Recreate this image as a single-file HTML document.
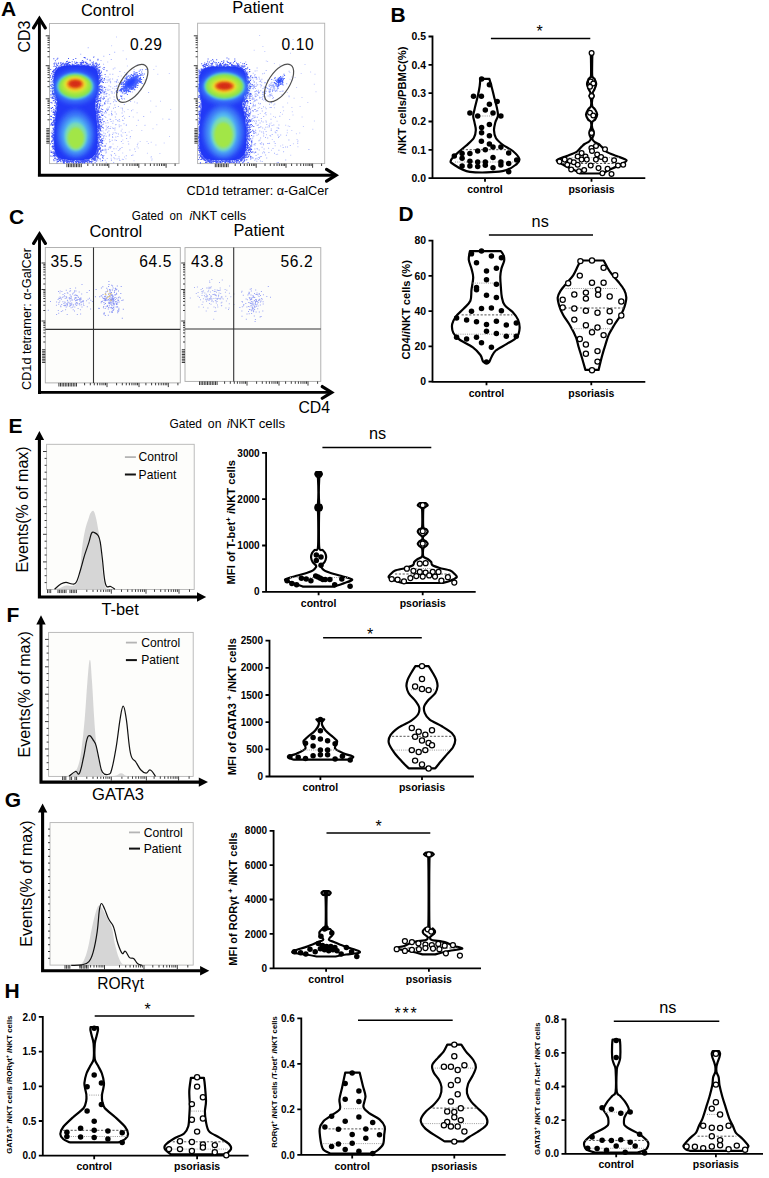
<!DOCTYPE html><html><head><meta charset="utf-8"><style>
html,body{margin:0;padding:0;background:#fff;}
svg{display:block;}
text{font-family:"Liberation Sans", sans-serif;}
</style></head><body>
<svg width="769" height="1178" viewBox="0 0 769 1178">
<rect width="769" height="1178" fill="#fff"/>
<defs><filter id="ba1" x="-30%" y="-30%" width="160%" height="160%"><feGaussianBlur stdDeviation="1.3"/></filter><filter id="ca1" x="-30%" y="-30%" width="160%" height="160%"><feGaussianBlur stdDeviation="2.6"/></filter><filter id="ba2" x="-30%" y="-30%" width="160%" height="160%"><feGaussianBlur stdDeviation="1.3"/></filter><filter id="ca2" x="-30%" y="-30%" width="160%" height="160%"><feGaussianBlur stdDeviation="2.6"/></filter></defs>
<text x="0.9" y="16.4" font-size="21" font-weight="bold" fill="#000">A</text>
<text x="107.5" y="15.6" font-size="16.5" text-anchor="middle" fill="#000">Control</text>
<text x="257.9" y="12.8" font-size="16.5" text-anchor="middle" fill="#000">Patient</text>
<text x="30.3" y="36.5" font-size="16" text-anchor="middle" transform="rotate(-90 30.3 36.5)" fill="#000">CD3</text>
<rect x="49.5" y="23.5" width="129.5" height="140.1" fill="#fff" stroke="#b0b0b0" stroke-width="0.9"/>
<path d="M66.9,163.6 v3.6 M68.5,163.6 v3.6 M70.1,163.6 v3.6 M71.7,163.6 v3.6 M73.3,163.6 v3.6 M74.9,163.6 v3.6 M76.5,163.6 v3.6 M78.1,163.6 v3.6 M79.7,163.6 v3.6 M81.3,163.6 v3.6 M108.8,163.6 v4.2 M87.8,163.6 v2.4 M93.1,163.6 v2.4 M96.9,163.6 v2.4 M99.8,163.6 v2.4 M102.1,163.6 v2.4 M104.2,163.6 v2.4 M105.9,163.6 v2.4 M107.4,163.6 v2.4 M138.8,163.6 v4.2 M117.8,163.6 v2.4 M123.1,163.6 v2.4 M126.9,163.6 v2.4 M129.8,163.6 v2.4 M132.1,163.6 v2.4 M134.2,163.6 v2.4 M135.9,163.6 v2.4 M137.4,163.6 v2.4 M166.1,163.6 v4.2 M145.1,163.6 v2.4 M150.4,163.6 v2.4 M154.2,163.6 v2.4 M157.1,163.6 v2.4 M159.4,163.6 v2.4 M161.5,163.6 v2.4 M163.2,163.6 v2.4 M164.7,163.6 v2.4 M175.1,163.6 v2.4 M49.5,128.7 h-3.2 M49.5,130.3 h-3.2 M49.5,131.9 h-3.2 M49.5,133.5 h-3.2 M49.5,135.1 h-3.2 M49.5,136.7 h-3.2 M49.5,138.3 h-3.2 M49.5,139.9 h-3.2 M49.5,141.5 h-3.2 M49.5,143.1 h-3.2 M49.5,35.8 h-3.8 M49.5,56.8 h-2 M49.5,51.5 h-2 M49.5,47.7 h-2 M49.5,44.8 h-2 M49.5,42.5 h-2 M49.5,40.4 h-2 M49.5,38.7 h-2 M49.5,37.2 h-2 M49.5,65.7 h-3.8 M49.5,86.7 h-2 M49.5,81.4 h-2 M49.5,77.6 h-2 M49.5,74.7 h-2 M49.5,72.4 h-2 M49.5,70.3 h-2 M49.5,68.6 h-2 M49.5,67.1 h-2 M49.5,98.8 h-3.8 M49.5,119.8 h-2 M49.5,114.5 h-2 M49.5,110.7 h-2 M49.5,107.8 h-2 M49.5,105.5 h-2 M49.5,103.4 h-2 M49.5,101.7 h-2 M49.5,100.2 h-2 " stroke="#1a1a1a" stroke-width="0.85" fill="none"/>
<path d="M122.1,119.7h1.0v1.0h-1.0zM92.3,142.4h1.0v1.0h-1.0zM77.5,131.9h1.0v1.0h-1.0zM91.7,86.2h1.0v1.0h-1.0zM110,147.4h1.0v1.0h-1.0zM80.4,127.3h1.0v1.0h-1.0zM100.8,125h1.0v1.0h-1.0zM87.3,94h1.0v1.0h-1.0zM101.7,135h1.0v1.0h-1.0zM96.6,92.1h1.0v1.0h-1.0zM121.4,135.8h1.0v1.0h-1.0zM90.9,94.1h1.0v1.0h-1.0zM84.4,72.3h1.0v1.0h-1.0zM110.6,121h1.0v1.0h-1.0zM78.3,159.7h1.0v1.0h-1.0zM62,145.7h1.0v1.0h-1.0zM54.5,114.6h1.0v1.0h-1.0zM123.5,123.2h1.0v1.0h-1.0zM106.8,127.1h1.0v1.0h-1.0zM101.9,112.2h1.0v1.0h-1.0zM60.9,84.9h1.0v1.0h-1.0zM96.5,118.2h1.0v1.0h-1.0zM126.1,138h1.0v1.0h-1.0zM93.5,138.4h1.0v1.0h-1.0zM89.3,123.8h1.0v1.0h-1.0zM65.9,144.8h1.0v1.0h-1.0zM85.1,82.2h1.0v1.0h-1.0zM84.8,108.7h1.0v1.0h-1.0zM70.2,104.5h1.0v1.0h-1.0zM86.3,101.1h1.0v1.0h-1.0zM118.7,124.5h1.0v1.0h-1.0zM118.8,126.3h1.0v1.0h-1.0zM97.7,150.9h1.0v1.0h-1.0zM88.2,85.6h1.0v1.0h-1.0zM103.5,155.1h1.0v1.0h-1.0zM99.2,107.8h1.0v1.0h-1.0zM88.2,116.4h1.0v1.0h-1.0zM119.2,149.2h1.0v1.0h-1.0zM101.6,149.4h1.0v1.0h-1.0zM91.5,129.8h1.0v1.0h-1.0zM79.6,130.3h1.0v1.0h-1.0zM132.4,154.4h1.0v1.0h-1.0zM85.5,119.5h1.0v1.0h-1.0zM76.1,141.5h1.0v1.0h-1.0zM98.7,94.3h1.0v1.0h-1.0zM100.5,117h1.0v1.0h-1.0zM117.4,135.9h1.0v1.0h-1.0zM122.6,119.9h1.0v1.0h-1.0zM86.5,139.6h1.0v1.0h-1.0zM110.7,146.5h1.0v1.0h-1.0zM69.5,136.6h1.0v1.0h-1.0zM92.1,120.6h1.0v1.0h-1.0zM84.7,109.8h1.0v1.0h-1.0zM103.2,135.2h1.0v1.0h-1.0zM90.3,152.1h1.0v1.0h-1.0zM100.5,141.2h1.0v1.0h-1.0zM109.1,139.2h1.0v1.0h-1.0zM80.6,122.4h1.0v1.0h-1.0zM82.3,137.3h1.0v1.0h-1.0zM72.3,84.2h1.0v1.0h-1.0zM93.3,97.1h1.0v1.0h-1.0zM56.6,141.5h1.0v1.0h-1.0zM78.9,144.7h1.0v1.0h-1.0zM82.1,102.6h1.0v1.0h-1.0zM69.3,118.4h1.0v1.0h-1.0zM86.8,110.4h1.0v1.0h-1.0zM86.6,91.9h1.0v1.0h-1.0zM92,85.2h1.0v1.0h-1.0zM88.2,149.9h1.0v1.0h-1.0zM63.7,151.5h1.0v1.0h-1.0zM113.4,157.3h1.0v1.0h-1.0zM75,142.5h1.0v1.0h-1.0zM125.2,92.9h1.0v1.0h-1.0zM100.3,160.7h1.0v1.0h-1.0zM79.2,147h1.0v1.0h-1.0zM72.4,110.7h1.0v1.0h-1.0zM77,136.8h1.0v1.0h-1.0zM90.1,156.6h1.0v1.0h-1.0zM74.8,128.4h1.0v1.0h-1.0zM109,146.4h1.0v1.0h-1.0zM67.9,149.1h1.0v1.0h-1.0zM83.1,141.8h1.0v1.0h-1.0zM93.8,83.6h1.0v1.0h-1.0zM67,150.8h1.0v1.0h-1.0zM87.1,161.4h1.0v1.0h-1.0zM96.6,112.3h1.0v1.0h-1.0zM111.2,110.8h1.0v1.0h-1.0zM57.3,148.3h1.0v1.0h-1.0zM108.6,135.6h1.0v1.0h-1.0zM61.4,158.2h1.0v1.0h-1.0zM65.8,96.9h1.0v1.0h-1.0zM85.2,152.3h1.0v1.0h-1.0zM97.1,152.9h1.0v1.0h-1.0zM83.7,127.3h1.0v1.0h-1.0zM71.2,123.6h1.0v1.0h-1.0zM102.4,124h1.0v1.0h-1.0zM100.3,116.9h1.0v1.0h-1.0zM81,132.8h1.0v1.0h-1.0zM88.2,147.2h1.0v1.0h-1.0zM87.7,125.9h1.0v1.0h-1.0zM73,132.4h1.0v1.0h-1.0zM104,112.6h1.0v1.0h-1.0zM90.8,150.5h1.0v1.0h-1.0zM89.4,118.3h1.0v1.0h-1.0zM109.2,134.3h1.0v1.0h-1.0zM112.3,122.8h1.0v1.0h-1.0zM82.2,139.2h1.0v1.0h-1.0zM89.3,82.4h1.0v1.0h-1.0zM114.7,132.3h1.0v1.0h-1.0zM105,101.3h1.0v1.0h-1.0zM114.9,116.5h1.0v1.0h-1.0zM89.8,95.4h1.0v1.0h-1.0zM88.7,125.8h1.0v1.0h-1.0zM88.4,143.2h1.0v1.0h-1.0zM92.8,157.2h1.0v1.0h-1.0zM83.3,105.9h1.0v1.0h-1.0zM91.4,148.1h1.0v1.0h-1.0zM114.1,153h1.0v1.0h-1.0zM59.9,141.6h1.0v1.0h-1.0zM118,133.4h1.0v1.0h-1.0zM82.4,139.8h1.0v1.0h-1.0zM82.6,148.4h1.0v1.0h-1.0zM100.7,113h1.0v1.0h-1.0zM102.6,156.1h1.0v1.0h-1.0zM81.5,120.7h1.0v1.0h-1.0zM81.1,76.6h1.0v1.0h-1.0zM59.9,126h1.0v1.0h-1.0zM105.4,129.5h1.0v1.0h-1.0zM100.2,103.2h1.0v1.0h-1.0zM67.6,154.8h1.0v1.0h-1.0zM100.6,131h1.0v1.0h-1.0zM114.8,107.1h1.0v1.0h-1.0zM84.1,158.5h1.0v1.0h-1.0zM124.8,132h1.0v1.0h-1.0zM121.9,116.1h1.0v1.0h-1.0zM97.6,127.3h1.0v1.0h-1.0zM63.1,138.5h1.0v1.0h-1.0zM108.5,127.9h1.0v1.0h-1.0zM69.2,92.9h1.0v1.0h-1.0zM79.9,100.7h1.0v1.0h-1.0zM115.9,139.9h1.0v1.0h-1.0zM76.1,115.8h1.0v1.0h-1.0zM143.2,115.9h1.0v1.0h-1.0zM78,139.7h1.0v1.0h-1.0zM103.2,137.6h1.0v1.0h-1.0zM75.3,101.7h1.0v1.0h-1.0zM102.4,130.4h1.0v1.0h-1.0zM105.7,125.5h1.0v1.0h-1.0zM87,137.8h1.0v1.0h-1.0zM79.3,96.7h1.0v1.0h-1.0zM97.5,94.4h1.0v1.0h-1.0zM98.7,94.3h1.0v1.0h-1.0zM89.9,128.3h1.0v1.0h-1.0zM123.8,104.1h1.0v1.0h-1.0zM66.2,115h1.0v1.0h-1.0zM71.5,116.5h1.0v1.0h-1.0zM99.3,151.9h1.0v1.0h-1.0zM121.6,112.6h1.0v1.0h-1.0zM88,72.2h1.0v1.0h-1.0zM90.2,133.7h1.0v1.0h-1.0zM88.1,111.4h1.0v1.0h-1.0zM103,157.9h1.0v1.0h-1.0zM82.9,137.8h1.0v1.0h-1.0zM79.9,111.3h1.0v1.0h-1.0zM93.1,145.4h1.0v1.0h-1.0zM81.6,74.2h1.0v1.0h-1.0zM102.2,90.3h1.0v1.0h-1.0zM91.4,100.9h1.0v1.0h-1.0zM91.4,145.8h1.0v1.0h-1.0zM108.4,130.5h1.0v1.0h-1.0zM86.1,107.2h1.0v1.0h-1.0zM90.4,127.2h1.0v1.0h-1.0zM99,128.5h1.0v1.0h-1.0zM94.6,152.3h1.0v1.0h-1.0zM75.8,124.3h1.0v1.0h-1.0zM62.8,157.1h1.0v1.0h-1.0zM92.4,144.5h1.0v1.0h-1.0zM119.5,159.9h1.0v1.0h-1.0zM90.6,152.3h1.0v1.0h-1.0zM65.9,143.1h1.0v1.0h-1.0zM94.2,89.7h1.0v1.0h-1.0zM115.8,113.5h1.0v1.0h-1.0zM104,120.9h1.0v1.0h-1.0zM76.8,92h1.0v1.0h-1.0zM89.3,153.9h1.0v1.0h-1.0zM85,115.8h1.0v1.0h-1.0zM100.5,60h1.0v1.0h-1.0zM79.7,95.8h1.0v1.0h-1.0zM97,112.7h1.0v1.0h-1.0zM71.6,122.6h1.0v1.0h-1.0zM65.3,131.5h1.0v1.0h-1.0zM79.4,122h1.0v1.0h-1.0zM78.8,155.5h1.0v1.0h-1.0zM89.7,145.4h1.0v1.0h-1.0zM100.3,110.8h1.0v1.0h-1.0zM102,140.9h1.0v1.0h-1.0zM97.3,121.4h1.0v1.0h-1.0zM84,152.2h1.0v1.0h-1.0zM131,110.2h1.0v1.0h-1.0zM101.3,122.3h1.0v1.0h-1.0zM105.8,143.2h1.0v1.0h-1.0zM110.8,59.1h1.0v1.0h-1.0zM80.9,106.1h1.0v1.0h-1.0zM89.8,113h1.0v1.0h-1.0zM80.2,149.5h1.0v1.0h-1.0zM125.9,58.4h1.0v1.0h-1.0zM86.1,139.9h1.0v1.0h-1.0zM91.8,122.8h1.0v1.0h-1.0zM67.3,107.3h1.0v1.0h-1.0zM104.7,159.8h1.0v1.0h-1.0zM93.4,110.1h1.0v1.0h-1.0zM93.4,125.6h1.0v1.0h-1.0zM101.5,134.9h1.0v1.0h-1.0zM80.5,136.8h1.0v1.0h-1.0zM70.5,153.1h1.0v1.0h-1.0zM113,101.2h1.0v1.0h-1.0zM99.3,106h1.0v1.0h-1.0zM111,155.3h1.0v1.0h-1.0zM87.6,157.7h1.0v1.0h-1.0zM83.9,115.1h1.0v1.0h-1.0zM81.5,128.1h1.0v1.0h-1.0zM85.9,135.8h1.0v1.0h-1.0zM80.6,151.7h1.0v1.0h-1.0zM110.1,118.9h1.0v1.0h-1.0zM66,150.6h1.0v1.0h-1.0zM112.2,127.6h1.0v1.0h-1.0zM68.5,138.7h1.0v1.0h-1.0zM119.1,83h1.0v1.0h-1.0zM100.3,123.6h1.0v1.0h-1.0zM76.3,144.8h1.0v1.0h-1.0zM68.3,139.5h1.0v1.0h-1.0zM115.3,136.4h1.0v1.0h-1.0zM75.9,85.5h1.0v1.0h-1.0zM68.6,83.9h1.0v1.0h-1.0zM120.5,125.3h1.0v1.0h-1.0zM72.9,98h1.0v1.0h-1.0zM72.5,123.1h1.0v1.0h-1.0zM78.2,111.5h1.0v1.0h-1.0zM115.5,119.1h1.0v1.0h-1.0zM96.3,135.7h1.0v1.0h-1.0zM101.2,138.4h1.0v1.0h-1.0zM74.7,99h1.0v1.0h-1.0zM94.9,101h1.0v1.0h-1.0zM116.2,132.8h1.0v1.0h-1.0zM73.2,123.4h1.0v1.0h-1.0zM82.6,128.4h1.0v1.0h-1.0zM108.7,94.2h1.0v1.0h-1.0zM58.1,140.6h1.0v1.0h-1.0zM88.5,136h1.0v1.0h-1.0zM99.7,127.1h1.0v1.0h-1.0zM106.1,108.6h1.0v1.0h-1.0zM92.9,110.2h1.0v1.0h-1.0zM71.4,147.8h1.0v1.0h-1.0zM101.9,81.3h1.0v1.0h-1.0zM71.5,139.4h1.0v1.0h-1.0zM111,114.5h1.0v1.0h-1.0zM88.4,95.1h1.0v1.0h-1.0zM136.9,144.2h1.0v1.0h-1.0zM107.8,148.9h1.0v1.0h-1.0zM108.5,147.6h1.0v1.0h-1.0zM85.7,151.1h1.0v1.0h-1.0zM78.5,117.7h1.0v1.0h-1.0zM94.3,113.3h1.0v1.0h-1.0zM89.6,118.8h1.0v1.0h-1.0zM125.8,155.2h1.0v1.0h-1.0zM114.5,139.6h1.0v1.0h-1.0zM121.5,146.9h1.0v1.0h-1.0zM91.3,159.9h1.0v1.0h-1.0zM85,151.7h1.0v1.0h-1.0zM78.9,106.6h1.0v1.0h-1.0zM101.9,140.6h1.0v1.0h-1.0zM126,124.5h1.0v1.0h-1.0zM92.1,102.2h1.0v1.0h-1.0zM58.1,85.5h1.0v1.0h-1.0zM100,101.2h1.0v1.0h-1.0zM95.8,161h1.0v1.0h-1.0zM87.6,156.7h1.0v1.0h-1.0zM74.7,148h1.0v1.0h-1.0zM83.4,128.4h1.0v1.0h-1.0zM103.1,136.3h1.0v1.0h-1.0zM90.4,150.7h1.0v1.0h-1.0zM106.2,95.8h1.0v1.0h-1.0zM101.8,149.2h1.0v1.0h-1.0zM78.2,141.8h1.0v1.0h-1.0zM87.4,129.8h1.0v1.0h-1.0zM113.3,128.1h1.0v1.0h-1.0zM102.5,104.6h1.0v1.0h-1.0zM81.4,95.6h1.0v1.0h-1.0zM88,158.6h1.0v1.0h-1.0zM95.7,154.8h1.0v1.0h-1.0zM73.2,108.8h1.0v1.0h-1.0zM83.3,146.7h1.0v1.0h-1.0zM98.1,131.4h1.0v1.0h-1.0zM102.9,127.9h1.0v1.0h-1.0zM81.1,136.5h1.0v1.0h-1.0zM120.7,134.4h1.0v1.0h-1.0zM104.4,116h1.0v1.0h-1.0zM126.9,73.3h1.0v1.0h-1.0zM71.3,104.4h1.0v1.0h-1.0zM120.9,141h1.0v1.0h-1.0zM87,98.5h1.0v1.0h-1.0zM98.3,134.8h1.0v1.0h-1.0zM79.2,93h1.0v1.0h-1.0zM71.9,137.3h1.0v1.0h-1.0zM97.3,133.7h1.0v1.0h-1.0zM89,85.8h1.0v1.0h-1.0zM92.6,105h1.0v1.0h-1.0zM92.5,143.9h1.0v1.0h-1.0zM79.5,105.2h1.0v1.0h-1.0zM109.6,140.9h1.0v1.0h-1.0zM80.2,53.8h1.0v1.0h-1.0zM90.8,148.2h1.0v1.0h-1.0zM111.9,114.2h1.0v1.0h-1.0zM80.1,120.3h1.0v1.0h-1.0zM106.8,101.3h1.0v1.0h-1.0zM89.7,107.7h1.0v1.0h-1.0zM96.5,91.4h1.0v1.0h-1.0zM98.5,118.9h1.0v1.0h-1.0zM87.7,145.5h1.0v1.0h-1.0zM112.3,87.7h1.0v1.0h-1.0zM109.8,146.3h1.0v1.0h-1.0zM81,109.3h1.0v1.0h-1.0zM103.1,155h1.0v1.0h-1.0zM83.2,97.3h1.0v1.0h-1.0zM58.2,118.9h1.0v1.0h-1.0zM57.2,134.6h1.0v1.0h-1.0zM107.4,99.5h1.0v1.0h-1.0zM90.1,99.6h1.0v1.0h-1.0zM68,79.4h1.0v1.0h-1.0zM105.6,112.4h1.0v1.0h-1.0zM110.6,154.3h1.0v1.0h-1.0zM79.8,118.1h1.0v1.0h-1.0zM105.7,135.7h1.0v1.0h-1.0zM96.5,89h1.0v1.0h-1.0zM107.9,109h1.0v1.0h-1.0zM50.8,115.8h1.0v1.0h-1.0zM85,97.2h1.0v1.0h-1.0zM129.9,136h1.0v1.0h-1.0zM87,103.8h1.0v1.0h-1.0zM86.8,117.8h1.0v1.0h-1.0zM81.1,148.1h1.0v1.0h-1.0zM96.5,138h1.0v1.0h-1.0zM75.9,148.9h1.0v1.0h-1.0zM120.7,130.4h1.0v1.0h-1.0zM75.1,98.2h1.0v1.0h-1.0zM95.1,124.7h1.0v1.0h-1.0zM89.8,132.1h1.0v1.0h-1.0zM65.1,152.1h1.0v1.0h-1.0zM95.9,129.9h1.0v1.0h-1.0zM95.9,155.9h1.0v1.0h-1.0zM92.7,109.7h1.0v1.0h-1.0zM112.7,120.5h1.0v1.0h-1.0zM78.6,91.2h1.0v1.0h-1.0zM91.8,104.6h1.0v1.0h-1.0zM82.4,143.5h1.0v1.0h-1.0zM92.3,158.2h1.0v1.0h-1.0zM97.2,121.3h1.0v1.0h-1.0zM85.8,118.6h1.0v1.0h-1.0zM103.3,132.4h1.0v1.0h-1.0zM84.3,153.8h1.0v1.0h-1.0zM93.4,119.7h1.0v1.0h-1.0zM64.5,143.2h1.0v1.0h-1.0zM96,133.1h1.0v1.0h-1.0zM83.9,110.1h1.0v1.0h-1.0zM87.6,137.8h1.0v1.0h-1.0zM89.4,128h1.0v1.0h-1.0zM83.3,140.6h1.0v1.0h-1.0zM95.9,112.2h1.0v1.0h-1.0zM105.4,152.4h1.0v1.0h-1.0zM106.3,128.4h1.0v1.0h-1.0zM88.2,101.7h1.0v1.0h-1.0zM105.3,76.3h1.0v1.0h-1.0zM84.7,123h1.0v1.0h-1.0zM107.1,131.8h1.0v1.0h-1.0zM74.3,94.7h1.0v1.0h-1.0zM78.6,134.6h1.0v1.0h-1.0zM92.7,126.7h1.0v1.0h-1.0zM79.4,126.3h1.0v1.0h-1.0zM109.7,103.2h1.0v1.0h-1.0zM101.7,119.9h1.0v1.0h-1.0zM103.6,112.2h1.0v1.0h-1.0zM125.8,87.4h1.0v1.0h-1.0zM81.9,138.5h1.0v1.0h-1.0zM118.8,119h1.0v1.0h-1.0zM99.8,130.3h1.0v1.0h-1.0zM57,140.8h1.0v1.0h-1.0zM88.4,155.9h1.0v1.0h-1.0zM129.4,149.6h1.0v1.0h-1.0zM85.1,143.5h1.0v1.0h-1.0zM95.3,158.4h1.0v1.0h-1.0zM65.8,101.5h1.0v1.0h-1.0zM54.9,147.6h1.0v1.0h-1.0zM91.4,115.2h1.0v1.0h-1.0zM78.6,116.9h1.0v1.0h-1.0zM75,123.4h1.0v1.0h-1.0zM97.5,110.5h1.0v1.0h-1.0zM99.8,139.5h1.0v1.0h-1.0zM69.8,112.4h1.0v1.0h-1.0zM60.4,144.7h1.0v1.0h-1.0zM84.9,114.3h1.0v1.0h-1.0zM78,149.8h1.0v1.0h-1.0zM89.1,118h1.0v1.0h-1.0zM114.3,104.6h1.0v1.0h-1.0zM85.1,117.7h1.0v1.0h-1.0zM78.6,128.2h1.0v1.0h-1.0zM105.8,151.4h1.0v1.0h-1.0zM101.5,124.6h1.0v1.0h-1.0zM64.9,139.2h1.0v1.0h-1.0zM119,159.6h1.0v1.0h-1.0zM88.7,152.7h1.0v1.0h-1.0zM84.8,130.4h1.0v1.0h-1.0zM69.5,123.6h1.0v1.0h-1.0zM94.2,127.4h1.0v1.0h-1.0zM115.5,123.9h1.0v1.0h-1.0zM78.5,114.8h1.0v1.0h-1.0zM74.1,132.7h1.0v1.0h-1.0zM99.3,136.6h1.0v1.0h-1.0zM95.2,135.9h1.0v1.0h-1.0zM89.3,112.5h1.0v1.0h-1.0zM122.7,159h1.0v1.0h-1.0zM75.4,108.3h1.0v1.0h-1.0zM81.1,132.7h1.0v1.0h-1.0zM114.4,158.2h1.0v1.0h-1.0zM110.9,160.1h1.0v1.0h-1.0zM111.6,151h1.0v1.0h-1.0zM99.9,128.7h1.0v1.0h-1.0zM60.3,128.4h1.0v1.0h-1.0zM124.1,117.8h1.0v1.0h-1.0zM80.4,158.3h1.0v1.0h-1.0zM93.2,119.3h1.0v1.0h-1.0zM119.7,148h1.0v1.0h-1.0zM105.3,117.1h1.0v1.0h-1.0zM100.6,141.6h1.0v1.0h-1.0zM105.7,161.7h1.0v1.0h-1.0zM112,136.2h1.0v1.0h-1.0zM104.1,102h1.0v1.0h-1.0zM103.3,149.6h1.0v1.0h-1.0zM84.7,111.7h1.0v1.0h-1.0zM90.6,100.3h1.0v1.0h-1.0zM97.8,139.5h1.0v1.0h-1.0zM74.6,133h1.0v1.0h-1.0zM110.9,159.4h1.0v1.0h-1.0zM109.9,127.9h1.0v1.0h-1.0zM85.6,121.6h1.0v1.0h-1.0zM116,89.9h1.0v1.0h-1.0zM88.1,120.6h1.0v1.0h-1.0zM79.7,132.8h1.0v1.0h-1.0zM101.7,119.1h1.0v1.0h-1.0zM80.4,114.2h1.0v1.0h-1.0zM107.6,108.2h1.0v1.0h-1.0zM112.1,134.1h1.0v1.0h-1.0zM79.7,110.6h1.0v1.0h-1.0zM99.4,105h1.0v1.0h-1.0zM78.6,128.8h1.0v1.0h-1.0zM94.5,99.5h1.0v1.0h-1.0zM84.8,146.9h1.0v1.0h-1.0zM115.9,80.9h1.0v1.0h-1.0zM115.2,154.7h1.0v1.0h-1.0zM72.2,93.7h1.0v1.0h-1.0zM99.2,120.9h1.0v1.0h-1.0zM94.1,154.1h1.0v1.0h-1.0zM85,136h1.0v1.0h-1.0zM100.2,154.8h1.0v1.0h-1.0zM96,125.7h1.0v1.0h-1.0zM134.2,148.4h1.0v1.0h-1.0zM99.4,103.3h1.0v1.0h-1.0zM105.7,111.7h1.0v1.0h-1.0zM83.5,97.3h1.0v1.0h-1.0zM82.4,133.4h1.0v1.0h-1.0zM64.8,108.7h1.0v1.0h-1.0zM90.3,99.1h1.0v1.0h-1.0zM69.3,110.3h1.0v1.0h-1.0zM66.5,147.7h1.0v1.0h-1.0zM73.9,151.7h1.0v1.0h-1.0zM108.3,100.8h1.0v1.0h-1.0zM92.4,119.4h1.0v1.0h-1.0zM71.3,123.1h1.0v1.0h-1.0zM87.4,150.2h1.0v1.0h-1.0zM110.1,103.3h1.0v1.0h-1.0zM84.4,145.5h1.0v1.0h-1.0zM112.8,68.5h1.0v1.0h-1.0zM114.6,127.4h1.0v1.0h-1.0zM119.2,120.8h1.0v1.0h-1.0zM76.8,133h1.0v1.0h-1.0zM112.7,132.6h1.0v1.0h-1.0zM62.8,106.4h1.0v1.0h-1.0zM70.8,84.1h1.0v1.0h-1.0zM69.2,106.2h1.0v1.0h-1.0zM80.7,130.4h1.0v1.0h-1.0zM85.7,93.3h1.0v1.0h-1.0zM88.4,157.1h1.0v1.0h-1.0zM108.8,135.3h1.0v1.0h-1.0zM102.8,155h1.0v1.0h-1.0zM85.9,124.7h1.0v1.0h-1.0zM119.4,70.9h1.0v1.0h-1.0zM87.7,47.2h1.0v1.0h-1.0zM104.8,133.2h1.0v1.0h-1.0zM92.6,128.2h1.0v1.0h-1.0zM115.2,124.2h1.0v1.0h-1.0zM110.3,146.2h1.0v1.0h-1.0zM98.1,143.8h1.0v1.0h-1.0zM93.7,103.4h1.0v1.0h-1.0zM104.6,150.3h1.0v1.0h-1.0zM89.1,150.8h1.0v1.0h-1.0zM107.9,98.5h1.0v1.0h-1.0zM89.1,120.3h1.0v1.0h-1.0zM75.4,140.2h1.0v1.0h-1.0zM76.5,120.5h1.0v1.0h-1.0zM96.1,140.9h1.0v1.0h-1.0zM82.6,138.3h1.0v1.0h-1.0zM70,144.3h1.0v1.0h-1.0zM80.3,124.5h1.0v1.0h-1.0zM114.4,129.4h1.0v1.0h-1.0zM109,106.5h1.0v1.0h-1.0zM116.6,158.5h1.0v1.0h-1.0zM100.1,111h1.0v1.0h-1.0zM88.8,135.7h1.0v1.0h-1.0zM96.4,129.1h1.0v1.0h-1.0zM87.8,136.8h1.0v1.0h-1.0zM116.8,79.6h1.0v1.0h-1.0zM67,91.6h1.0v1.0h-1.0zM79.3,86.6h1.0v1.0h-1.0zM101.7,134.3h1.0v1.0h-1.0zM87.1,114.1h1.0v1.0h-1.0zM94.5,136.4h1.0v1.0h-1.0zM97.6,112.8h1.0v1.0h-1.0zM103.4,93.6h1.0v1.0h-1.0zM114.2,51.8h1.0v1.0h-1.0zM81,100.5h1.0v1.0h-1.0zM105.9,93.2h1.0v1.0h-1.0zM124.5,91.6h1.0v1.0h-1.0zM128.2,143.4h1.0v1.0h-1.0zM92.3,143.1h1.0v1.0h-1.0zM131.2,155h1.0v1.0h-1.0zM95.9,89.8h1.0v1.0h-1.0zM105.4,100.3h1.0v1.0h-1.0zM95,137.9h1.0v1.0h-1.0zM80,148.6h1.0v1.0h-1.0zM73.3,136.8h1.0v1.0h-1.0zM81.8,127.1h1.0v1.0h-1.0zM126.3,134.7h1.0v1.0h-1.0zM72.1,128.8h1.0v1.0h-1.0zM77.9,132.5h1.0v1.0h-1.0zM94.6,134h1.0v1.0h-1.0zM93.2,117.6h1.0v1.0h-1.0zM99.8,159.3h1.0v1.0h-1.0zM80.5,130.3h1.0v1.0h-1.0zM111.1,112.8h1.0v1.0h-1.0zM93,93h1.0v1.0h-1.0zM74.3,132.2h1.0v1.0h-1.0zM103,156.6h1.0v1.0h-1.0zM86.1,96.6h1.0v1.0h-1.0zM98.8,127.3h1.0v1.0h-1.0zM99.3,136h1.0v1.0h-1.0zM104.6,148.8h1.0v1.0h-1.0zM106.9,119.9h1.0v1.0h-1.0zM109.6,118.7h1.0v1.0h-1.0zM98.1,101.5h1.0v1.0h-1.0zM118.5,157.8h1.0v1.0h-1.0zM112.2,136.9h1.0v1.0h-1.0zM97.9,125.7h1.0v1.0h-1.0zM85.1,119.3h1.0v1.0h-1.0zM107.5,122.2h1.0v1.0h-1.0zM90.9,145.1h1.0v1.0h-1.0zM107.5,89.9h1.0v1.0h-1.0zM108,126.1h1.0v1.0h-1.0zM79.4,121.7h1.0v1.0h-1.0zM94.4,146.3h1.0v1.0h-1.0zM77,144.6h1.0v1.0h-1.0zM106.5,93.1h1.0v1.0h-1.0zM82.5,152.4h1.0v1.0h-1.0zM60,122.1h1.0v1.0h-1.0zM102.5,87.8h1.0v1.0h-1.0zM84.6,133.2h1.0v1.0h-1.0zM107.7,98.6h1.0v1.0h-1.0zM111.7,139.7h1.0v1.0h-1.0zM113.2,162h1.0v1.0h-1.0zM97.8,144.4h1.0v1.0h-1.0zM60.4,96.7h1.0v1.0h-1.0zM73.6,122.8h1.0v1.0h-1.0zM108.5,85.4h1.0v1.0h-1.0zM85.9,97.4h1.0v1.0h-1.0zM113,107.8h1.0v1.0h-1.0zM84.4,102h1.0v1.0h-1.0zM104.1,135.3h1.0v1.0h-1.0zM79.6,122.8h1.0v1.0h-1.0zM94.6,133.7h1.0v1.0h-1.0zM105.3,122.6h1.0v1.0h-1.0zM85.5,147.4h1.0v1.0h-1.0zM97.3,160.3h1.0v1.0h-1.0zM87.2,129.2h1.0v1.0h-1.0zM66.6,137.1h1.0v1.0h-1.0zM75.6,140.6h1.0v1.0h-1.0zM105.1,89.2h1.0v1.0h-1.0zM87.9,86.1h1.0v1.0h-1.0zM117,120.3h1.0v1.0h-1.0zM63.3,113.5h1.0v1.0h-1.0zM114.6,111.4h1.0v1.0h-1.0zM78.5,123.1h1.0v1.0h-1.0zM74.5,101.5h1.0v1.0h-1.0zM113.4,148.2h1.0v1.0h-1.0zM99.8,146.9h1.0v1.0h-1.0zM91.6,122.9h1.0v1.0h-1.0zM73.3,159.9h1.0v1.0h-1.0zM82.4,92.9h1.0v1.0h-1.0zM86.9,132.4h1.0v1.0h-1.0zM106.7,157.9h1.0v1.0h-1.0zM78.5,111h1.0v1.0h-1.0zM85.8,100.3h1.0v1.0h-1.0zM89.7,143.8h1.0v1.0h-1.0zM92.5,89.9h1.0v1.0h-1.0zM73.5,151h1.0v1.0h-1.0zM103.1,123.4h1.0v1.0h-1.0zM73.8,137.3h1.0v1.0h-1.0zM75.7,127.2h1.0v1.0h-1.0zM93.6,113.2h1.0v1.0h-1.0zM87.6,123.8h1.0v1.0h-1.0zM69.5,126.8h1.0v1.0h-1.0zM80.2,84.4h1.0v1.0h-1.0zM85.6,124.4h1.0v1.0h-1.0zM80.8,78.2h1.0v1.0h-1.0zM105.7,149.6h1.0v1.0h-1.0zM103.4,140.2h1.0v1.0h-1.0zM69.1,135h1.0v1.0h-1.0zM82.3,149.2h1.0v1.0h-1.0zM63.8,101.1h1.0v1.0h-1.0zM82,150.1h1.0v1.0h-1.0z" fill="#3550ff" fill-opacity="0.45"/>
<path d="M103.4,92.3h1.0v1.0h-1.0zM69.7,102.4h1.0v1.0h-1.0zM82.7,108.2h1.0v1.0h-1.0zM121.8,98.7h1.0v1.0h-1.0zM109.5,73.7h1.0v1.0h-1.0zM131.8,91.4h1.0v1.0h-1.0zM109.7,78.5h1.0v1.0h-1.0zM94.8,74.6h1.0v1.0h-1.0zM92.3,89h1.0v1.0h-1.0zM99.3,105.6h1.0v1.0h-1.0zM102.4,91.7h1.0v1.0h-1.0zM96.2,112.9h1.0v1.0h-1.0zM87.6,103.1h1.0v1.0h-1.0zM68.2,78.3h1.0v1.0h-1.0zM101.4,86.9h1.0v1.0h-1.0zM137.8,119.8h1.0v1.0h-1.0zM74.4,76h1.0v1.0h-1.0zM93.7,109.7h1.0v1.0h-1.0zM111.6,92.7h1.0v1.0h-1.0zM75.9,78.7h1.0v1.0h-1.0zM58.1,70.4h1.0v1.0h-1.0zM101.7,98.3h1.0v1.0h-1.0zM77.5,90.1h1.0v1.0h-1.0zM118.5,90.8h1.0v1.0h-1.0zM91.5,96.2h1.0v1.0h-1.0zM103.2,89.8h1.0v1.0h-1.0zM88.3,83.8h1.0v1.0h-1.0zM97,82.3h1.0v1.0h-1.0zM114.4,99.6h1.0v1.0h-1.0zM111,113.2h1.0v1.0h-1.0zM117.9,105.9h1.0v1.0h-1.0zM101,86.5h1.0v1.0h-1.0zM128,80.8h1.0v1.0h-1.0zM87.1,78.4h1.0v1.0h-1.0zM98.8,93.9h1.0v1.0h-1.0zM110.2,86.2h1.0v1.0h-1.0zM71.5,92.7h1.0v1.0h-1.0zM109.4,89.2h1.0v1.0h-1.0zM93.9,95.6h1.0v1.0h-1.0zM115.8,88.1h1.0v1.0h-1.0zM75.9,82.1h1.0v1.0h-1.0zM93.4,67.2h1.0v1.0h-1.0zM106.5,79.6h1.0v1.0h-1.0zM102.9,91.2h1.0v1.0h-1.0zM91.4,108.4h1.0v1.0h-1.0zM87.9,80.8h1.0v1.0h-1.0zM99.8,98.9h1.0v1.0h-1.0zM95.7,77h1.0v1.0h-1.0zM105.4,96.1h1.0v1.0h-1.0zM124.8,86.2h1.0v1.0h-1.0zM98.7,82h1.0v1.0h-1.0zM74.9,89.7h1.0v1.0h-1.0zM107.6,76.6h1.0v1.0h-1.0zM86.3,74.7h1.0v1.0h-1.0zM114.5,81.2h1.0v1.0h-1.0zM103.8,78.4h1.0v1.0h-1.0zM96.8,81.3h1.0v1.0h-1.0zM62.8,89.7h1.0v1.0h-1.0zM103.1,63.8h1.0v1.0h-1.0zM93.3,83.6h1.0v1.0h-1.0zM80.6,85.8h1.0v1.0h-1.0zM68.5,91.8h1.0v1.0h-1.0zM112.3,73.7h1.0v1.0h-1.0zM94.8,105.9h1.0v1.0h-1.0zM97.4,82.6h1.0v1.0h-1.0zM83,90.9h1.0v1.0h-1.0zM93.8,96.4h1.0v1.0h-1.0zM74.4,101.7h1.0v1.0h-1.0zM90,96.5h1.0v1.0h-1.0zM85.6,73.2h1.0v1.0h-1.0zM87.8,77.3h1.0v1.0h-1.0zM90.5,96.6h1.0v1.0h-1.0zM110.8,91.2h1.0v1.0h-1.0zM88.1,83.4h1.0v1.0h-1.0zM104,102.4h1.0v1.0h-1.0zM91.2,87.3h1.0v1.0h-1.0zM85.2,91.3h1.0v1.0h-1.0zM109.1,53.9h1.0v1.0h-1.0zM99.3,82.2h1.0v1.0h-1.0zM63.1,92.6h1.0v1.0h-1.0zM94.4,93.2h1.0v1.0h-1.0zM76.6,114.4h1.0v1.0h-1.0zM97.2,84.7h1.0v1.0h-1.0zM117,96.6h1.0v1.0h-1.0zM107.4,102.8h1.0v1.0h-1.0zM66.7,108.8h1.0v1.0h-1.0zM90.8,92.2h1.0v1.0h-1.0zM108.6,80.3h1.0v1.0h-1.0zM100.2,98h1.0v1.0h-1.0zM95.1,94.7h1.0v1.0h-1.0zM73.2,74.5h1.0v1.0h-1.0zM79.6,93.3h1.0v1.0h-1.0zM148.1,92h1.0v1.0h-1.0zM93.6,88h1.0v1.0h-1.0zM109.5,97.4h1.0v1.0h-1.0zM79.6,101h1.0v1.0h-1.0zM95.4,98.6h1.0v1.0h-1.0zM67.7,70.1h1.0v1.0h-1.0zM104.1,67.2h1.0v1.0h-1.0zM101.2,92.9h1.0v1.0h-1.0zM97.7,93.1h1.0v1.0h-1.0zM99.4,94.2h1.0v1.0h-1.0zM90,88.5h1.0v1.0h-1.0zM136.7,102.4h1.0v1.0h-1.0zM104.3,93.5h1.0v1.0h-1.0zM85.5,91.5h1.0v1.0h-1.0zM92.2,100.2h1.0v1.0h-1.0zM82.9,60.4h1.0v1.0h-1.0zM87.9,97.2h1.0v1.0h-1.0zM130.1,101.1h1.0v1.0h-1.0zM82,86.2h1.0v1.0h-1.0zM82.4,86.6h1.0v1.0h-1.0zM83.1,69.1h1.0v1.0h-1.0zM101.9,91.1h1.0v1.0h-1.0zM93.3,93h1.0v1.0h-1.0zM124.2,90.2h1.0v1.0h-1.0zM90.4,99.2h1.0v1.0h-1.0zM72.7,97.8h1.0v1.0h-1.0zM84.9,79h1.0v1.0h-1.0zM97.2,108.9h1.0v1.0h-1.0zM85.3,100.2h1.0v1.0h-1.0zM101,72.1h1.0v1.0h-1.0zM108.5,78.9h1.0v1.0h-1.0zM75.1,79.3h1.0v1.0h-1.0zM85.5,95.9h1.0v1.0h-1.0zM85.5,106.7h1.0v1.0h-1.0zM98.8,80.2h1.0v1.0h-1.0zM84,91.5h1.0v1.0h-1.0zM67.3,62.7h1.0v1.0h-1.0zM83.3,96.4h1.0v1.0h-1.0zM98.2,89.1h1.0v1.0h-1.0zM92.7,62.7h1.0v1.0h-1.0zM91.1,67.5h1.0v1.0h-1.0zM107.4,88.7h1.0v1.0h-1.0zM94.4,93.6h1.0v1.0h-1.0zM100.2,91.6h1.0v1.0h-1.0zM100.6,81.7h1.0v1.0h-1.0zM77,92.9h1.0v1.0h-1.0zM115.9,100.9h1.0v1.0h-1.0zM92.7,96.1h1.0v1.0h-1.0zM89.5,93.4h1.0v1.0h-1.0zM87.2,90.5h1.0v1.0h-1.0zM123.7,98.1h1.0v1.0h-1.0zM116.7,79.5h1.0v1.0h-1.0zM86.1,88.3h1.0v1.0h-1.0zM103.5,86.3h1.0v1.0h-1.0zM109.9,82.2h1.0v1.0h-1.0zM114.7,100.4h1.0v1.0h-1.0zM80.1,95.8h1.0v1.0h-1.0zM92.6,101h1.0v1.0h-1.0zM88.2,92.5h1.0v1.0h-1.0zM103.3,55.8h1.0v1.0h-1.0zM69.4,90.3h1.0v1.0h-1.0zM93.9,101h1.0v1.0h-1.0zM98.9,73.5h1.0v1.0h-1.0zM100.3,79.8h1.0v1.0h-1.0zM92.5,82.7h1.0v1.0h-1.0zM100.6,71.7h1.0v1.0h-1.0zM80,62.1h1.0v1.0h-1.0zM125.7,76.8h1.0v1.0h-1.0zM83.6,74.9h1.0v1.0h-1.0zM86.7,83.5h1.0v1.0h-1.0zM104.3,90.9h1.0v1.0h-1.0zM100.3,81.7h1.0v1.0h-1.0zM94.7,103.4h1.0v1.0h-1.0zM95.4,92.5h1.0v1.0h-1.0zM67.3,95h1.0v1.0h-1.0zM99.3,104.3h1.0v1.0h-1.0zM57.2,89.1h1.0v1.0h-1.0zM93.9,89.7h1.0v1.0h-1.0zM86.8,91.2h1.0v1.0h-1.0zM105.3,89.2h1.0v1.0h-1.0zM91.4,86.1h1.0v1.0h-1.0zM90,89.1h1.0v1.0h-1.0zM85.4,64.7h1.0v1.0h-1.0zM114.4,67.5h1.0v1.0h-1.0zM93.7,72.9h1.0v1.0h-1.0zM91.3,76.9h1.0v1.0h-1.0zM94.7,78.4h1.0v1.0h-1.0zM77.1,92.2h1.0v1.0h-1.0zM114,92.6h1.0v1.0h-1.0zM96.8,75.8h1.0v1.0h-1.0zM94.1,93.7h1.0v1.0h-1.0zM86.1,99.2h1.0v1.0h-1.0zM94.6,92.6h1.0v1.0h-1.0zM88.2,82.4h1.0v1.0h-1.0zM98.2,92.9h1.0v1.0h-1.0zM100,76.1h1.0v1.0h-1.0zM84.8,88h1.0v1.0h-1.0zM69.1,100.8h1.0v1.0h-1.0zM99.5,88.7h1.0v1.0h-1.0zM85,98.1h1.0v1.0h-1.0zM91.2,111h1.0v1.0h-1.0zM100.5,70.3h1.0v1.0h-1.0zM105.2,81.9h1.0v1.0h-1.0zM87.7,85.3h1.0v1.0h-1.0zM93.1,91.2h1.0v1.0h-1.0zM105.6,93.6h1.0v1.0h-1.0zM84.8,71.9h1.0v1.0h-1.0zM83.6,92.5h1.0v1.0h-1.0zM107.1,109.7h1.0v1.0h-1.0zM76.1,89.1h1.0v1.0h-1.0zM91.7,83.3h1.0v1.0h-1.0zM96.8,85.1h1.0v1.0h-1.0zM91.2,80.3h1.0v1.0h-1.0zM100.4,100.8h1.0v1.0h-1.0zM117.7,81.8h1.0v1.0h-1.0zM80.1,84.9h1.0v1.0h-1.0zM83.2,100.4h1.0v1.0h-1.0zM83.4,89h1.0v1.0h-1.0zM76.1,83.9h1.0v1.0h-1.0zM97.5,106.4h1.0v1.0h-1.0zM85.2,92.5h1.0v1.0h-1.0zM65.8,73.6h1.0v1.0h-1.0zM83.5,82.1h1.0v1.0h-1.0zM100.9,95.6h1.0v1.0h-1.0zM72.3,94.4h1.0v1.0h-1.0zM79.2,110.1h1.0v1.0h-1.0zM99.2,89.9h1.0v1.0h-1.0zM92.3,87.6h1.0v1.0h-1.0zM94.8,79.7h1.0v1.0h-1.0zM105.3,91.3h1.0v1.0h-1.0zM105.3,87.3h1.0v1.0h-1.0zM104.3,78.9h1.0v1.0h-1.0zM144.7,79.5h1.0v1.0h-1.0zM88.6,99.6h1.0v1.0h-1.0zM112.1,78.5h1.0v1.0h-1.0zM71.5,71.3h1.0v1.0h-1.0zM80.9,78.6h1.0v1.0h-1.0zM92.5,100.4h1.0v1.0h-1.0zM109.9,80.7h1.0v1.0h-1.0zM102.3,98.6h1.0v1.0h-1.0zM114.4,86.1h1.0v1.0h-1.0zM84.4,97h1.0v1.0h-1.0zM116,81.7h1.0v1.0h-1.0zM122,108.6h1.0v1.0h-1.0zM91.1,69.2h1.0v1.0h-1.0zM86.4,83.8h1.0v1.0h-1.0zM102.2,67.9h1.0v1.0h-1.0zM128.8,116.1h1.0v1.0h-1.0zM84.6,65.6h1.0v1.0h-1.0zM92.4,93.1h1.0v1.0h-1.0zM113.6,96.5h1.0v1.0h-1.0zM91.9,64.4h1.0v1.0h-1.0zM101.9,98.1h1.0v1.0h-1.0zM90.4,91.3h1.0v1.0h-1.0zM97.6,85h1.0v1.0h-1.0zM78.5,92.1h1.0v1.0h-1.0zM74.8,104.8h1.0v1.0h-1.0zM82.1,93.8h1.0v1.0h-1.0z" fill="#3550ff" fill-opacity="0.45"/>
<path d="M108.8,133.8h1.0v1.0h-1.0zM122.3,139.4h1.0v1.0h-1.0zM107.2,61.5h1.0v1.0h-1.0zM120.5,107.5h1.0v1.0h-1.0zM88.7,95.3h1.0v1.0h-1.0zM84.3,124.3h1.0v1.0h-1.0zM118,120.6h1.0v1.0h-1.0zM137.5,142.7h1.0v1.0h-1.0zM124.1,98.8h1.0v1.0h-1.0zM150.6,157.2h1.0v1.0h-1.0zM51.9,114.3h1.0v1.0h-1.0zM118.9,99.8h1.0v1.0h-1.0zM160,100.8h1.0v1.0h-1.0zM150.2,100.5h1.0v1.0h-1.0zM117.1,146.2h1.0v1.0h-1.0zM108.5,114.2h1.0v1.0h-1.0zM99,88.1h1.0v1.0h-1.0zM146.5,141h1.0v1.0h-1.0zM97.9,77.4h1.0v1.0h-1.0zM105,138.4h1.0v1.0h-1.0zM107.5,106.8h1.0v1.0h-1.0zM150.8,155.9h1.0v1.0h-1.0zM123.9,111.3h1.0v1.0h-1.0zM127.5,108.9h1.0v1.0h-1.0zM141.3,130.1h1.0v1.0h-1.0zM107.5,126.4h1.0v1.0h-1.0zM113.5,99.1h1.0v1.0h-1.0zM124,156.6h1.0v1.0h-1.0zM168.2,118.7h1.0v1.0h-1.0zM111.9,91.6h1.0v1.0h-1.0zM134.9,151.1h1.0v1.0h-1.0zM168.8,72.9h1.0v1.0h-1.0zM151.6,158.5h1.0v1.0h-1.0zM126.9,65.4h1.0v1.0h-1.0zM107.5,80.4h1.0v1.0h-1.0zM101.5,87.8h1.0v1.0h-1.0zM87.9,116.8h1.0v1.0h-1.0zM137.8,147.6h1.0v1.0h-1.0zM125.4,158.3h1.0v1.0h-1.0zM155.6,65.7h1.0v1.0h-1.0zM120.8,75.4h1.0v1.0h-1.0zM102.5,127h1.0v1.0h-1.0zM123,115.2h1.0v1.0h-1.0zM127.7,141.1h1.0v1.0h-1.0zM109,141.6h1.0v1.0h-1.0zM121.8,158.7h1.0v1.0h-1.0zM124.1,72.1h1.0v1.0h-1.0zM84.4,110.2h1.0v1.0h-1.0zM91.4,61.5h1.0v1.0h-1.0zM119.1,85.3h1.0v1.0h-1.0zM122.4,132.2h1.0v1.0h-1.0zM87.3,127.5h1.0v1.0h-1.0zM110.2,81.4h1.0v1.0h-1.0zM86.5,77.5h1.0v1.0h-1.0zM128.7,131.5h1.0v1.0h-1.0zM136.1,125h1.0v1.0h-1.0zM105.3,148.8h1.0v1.0h-1.0zM133.6,69h1.0v1.0h-1.0zM170.2,109h1.0v1.0h-1.0zM153.3,68.9h1.0v1.0h-1.0zM97.7,100.7h1.0v1.0h-1.0zM110.7,157.8h1.0v1.0h-1.0zM86.5,127.3h1.0v1.0h-1.0zM102.3,140.1h1.0v1.0h-1.0zM134.1,101.6h1.0v1.0h-1.0zM157.3,73.7h1.0v1.0h-1.0zM125.6,124.8h1.0v1.0h-1.0zM132.4,109.2h1.0v1.0h-1.0zM114.1,88.6h1.0v1.0h-1.0zM122.2,152.6h1.0v1.0h-1.0zM155.4,144.5h1.0v1.0h-1.0zM147.9,143.1h1.0v1.0h-1.0zM122.2,110.3h1.0v1.0h-1.0zM95.6,131.8h1.0v1.0h-1.0zM139.7,141.1h1.0v1.0h-1.0zM93.6,56h1.0v1.0h-1.0zM74.1,108h1.0v1.0h-1.0zM98,134.7h1.0v1.0h-1.0zM121.6,128.7h1.0v1.0h-1.0zM117.8,75.9h1.0v1.0h-1.0zM115.7,148.3h1.0v1.0h-1.0zM101.8,160.6h1.0v1.0h-1.0zM131.3,129.9h1.0v1.0h-1.0zM162.3,118.4h1.0v1.0h-1.0zM136.6,146.3h1.0v1.0h-1.0zM146.9,152.7h1.0v1.0h-1.0zM163.7,142.6h1.0v1.0h-1.0zM129.6,137.4h1.0v1.0h-1.0zM111.1,45.3h1.0v1.0h-1.0zM110.3,126.3h1.0v1.0h-1.0zM144.4,125h1.0v1.0h-1.0zM151.3,159.7h1.0v1.0h-1.0zM156.3,124.3h1.0v1.0h-1.0zM132.8,116.4h1.0v1.0h-1.0zM98.4,121.6h1.0v1.0h-1.0zM136.6,47.2h1.0v1.0h-1.0zM150.1,111.6h1.0v1.0h-1.0zM136.6,112.3h1.0v1.0h-1.0zM90.9,131.3h1.0v1.0h-1.0zM133.5,160.2h1.0v1.0h-1.0zM143.1,63.7h1.0v1.0h-1.0zM159.4,153h1.0v1.0h-1.0zM150.7,141.8h1.0v1.0h-1.0zM112.5,143.5h1.0v1.0h-1.0zM124.7,84.4h1.0v1.0h-1.0zM116,36.4h1.0v1.0h-1.0zM169,136.1h1.0v1.0h-1.0zM117.9,150.1h1.0v1.0h-1.0zM106.8,82.1h1.0v1.0h-1.0zM155.6,105.8h1.0v1.0h-1.0zM144.6,124.8h1.0v1.0h-1.0zM152.5,128.3h1.0v1.0h-1.0zM77.6,148.9h1.0v1.0h-1.0zM118.5,156.1h1.0v1.0h-1.0zM122.6,50.3h1.0v1.0h-1.0zM122.5,142.9h1.0v1.0h-1.0zM121.9,107.5h1.0v1.0h-1.0zM169.1,118.8h1.0v1.0h-1.0z" fill="#5068ff" fill-opacity="0.35"/>
<path d="M53.9,81.4 L53.9,80 L54,78.5 L54.1,77 L54.3,75.6 L54.5,74.2 L54.8,72.9 L55.3,71.7 L55.8,70.6 L56.5,69.7 L57.2,68.9 L58,68.3 L59,67.7 L60,67.2 L61.1,66.7 L62.2,66.4 L63.5,66 L64.8,65.8 L66.3,65.6 L67.8,65.5 L69.4,65.5 L71.1,65.5 L72.8,65.6 L74.4,65.6 L76,65.6 L77.6,65.6 L79.2,65.6 L80.9,65.6 L82.6,65.6 L84.2,65.6 L85.7,65.7 L87.2,65.8 L88.5,66 L89.8,66.3 L90.9,66.5 L92,66.8 L93,67.1 L93.9,67.5 L94.8,68.1 L95.5,68.8 L96.2,69.6 L96.8,70.7 L97.3,72 L97.7,73.5 L98,75 L98.2,76.7 L98.4,78.3 L98.5,79.9 L98.6,81.4 L98.6,82.9 L98.5,84.4 L98.4,85.9 L98.2,87.4 L97.9,88.9 L97.6,90.4 L97.4,91.8 L97.1,93.2 L96.9,94.5 L96.6,95.7 L96.3,96.8 L95.9,97.9 L95.6,99.1 L95.4,100.2 L95.2,101.4 L95.1,102.7 L95.1,104.1 L95.1,105.5 L95.3,107 L95.5,108.5 L95.8,110 L96,111.5 L96.2,113.1 L96.4,114.7 L96.6,116.4 L96.7,118.1 L96.8,119.8 L96.9,121.6 L97,123.4 L97.1,125.2 L97.2,127 L97.3,128.9 L97.4,130.7 L97.5,132.6 L97.5,134.5 L97.6,136.4 L97.6,138.3 L97.6,140.2 L97.6,141.9 L97.5,143.5 L97.4,145 L97.3,146.4 L97.2,147.7 L97,149 L96.8,150.2 L96.5,151.3 L96.2,152.4 L95.7,153.4 L95.2,154.3 L94.7,155.2 L94,156 L93.4,156.8 L92.6,157.5 L91.7,158.1 L90.7,158.6 L89.5,159.1 L88.2,159.4 L86.7,159.7 L85,159.8 L83.3,159.9 L81.5,160 L79.6,160 L77.8,160 L76,160 L74.2,160 L72.2,160 L70.3,160 L68.3,159.9 L66.4,159.8 L64.6,159.7 L62.9,159.4 L61.5,159.1 L60.4,158.6 L59.4,158.1 L58.5,157.5 L57.8,156.8 L57.2,156 L56.7,155.2 L56.2,154.3 L55.8,153.4 L55.4,152.4 L55.1,151.3 L54.8,150.2 L54.7,149 L54.5,147.8 L54.4,146.4 L54.4,145 L54.3,143.5 L54.3,141.9 L54.2,140.2 L54.3,138.3 L54.3,136.5 L54.4,134.5 L54.5,132.6 L54.6,130.7 L54.7,128.9 L54.8,127 L55,125.2 L55.1,123.4 L55.3,121.6 L55.4,119.8 L55.6,118.1 L55.8,116.4 L56,114.7 L56.2,113.1 L56.4,111.5 L56.7,110 L56.9,108.5 L57.1,107 L57.3,105.5 L57.3,104.1 L57.3,102.8 L57.2,101.5 L57,100.2 L56.7,99.1 L56.4,98 L56,96.8 L55.7,95.7 L55.4,94.5 L55.2,93.2 L54.9,91.8 L54.7,90.4 L54.5,88.9 L54.3,87.4 L54.1,85.9 L53.9,84.4 L53.9,82.9Z" fill="#2238f6"/>
<path d="M55.7,72.4h1.0v1.0h-1.0zM99.5,79.7h1.0v1.0h-1.0zM76.7,161.1h1.0v1.0h-1.0zM55.3,131.1h1.0v1.0h-1.0zM84.6,160.6h1.0v1.0h-1.0zM98.2,75.3h1.0v1.0h-1.0zM54,90h1.0v1.0h-1.0zM52.7,77.9h1.0v1.0h-1.0zM96.8,117h1.0v1.0h-1.0zM53.5,155.2h1.0v1.0h-1.0zM53.7,72.3h1.0v1.0h-1.0zM88.8,161.2h1.0v1.0h-1.0zM84.1,160.4h1.0v1.0h-1.0zM98.6,145.1h1.0v1.0h-1.0zM96.5,154.5h1.0v1.0h-1.0zM67.8,159.8h1.0v1.0h-1.0zM98.9,135.1h1.0v1.0h-1.0zM98.2,76.8h1.0v1.0h-1.0zM85.9,160.8h1.0v1.0h-1.0zM50.4,118.8h1.0v1.0h-1.0zM97.9,128.6h1.0v1.0h-1.0zM57.1,103.3h1.0v1.0h-1.0zM98.7,116.2h1.0v1.0h-1.0zM80.8,63.5h1.0v1.0h-1.0zM97.8,137.6h1.0v1.0h-1.0zM57,107.4h1.0v1.0h-1.0zM78.4,160.6h1.0v1.0h-1.0zM53.8,75.9h1.0v1.0h-1.0zM95.9,68.3h1.0v1.0h-1.0zM100.9,89.3h1.0v1.0h-1.0zM77,160.2h1.0v1.0h-1.0zM84.4,159.9h1.0v1.0h-1.0zM94.4,155.6h1.0v1.0h-1.0zM72.2,160.3h1.0v1.0h-1.0zM54.1,153.9h1.0v1.0h-1.0zM97.4,86.7h1.0v1.0h-1.0zM52,139.4h1.0v1.0h-1.0zM60.2,63.3h1.0v1.0h-1.0zM55.4,91h1.0v1.0h-1.0zM51.3,110.5h1.0v1.0h-1.0zM53.3,71.5h1.0v1.0h-1.0zM56.4,153.9h1.0v1.0h-1.0zM56.9,64.9h1.0v1.0h-1.0zM96.5,110.3h1.0v1.0h-1.0zM68.3,62h1.0v1.0h-1.0zM96,108.5h1.0v1.0h-1.0zM60.7,159.1h1.0v1.0h-1.0zM73.2,162h1.0v1.0h-1.0zM67.4,65h1.0v1.0h-1.0zM67.4,161.2h1.0v1.0h-1.0zM53.9,153.5h1.0v1.0h-1.0zM61.5,64.8h1.0v1.0h-1.0zM96.8,136.9h1.0v1.0h-1.0zM53.8,128.9h1.0v1.0h-1.0zM55.1,118.7h1.0v1.0h-1.0zM97.1,74.4h1.0v1.0h-1.0zM64,159.6h1.0v1.0h-1.0zM97,123.2h1.0v1.0h-1.0zM96.1,107.7h1.0v1.0h-1.0zM55,68h1.0v1.0h-1.0zM55.8,70.2h1.0v1.0h-1.0zM95.3,69.2h1.0v1.0h-1.0zM54.6,142.2h1.0v1.0h-1.0zM55.6,92.1h1.0v1.0h-1.0zM99.1,74.8h1.0v1.0h-1.0zM55.4,89.2h1.0v1.0h-1.0zM51.6,151.9h1.0v1.0h-1.0zM51.9,145.7h1.0v1.0h-1.0zM55,124.5h1.0v1.0h-1.0zM59.4,67h1.0v1.0h-1.0zM54.9,91.5h1.0v1.0h-1.0zM94.3,66.5h1.0v1.0h-1.0zM54.4,70.5h1.0v1.0h-1.0zM53.3,58.2h1.0v1.0h-1.0zM67,64.2h1.0v1.0h-1.0zM54.8,139.5h1.0v1.0h-1.0zM80.2,160.8h1.0v1.0h-1.0zM97.4,90.3h1.0v1.0h-1.0zM55.1,122.6h1.0v1.0h-1.0zM72.9,162.4h1.0v1.0h-1.0zM53.5,137.9h1.0v1.0h-1.0zM60.4,159h1.0v1.0h-1.0zM56.7,107.5h1.0v1.0h-1.0zM98.3,82.3h1.0v1.0h-1.0zM96.8,68.3h1.0v1.0h-1.0zM97.1,138.9h1.0v1.0h-1.0zM55,118.7h1.0v1.0h-1.0zM56.3,107.1h1.0v1.0h-1.0zM53.4,146.4h1.0v1.0h-1.0zM99.3,111.9h1.0v1.0h-1.0zM96.4,66.3h1.0v1.0h-1.0zM97.4,143.1h1.0v1.0h-1.0zM55.2,145.3h1.0v1.0h-1.0zM55.1,115.8h1.0v1.0h-1.0zM99.2,147.9h1.0v1.0h-1.0zM56.1,155.4h1.0v1.0h-1.0zM97.9,132.7h1.0v1.0h-1.0zM103,98.6h1.0v1.0h-1.0zM52.6,112h1.0v1.0h-1.0zM74.1,61.4h1.0v1.0h-1.0zM95.6,107.9h1.0v1.0h-1.0zM71.4,159.8h1.0v1.0h-1.0zM97.3,91.6h1.0v1.0h-1.0zM53.2,87.7h1.0v1.0h-1.0zM51,135.7h1.0v1.0h-1.0zM97.5,69.5h1.0v1.0h-1.0zM98.5,144.3h1.0v1.0h-1.0zM55.2,97.1h1.0v1.0h-1.0zM56.3,114.5h1.0v1.0h-1.0zM77,160.3h1.0v1.0h-1.0zM56.7,109.1h1.0v1.0h-1.0zM85.1,161.5h1.0v1.0h-1.0zM73.2,65.3h1.0v1.0h-1.0zM55.9,95.7h1.0v1.0h-1.0zM75.6,162h1.0v1.0h-1.0zM84.5,64.7h1.0v1.0h-1.0zM89.8,161h1.0v1.0h-1.0zM99.7,79.9h1.0v1.0h-1.0zM94.5,159.9h1.0v1.0h-1.0zM50,84.7h1.0v1.0h-1.0zM80.8,63.8h1.0v1.0h-1.0zM55.8,99h1.0v1.0h-1.0zM97.6,108.3h1.0v1.0h-1.0zM97,155.5h1.0v1.0h-1.0zM85.8,161.1h1.0v1.0h-1.0zM68.7,65.2h1.0v1.0h-1.0zM87.4,64.2h1.0v1.0h-1.0zM93.1,63.5h1.0v1.0h-1.0zM96.7,95.4h1.0v1.0h-1.0zM54.3,144.5h1.0v1.0h-1.0zM97.7,127.3h1.0v1.0h-1.0zM55,119h1.0v1.0h-1.0zM69.3,160.8h1.0v1.0h-1.0zM55.3,146.9h1.0v1.0h-1.0zM84,162.6h1.0v1.0h-1.0zM87.4,64.9h1.0v1.0h-1.0zM56,64.2h1.0v1.0h-1.0zM54.6,95.7h1.0v1.0h-1.0zM96.7,150.1h1.0v1.0h-1.0zM84.2,159.8h1.0v1.0h-1.0zM55.9,116.6h1.0v1.0h-1.0zM95.1,156.7h1.0v1.0h-1.0zM71.1,161.7h1.0v1.0h-1.0zM65.4,62.7h1.0v1.0h-1.0zM55.2,131h1.0v1.0h-1.0zM54.2,134h1.0v1.0h-1.0zM53.9,149.4h1.0v1.0h-1.0zM55,150.8h1.0v1.0h-1.0zM53.2,75.7h1.0v1.0h-1.0zM53.3,137.5h1.0v1.0h-1.0zM55.2,147.1h1.0v1.0h-1.0zM56.4,108.8h1.0v1.0h-1.0zM83.3,64.9h1.0v1.0h-1.0zM94.9,100h1.0v1.0h-1.0zM94.6,67h1.0v1.0h-1.0zM54.8,145.8h1.0v1.0h-1.0zM53.9,79.8h1.0v1.0h-1.0zM97.5,93.7h1.0v1.0h-1.0zM99.6,93.1h1.0v1.0h-1.0zM95.4,104.3h1.0v1.0h-1.0zM77.4,161.1h1.0v1.0h-1.0zM58,156.6h1.0v1.0h-1.0zM54,120.2h1.0v1.0h-1.0zM98.6,136.6h1.0v1.0h-1.0zM53.1,123.7h1.0v1.0h-1.0zM64.8,66h1.0v1.0h-1.0zM97.7,91h1.0v1.0h-1.0zM95.8,66.8h1.0v1.0h-1.0zM89.4,161.4h1.0v1.0h-1.0zM55.7,153.8h1.0v1.0h-1.0zM98.1,110.5h1.0v1.0h-1.0zM55.5,110.9h1.0v1.0h-1.0zM79.3,160.6h1.0v1.0h-1.0zM94.8,63.2h1.0v1.0h-1.0zM56.3,94.7h1.0v1.0h-1.0zM95.8,109.1h1.0v1.0h-1.0zM64,66.2h1.0v1.0h-1.0zM97.6,106.6h1.0v1.0h-1.0zM55.2,68.5h1.0v1.0h-1.0zM53.8,132h1.0v1.0h-1.0zM75.9,62.4h1.0v1.0h-1.0zM52.9,128.8h1.0v1.0h-1.0zM54.5,125.9h1.0v1.0h-1.0zM63,66.2h1.0v1.0h-1.0zM52.7,127.7h1.0v1.0h-1.0zM96.9,140.7h1.0v1.0h-1.0zM74.7,65.7h1.0v1.0h-1.0zM55.5,112.9h1.0v1.0h-1.0zM97.1,89.9h1.0v1.0h-1.0zM96.1,93.9h1.0v1.0h-1.0zM53.5,138.2h1.0v1.0h-1.0zM99.5,78.1h1.0v1.0h-1.0zM100.5,127.5h1.0v1.0h-1.0zM93.7,65.5h1.0v1.0h-1.0zM53.9,89h1.0v1.0h-1.0zM98.8,82.8h1.0v1.0h-1.0zM63.8,64.5h1.0v1.0h-1.0zM75.6,64.9h1.0v1.0h-1.0zM71.9,161.5h1.0v1.0h-1.0zM74,65.5h1.0v1.0h-1.0zM96.2,152.6h1.0v1.0h-1.0zM93.1,66.3h1.0v1.0h-1.0zM101.4,77.3h1.0v1.0h-1.0zM53.8,142.7h1.0v1.0h-1.0zM82.6,162.3h1.0v1.0h-1.0zM96.9,89.8h1.0v1.0h-1.0zM70.1,65.4h1.0v1.0h-1.0zM67.8,62.4h1.0v1.0h-1.0zM98.5,75.5h1.0v1.0h-1.0zM97.5,93h1.0v1.0h-1.0zM91.4,162.4h1.0v1.0h-1.0zM56.1,102.3h1.0v1.0h-1.0zM58.4,66.3h1.0v1.0h-1.0zM54.3,83.1h1.0v1.0h-1.0zM99.3,148.9h1.0v1.0h-1.0zM89.6,63.6h1.0v1.0h-1.0zM96.7,95.9h1.0v1.0h-1.0zM104.3,103.6h1.0v1.0h-1.0zM97.3,76.3h1.0v1.0h-1.0zM97.1,99.8h1.0v1.0h-1.0zM95.9,64.9h1.0v1.0h-1.0zM98.5,74.6h1.0v1.0h-1.0zM100.1,80.6h1.0v1.0h-1.0zM65.6,63.6h1.0v1.0h-1.0zM55,74.2h1.0v1.0h-1.0zM70.1,161.2h1.0v1.0h-1.0zM55.4,114.5h1.0v1.0h-1.0zM55.9,71.7h1.0v1.0h-1.0zM54.3,126h1.0v1.0h-1.0zM97.5,87.7h1.0v1.0h-1.0zM55.3,128.6h1.0v1.0h-1.0zM98.7,86.8h1.0v1.0h-1.0zM92.5,158.6h1.0v1.0h-1.0zM71.7,61.3h1.0v1.0h-1.0zM98.1,133.7h1.0v1.0h-1.0zM54.3,96.1h1.0v1.0h-1.0zM99,124h1.0v1.0h-1.0zM52.3,139.5h1.0v1.0h-1.0zM97.3,142.4h1.0v1.0h-1.0zM57.1,101.5h1.0v1.0h-1.0zM58,158.1h1.0v1.0h-1.0zM55.2,112.1h1.0v1.0h-1.0zM97.7,114.5h1.0v1.0h-1.0zM56.6,104.3h1.0v1.0h-1.0zM98.2,94.6h1.0v1.0h-1.0zM95.2,159.1h1.0v1.0h-1.0zM99,80.6h1.0v1.0h-1.0zM78.5,160.9h1.0v1.0h-1.0zM55.1,114.3h1.0v1.0h-1.0zM50.9,116h1.0v1.0h-1.0zM66.3,160.4h1.0v1.0h-1.0zM76.4,160.1h1.0v1.0h-1.0zM99.7,139.7h1.0v1.0h-1.0zM56.5,69.6h1.0v1.0h-1.0zM56.3,98.6h1.0v1.0h-1.0zM97.1,115.6h1.0v1.0h-1.0zM53.8,119.8h1.0v1.0h-1.0zM55,129h1.0v1.0h-1.0zM98.5,122.1h1.0v1.0h-1.0zM98.1,81h1.0v1.0h-1.0zM53.8,83.1h1.0v1.0h-1.0zM96.3,115.4h1.0v1.0h-1.0zM59.4,159.7h1.0v1.0h-1.0zM53.8,130.7h1.0v1.0h-1.0zM79.6,62.2h1.0v1.0h-1.0zM102.3,145.7h1.0v1.0h-1.0zM54.2,115.1h1.0v1.0h-1.0zM62.8,160.4h1.0v1.0h-1.0zM54.5,122.7h1.0v1.0h-1.0zM97.7,110.1h1.0v1.0h-1.0zM62.7,62.6h1.0v1.0h-1.0zM52,71.1h1.0v1.0h-1.0zM54,131.9h1.0v1.0h-1.0zM96.5,93.3h1.0v1.0h-1.0zM60.4,62.1h1.0v1.0h-1.0zM51.2,86h1.0v1.0h-1.0zM96.6,148.6h1.0v1.0h-1.0zM52.2,87.6h1.0v1.0h-1.0zM97.3,129.6h1.0v1.0h-1.0zM58.1,62.4h1.0v1.0h-1.0zM55,77h1.0v1.0h-1.0zM53.8,134.2h1.0v1.0h-1.0zM94.9,68.8h1.0v1.0h-1.0zM97.5,147.5h1.0v1.0h-1.0zM53.2,138.1h1.0v1.0h-1.0zM95,155.4h1.0v1.0h-1.0zM54.1,77h1.0v1.0h-1.0zM55.1,123.6h1.0v1.0h-1.0zM65,160.5h1.0v1.0h-1.0zM54.4,72.5h1.0v1.0h-1.0zM97.9,122.6h1.0v1.0h-1.0zM97.2,115.5h1.0v1.0h-1.0zM53.9,71.9h1.0v1.0h-1.0zM53.1,139.1h1.0v1.0h-1.0zM82.5,65.7h1.0v1.0h-1.0zM95.5,68.1h1.0v1.0h-1.0zM53.6,74h1.0v1.0h-1.0zM99.5,77.1h1.0v1.0h-1.0zM54,118.6h1.0v1.0h-1.0zM98.2,122.9h1.0v1.0h-1.0zM86.4,62.8h1.0v1.0h-1.0zM55,146.1h1.0v1.0h-1.0zM81.8,160.2h1.0v1.0h-1.0zM52.2,146.1h1.0v1.0h-1.0zM92.7,157.2h1.0v1.0h-1.0zM75,161h1.0v1.0h-1.0zM54.8,152h1.0v1.0h-1.0zM90.7,66.5h1.0v1.0h-1.0zM96.8,139.1h1.0v1.0h-1.0zM53.1,108.8h1.0v1.0h-1.0zM88,159.6h1.0v1.0h-1.0zM53.6,111.8h1.0v1.0h-1.0zM84.2,160.8h1.0v1.0h-1.0zM67.8,63.5h1.0v1.0h-1.0zM71.7,161.4h1.0v1.0h-1.0zM55.1,118.4h1.0v1.0h-1.0zM93.5,159.7h1.0v1.0h-1.0zM91.5,66.3h1.0v1.0h-1.0zM96.1,110.2h1.0v1.0h-1.0zM56.3,154.2h1.0v1.0h-1.0zM54.4,109.6h1.0v1.0h-1.0zM97.3,111.3h1.0v1.0h-1.0zM93.5,67h1.0v1.0h-1.0zM97.6,97.2h1.0v1.0h-1.0zM95.2,153.1h1.0v1.0h-1.0zM80.4,65.2h1.0v1.0h-1.0zM55.6,109.6h1.0v1.0h-1.0zM53.6,137.1h1.0v1.0h-1.0zM100.5,121.7h1.0v1.0h-1.0zM54.2,137.2h1.0v1.0h-1.0zM91.6,158.3h1.0v1.0h-1.0zM54.9,68.9h1.0v1.0h-1.0zM66,159.9h1.0v1.0h-1.0zM99.3,129.6h1.0v1.0h-1.0zM53.8,69.4h1.0v1.0h-1.0zM52.5,135.1h1.0v1.0h-1.0zM51.1,73.2h1.0v1.0h-1.0zM50,75.2h1.0v1.0h-1.0zM99.3,139h1.0v1.0h-1.0zM90.9,65.7h1.0v1.0h-1.0zM98.1,76.6h1.0v1.0h-1.0zM97.1,105.4h1.0v1.0h-1.0zM54.7,123.4h1.0v1.0h-1.0zM54.4,129.4h1.0v1.0h-1.0zM103.4,68.9h1.0v1.0h-1.0zM96.2,151.4h1.0v1.0h-1.0zM88.5,160.3h1.0v1.0h-1.0zM98.8,125.5h1.0v1.0h-1.0zM54,152.7h1.0v1.0h-1.0zM71.9,161.1h1.0v1.0h-1.0zM50.3,124.4h1.0v1.0h-1.0zM98.6,152.9h1.0v1.0h-1.0zM51.5,151.4h1.0v1.0h-1.0zM52.5,95.9h1.0v1.0h-1.0zM56.1,114h1.0v1.0h-1.0zM55,146.9h1.0v1.0h-1.0zM105,110.8h1.0v1.0h-1.0zM92.9,157.7h1.0v1.0h-1.0zM95.7,107.4h1.0v1.0h-1.0zM58.8,66.9h1.0v1.0h-1.0zM97.1,132.5h1.0v1.0h-1.0zM70,65h1.0v1.0h-1.0zM98,94.2h1.0v1.0h-1.0zM53.3,114.1h1.0v1.0h-1.0zM58.6,159.2h1.0v1.0h-1.0zM53.7,134.7h1.0v1.0h-1.0zM96.8,134.8h1.0v1.0h-1.0zM85.3,160.1h1.0v1.0h-1.0zM57.3,155.9h1.0v1.0h-1.0zM54.4,138.4h1.0v1.0h-1.0zM98.4,117.3h1.0v1.0h-1.0zM54.1,105h1.0v1.0h-1.0zM100.4,141.3h1.0v1.0h-1.0zM97.3,71.3h1.0v1.0h-1.0zM56.5,96.5h1.0v1.0h-1.0zM99.5,74.4h1.0v1.0h-1.0zM81.9,64.7h1.0v1.0h-1.0zM88.2,64.5h1.0v1.0h-1.0zM92.2,65.9h1.0v1.0h-1.0zM58.4,67.9h1.0v1.0h-1.0zM52.5,72.2h1.0v1.0h-1.0zM53.8,135.6h1.0v1.0h-1.0zM59.7,159.6h1.0v1.0h-1.0zM99.1,77.1h1.0v1.0h-1.0zM96.7,146.1h1.0v1.0h-1.0zM54.9,131.4h1.0v1.0h-1.0zM53.1,93.2h1.0v1.0h-1.0zM64.3,160.7h1.0v1.0h-1.0zM82.3,64.5h1.0v1.0h-1.0zM98.4,108.4h1.0v1.0h-1.0zM59.8,66.6h1.0v1.0h-1.0zM96.3,152.2h1.0v1.0h-1.0zM97.8,71.5h1.0v1.0h-1.0zM55.4,152.7h1.0v1.0h-1.0zM97.1,128.6h1.0v1.0h-1.0zM95.3,106.2h1.0v1.0h-1.0zM54,140.6h1.0v1.0h-1.0zM53.9,136.4h1.0v1.0h-1.0zM96.9,102.9h1.0v1.0h-1.0zM54.3,151.2h1.0v1.0h-1.0zM52.5,93.4h1.0v1.0h-1.0zM55.3,124.9h1.0v1.0h-1.0zM85.8,160.2h1.0v1.0h-1.0zM94.1,156.8h1.0v1.0h-1.0zM103,81.9h1.0v1.0h-1.0zM67,161.2h1.0v1.0h-1.0zM96.2,152.3h1.0v1.0h-1.0zM61.2,64.7h1.0v1.0h-1.0zM85.6,63.7h1.0v1.0h-1.0zM63.5,65.1h1.0v1.0h-1.0zM103.9,91.8h1.0v1.0h-1.0zM63.4,65.7h1.0v1.0h-1.0zM99.2,133.6h1.0v1.0h-1.0zM67,64.4h1.0v1.0h-1.0zM93.1,158.9h1.0v1.0h-1.0zM87,65.6h1.0v1.0h-1.0zM56.4,112.3h1.0v1.0h-1.0zM100,91.4h1.0v1.0h-1.0zM78.3,65.3h1.0v1.0h-1.0zM55.1,128.1h1.0v1.0h-1.0zM54.8,98.8h1.0v1.0h-1.0zM53.1,136.4h1.0v1.0h-1.0zM97.9,121.1h1.0v1.0h-1.0zM94.4,67.2h1.0v1.0h-1.0zM52,91.8h1.0v1.0h-1.0zM99,106.2h1.0v1.0h-1.0zM53.5,125h1.0v1.0h-1.0zM98.6,127.1h1.0v1.0h-1.0zM52.1,125h1.0v1.0h-1.0zM69.9,160h1.0v1.0h-1.0zM99.3,82h1.0v1.0h-1.0zM83.8,64.6h1.0v1.0h-1.0zM53,84.9h1.0v1.0h-1.0zM53,117.5h1.0v1.0h-1.0zM54.5,133.6h1.0v1.0h-1.0zM97.7,87.2h1.0v1.0h-1.0zM76,161.5h1.0v1.0h-1.0zM89.5,65.8h1.0v1.0h-1.0zM63.6,63.5h1.0v1.0h-1.0zM54.7,82.5h1.0v1.0h-1.0zM100.7,140h1.0v1.0h-1.0zM96.8,91.1h1.0v1.0h-1.0zM99.7,105.1h1.0v1.0h-1.0zM102,139.9h1.0v1.0h-1.0zM54.4,84h1.0v1.0h-1.0zM57.3,57.7h1.0v1.0h-1.0zM54.7,128.3h1.0v1.0h-1.0zM94.9,102.2h1.0v1.0h-1.0zM79.4,160.5h1.0v1.0h-1.0zM95.8,105.9h1.0v1.0h-1.0zM54.2,90.7h1.0v1.0h-1.0zM52.8,132.2h1.0v1.0h-1.0zM97.5,76.4h1.0v1.0h-1.0zM54.8,111.1h1.0v1.0h-1.0zM53.4,79.2h1.0v1.0h-1.0zM99.7,100.5h1.0v1.0h-1.0zM52.8,100.2h1.0v1.0h-1.0zM98.9,94.1h1.0v1.0h-1.0zM97.4,89.5h1.0v1.0h-1.0zM97.2,125.1h1.0v1.0h-1.0zM50.9,78.9h1.0v1.0h-1.0zM99.6,75.2h1.0v1.0h-1.0zM82.4,65.4h1.0v1.0h-1.0zM54.3,138.9h1.0v1.0h-1.0zM54.8,88.7h1.0v1.0h-1.0zM98,111.8h1.0v1.0h-1.0zM83,160h1.0v1.0h-1.0zM101.4,110.9h1.0v1.0h-1.0zM104.6,73.9h1.0v1.0h-1.0zM55,138.4h1.0v1.0h-1.0zM51.8,142.9h1.0v1.0h-1.0zM98.1,130h1.0v1.0h-1.0zM98.1,149.4h1.0v1.0h-1.0zM53.7,80.1h1.0v1.0h-1.0zM106.7,109.5h1.0v1.0h-1.0zM55.6,105.8h1.0v1.0h-1.0zM98.7,66.7h1.0v1.0h-1.0zM59.8,158.3h1.0v1.0h-1.0zM52.8,143.6h1.0v1.0h-1.0zM97.8,76.3h1.0v1.0h-1.0zM97.3,98.9h1.0v1.0h-1.0zM81.9,159.9h1.0v1.0h-1.0zM53.5,129.7h1.0v1.0h-1.0zM87.7,65.3h1.0v1.0h-1.0zM56.4,96.4h1.0v1.0h-1.0zM95.8,154.5h1.0v1.0h-1.0zM76.3,64.7h1.0v1.0h-1.0zM80.9,161.4h1.0v1.0h-1.0zM62.4,66.3h1.0v1.0h-1.0zM90.8,160.9h1.0v1.0h-1.0zM53.9,128.4h1.0v1.0h-1.0zM54.8,125.7h1.0v1.0h-1.0zM71.7,63.5h1.0v1.0h-1.0zM58,156.9h1.0v1.0h-1.0zM82.7,61.2h1.0v1.0h-1.0zM57.1,67.8h1.0v1.0h-1.0zM100.1,100.3h1.0v1.0h-1.0zM80.3,63.6h1.0v1.0h-1.0zM97.4,135.3h1.0v1.0h-1.0zM54.1,154.4h1.0v1.0h-1.0zM96.8,158.6h1.0v1.0h-1.0zM99.3,90.9h1.0v1.0h-1.0zM97.7,90.1h1.0v1.0h-1.0zM65.7,64h1.0v1.0h-1.0zM99.5,158.2h1.0v1.0h-1.0zM54.7,149.5h1.0v1.0h-1.0zM97.1,157.1h1.0v1.0h-1.0zM54.5,137h1.0v1.0h-1.0zM96.4,146.5h1.0v1.0h-1.0zM85.7,65.6h1.0v1.0h-1.0zM97.8,64.8h1.0v1.0h-1.0zM97,129.6h1.0v1.0h-1.0zM55,131h1.0v1.0h-1.0zM54.4,102.6h1.0v1.0h-1.0zM98.9,141.7h1.0v1.0h-1.0zM54.9,87.6h1.0v1.0h-1.0zM67.6,65.5h1.0v1.0h-1.0zM98.1,112h1.0v1.0h-1.0zM97.8,64.6h1.0v1.0h-1.0zM57.1,158.8h1.0v1.0h-1.0zM96.4,70.1h1.0v1.0h-1.0zM53.5,130.7h1.0v1.0h-1.0zM52.9,97.9h1.0v1.0h-1.0zM64.6,65.3h1.0v1.0h-1.0zM53.5,95.2h1.0v1.0h-1.0zM87.3,160.5h1.0v1.0h-1.0zM55.7,105.6h1.0v1.0h-1.0zM56.4,111.7h1.0v1.0h-1.0zM96.9,150.7h1.0v1.0h-1.0zM54,133.7h1.0v1.0h-1.0zM69.7,64.8h1.0v1.0h-1.0zM56.5,69.3h1.0v1.0h-1.0zM55.4,123.4h1.0v1.0h-1.0zM54.2,151.4h1.0v1.0h-1.0zM87.2,63.3h1.0v1.0h-1.0zM98.3,71.6h1.0v1.0h-1.0zM55.1,145.7h1.0v1.0h-1.0zM53.9,138.9h1.0v1.0h-1.0zM54.8,134h1.0v1.0h-1.0zM77.2,62.3h1.0v1.0h-1.0zM96.9,146.9h1.0v1.0h-1.0zM101,71.5h1.0v1.0h-1.0zM98.8,125.1h1.0v1.0h-1.0zM55.1,128.5h1.0v1.0h-1.0zM53.3,78.9h1.0v1.0h-1.0zM55.6,107.1h1.0v1.0h-1.0zM85.8,63.5h1.0v1.0h-1.0zM96.4,71.5h1.0v1.0h-1.0zM59.7,158h1.0v1.0h-1.0zM52.3,80.4h1.0v1.0h-1.0zM97,134h1.0v1.0h-1.0zM92.3,157.9h1.0v1.0h-1.0zM54.4,120.6h1.0v1.0h-1.0zM66.7,64.1h1.0v1.0h-1.0zM98.8,117h1.0v1.0h-1.0zM86.9,159.4h1.0v1.0h-1.0zM95.7,100.5h1.0v1.0h-1.0zM88.1,65.6h1.0v1.0h-1.0zM53.2,93.4h1.0v1.0h-1.0zM59.5,157.9h1.0v1.0h-1.0zM97.5,86.2h1.0v1.0h-1.0zM84.7,57.5h1.0v1.0h-1.0zM79.4,160.2h1.0v1.0h-1.0zM97.3,89.9h1.0v1.0h-1.0zM96.4,97.9h1.0v1.0h-1.0zM95.3,106.3h1.0v1.0h-1.0zM52.1,76.3h1.0v1.0h-1.0zM53.5,93.3h1.0v1.0h-1.0zM54.4,121.9h1.0v1.0h-1.0zM63,65.9h1.0v1.0h-1.0zM96.9,153.6h1.0v1.0h-1.0zM51.9,106.9h1.0v1.0h-1.0zM64,162.6h1.0v1.0h-1.0zM95.5,108h1.0v1.0h-1.0zM93.2,56.8h1.0v1.0h-1.0zM54.6,80.9h1.0v1.0h-1.0zM97.1,143.2h1.0v1.0h-1.0zM102.5,82h1.0v1.0h-1.0zM102.1,80.7h1.0v1.0h-1.0zM52.8,138h1.0v1.0h-1.0zM66.9,161.5h1.0v1.0h-1.0zM51.6,137.2h1.0v1.0h-1.0zM97.3,119.2h1.0v1.0h-1.0zM56.8,154.6h1.0v1.0h-1.0zM101.6,105.3h1.0v1.0h-1.0zM97.4,102.8h1.0v1.0h-1.0zM99,132.3h1.0v1.0h-1.0zM66.9,160.4h1.0v1.0h-1.0zM75.7,160.2h1.0v1.0h-1.0zM52.7,73.7h1.0v1.0h-1.0zM98.5,145.8h1.0v1.0h-1.0zM88.4,64.6h1.0v1.0h-1.0zM97.6,127.8h1.0v1.0h-1.0zM97.1,134.3h1.0v1.0h-1.0zM54.5,140.4h1.0v1.0h-1.0zM55.2,101.7h1.0v1.0h-1.0zM56.7,107.7h1.0v1.0h-1.0zM102.9,82.1h1.0v1.0h-1.0zM50.5,102h1.0v1.0h-1.0zM56.1,70.2h1.0v1.0h-1.0zM96.5,71.4h1.0v1.0h-1.0zM64.4,160.2h1.0v1.0h-1.0zM69.3,65.5h1.0v1.0h-1.0zM53.7,89.7h1.0v1.0h-1.0zM73.4,65.5h1.0v1.0h-1.0zM72.5,161.5h1.0v1.0h-1.0zM52.1,122.2h1.0v1.0h-1.0zM54.5,72.6h1.0v1.0h-1.0zM97.9,120.2h1.0v1.0h-1.0zM90.7,65.4h1.0v1.0h-1.0zM54.7,124.7h1.0v1.0h-1.0zM95.8,96.5h1.0v1.0h-1.0zM97.1,101h1.0v1.0h-1.0zM97.2,122h1.0v1.0h-1.0zM94.9,154.1h1.0v1.0h-1.0zM97.4,145.2h1.0v1.0h-1.0zM67.6,160.4h1.0v1.0h-1.0zM51.8,97h1.0v1.0h-1.0zM52.6,94.3h1.0v1.0h-1.0zM55.1,149.5h1.0v1.0h-1.0zM89,65.7h1.0v1.0h-1.0zM82.4,160.1h1.0v1.0h-1.0zM98.2,74.8h1.0v1.0h-1.0zM98.5,141.5h1.0v1.0h-1.0zM98.6,114.4h1.0v1.0h-1.0zM55.1,113.5h1.0v1.0h-1.0zM50.4,150.4h1.0v1.0h-1.0zM101.7,89.2h1.0v1.0h-1.0zM53.9,133.6h1.0v1.0h-1.0zM50.6,81.5h1.0v1.0h-1.0zM54.9,110.6h1.0v1.0h-1.0zM54.5,80.1h1.0v1.0h-1.0zM56.9,106.1h1.0v1.0h-1.0zM54.3,137.7h1.0v1.0h-1.0zM99.6,80.9h1.0v1.0h-1.0zM53.9,93h1.0v1.0h-1.0zM55.5,153.3h1.0v1.0h-1.0zM68,65.7h1.0v1.0h-1.0zM57.4,102.3h1.0v1.0h-1.0zM96.3,113.2h1.0v1.0h-1.0zM54.9,142.1h1.0v1.0h-1.0zM82.7,62.2h1.0v1.0h-1.0zM98.7,119.3h1.0v1.0h-1.0zM54.4,79.4h1.0v1.0h-1.0zM96.4,103.9h1.0v1.0h-1.0zM73.4,160.1h1.0v1.0h-1.0zM51.7,130.5h1.0v1.0h-1.0zM98.6,141.5h1.0v1.0h-1.0zM95.9,95.5h1.0v1.0h-1.0zM99.6,116.8h1.0v1.0h-1.0zM50.9,132.6h1.0v1.0h-1.0zM55,99.3h1.0v1.0h-1.0zM58.4,67.6h1.0v1.0h-1.0zM91.7,65.3h1.0v1.0h-1.0zM55.6,111.7h1.0v1.0h-1.0zM80.8,65.4h1.0v1.0h-1.0zM57.3,157h1.0v1.0h-1.0zM55.4,73.1h1.0v1.0h-1.0zM56.6,153.6h1.0v1.0h-1.0zM98.5,88.6h1.0v1.0h-1.0zM54,89.7h1.0v1.0h-1.0zM53.9,142.3h1.0v1.0h-1.0zM55.3,116.2h1.0v1.0h-1.0zM53.6,100h1.0v1.0h-1.0zM55,114.4h1.0v1.0h-1.0zM86.4,66h1.0v1.0h-1.0zM98.6,134.2h1.0v1.0h-1.0zM94.9,153.5h1.0v1.0h-1.0zM50.1,76.8h1.0v1.0h-1.0zM56.7,67.9h1.0v1.0h-1.0zM62.4,63.4h1.0v1.0h-1.0zM76.5,64.1h1.0v1.0h-1.0zM56.6,64.7h1.0v1.0h-1.0zM99,146.5h1.0v1.0h-1.0zM54.2,143.4h1.0v1.0h-1.0zM96.3,102.1h1.0v1.0h-1.0zM95.8,101.6h1.0v1.0h-1.0zM55.6,91.1h1.0v1.0h-1.0zM62.1,160h1.0v1.0h-1.0zM97.5,140h1.0v1.0h-1.0zM97.2,145.1h1.0v1.0h-1.0zM55.1,143.4h1.0v1.0h-1.0zM95.2,156.3h1.0v1.0h-1.0zM66.2,160h1.0v1.0h-1.0zM81.7,162.2h1.0v1.0h-1.0zM97,103.8h1.0v1.0h-1.0zM54.5,124.4h1.0v1.0h-1.0zM99.4,88.5h1.0v1.0h-1.0zM60.1,160.5h1.0v1.0h-1.0zM54.6,144.8h1.0v1.0h-1.0zM97.8,96h1.0v1.0h-1.0zM54.6,78.1h1.0v1.0h-1.0zM82.8,160h1.0v1.0h-1.0zM54.3,126.9h1.0v1.0h-1.0zM96.7,66.3h1.0v1.0h-1.0zM56.6,97.2h1.0v1.0h-1.0zM53.4,82.3h1.0v1.0h-1.0zM97.5,101.3h1.0v1.0h-1.0zM65.7,62.5h1.0v1.0h-1.0zM91.5,158.8h1.0v1.0h-1.0zM91.3,65.9h1.0v1.0h-1.0zM58.8,157.4h1.0v1.0h-1.0zM69.6,159.8h1.0v1.0h-1.0zM51.6,84.1h1.0v1.0h-1.0zM52.6,134h1.0v1.0h-1.0zM71.2,160.8h1.0v1.0h-1.0zM98,84h1.0v1.0h-1.0zM56.6,96.2h1.0v1.0h-1.0zM68.8,61.8h1.0v1.0h-1.0zM97.9,76h1.0v1.0h-1.0zM55.4,113.4h1.0v1.0h-1.0zM71.3,160h1.0v1.0h-1.0zM99.8,110.5h1.0v1.0h-1.0zM95.9,101.9h1.0v1.0h-1.0zM53.6,122.3h1.0v1.0h-1.0zM78.2,161.9h1.0v1.0h-1.0zM52.8,76.4h1.0v1.0h-1.0zM52.5,117.1h1.0v1.0h-1.0zM100.5,133.9h1.0v1.0h-1.0zM54.6,74.2h1.0v1.0h-1.0zM97.2,140.9h1.0v1.0h-1.0zM88.5,159.9h1.0v1.0h-1.0zM95.3,98.8h1.0v1.0h-1.0zM76.3,65.2h1.0v1.0h-1.0zM56.5,58.8h1.0v1.0h-1.0zM97.9,125.9h1.0v1.0h-1.0zM97.3,67.4h1.0v1.0h-1.0zM54.9,76.2h1.0v1.0h-1.0zM53.9,137.7h1.0v1.0h-1.0zM53.5,87.6h1.0v1.0h-1.0zM55.8,102.6h1.0v1.0h-1.0zM76.9,64.4h1.0v1.0h-1.0zM61.7,63.2h1.0v1.0h-1.0zM88.1,160h1.0v1.0h-1.0zM96.2,101.3h1.0v1.0h-1.0zM54,95.4h1.0v1.0h-1.0zM53.8,91.7h1.0v1.0h-1.0zM51.3,84.6h1.0v1.0h-1.0zM56.7,96.7h1.0v1.0h-1.0zM100.2,135.7h1.0v1.0h-1.0zM100.5,141.4h1.0v1.0h-1.0zM97.5,119.3h1.0v1.0h-1.0zM55.2,147.8h1.0v1.0h-1.0zM76,65.7h1.0v1.0h-1.0zM98.2,82.2h1.0v1.0h-1.0zM55.2,145.2h1.0v1.0h-1.0zM63.5,159.7h1.0v1.0h-1.0zM69.7,61.9h1.0v1.0h-1.0zM88.5,159.2h1.0v1.0h-1.0zM99.8,136.7h1.0v1.0h-1.0zM58.9,67.8h1.0v1.0h-1.0zM68.7,162.2h1.0v1.0h-1.0zM52.9,94.3h1.0v1.0h-1.0zM98.2,141.6h1.0v1.0h-1.0zM54.4,86.5h1.0v1.0h-1.0zM54.6,148.1h1.0v1.0h-1.0zM98.2,153.6h1.0v1.0h-1.0zM53.9,72.6h1.0v1.0h-1.0zM55.3,66.1h1.0v1.0h-1.0zM96.9,125.9h1.0v1.0h-1.0zM60.1,65.2h1.0v1.0h-1.0zM95.8,69.6h1.0v1.0h-1.0zM96,68.7h1.0v1.0h-1.0zM95.7,65.8h1.0v1.0h-1.0zM76.1,61.7h1.0v1.0h-1.0zM98.1,86.2h1.0v1.0h-1.0zM92.3,67.2h1.0v1.0h-1.0zM96.7,105.4h1.0v1.0h-1.0zM96.9,97.4h1.0v1.0h-1.0zM97.8,78.4h1.0v1.0h-1.0zM51.3,151.4h1.0v1.0h-1.0zM55.5,159.4h1.0v1.0h-1.0zM97.5,114.3h1.0v1.0h-1.0zM97.3,92.9h1.0v1.0h-1.0zM95.4,153.1h1.0v1.0h-1.0zM53.5,131.5h1.0v1.0h-1.0zM55,90.9h1.0v1.0h-1.0zM97.1,150.8h1.0v1.0h-1.0zM83.4,161.5h1.0v1.0h-1.0zM55.8,118.5h1.0v1.0h-1.0zM96.7,116.2h1.0v1.0h-1.0zM91.7,157.7h1.0v1.0h-1.0zM96.7,107h1.0v1.0h-1.0zM55.1,90.5h1.0v1.0h-1.0zM95.6,95.7h1.0v1.0h-1.0zM98.2,70.4h1.0v1.0h-1.0zM97.4,67.7h1.0v1.0h-1.0zM97.8,130.2h1.0v1.0h-1.0zM101.7,85.8h1.0v1.0h-1.0zM56.5,154.8h1.0v1.0h-1.0zM54.2,143.5h1.0v1.0h-1.0zM98.2,123.5h1.0v1.0h-1.0zM53.2,110.7h1.0v1.0h-1.0zM98.3,142.9h1.0v1.0h-1.0zM97,141.8h1.0v1.0h-1.0zM94.1,157.3h1.0v1.0h-1.0zM82.8,160.3h1.0v1.0h-1.0zM55.4,90.1h1.0v1.0h-1.0zM94.6,162.3h1.0v1.0h-1.0zM95.9,69.8h1.0v1.0h-1.0zM56.1,154.4h1.0v1.0h-1.0zM63.5,161.9h1.0v1.0h-1.0zM80.1,160.2h1.0v1.0h-1.0zM81.9,162.6h1.0v1.0h-1.0zM55.4,148.4h1.0v1.0h-1.0zM54.3,62.6h1.0v1.0h-1.0zM95.6,62.2h1.0v1.0h-1.0zM54.8,143h1.0v1.0h-1.0zM97.5,103.2h1.0v1.0h-1.0zM97,135.4h1.0v1.0h-1.0zM55.5,106.6h1.0v1.0h-1.0zM86.7,159.4h1.0v1.0h-1.0zM55.7,117.5h1.0v1.0h-1.0zM97.6,157.2h1.0v1.0h-1.0zM55.3,94.7h1.0v1.0h-1.0zM96.8,146h1.0v1.0h-1.0zM93.8,156.3h1.0v1.0h-1.0zM53.2,112.1h1.0v1.0h-1.0zM101.2,125.8h1.0v1.0h-1.0zM85.3,61.5h1.0v1.0h-1.0zM93.1,65.8h1.0v1.0h-1.0zM55.2,119.6h1.0v1.0h-1.0zM81.4,161h1.0v1.0h-1.0zM50.8,119.2h1.0v1.0h-1.0zM101.3,141.6h1.0v1.0h-1.0zM63.3,160.1h1.0v1.0h-1.0zM56.1,112.8h1.0v1.0h-1.0zM63.7,65.8h1.0v1.0h-1.0zM66.9,63.8h1.0v1.0h-1.0zM95.3,155.4h1.0v1.0h-1.0zM91.8,158.8h1.0v1.0h-1.0zM95.9,96.8h1.0v1.0h-1.0zM100,92h1.0v1.0h-1.0zM54.2,129.6h1.0v1.0h-1.0zM68.8,161.7h1.0v1.0h-1.0zM99.7,118.7h1.0v1.0h-1.0zM96.8,112.1h1.0v1.0h-1.0zM96.3,105.1h1.0v1.0h-1.0zM54.9,139.7h1.0v1.0h-1.0zM50.2,115.8h1.0v1.0h-1.0zM96,108.2h1.0v1.0h-1.0zM54.6,132.4h1.0v1.0h-1.0zM56.4,99.6h1.0v1.0h-1.0zM91.7,157.7h1.0v1.0h-1.0zM100.9,108.4h1.0v1.0h-1.0zM96.4,148.4h1.0v1.0h-1.0zM99.9,85.8h1.0v1.0h-1.0zM57.5,69.2h1.0v1.0h-1.0zM51.5,146.2h1.0v1.0h-1.0zM97.9,127.7h1.0v1.0h-1.0zM98.6,142.2h1.0v1.0h-1.0zM60.1,66.9h1.0v1.0h-1.0zM72.4,64.3h1.0v1.0h-1.0zM58.6,159.5h1.0v1.0h-1.0zM97.7,90.8h1.0v1.0h-1.0zM98.7,125.5h1.0v1.0h-1.0zM83.2,161.4h1.0v1.0h-1.0zM52.2,140.8h1.0v1.0h-1.0zM56.5,100.3h1.0v1.0h-1.0zM62.6,161.4h1.0v1.0h-1.0zM54.6,73h1.0v1.0h-1.0zM55.9,96.7h1.0v1.0h-1.0zM82.3,160.8h1.0v1.0h-1.0zM51.6,155.8h1.0v1.0h-1.0zM96.8,113.3h1.0v1.0h-1.0zM75.3,161.1h1.0v1.0h-1.0zM51.9,84h1.0v1.0h-1.0zM86.8,58.8h1.0v1.0h-1.0zM56.8,99.7h1.0v1.0h-1.0zM55.5,106.6h1.0v1.0h-1.0zM94,158.5h1.0v1.0h-1.0zM55.4,116.4h1.0v1.0h-1.0zM96.1,111.6h1.0v1.0h-1.0zM96.2,112.5h1.0v1.0h-1.0zM53.8,156.3h1.0v1.0h-1.0zM97.4,120.9h1.0v1.0h-1.0zM96.3,114.8h1.0v1.0h-1.0zM71,161.3h1.0v1.0h-1.0zM54.4,68.9h1.0v1.0h-1.0zM54,89.6h1.0v1.0h-1.0zM100.1,133.4h1.0v1.0h-1.0zM74,65.4h1.0v1.0h-1.0zM101,79h1.0v1.0h-1.0zM52,90.8h1.0v1.0h-1.0zM94.9,101h1.0v1.0h-1.0zM52.7,121.6h1.0v1.0h-1.0zM57.5,103.1h1.0v1.0h-1.0zM94.6,157.5h1.0v1.0h-1.0zM66.1,161.4h1.0v1.0h-1.0zM81.2,160.3h1.0v1.0h-1.0zM52.1,133h1.0v1.0h-1.0zM98.8,148.1h1.0v1.0h-1.0zM97.8,150.2h1.0v1.0h-1.0zM58.5,68.4h1.0v1.0h-1.0zM51.8,93.6h1.0v1.0h-1.0zM98.3,69.2h1.0v1.0h-1.0zM98.1,124.3h1.0v1.0h-1.0zM77.4,65.3h1.0v1.0h-1.0zM55,136.8h1.0v1.0h-1.0zM96.4,110.1h1.0v1.0h-1.0zM101.8,78.2h1.0v1.0h-1.0zM56.1,152.5h1.0v1.0h-1.0zM87.3,161.9h1.0v1.0h-1.0zM97.1,104.5h1.0v1.0h-1.0zM50.2,155.4h1.0v1.0h-1.0zM91.6,62.2h1.0v1.0h-1.0zM55.5,155.8h1.0v1.0h-1.0zM88.9,161.3h1.0v1.0h-1.0zM96.9,131.1h1.0v1.0h-1.0zM54.5,81.9h1.0v1.0h-1.0zM99.5,86.5h1.0v1.0h-1.0zM62.4,160.2h1.0v1.0h-1.0zM97,119.1h1.0v1.0h-1.0zM96.7,146.4h1.0v1.0h-1.0zM63,162.5h1.0v1.0h-1.0zM71.4,65.3h1.0v1.0h-1.0zM96.6,115.2h1.0v1.0h-1.0zM73.4,64.4h1.0v1.0h-1.0zM67.3,162.3h1.0v1.0h-1.0zM57.2,159.3h1.0v1.0h-1.0zM53.8,149.6h1.0v1.0h-1.0zM58.1,160.9h1.0v1.0h-1.0zM84.8,160.8h1.0v1.0h-1.0zM56.5,154.7h1.0v1.0h-1.0zM54.3,155.1h1.0v1.0h-1.0zM51.5,102.4h1.0v1.0h-1.0zM95.4,100.7h1.0v1.0h-1.0zM93.5,158.2h1.0v1.0h-1.0zM53.7,75.2h1.0v1.0h-1.0zM78.3,160.3h1.0v1.0h-1.0zM97.8,100.1h1.0v1.0h-1.0zM97.2,146.3h1.0v1.0h-1.0zM95.8,108.5h1.0v1.0h-1.0zM53.2,129.5h1.0v1.0h-1.0zM63.7,161h1.0v1.0h-1.0zM86.3,161.1h1.0v1.0h-1.0zM69.3,62.1h1.0v1.0h-1.0zM101.2,142.4h1.0v1.0h-1.0zM95.5,63.3h1.0v1.0h-1.0zM97,94.4h1.0v1.0h-1.0zM100.6,126.1h1.0v1.0h-1.0zM54.7,133.5h1.0v1.0h-1.0zM53.2,84.5h1.0v1.0h-1.0zM55.5,66.3h1.0v1.0h-1.0zM53.9,140.2h1.0v1.0h-1.0zM55.2,74.8h1.0v1.0h-1.0zM59.4,158.9h1.0v1.0h-1.0zM72.2,64.9h1.0v1.0h-1.0zM77.5,65.7h1.0v1.0h-1.0zM53.4,113.7h1.0v1.0h-1.0zM54.6,86h1.0v1.0h-1.0zM54.4,136.5h1.0v1.0h-1.0zM90.3,161.1h1.0v1.0h-1.0zM96.5,112.1h1.0v1.0h-1.0zM52.5,97.3h1.0v1.0h-1.0zM54.6,120.4h1.0v1.0h-1.0zM52.3,136.5h1.0v1.0h-1.0zM77.2,160.2h1.0v1.0h-1.0zM66.3,65h1.0v1.0h-1.0zM75.3,58.1h1.0v1.0h-1.0zM55.2,147.4h1.0v1.0h-1.0zM56,95.5h1.0v1.0h-1.0zM98.5,111.4h1.0v1.0h-1.0zM97.8,121h1.0v1.0h-1.0zM55.9,104.3h1.0v1.0h-1.0zM54.9,60.2h1.0v1.0h-1.0zM64.6,63.8h1.0v1.0h-1.0zM100,75.2h1.0v1.0h-1.0zM52.5,90.2h1.0v1.0h-1.0zM69.4,64.2h1.0v1.0h-1.0zM64.4,65.4h1.0v1.0h-1.0zM65.6,160.3h1.0v1.0h-1.0zM54.5,85.9h1.0v1.0h-1.0zM84,162.1h1.0v1.0h-1.0zM60.7,64.4h1.0v1.0h-1.0zM76,161.4h1.0v1.0h-1.0zM53.5,141.4h1.0v1.0h-1.0zM62.7,160.9h1.0v1.0h-1.0zM93.9,159.5h1.0v1.0h-1.0zM56.5,111.7h1.0v1.0h-1.0zM97.8,97.7h1.0v1.0h-1.0zM55.8,68.2h1.0v1.0h-1.0zM100.3,130.1h1.0v1.0h-1.0zM74.9,65.1h1.0v1.0h-1.0zM95.9,153.1h1.0v1.0h-1.0zM98.4,77.6h1.0v1.0h-1.0zM72.3,161.1h1.0v1.0h-1.0zM52.6,144.9h1.0v1.0h-1.0zM52.8,151.3h1.0v1.0h-1.0zM95.6,97.3h1.0v1.0h-1.0zM53,93h1.0v1.0h-1.0zM52.9,79.8h1.0v1.0h-1.0zM54.3,113.2h1.0v1.0h-1.0zM53.7,138.5h1.0v1.0h-1.0zM98.4,100h1.0v1.0h-1.0zM97.3,137.9h1.0v1.0h-1.0zM67.5,64.7h1.0v1.0h-1.0zM97.2,147.8h1.0v1.0h-1.0zM73.1,64.7h1.0v1.0h-1.0zM97.9,108.4h1.0v1.0h-1.0zM57.6,156.2h1.0v1.0h-1.0zM102.2,143.1h1.0v1.0h-1.0zM52.9,117h1.0v1.0h-1.0zM53.4,152.5h1.0v1.0h-1.0zM100.6,140.1h1.0v1.0h-1.0zM52.2,75.2h1.0v1.0h-1.0zM58.6,65.4h1.0v1.0h-1.0zM53.8,116.9h1.0v1.0h-1.0zM89.1,161.7h1.0v1.0h-1.0zM54.6,123.3h1.0v1.0h-1.0zM98.1,127.7h1.0v1.0h-1.0zM98.6,132.6h1.0v1.0h-1.0zM94.9,102.4h1.0v1.0h-1.0zM81.8,160h1.0v1.0h-1.0zM101.2,89.4h1.0v1.0h-1.0zM60.8,159.2h1.0v1.0h-1.0zM96.6,64.2h1.0v1.0h-1.0zM55.7,119.3h1.0v1.0h-1.0zM95.4,108.2h1.0v1.0h-1.0zM96.9,135.6h1.0v1.0h-1.0zM97.1,121.9h1.0v1.0h-1.0zM56.9,97.9h1.0v1.0h-1.0zM79.4,161.9h1.0v1.0h-1.0zM97.2,152.1h1.0v1.0h-1.0zM55.1,92.9h1.0v1.0h-1.0zM97.8,80.2h1.0v1.0h-1.0zM99.3,98.1h1.0v1.0h-1.0zM79.2,65.3h1.0v1.0h-1.0zM83.6,57.1h1.0v1.0h-1.0zM96.7,146.2h1.0v1.0h-1.0zM52.6,81.4h1.0v1.0h-1.0zM80,162h1.0v1.0h-1.0zM51.7,98.1h1.0v1.0h-1.0zM54.1,124.6h1.0v1.0h-1.0zM53.5,63.2h1.0v1.0h-1.0zM54.2,84.3h1.0v1.0h-1.0zM50.9,123.4h1.0v1.0h-1.0zM98,81h1.0v1.0h-1.0zM95.9,101.8h1.0v1.0h-1.0zM96,110.9h1.0v1.0h-1.0zM54.7,133.2h1.0v1.0h-1.0zM82.7,65.3h1.0v1.0h-1.0zM98.8,142h1.0v1.0h-1.0zM50.5,94.6h1.0v1.0h-1.0zM66.2,65.1h1.0v1.0h-1.0zM52.6,132.5h1.0v1.0h-1.0zM95.3,105.1h1.0v1.0h-1.0zM97.1,150.8h1.0v1.0h-1.0zM94.8,100.4h1.0v1.0h-1.0zM55.5,150.3h1.0v1.0h-1.0zM57,106.7h1.0v1.0h-1.0zM102.2,118.6h1.0v1.0h-1.0zM80.5,62.5h1.0v1.0h-1.0zM99.9,147.5h1.0v1.0h-1.0zM97.5,88.7h1.0v1.0h-1.0zM52.3,148.5h1.0v1.0h-1.0zM57.7,160.8h1.0v1.0h-1.0zM96.3,95.2h1.0v1.0h-1.0zM56.3,97.5h1.0v1.0h-1.0zM60.1,159.1h1.0v1.0h-1.0zM81.2,64.4h1.0v1.0h-1.0zM54.8,70.2h1.0v1.0h-1.0zM54.7,97.9h1.0v1.0h-1.0zM85.8,62.4h1.0v1.0h-1.0zM66.9,63.1h1.0v1.0h-1.0zM74,160.3h1.0v1.0h-1.0zM86.4,65.8h1.0v1.0h-1.0zM55.4,148.3h1.0v1.0h-1.0zM55.5,119.4h1.0v1.0h-1.0zM98.1,81.1h1.0v1.0h-1.0zM96.9,117.2h1.0v1.0h-1.0zM56.4,155.8h1.0v1.0h-1.0zM98.8,144.5h1.0v1.0h-1.0zM56.9,156h1.0v1.0h-1.0zM81.1,61.8h1.0v1.0h-1.0zM53.1,70.8h1.0v1.0h-1.0zM54,112h1.0v1.0h-1.0zM97,92h1.0v1.0h-1.0zM97.3,89.9h1.0v1.0h-1.0zM96.2,68.4h1.0v1.0h-1.0zM97.1,90.9h1.0v1.0h-1.0zM57,109.2h1.0v1.0h-1.0zM96.7,107h1.0v1.0h-1.0zM54.1,137.8h1.0v1.0h-1.0zM96,107.8h1.0v1.0h-1.0zM72.7,65.1h1.0v1.0h-1.0zM99.6,72.4h1.0v1.0h-1.0zM55.6,105.1h1.0v1.0h-1.0zM50.9,122.7h1.0v1.0h-1.0zM89.5,59.4h1.0v1.0h-1.0zM55.7,118h1.0v1.0h-1.0zM62,159.2h1.0v1.0h-1.0zM91.9,62.5h1.0v1.0h-1.0zM92.7,158.2h1.0v1.0h-1.0zM106.4,70.2h1.0v1.0h-1.0zM50.2,118.7h1.0v1.0h-1.0zM68.8,64h1.0v1.0h-1.0zM57.5,106.1h1.0v1.0h-1.0zM97.2,124.6h1.0v1.0h-1.0zM50,143.5h1.0v1.0h-1.0zM55.5,73.8h1.0v1.0h-1.0zM102.2,149.7h1.0v1.0h-1.0zM97.1,128.8h1.0v1.0h-1.0zM71.7,64.2h1.0v1.0h-1.0zM52.8,121.2h1.0v1.0h-1.0zM54.3,81.1h1.0v1.0h-1.0zM95.5,104.3h1.0v1.0h-1.0zM98.9,86.1h1.0v1.0h-1.0zM54.4,128.6h1.0v1.0h-1.0zM84.1,65.4h1.0v1.0h-1.0zM77.9,162.5h1.0v1.0h-1.0zM65.7,160.1h1.0v1.0h-1.0zM97.5,135.4h1.0v1.0h-1.0zM56,107.7h1.0v1.0h-1.0zM53.5,88h1.0v1.0h-1.0zM99.6,136.2h1.0v1.0h-1.0zM57.5,104.8h1.0v1.0h-1.0zM90.8,158.7h1.0v1.0h-1.0zM96.2,151.2h1.0v1.0h-1.0zM52.8,81.1h1.0v1.0h-1.0zM84.6,161.6h1.0v1.0h-1.0zM54.3,98.4h1.0v1.0h-1.0zM99.8,79.3h1.0v1.0h-1.0zM99.4,99.8h1.0v1.0h-1.0zM84.3,56.9h1.0v1.0h-1.0zM57.2,101.8h1.0v1.0h-1.0zM101.7,142.4h1.0v1.0h-1.0zM73.8,64.4h1.0v1.0h-1.0zM66.7,64.7h1.0v1.0h-1.0zM73.6,65h1.0v1.0h-1.0zM53.1,119.5h1.0v1.0h-1.0zM53.6,79.7h1.0v1.0h-1.0zM92.3,157.5h1.0v1.0h-1.0zM50.3,90.5h1.0v1.0h-1.0zM97.5,151.4h1.0v1.0h-1.0zM55.4,91.5h1.0v1.0h-1.0zM96.5,63.6h1.0v1.0h-1.0zM54.6,141.8h1.0v1.0h-1.0zM87.1,65.3h1.0v1.0h-1.0zM100.8,122.2h1.0v1.0h-1.0zM93.9,158.8h1.0v1.0h-1.0zM98.2,72.9h1.0v1.0h-1.0zM97.1,128.5h1.0v1.0h-1.0zM96.6,120.9h1.0v1.0h-1.0zM55.1,118.5h1.0v1.0h-1.0zM55.7,91.1h1.0v1.0h-1.0zM88.7,66.2h1.0v1.0h-1.0zM53.7,76.8h1.0v1.0h-1.0zM96,99.2h1.0v1.0h-1.0zM68.2,161.1h1.0v1.0h-1.0zM97.9,125.4h1.0v1.0h-1.0zM53.3,135.1h1.0v1.0h-1.0zM54.1,87.1h1.0v1.0h-1.0zM103.2,121.2h1.0v1.0h-1.0zM97.1,132.7h1.0v1.0h-1.0zM73.3,160.8h1.0v1.0h-1.0zM86.7,159.9h1.0v1.0h-1.0zM54.1,74.7h1.0v1.0h-1.0zM53.7,123.8h1.0v1.0h-1.0zM103.9,97.8h1.0v1.0h-1.0zM86.6,65.1h1.0v1.0h-1.0zM97.3,150h1.0v1.0h-1.0zM53.9,114h1.0v1.0h-1.0zM99.6,66.6h1.0v1.0h-1.0zM81.1,63.7h1.0v1.0h-1.0zM55.8,94.4h1.0v1.0h-1.0zM54.4,152.9h1.0v1.0h-1.0zM51.9,122.2h1.0v1.0h-1.0zM100.4,119.6h1.0v1.0h-1.0zM54,144.9h1.0v1.0h-1.0zM95.5,153.3h1.0v1.0h-1.0zM65.9,64.8h1.0v1.0h-1.0zM97.5,130.3h1.0v1.0h-1.0zM52.2,124.1h1.0v1.0h-1.0zM97.8,92.5h1.0v1.0h-1.0zM53,154.9h1.0v1.0h-1.0zM55.5,122.8h1.0v1.0h-1.0zM56.5,162.2h1.0v1.0h-1.0zM83.4,160.6h1.0v1.0h-1.0zM97.3,137.7h1.0v1.0h-1.0zM97.5,143.6h1.0v1.0h-1.0zM97,73.2h1.0v1.0h-1.0zM54.4,72.1h1.0v1.0h-1.0zM68,58.1h1.0v1.0h-1.0zM54.9,76h1.0v1.0h-1.0zM53.9,130.3h1.0v1.0h-1.0zM98.9,75.7h1.0v1.0h-1.0zM52,93.1h1.0v1.0h-1.0zM66.4,65.6h1.0v1.0h-1.0zM55.3,92.7h1.0v1.0h-1.0zM98.3,110.6h1.0v1.0h-1.0zM98.3,76.8h1.0v1.0h-1.0zM99.1,69.9h1.0v1.0h-1.0zM55.4,89.8h1.0v1.0h-1.0zM80.2,159.8h1.0v1.0h-1.0zM92.5,157.6h1.0v1.0h-1.0zM96.7,151.8h1.0v1.0h-1.0zM98,154.5h1.0v1.0h-1.0zM81.9,59.9h1.0v1.0h-1.0zM98.3,78.6h1.0v1.0h-1.0zM72.2,160h1.0v1.0h-1.0zM61.2,64.1h1.0v1.0h-1.0zM55.5,151.2h1.0v1.0h-1.0zM55.1,70.2h1.0v1.0h-1.0zM99.6,125.2h1.0v1.0h-1.0zM97.1,125.1h1.0v1.0h-1.0zM98.8,72.3h1.0v1.0h-1.0zM83.1,62.6h1.0v1.0h-1.0zM54.4,152.1h1.0v1.0h-1.0zM99.4,125.8h1.0v1.0h-1.0zM57.8,67.1h1.0v1.0h-1.0zM59.1,158h1.0v1.0h-1.0zM50.6,107.8h1.0v1.0h-1.0zM66.1,162h1.0v1.0h-1.0zM55.2,131.6h1.0v1.0h-1.0zM99,70.7h1.0v1.0h-1.0zM95.5,108.3h1.0v1.0h-1.0zM94.6,153.8h1.0v1.0h-1.0zM75.4,162.5h1.0v1.0h-1.0zM97.4,149.5h1.0v1.0h-1.0zM53.2,145.9h1.0v1.0h-1.0zM57.4,106.2h1.0v1.0h-1.0zM76.2,162h1.0v1.0h-1.0zM75.1,160.7h1.0v1.0h-1.0zM54.9,155h1.0v1.0h-1.0zM55.5,118.9h1.0v1.0h-1.0zM99.6,129.2h1.0v1.0h-1.0zM62.7,160.7h1.0v1.0h-1.0zM97.6,91.4h1.0v1.0h-1.0zM92.3,63.9h1.0v1.0h-1.0zM97.5,71.9h1.0v1.0h-1.0zM54.4,92.9h1.0v1.0h-1.0zM61.3,66h1.0v1.0h-1.0zM95.2,99.2h1.0v1.0h-1.0zM95.4,66.5h1.0v1.0h-1.0zM57.7,63.3h1.0v1.0h-1.0zM54.2,136.3h1.0v1.0h-1.0zM53.2,81.9h1.0v1.0h-1.0zM60.5,161.2h1.0v1.0h-1.0zM59,160.1h1.0v1.0h-1.0zM56,99.7h1.0v1.0h-1.0zM54.6,135.1h1.0v1.0h-1.0zM100.2,136.2h1.0v1.0h-1.0zM86,160.8h1.0v1.0h-1.0zM50.5,96.8h1.0v1.0h-1.0zM55.5,152.7h1.0v1.0h-1.0zM81.5,62.5h1.0v1.0h-1.0zM54.7,88.3h1.0v1.0h-1.0zM52.4,146.9h1.0v1.0h-1.0zM97.5,117.3h1.0v1.0h-1.0zM82.6,160.7h1.0v1.0h-1.0zM99.1,69.4h1.0v1.0h-1.0zM51.8,134.7h1.0v1.0h-1.0zM97.6,129.7h1.0v1.0h-1.0zM55.3,157.8h1.0v1.0h-1.0zM56.7,160.7h1.0v1.0h-1.0zM55.3,144.6h1.0v1.0h-1.0zM103.9,78.1h1.0v1.0h-1.0zM54.4,94h1.0v1.0h-1.0zM98.9,128.1h1.0v1.0h-1.0zM89.7,60.3h1.0v1.0h-1.0zM92.3,157.5h1.0v1.0h-1.0zM97.5,156.1h1.0v1.0h-1.0zM53.9,90.3h1.0v1.0h-1.0zM54.1,141.1h1.0v1.0h-1.0zM96.7,120h1.0v1.0h-1.0zM51,141.4h1.0v1.0h-1.0zM96.4,105.7h1.0v1.0h-1.0zM56.7,102.7h1.0v1.0h-1.0zM54.3,124.5h1.0v1.0h-1.0zM54.8,146.8h1.0v1.0h-1.0zM93,61.5h1.0v1.0h-1.0zM96.1,108.5h1.0v1.0h-1.0zM55.2,146.1h1.0v1.0h-1.0zM54.5,126h1.0v1.0h-1.0zM52.1,87.8h1.0v1.0h-1.0zM95.9,156.5h1.0v1.0h-1.0zM80.6,160.1h1.0v1.0h-1.0zM67.1,60.7h1.0v1.0h-1.0zM50.3,94.2h1.0v1.0h-1.0zM100.4,121.8h1.0v1.0h-1.0zM98.7,84.5h1.0v1.0h-1.0zM51.7,135.9h1.0v1.0h-1.0zM95.2,68.5h1.0v1.0h-1.0zM56.8,153.9h1.0v1.0h-1.0zM57.7,157.2h1.0v1.0h-1.0zM102,157.2h1.0v1.0h-1.0zM98.5,67.1h1.0v1.0h-1.0zM96.5,98.2h1.0v1.0h-1.0zM53.9,134.6h1.0v1.0h-1.0zM53.7,121.6h1.0v1.0h-1.0zM97.9,83h1.0v1.0h-1.0zM98.1,88.1h1.0v1.0h-1.0zM97.3,92.8h1.0v1.0h-1.0zM93.4,67.4h1.0v1.0h-1.0zM54.9,121.8h1.0v1.0h-1.0zM97.2,72.6h1.0v1.0h-1.0zM98.3,90.4h1.0v1.0h-1.0zM97.7,75h1.0v1.0h-1.0zM54.1,146.7h1.0v1.0h-1.0zM102.3,138.2h1.0v1.0h-1.0zM57.1,102.9h1.0v1.0h-1.0zM85,62.1h1.0v1.0h-1.0zM57.9,156.5h1.0v1.0h-1.0zM96.3,92.9h1.0v1.0h-1.0zM89.7,63.9h1.0v1.0h-1.0zM53.3,93h1.0v1.0h-1.0zM99,153.4h1.0v1.0h-1.0zM96.3,156.3h1.0v1.0h-1.0zM55.7,91.8h1.0v1.0h-1.0zM66.6,160h1.0v1.0h-1.0zM55.4,154.6h1.0v1.0h-1.0zM96.8,68.4h1.0v1.0h-1.0zM54.9,119.9h1.0v1.0h-1.0zM51.2,140.5h1.0v1.0h-1.0zM97,119.7h1.0v1.0h-1.0zM72.7,159.8h1.0v1.0h-1.0zM87.3,160h1.0v1.0h-1.0zM53,76.1h1.0v1.0h-1.0zM97.5,120.9h1.0v1.0h-1.0zM78.1,161.5h1.0v1.0h-1.0zM66.6,63.8h1.0v1.0h-1.0zM52.1,106.9h1.0v1.0h-1.0zM62.5,63.1h1.0v1.0h-1.0zM99.8,148.6h1.0v1.0h-1.0zM55.3,155.1h1.0v1.0h-1.0zM96.1,113.1h1.0v1.0h-1.0zM52.8,137.6h1.0v1.0h-1.0zM54.7,83.9h1.0v1.0h-1.0zM69.7,65.2h1.0v1.0h-1.0zM96.9,90.1h1.0v1.0h-1.0zM101,154.2h1.0v1.0h-1.0zM103.5,67h1.0v1.0h-1.0zM99.5,142h1.0v1.0h-1.0zM76.8,64.6h1.0v1.0h-1.0zM95.2,156.3h1.0v1.0h-1.0zM67,64.4h1.0v1.0h-1.0zM53.8,122.7h1.0v1.0h-1.0zM50.5,88h1.0v1.0h-1.0zM97.4,141h1.0v1.0h-1.0zM54.9,100.9h1.0v1.0h-1.0zM54.9,100.7h1.0v1.0h-1.0zM97.4,138.9h1.0v1.0h-1.0zM53.4,93.9h1.0v1.0h-1.0zM97.1,94.8h1.0v1.0h-1.0zM50.6,152h1.0v1.0h-1.0zM54.1,124.5h1.0v1.0h-1.0zM101.4,86.8h1.0v1.0h-1.0zM55,118.7h1.0v1.0h-1.0zM55.2,108.1h1.0v1.0h-1.0zM95.9,68.1h1.0v1.0h-1.0zM97.5,58.7h1.0v1.0h-1.0zM99.4,86.1h1.0v1.0h-1.0zM100,121.1h1.0v1.0h-1.0zM55.9,94.3h1.0v1.0h-1.0zM78.5,162.3h1.0v1.0h-1.0zM53.1,82h1.0v1.0h-1.0zM52.6,153.3h1.0v1.0h-1.0zM102.2,109h1.0v1.0h-1.0zM54.1,112.5h1.0v1.0h-1.0zM57.5,160.9h1.0v1.0h-1.0zM101.3,74.8h1.0v1.0h-1.0zM96.4,109.7h1.0v1.0h-1.0zM54.7,121.7h1.0v1.0h-1.0zM103.5,79.7h1.0v1.0h-1.0zM55,126.3h1.0v1.0h-1.0zM97.7,92.6h1.0v1.0h-1.0zM56.7,158.7h1.0v1.0h-1.0zM69,64.6h1.0v1.0h-1.0zM94.5,155.9h1.0v1.0h-1.0zM54.2,148.9h1.0v1.0h-1.0zM97.4,113.8h1.0v1.0h-1.0zM55.7,62.7h1.0v1.0h-1.0zM75.5,161.7h1.0v1.0h-1.0zM75.4,62.6h1.0v1.0h-1.0zM97,127.1h1.0v1.0h-1.0zM57,100.1h1.0v1.0h-1.0zM97.2,150.6h1.0v1.0h-1.0zM66.1,61.1h1.0v1.0h-1.0zM53.6,139.5h1.0v1.0h-1.0zM62.6,66.5h1.0v1.0h-1.0zM97.1,122.1h1.0v1.0h-1.0zM69.7,160.4h1.0v1.0h-1.0zM99,82.9h1.0v1.0h-1.0zM98.3,81.2h1.0v1.0h-1.0zM53.2,139.7h1.0v1.0h-1.0zM52.9,132.6h1.0v1.0h-1.0zM88.5,65.7h1.0v1.0h-1.0zM53.5,155.6h1.0v1.0h-1.0zM101.1,114.5h1.0v1.0h-1.0zM53.2,159.3h1.0v1.0h-1.0zM53.7,148.4h1.0v1.0h-1.0zM72.8,59h1.0v1.0h-1.0zM54.8,141.6h1.0v1.0h-1.0zM53.7,143.4h1.0v1.0h-1.0zM100.1,72.9h1.0v1.0h-1.0zM97.3,134.3h1.0v1.0h-1.0zM83.2,160.1h1.0v1.0h-1.0zM64.6,160.7h1.0v1.0h-1.0zM52.9,69.8h1.0v1.0h-1.0zM96.4,69.6h1.0v1.0h-1.0zM55.2,108.1h1.0v1.0h-1.0zM54.8,133.5h1.0v1.0h-1.0zM98.8,82h1.0v1.0h-1.0zM98,157.5h1.0v1.0h-1.0zM77.2,65.6h1.0v1.0h-1.0zM54.5,74.1h1.0v1.0h-1.0zM101,138.7h1.0v1.0h-1.0zM82.9,62.2h1.0v1.0h-1.0zM104.1,87h1.0v1.0h-1.0zM55.3,105.8h1.0v1.0h-1.0zM54.3,92.1h1.0v1.0h-1.0zM97.3,110.8h1.0v1.0h-1.0zM57.6,158.7h1.0v1.0h-1.0zM98.9,107.2h1.0v1.0h-1.0zM96.1,70.1h1.0v1.0h-1.0zM99,148.8h1.0v1.0h-1.0zM81.2,160.3h1.0v1.0h-1.0zM54.8,121.7h1.0v1.0h-1.0zM98.3,145.2h1.0v1.0h-1.0zM99.1,80.3h1.0v1.0h-1.0zM98.6,89.6h1.0v1.0h-1.0zM57.2,104.6h1.0v1.0h-1.0zM83.5,61.5h1.0v1.0h-1.0zM55.3,71h1.0v1.0h-1.0zM55.3,88.6h1.0v1.0h-1.0zM53.5,65.9h1.0v1.0h-1.0zM53.9,136.1h1.0v1.0h-1.0zM102.3,127.1h1.0v1.0h-1.0zM98.1,79.3h1.0v1.0h-1.0zM96.8,70.7h1.0v1.0h-1.0zM103.3,96.4h1.0v1.0h-1.0zM96.9,139h1.0v1.0h-1.0zM54.8,152.9h1.0v1.0h-1.0zM91.9,157.8h1.0v1.0h-1.0zM77.9,65.6h1.0v1.0h-1.0zM97.2,143.5h1.0v1.0h-1.0zM87.1,160.2h1.0v1.0h-1.0zM55.5,152.7h1.0v1.0h-1.0zM78.3,162.3h1.0v1.0h-1.0zM99.9,89.2h1.0v1.0h-1.0zM104.4,103.1h1.0v1.0h-1.0zM67.3,160.8h1.0v1.0h-1.0zM55.9,95.5h1.0v1.0h-1.0zM97.6,141.5h1.0v1.0h-1.0zM50.2,69.1h1.0v1.0h-1.0zM53,152.4h1.0v1.0h-1.0zM56.1,113.6h1.0v1.0h-1.0zM88.7,160.5h1.0v1.0h-1.0zM64.8,63.5h1.0v1.0h-1.0zM98,117.2h1.0v1.0h-1.0zM72.4,159.9h1.0v1.0h-1.0zM82.3,161.7h1.0v1.0h-1.0zM70.2,160.4h1.0v1.0h-1.0zM72.6,65.5h1.0v1.0h-1.0zM78.1,63.9h1.0v1.0h-1.0zM97.8,77.5h1.0v1.0h-1.0zM96.3,108.9h1.0v1.0h-1.0zM52.4,127.7h1.0v1.0h-1.0zM98.3,143.8h1.0v1.0h-1.0zM55.7,72.2h1.0v1.0h-1.0zM82.1,62.1h1.0v1.0h-1.0zM69.5,65.2h1.0v1.0h-1.0zM85.9,161.3h1.0v1.0h-1.0zM101.4,89.9h1.0v1.0h-1.0zM105,145.5h1.0v1.0h-1.0zM98.2,117.7h1.0v1.0h-1.0zM54.3,145.6h1.0v1.0h-1.0zM97.2,138.2h1.0v1.0h-1.0zM95.8,153.5h1.0v1.0h-1.0zM97.8,100.2h1.0v1.0h-1.0zM55.1,95.2h1.0v1.0h-1.0zM54.9,142.4h1.0v1.0h-1.0zM53.6,160.3h1.0v1.0h-1.0zM55.6,106.4h1.0v1.0h-1.0zM54,80h1.0v1.0h-1.0zM94.9,154.5h1.0v1.0h-1.0zM98.4,88.5h1.0v1.0h-1.0zM98.3,145.9h1.0v1.0h-1.0zM100,128.6h1.0v1.0h-1.0zM54.6,153.3h1.0v1.0h-1.0zM54,81.7h1.0v1.0h-1.0zM76.1,62.6h1.0v1.0h-1.0zM92.8,157.2h1.0v1.0h-1.0zM96.5,96.7h1.0v1.0h-1.0zM102.1,115h1.0v1.0h-1.0zM56.1,109.4h1.0v1.0h-1.0zM54,81.4h1.0v1.0h-1.0zM98.6,148.2h1.0v1.0h-1.0zM56.6,158.9h1.0v1.0h-1.0zM102.1,160h1.0v1.0h-1.0zM102.1,155.3h1.0v1.0h-1.0zM55.7,96.8h1.0v1.0h-1.0zM93,65.3h1.0v1.0h-1.0zM96.9,141.9h1.0v1.0h-1.0zM76.9,65.6h1.0v1.0h-1.0zM74.7,62.9h1.0v1.0h-1.0zM98.2,120.7h1.0v1.0h-1.0zM99,73.6h1.0v1.0h-1.0zM94.1,157.6h1.0v1.0h-1.0zM97.7,86.1h1.0v1.0h-1.0zM100.4,97h1.0v1.0h-1.0zM69.1,160.5h1.0v1.0h-1.0zM74.6,64.8h1.0v1.0h-1.0zM78.4,64.5h1.0v1.0h-1.0zM96.6,152.5h1.0v1.0h-1.0zM56.7,69.9h1.0v1.0h-1.0zM73.1,162.4h1.0v1.0h-1.0zM97.8,113.9h1.0v1.0h-1.0zM55.7,103.2h1.0v1.0h-1.0zM54.5,146.1h1.0v1.0h-1.0zM97.8,75.7h1.0v1.0h-1.0zM51.9,88.2h1.0v1.0h-1.0zM97.6,148.7h1.0v1.0h-1.0zM55,153.8h1.0v1.0h-1.0zM98.1,81.6h1.0v1.0h-1.0zM101,80.5h1.0v1.0h-1.0zM55.6,91.7h1.0v1.0h-1.0zM94.7,65.8h1.0v1.0h-1.0zM100.1,119.6h1.0v1.0h-1.0zM54.5,149h1.0v1.0h-1.0zM84.3,65h1.0v1.0h-1.0zM61,66h1.0v1.0h-1.0zM54.7,157.6h1.0v1.0h-1.0zM99,63.8h1.0v1.0h-1.0zM83.2,160.2h1.0v1.0h-1.0zM95.2,104.4h1.0v1.0h-1.0zM62.4,65.9h1.0v1.0h-1.0zM95.6,153h1.0v1.0h-1.0zM95.2,67.3h1.0v1.0h-1.0zM89.1,66.4h1.0v1.0h-1.0zM68.2,65.2h1.0v1.0h-1.0zM55.3,148.4h1.0v1.0h-1.0zM53.6,134.5h1.0v1.0h-1.0zM85.2,161.2h1.0v1.0h-1.0zM96.1,150.3h1.0v1.0h-1.0zM53,148.1h1.0v1.0h-1.0zM77.8,161.3h1.0v1.0h-1.0zM52.7,87h1.0v1.0h-1.0zM97.3,112.1h1.0v1.0h-1.0zM97,142.6h1.0v1.0h-1.0zM97.4,97.7h1.0v1.0h-1.0zM51.8,77.4h1.0v1.0h-1.0zM98.8,89.4h1.0v1.0h-1.0zM98.8,137.7h1.0v1.0h-1.0zM53.3,134.1h1.0v1.0h-1.0zM99.1,126.5h1.0v1.0h-1.0zM99.5,76.7h1.0v1.0h-1.0zM55.1,126.5h1.0v1.0h-1.0zM97.6,71.7h1.0v1.0h-1.0zM51.6,124.5h1.0v1.0h-1.0zM78.8,160.2h1.0v1.0h-1.0zM63,160.9h1.0v1.0h-1.0zM51,108h1.0v1.0h-1.0zM100.7,91.9h1.0v1.0h-1.0zM94.7,66.9h1.0v1.0h-1.0zM54.8,78.8h1.0v1.0h-1.0zM100.7,151.4h1.0v1.0h-1.0zM52.7,80.4h1.0v1.0h-1.0zM102.5,114.4h1.0v1.0h-1.0zM57.3,102.2h1.0v1.0h-1.0zM54.6,138.4h1.0v1.0h-1.0zM97.4,59.4h1.0v1.0h-1.0zM98.2,114.6h1.0v1.0h-1.0zM54.2,154.9h1.0v1.0h-1.0zM90.9,161.6h1.0v1.0h-1.0zM100.5,85.1h1.0v1.0h-1.0zM91.8,157.9h1.0v1.0h-1.0zM97.7,72.8h1.0v1.0h-1.0zM93.7,64.7h1.0v1.0h-1.0zM90,161.3h1.0v1.0h-1.0zM98.2,124.6h1.0v1.0h-1.0zM98.4,76.4h1.0v1.0h-1.0zM54.3,131h1.0v1.0h-1.0zM77.2,65.2h1.0v1.0h-1.0zM96.9,89.5h1.0v1.0h-1.0zM97.3,115.7h1.0v1.0h-1.0zM55,117.4h1.0v1.0h-1.0zM97.6,85.9h1.0v1.0h-1.0zM53.3,147.9h1.0v1.0h-1.0zM53.8,127.2h1.0v1.0h-1.0zM75.6,162.3h1.0v1.0h-1.0zM66.6,64.6h1.0v1.0h-1.0zM55.1,87.8h1.0v1.0h-1.0zM100.6,145.3h1.0v1.0h-1.0zM104.3,145.5h1.0v1.0h-1.0zM53.9,79.4h1.0v1.0h-1.0zM88.7,159.7h1.0v1.0h-1.0zM54,87.1h1.0v1.0h-1.0zM96.9,118h1.0v1.0h-1.0zM98.1,126.2h1.0v1.0h-1.0zM56.3,112.5h1.0v1.0h-1.0zM55.1,98.5h1.0v1.0h-1.0zM54.8,88.6h1.0v1.0h-1.0zM51.7,122.3h1.0v1.0h-1.0zM56.7,65.2h1.0v1.0h-1.0zM54.5,152.9h1.0v1.0h-1.0zM88.7,159.2h1.0v1.0h-1.0zM98.5,127.7h1.0v1.0h-1.0zM98,69.6h1.0v1.0h-1.0zM70.5,160.5h1.0v1.0h-1.0zM92.2,160.7h1.0v1.0h-1.0zM100.5,150.1h1.0v1.0h-1.0zM52.9,120.4h1.0v1.0h-1.0zM95.7,104.9h1.0v1.0h-1.0zM81.8,161.1h1.0v1.0h-1.0zM95.1,158.3h1.0v1.0h-1.0zM94.1,68h1.0v1.0h-1.0zM54.4,97.3h1.0v1.0h-1.0zM95.7,160.3h1.0v1.0h-1.0zM56,113.4h1.0v1.0h-1.0zM98.5,110.7h1.0v1.0h-1.0zM80.9,160.6h1.0v1.0h-1.0zM60.5,67.1h1.0v1.0h-1.0zM100.1,150.7h1.0v1.0h-1.0zM98.3,130.9h1.0v1.0h-1.0zM53.9,64.4h1.0v1.0h-1.0zM55.4,152.8h1.0v1.0h-1.0zM56.1,66.9h1.0v1.0h-1.0zM98.1,100.1h1.0v1.0h-1.0zM100,140.1h1.0v1.0h-1.0zM96.9,149.4h1.0v1.0h-1.0zM98.2,128.3h1.0v1.0h-1.0zM97.7,136.7h1.0v1.0h-1.0zM97.3,126.4h1.0v1.0h-1.0zM94.8,154.1h1.0v1.0h-1.0zM94.3,156h1.0v1.0h-1.0zM79.8,63.9h1.0v1.0h-1.0zM54.2,158h1.0v1.0h-1.0zM80.5,62.7h1.0v1.0h-1.0zM100.5,144.2h1.0v1.0h-1.0zM97.7,100.9h1.0v1.0h-1.0zM96.3,111.1h1.0v1.0h-1.0zM99,103.7h1.0v1.0h-1.0zM101.7,115.1h1.0v1.0h-1.0zM55.1,75.4h1.0v1.0h-1.0zM99,88.6h1.0v1.0h-1.0zM99.5,115.9h1.0v1.0h-1.0z" fill="#2238f6" fill-opacity="0.85"/>
<ellipse cx="75.2" cy="87.2" rx="21.6" ry="16.2" fill="#3a74f8" filter="url(#ca1)"/>
<ellipse cx="75.2" cy="86.2" rx="18.200000000000003" ry="13.299999999999999" fill="#4cc4f0" filter="url(#ba1)"/>
<ellipse cx="75.2" cy="86.2" rx="16.6" ry="11.7" fill="#8ee44a" filter="url(#ba1)"/>
<ellipse cx="75.2" cy="85.35" rx="13.65" ry="9.5" fill="#b4e63c" filter="url(#ba1)"/>
<ellipse cx="75.2" cy="84.5" rx="10.7" ry="7.3" fill="#ece42e" filter="url(#ba1)"/>
<ellipse cx="75.2" cy="84.15" rx="8.75" ry="5.8999999999999995" fill="#f0a024" filter="url(#ba1)"/>
<ellipse cx="75.2" cy="83.8" rx="6.8" ry="3.9" fill="#dc3a18" filter="url(#ba1)"/>
<ellipse cx="75.2" cy="83.8" rx="4.08" ry="2.34" fill="#d42c16" filter="url(#ba1)"/>
<ellipse cx="75.3" cy="133" rx="16.6" ry="23.4" fill="#3468f8" filter="url(#ca1)"/>
<ellipse cx="75.8" cy="135" rx="17.2" ry="21.5" fill="#3a74f8" filter="url(#ca1)"/>
<ellipse cx="75.8" cy="135" rx="13.2" ry="17.5" fill="#56c0f0" filter="url(#ca1)"/>
<ellipse cx="75.8" cy="136.5" rx="10.7" ry="14.1" fill="#7cdcb0" filter="url(#ba1)"/>
<ellipse cx="75.8" cy="138" rx="8.2" ry="10.7" fill="#a2e646" filter="url(#ba1)"/>
<path d="M136.1,75.6h1.0v1.0h-1.0zM124,89.6h1.0v1.0h-1.0zM127.7,90.3h1.0v1.0h-1.0zM126.2,89.2h1.0v1.0h-1.0zM130.3,83.6h1.0v1.0h-1.0zM132.8,80.6h1.0v1.0h-1.0zM125.3,88.8h1.0v1.0h-1.0zM126,87.1h1.0v1.0h-1.0zM121.2,97.8h1.0v1.0h-1.0zM125.5,86.4h1.0v1.0h-1.0zM121,88.3h1.0v1.0h-1.0zM130.5,76.5h1.0v1.0h-1.0zM136.5,76.7h1.0v1.0h-1.0zM124.3,88.2h1.0v1.0h-1.0zM134,85.2h1.0v1.0h-1.0zM135.6,78.4h1.0v1.0h-1.0zM130.4,83.7h1.0v1.0h-1.0zM122.7,91.3h1.0v1.0h-1.0zM120.3,89.3h1.0v1.0h-1.0zM130.7,82.4h1.0v1.0h-1.0zM134.3,78.2h1.0v1.0h-1.0zM128,89.4h1.0v1.0h-1.0zM131.8,80.3h1.0v1.0h-1.0zM126.2,81.9h1.0v1.0h-1.0zM140.8,82.3h1.0v1.0h-1.0zM143,77.1h1.0v1.0h-1.0zM132,81.1h1.0v1.0h-1.0zM124.3,86.9h1.0v1.0h-1.0zM131.7,81.5h1.0v1.0h-1.0zM120.1,95.4h1.0v1.0h-1.0zM135.7,76.1h1.0v1.0h-1.0zM131.2,73.9h1.0v1.0h-1.0zM126.8,83.6h1.0v1.0h-1.0zM126.7,81.8h1.0v1.0h-1.0zM125.5,74h1.0v1.0h-1.0zM125.9,81.9h1.0v1.0h-1.0zM135.4,76.4h1.0v1.0h-1.0zM139.2,78.8h1.0v1.0h-1.0zM142.4,74.8h1.0v1.0h-1.0zM130.1,80.6h1.0v1.0h-1.0zM136.7,86.9h1.0v1.0h-1.0zM126.2,88.4h1.0v1.0h-1.0zM135.9,76.7h1.0v1.0h-1.0zM130.6,78.8h1.0v1.0h-1.0zM131.8,82.9h1.0v1.0h-1.0zM133.7,83.2h1.0v1.0h-1.0zM116.3,85.5h1.0v1.0h-1.0zM118.8,99.1h1.0v1.0h-1.0zM121.2,82h1.0v1.0h-1.0zM135.3,82.1h1.0v1.0h-1.0zM129.5,83.3h1.0v1.0h-1.0zM124.8,88h1.0v1.0h-1.0zM135.7,80.8h1.0v1.0h-1.0zM136.8,64.8h1.0v1.0h-1.0zM125.5,83.9h1.0v1.0h-1.0zM129,79.2h1.0v1.0h-1.0zM127.4,86.2h1.0v1.0h-1.0zM131.1,77.7h1.0v1.0h-1.0zM128.3,83h1.0v1.0h-1.0zM129.7,86.5h1.0v1.0h-1.0zM125.9,87.5h1.0v1.0h-1.0zM127.4,83.8h1.0v1.0h-1.0zM133.4,87.2h1.0v1.0h-1.0zM128.4,83.4h1.0v1.0h-1.0zM126.5,85h1.0v1.0h-1.0zM128.7,86.5h1.0v1.0h-1.0zM124.7,88.9h1.0v1.0h-1.0zM128.4,75.9h1.0v1.0h-1.0zM121.4,89.5h1.0v1.0h-1.0zM127.2,84h1.0v1.0h-1.0zM133.2,74.8h1.0v1.0h-1.0zM125.9,89.9h1.0v1.0h-1.0zM131.1,83.8h1.0v1.0h-1.0zM120,89.1h1.0v1.0h-1.0zM134.7,86.3h1.0v1.0h-1.0zM134.5,84.5h1.0v1.0h-1.0zM138.6,80.8h1.0v1.0h-1.0zM132.4,82.8h1.0v1.0h-1.0zM136.4,79.7h1.0v1.0h-1.0zM128.7,88.3h1.0v1.0h-1.0zM132.7,78.7h1.0v1.0h-1.0zM131.7,88.1h1.0v1.0h-1.0zM129.1,82.5h1.0v1.0h-1.0zM129.8,82.8h1.0v1.0h-1.0zM132.6,81.3h1.0v1.0h-1.0zM132.1,80.6h1.0v1.0h-1.0zM116.9,92h1.0v1.0h-1.0zM125.1,81.4h1.0v1.0h-1.0zM134.3,86.3h1.0v1.0h-1.0zM123.9,87.3h1.0v1.0h-1.0zM132.1,79.4h1.0v1.0h-1.0zM136.4,78.9h1.0v1.0h-1.0zM126.2,83h1.0v1.0h-1.0zM129.8,85.7h1.0v1.0h-1.0zM130.3,85.8h1.0v1.0h-1.0zM129.4,79.7h1.0v1.0h-1.0zM132.6,84.5h1.0v1.0h-1.0zM129.2,80.1h1.0v1.0h-1.0zM137.5,77.5h1.0v1.0h-1.0zM132.5,82h1.0v1.0h-1.0zM137.6,83h1.0v1.0h-1.0zM126.5,84.2h1.0v1.0h-1.0zM127.3,89.9h1.0v1.0h-1.0zM123.9,80.9h1.0v1.0h-1.0zM141.8,69.2h1.0v1.0h-1.0zM124,91.1h1.0v1.0h-1.0zM130.6,85.8h1.0v1.0h-1.0zM137.6,80.5h1.0v1.0h-1.0zM130.6,80.9h1.0v1.0h-1.0zM132,88.2h1.0v1.0h-1.0zM123.2,90.1h1.0v1.0h-1.0zM115.9,91.4h1.0v1.0h-1.0zM124.7,85.6h1.0v1.0h-1.0zM133.1,79.9h1.0v1.0h-1.0zM129.8,81.3h1.0v1.0h-1.0zM124.5,83.8h1.0v1.0h-1.0zM131.9,84.6h1.0v1.0h-1.0zM125.8,87.5h1.0v1.0h-1.0zM137.6,76.6h1.0v1.0h-1.0zM133.7,81.8h1.0v1.0h-1.0zM129.4,81.8h1.0v1.0h-1.0zM137.3,77h1.0v1.0h-1.0zM133.4,85.2h1.0v1.0h-1.0zM129.5,81h1.0v1.0h-1.0zM135.2,81h1.0v1.0h-1.0zM129.7,80.5h1.0v1.0h-1.0zM129,88.5h1.0v1.0h-1.0zM135.4,80.6h1.0v1.0h-1.0zM136.1,77.4h1.0v1.0h-1.0zM131.3,80.8h1.0v1.0h-1.0zM129.8,81.3h1.0v1.0h-1.0zM137.7,75.6h1.0v1.0h-1.0zM136.2,78.4h1.0v1.0h-1.0zM130.9,78.4h1.0v1.0h-1.0zM129.1,80.3h1.0v1.0h-1.0zM135.7,81.9h1.0v1.0h-1.0zM135.9,79.1h1.0v1.0h-1.0zM132.5,80.9h1.0v1.0h-1.0zM130.6,86.6h1.0v1.0h-1.0zM131.4,84.7h1.0v1.0h-1.0zM135.6,72.5h1.0v1.0h-1.0zM125.4,87.1h1.0v1.0h-1.0zM133.2,86.6h1.0v1.0h-1.0zM127.4,84.7h1.0v1.0h-1.0zM126.6,88.3h1.0v1.0h-1.0zM123,81.8h1.0v1.0h-1.0zM131,83.5h1.0v1.0h-1.0zM134.7,74.3h1.0v1.0h-1.0zM129.9,83.5h1.0v1.0h-1.0zM134.2,78.1h1.0v1.0h-1.0zM130,91.2h1.0v1.0h-1.0zM135.6,81.1h1.0v1.0h-1.0zM125.8,87.9h1.0v1.0h-1.0zM138.6,81.3h1.0v1.0h-1.0zM128.5,80.9h1.0v1.0h-1.0zM135.3,77.7h1.0v1.0h-1.0zM126.5,79.8h1.0v1.0h-1.0zM136.9,81.7h1.0v1.0h-1.0zM134.5,77.8h1.0v1.0h-1.0zM121.2,83.1h1.0v1.0h-1.0zM132.3,83.9h1.0v1.0h-1.0zM131.7,83.1h1.0v1.0h-1.0zM133.4,74.8h1.0v1.0h-1.0zM129.8,82.8h1.0v1.0h-1.0zM132.2,82.7h1.0v1.0h-1.0zM131.3,87.6h1.0v1.0h-1.0zM140.8,81.1h1.0v1.0h-1.0zM131.9,80.2h1.0v1.0h-1.0zM125.1,86.7h1.0v1.0h-1.0zM131.9,84.4h1.0v1.0h-1.0zM122.7,87.8h1.0v1.0h-1.0zM137,80.9h1.0v1.0h-1.0zM130.9,83.6h1.0v1.0h-1.0zM131.8,75.1h1.0v1.0h-1.0zM141.7,83h1.0v1.0h-1.0zM124.7,86.5h1.0v1.0h-1.0zM122.5,82.1h1.0v1.0h-1.0zM139.5,79.4h1.0v1.0h-1.0zM139.6,78.3h1.0v1.0h-1.0zM128.1,82h1.0v1.0h-1.0zM129.4,79.4h1.0v1.0h-1.0zM121.4,95.6h1.0v1.0h-1.0zM136.6,84.7h1.0v1.0h-1.0zM133.7,77.5h1.0v1.0h-1.0zM125.3,84h1.0v1.0h-1.0zM137.4,81.3h1.0v1.0h-1.0zM129.8,80.7h1.0v1.0h-1.0zM131.4,83.1h1.0v1.0h-1.0zM125.1,84.8h1.0v1.0h-1.0zM135.2,82.5h1.0v1.0h-1.0zM131.3,81.3h1.0v1.0h-1.0zM133.5,77.9h1.0v1.0h-1.0zM132.9,75.4h1.0v1.0h-1.0zM126.8,80.9h1.0v1.0h-1.0zM129.9,87.7h1.0v1.0h-1.0zM125.9,78.3h1.0v1.0h-1.0zM132.2,75.1h1.0v1.0h-1.0zM133.1,79.5h1.0v1.0h-1.0zM127.9,84.6h1.0v1.0h-1.0zM134.6,76.9h1.0v1.0h-1.0zM138.9,78.2h1.0v1.0h-1.0zM130.1,86.2h1.0v1.0h-1.0zM133,82.4h1.0v1.0h-1.0zM140.3,73.8h1.0v1.0h-1.0zM130.6,81.4h1.0v1.0h-1.0zM135.9,83.4h1.0v1.0h-1.0zM126.4,78.7h1.0v1.0h-1.0zM132.9,77h1.0v1.0h-1.0zM129.2,88.1h1.0v1.0h-1.0zM137.7,79.7h1.0v1.0h-1.0zM139.1,77.8h1.0v1.0h-1.0zM139.7,81h1.0v1.0h-1.0zM128,90.7h1.0v1.0h-1.0zM128.8,86.3h1.0v1.0h-1.0zM130.5,83.9h1.0v1.0h-1.0zM129.2,80h1.0v1.0h-1.0zM125.9,83.2h1.0v1.0h-1.0zM122.6,82.2h1.0v1.0h-1.0zM126.5,81.9h1.0v1.0h-1.0zM134.7,76h1.0v1.0h-1.0zM134.2,78.8h1.0v1.0h-1.0zM126.6,86.8h1.0v1.0h-1.0zM132.8,84.8h1.0v1.0h-1.0zM135,82.8h1.0v1.0h-1.0zM136.2,78.3h1.0v1.0h-1.0zM132.6,85.7h1.0v1.0h-1.0zM135.9,76h1.0v1.0h-1.0zM134.6,85.1h1.0v1.0h-1.0zM133.1,78h1.0v1.0h-1.0zM120,83.4h1.0v1.0h-1.0zM127.8,81.8h1.0v1.0h-1.0zM125.7,84.9h1.0v1.0h-1.0zM137.1,79.4h1.0v1.0h-1.0zM131,87.9h1.0v1.0h-1.0zM136.8,79.5h1.0v1.0h-1.0zM133.9,80.7h1.0v1.0h-1.0zM133.6,71.3h1.0v1.0h-1.0zM132,84.9h1.0v1.0h-1.0zM132.2,80.9h1.0v1.0h-1.0zM134.4,78.3h1.0v1.0h-1.0zM125.4,81.2h1.0v1.0h-1.0zM120.9,84.1h1.0v1.0h-1.0zM131.5,82.9h1.0v1.0h-1.0zM120.6,87.7h1.0v1.0h-1.0zM122.5,91.4h1.0v1.0h-1.0zM123.4,85.5h1.0v1.0h-1.0zM128.6,87.1h1.0v1.0h-1.0zM131.6,79.7h1.0v1.0h-1.0zM126.8,87.8h1.0v1.0h-1.0zM132.4,76.5h1.0v1.0h-1.0zM138.5,79.7h1.0v1.0h-1.0zM133.7,76.4h1.0v1.0h-1.0zM132.7,84.3h1.0v1.0h-1.0zM130.1,82.5h1.0v1.0h-1.0zM130.2,83.4h1.0v1.0h-1.0zM131.3,80.1h1.0v1.0h-1.0zM140.5,74.7h1.0v1.0h-1.0zM125.7,82h1.0v1.0h-1.0zM128.1,84.9h1.0v1.0h-1.0zM130.3,82.2h1.0v1.0h-1.0zM145.5,69.1h1.0v1.0h-1.0zM134.6,79.2h1.0v1.0h-1.0zM136,80h1.0v1.0h-1.0zM140.8,74.4h1.0v1.0h-1.0zM129.9,82.2h1.0v1.0h-1.0zM137.8,80.6h1.0v1.0h-1.0zM129.5,81.1h1.0v1.0h-1.0zM123.3,87.1h1.0v1.0h-1.0zM131.1,78.6h1.0v1.0h-1.0zM123.8,80.5h1.0v1.0h-1.0zM130,78.3h1.0v1.0h-1.0zM128.3,89.6h1.0v1.0h-1.0zM130.3,84.3h1.0v1.0h-1.0zM135.6,74.4h1.0v1.0h-1.0zM134.8,86.8h1.0v1.0h-1.0zM133.7,83.2h1.0v1.0h-1.0zM131.7,88.9h1.0v1.0h-1.0zM132.1,83.1h1.0v1.0h-1.0zM126.1,84.2h1.0v1.0h-1.0zM127.2,85.8h1.0v1.0h-1.0zM135.2,86.4h1.0v1.0h-1.0zM133.5,83.8h1.0v1.0h-1.0zM139.3,79.4h1.0v1.0h-1.0zM132.5,86.7h1.0v1.0h-1.0zM131.6,83.8h1.0v1.0h-1.0zM134.9,80.5h1.0v1.0h-1.0zM128,81.7h1.0v1.0h-1.0zM131,77.7h1.0v1.0h-1.0zM138.7,74.9h1.0v1.0h-1.0zM130.8,85.6h1.0v1.0h-1.0zM129.4,90.8h1.0v1.0h-1.0zM125.5,82.6h1.0v1.0h-1.0zM137.6,82.6h1.0v1.0h-1.0zM136.6,81.7h1.0v1.0h-1.0zM130.3,84.8h1.0v1.0h-1.0zM128.1,87.1h1.0v1.0h-1.0zM127.6,79.1h1.0v1.0h-1.0zM126.3,86.3h1.0v1.0h-1.0zM130.2,86.9h1.0v1.0h-1.0zM122.7,88.9h1.0v1.0h-1.0zM132.1,85.4h1.0v1.0h-1.0zM138.5,74.9h1.0v1.0h-1.0zM138.9,81.2h1.0v1.0h-1.0zM123.5,85.7h1.0v1.0h-1.0zM133.2,85h1.0v1.0h-1.0zM125.9,84.2h1.0v1.0h-1.0zM138.2,75.5h1.0v1.0h-1.0zM129.8,81h1.0v1.0h-1.0zM125.4,85.2h1.0v1.0h-1.0zM125.5,81.2h1.0v1.0h-1.0zM139.8,69.4h1.0v1.0h-1.0zM130.1,84.5h1.0v1.0h-1.0zM121.8,87.7h1.0v1.0h-1.0zM128.1,91.2h1.0v1.0h-1.0zM125.5,83.4h1.0v1.0h-1.0zM137,79.9h1.0v1.0h-1.0zM128,83.4h1.0v1.0h-1.0zM129.9,83.1h1.0v1.0h-1.0zM132.9,85h1.0v1.0h-1.0zM136.2,78.7h1.0v1.0h-1.0zM130.2,86.9h1.0v1.0h-1.0zM125.9,87.7h1.0v1.0h-1.0zM132.8,80.6h1.0v1.0h-1.0zM132.7,78.1h1.0v1.0h-1.0zM128.9,83.2h1.0v1.0h-1.0zM125.5,82.7h1.0v1.0h-1.0zM128.3,87.3h1.0v1.0h-1.0zM135.1,81h1.0v1.0h-1.0zM133.5,85.2h1.0v1.0h-1.0zM140.3,78.8h1.0v1.0h-1.0zM134.4,78.5h1.0v1.0h-1.0zM126.4,88.3h1.0v1.0h-1.0zM123.6,86.9h1.0v1.0h-1.0zM126.3,85.9h1.0v1.0h-1.0zM125.3,86.5h1.0v1.0h-1.0zM126.2,78.9h1.0v1.0h-1.0zM122.9,89.4h1.0v1.0h-1.0zM129.3,87h1.0v1.0h-1.0zM135.4,79.4h1.0v1.0h-1.0zM143.8,73.5h1.0v1.0h-1.0zM129.4,83.4h1.0v1.0h-1.0zM132.1,79.4h1.0v1.0h-1.0zM136.3,82.4h1.0v1.0h-1.0zM126.4,75.8h1.0v1.0h-1.0zM130.6,80.2h1.0v1.0h-1.0zM130.3,85.1h1.0v1.0h-1.0zM129.7,79.7h1.0v1.0h-1.0zM137.7,82.4h1.0v1.0h-1.0zM130.7,82.1h1.0v1.0h-1.0zM134.7,80.3h1.0v1.0h-1.0zM127.9,83.7h1.0v1.0h-1.0zM129.4,81.2h1.0v1.0h-1.0zM131.3,80.7h1.0v1.0h-1.0zM134.9,76.9h1.0v1.0h-1.0zM128.2,90.6h1.0v1.0h-1.0zM124,91h1.0v1.0h-1.0zM136.8,79.1h1.0v1.0h-1.0zM134.3,80.2h1.0v1.0h-1.0zM134,80.2h1.0v1.0h-1.0zM129.5,79.6h1.0v1.0h-1.0zM132.8,81.8h1.0v1.0h-1.0zM140.6,88.6h1.0v1.0h-1.0zM132.7,78h1.0v1.0h-1.0zM123.1,89.6h1.0v1.0h-1.0zM135.5,85.6h1.0v1.0h-1.0zM133.3,82.2h1.0v1.0h-1.0zM131.7,80.8h1.0v1.0h-1.0zM128.5,83.8h1.0v1.0h-1.0zM127.4,84.2h1.0v1.0h-1.0zM130.6,80.5h1.0v1.0h-1.0zM133.5,83.3h1.0v1.0h-1.0zM137.7,75.5h1.0v1.0h-1.0zM139.8,75.2h1.0v1.0h-1.0zM122.4,83.5h1.0v1.0h-1.0zM133.7,79.2h1.0v1.0h-1.0zM136.7,73.8h1.0v1.0h-1.0zM127.8,82.3h1.0v1.0h-1.0zM125.3,82.7h1.0v1.0h-1.0zM137.2,82.4h1.0v1.0h-1.0zM135.4,78.2h1.0v1.0h-1.0zM121.9,88.4h1.0v1.0h-1.0zM129.7,87.7h1.0v1.0h-1.0zM132.4,82.7h1.0v1.0h-1.0zM133,74.6h1.0v1.0h-1.0zM132.8,82.1h1.0v1.0h-1.0zM129.4,84.7h1.0v1.0h-1.0zM128.3,85.7h1.0v1.0h-1.0zM127.7,81.9h1.0v1.0h-1.0zM123.2,87.9h1.0v1.0h-1.0zM131.6,77.3h1.0v1.0h-1.0zM129,84.9h1.0v1.0h-1.0zM131.5,78.1h1.0v1.0h-1.0zM127.5,86.3h1.0v1.0h-1.0zM130.5,80.9h1.0v1.0h-1.0zM126.5,83.1h1.0v1.0h-1.0zM135.9,79.6h1.0v1.0h-1.0zM140,77.9h1.0v1.0h-1.0zM132.5,79.8h1.0v1.0h-1.0zM128.5,83.4h1.0v1.0h-1.0zM133.1,77.5h1.0v1.0h-1.0zM129.2,85.3h1.0v1.0h-1.0zM120.5,91.3h1.0v1.0h-1.0zM122.8,86.2h1.0v1.0h-1.0zM132.8,80.7h1.0v1.0h-1.0zM126.7,83h1.0v1.0h-1.0zM130.3,87.3h1.0v1.0h-1.0zM125.9,90.4h1.0v1.0h-1.0zM125.3,83.5h1.0v1.0h-1.0zM132.1,88h1.0v1.0h-1.0zM139.8,80.5h1.0v1.0h-1.0zM123.2,88.2h1.0v1.0h-1.0zM131,80h1.0v1.0h-1.0zM118.7,89.8h1.0v1.0h-1.0zM125.8,91.8h1.0v1.0h-1.0zM124.8,90.4h1.0v1.0h-1.0zM115.8,90.8h1.0v1.0h-1.0zM135.9,76.5h1.0v1.0h-1.0zM134.7,79.1h1.0v1.0h-1.0zM129.2,84.5h1.0v1.0h-1.0zM137.5,84.8h1.0v1.0h-1.0zM128.2,84.8h1.0v1.0h-1.0zM126.7,82.6h1.0v1.0h-1.0zM121.4,80.5h1.0v1.0h-1.0zM137.5,78.5h1.0v1.0h-1.0zM128.3,82.8h1.0v1.0h-1.0zM133.7,82.4h1.0v1.0h-1.0zM135.9,81.6h1.0v1.0h-1.0zM128.4,83.2h1.0v1.0h-1.0zM136.9,78.8h1.0v1.0h-1.0zM127.2,89.7h1.0v1.0h-1.0zM128,82.5h1.0v1.0h-1.0zM135.3,78.7h1.0v1.0h-1.0zM123.6,83.3h1.0v1.0h-1.0zM135,87.1h1.0v1.0h-1.0zM125.2,90.1h1.0v1.0h-1.0zM120.8,89.2h1.0v1.0h-1.0zM138.9,73h1.0v1.0h-1.0zM135.7,82.1h1.0v1.0h-1.0zM139.8,81.9h1.0v1.0h-1.0zM139.3,82h1.0v1.0h-1.0zM121.3,88.3h1.0v1.0h-1.0zM129.5,88.4h1.0v1.0h-1.0zM128.2,80.7h1.0v1.0h-1.0zM127.7,83.3h1.0v1.0h-1.0zM132.4,80.9h1.0v1.0h-1.0zM128.4,84.6h1.0v1.0h-1.0zM120.8,96.1h1.0v1.0h-1.0zM126.3,81.5h1.0v1.0h-1.0zM128,81.6h1.0v1.0h-1.0zM126.9,94.1h1.0v1.0h-1.0zM132.6,81.9h1.0v1.0h-1.0zM125.1,82.1h1.0v1.0h-1.0zM130.3,87.8h1.0v1.0h-1.0zM132.4,81.1h1.0v1.0h-1.0zM120.2,90h1.0v1.0h-1.0zM128.5,78.9h1.0v1.0h-1.0zM125.5,92.8h1.0v1.0h-1.0zM123.5,84.1h1.0v1.0h-1.0zM134.7,84.6h1.0v1.0h-1.0zM134.8,77.2h1.0v1.0h-1.0zM135.5,84.3h1.0v1.0h-1.0zM121.2,83.3h1.0v1.0h-1.0zM121.3,85.9h1.0v1.0h-1.0zM135.2,83.2h1.0v1.0h-1.0zM129,86h1.0v1.0h-1.0zM129.5,80.3h1.0v1.0h-1.0zM126.9,76.6h1.0v1.0h-1.0zM128.7,86.6h1.0v1.0h-1.0zM130.7,77.4h1.0v1.0h-1.0zM132.4,84.4h1.0v1.0h-1.0zM126.1,74.3h1.0v1.0h-1.0zM124.5,89.6h1.0v1.0h-1.0zM132.6,76h1.0v1.0h-1.0zM129.6,87.6h1.0v1.0h-1.0zM135,79.1h1.0v1.0h-1.0zM133.4,81.5h1.0v1.0h-1.0zM131.3,80.3h1.0v1.0h-1.0zM126.6,87.6h1.0v1.0h-1.0zM133.8,81.7h1.0v1.0h-1.0zM133.2,83.4h1.0v1.0h-1.0zM131.8,88.5h1.0v1.0h-1.0zM132.2,83.9h1.0v1.0h-1.0zM125.5,82h1.0v1.0h-1.0zM130.8,86.4h1.0v1.0h-1.0zM124.5,83.2h1.0v1.0h-1.0zM129.3,87.6h1.0v1.0h-1.0zM135.1,83.7h1.0v1.0h-1.0zM118.2,86.1h1.0v1.0h-1.0zM132.9,81.4h1.0v1.0h-1.0zM128.8,82.6h1.0v1.0h-1.0zM130.3,85.8h1.0v1.0h-1.0zM126.4,78.5h1.0v1.0h-1.0zM126.6,80.3h1.0v1.0h-1.0zM128.4,86.4h1.0v1.0h-1.0zM132.6,82.2h1.0v1.0h-1.0zM129.3,78.7h1.0v1.0h-1.0zM133.5,83.7h1.0v1.0h-1.0zM129.3,84.2h1.0v1.0h-1.0zM125,85h1.0v1.0h-1.0zM137,74.6h1.0v1.0h-1.0zM124.7,77.5h1.0v1.0h-1.0zM123.7,93.3h1.0v1.0h-1.0zM131.8,78.6h1.0v1.0h-1.0zM128.1,80.6h1.0v1.0h-1.0zM130,85.4h1.0v1.0h-1.0zM123.3,88h1.0v1.0h-1.0zM132.6,76.7h1.0v1.0h-1.0zM131,84.9h1.0v1.0h-1.0zM129.8,82.7h1.0v1.0h-1.0zM127.8,84.2h1.0v1.0h-1.0zM126,85h1.0v1.0h-1.0zM131.2,78.4h1.0v1.0h-1.0zM133.8,73.8h1.0v1.0h-1.0zM134.8,76.8h1.0v1.0h-1.0zM129.2,91.1h1.0v1.0h-1.0zM125.7,84.1h1.0v1.0h-1.0zM125.8,80.7h1.0v1.0h-1.0zM126.5,83.5h1.0v1.0h-1.0zM127.1,79.5h1.0v1.0h-1.0zM130,75.8h1.0v1.0h-1.0zM124.6,78.5h1.0v1.0h-1.0zM129.3,79.7h1.0v1.0h-1.0zM121.9,92.5h1.0v1.0h-1.0zM130.8,80.7h1.0v1.0h-1.0zM130.3,80.3h1.0v1.0h-1.0zM129.9,85.5h1.0v1.0h-1.0zM128,86.6h1.0v1.0h-1.0zM134.5,82.3h1.0v1.0h-1.0zM129.9,79.6h1.0v1.0h-1.0zM130.8,87.3h1.0v1.0h-1.0zM130.6,88.9h1.0v1.0h-1.0zM125.5,82.2h1.0v1.0h-1.0zM135.9,79.3h1.0v1.0h-1.0zM133.7,89.3h1.0v1.0h-1.0zM125.7,81.9h1.0v1.0h-1.0zM125.9,87.4h1.0v1.0h-1.0zM132.5,81h1.0v1.0h-1.0zM132.2,84.9h1.0v1.0h-1.0zM128.5,85.8h1.0v1.0h-1.0zM131,82.4h1.0v1.0h-1.0zM127.6,78.5h1.0v1.0h-1.0zM125.1,86.7h1.0v1.0h-1.0zM128.4,82.3h1.0v1.0h-1.0zM121,90.8h1.0v1.0h-1.0zM124.5,80.1h1.0v1.0h-1.0zM141.2,79h1.0v1.0h-1.0zM131.7,81.1h1.0v1.0h-1.0zM126.4,91.2h1.0v1.0h-1.0zM133.5,72.8h1.0v1.0h-1.0zM127.6,83.5h1.0v1.0h-1.0zM126.2,83h1.0v1.0h-1.0zM126.9,84.3h1.0v1.0h-1.0zM135.2,75.8h1.0v1.0h-1.0zM137.4,77.3h1.0v1.0h-1.0zM134.7,79.1h1.0v1.0h-1.0zM126.9,85.3h1.0v1.0h-1.0zM130.7,82.4h1.0v1.0h-1.0zM129.9,84.7h1.0v1.0h-1.0zM130.8,82.2h1.0v1.0h-1.0zM133.7,81.6h1.0v1.0h-1.0zM119.7,89.8h1.0v1.0h-1.0zM127.5,82.5h1.0v1.0h-1.0zM131,87.6h1.0v1.0h-1.0zM130.1,83.7h1.0v1.0h-1.0zM130.2,79.4h1.0v1.0h-1.0zM132.6,79.5h1.0v1.0h-1.0zM137.1,75.8h1.0v1.0h-1.0zM130.2,87.7h1.0v1.0h-1.0zM130.5,74.4h1.0v1.0h-1.0zM131.8,85.3h1.0v1.0h-1.0zM133.8,78h1.0v1.0h-1.0zM134.3,89.3h1.0v1.0h-1.0zM130.3,85.4h1.0v1.0h-1.0zM135.2,81.7h1.0v1.0h-1.0zM126.9,83.2h1.0v1.0h-1.0zM131,82.8h1.0v1.0h-1.0zM133.9,83.3h1.0v1.0h-1.0zM122.6,84.3h1.0v1.0h-1.0zM135.1,80.8h1.0v1.0h-1.0zM122.7,84h1.0v1.0h-1.0zM136.5,72h1.0v1.0h-1.0zM128.8,86.6h1.0v1.0h-1.0zM122.5,85.8h1.0v1.0h-1.0zM132.8,87.4h1.0v1.0h-1.0zM132,85.5h1.0v1.0h-1.0zM137.7,80.2h1.0v1.0h-1.0zM125.5,86.3h1.0v1.0h-1.0zM123.6,86.3h1.0v1.0h-1.0zM134.5,79.2h1.0v1.0h-1.0zM134.9,78.8h1.0v1.0h-1.0zM137.7,82.8h1.0v1.0h-1.0zM125.5,87.1h1.0v1.0h-1.0zM130,80.8h1.0v1.0h-1.0zM126.2,89.8h1.0v1.0h-1.0zM133.4,81.7h1.0v1.0h-1.0zM130,82.3h1.0v1.0h-1.0zM126.5,84.2h1.0v1.0h-1.0zM132.2,83.9h1.0v1.0h-1.0zM131.2,76.9h1.0v1.0h-1.0zM127.6,81.3h1.0v1.0h-1.0zM127.6,88.7h1.0v1.0h-1.0zM131.7,87.1h1.0v1.0h-1.0zM133.2,88.2h1.0v1.0h-1.0zM124.9,84.4h1.0v1.0h-1.0zM129.6,82.2h1.0v1.0h-1.0zM128.4,75h1.0v1.0h-1.0zM140.1,76.9h1.0v1.0h-1.0zM134.5,76.2h1.0v1.0h-1.0zM134.8,72.5h1.0v1.0h-1.0zM137.2,85.1h1.0v1.0h-1.0zM132,83.3h1.0v1.0h-1.0zM136.8,81h1.0v1.0h-1.0zM129.1,77.3h1.0v1.0h-1.0zM120.9,90.1h1.0v1.0h-1.0zM134.3,84.1h1.0v1.0h-1.0zM130.9,81.6h1.0v1.0h-1.0zM137.9,79.5h1.0v1.0h-1.0zM129.8,84.4h1.0v1.0h-1.0zM128.8,82.5h1.0v1.0h-1.0zM133.8,78.3h1.0v1.0h-1.0zM132.5,84.1h1.0v1.0h-1.0zM131.2,86.1h1.0v1.0h-1.0zM138.7,70.7h1.0v1.0h-1.0zM131.3,79.3h1.0v1.0h-1.0zM126.2,77.3h1.0v1.0h-1.0zM132.2,81.9h1.0v1.0h-1.0zM131.1,88.3h1.0v1.0h-1.0zM126.4,82.3h1.0v1.0h-1.0zM126.2,90.9h1.0v1.0h-1.0zM130.3,81.4h1.0v1.0h-1.0zM127.9,79.9h1.0v1.0h-1.0zM130.7,84.5h1.0v1.0h-1.0zM135.8,82.8h1.0v1.0h-1.0zM131.3,85.1h1.0v1.0h-1.0zM129.2,84.9h1.0v1.0h-1.0zM129.4,85.1h1.0v1.0h-1.0zM131.8,80h1.0v1.0h-1.0zM130.4,79.7h1.0v1.0h-1.0zM123.8,90.7h1.0v1.0h-1.0zM124.3,86.3h1.0v1.0h-1.0zM125.6,82.5h1.0v1.0h-1.0zM127,86.5h1.0v1.0h-1.0zM129.4,86.5h1.0v1.0h-1.0zM130.7,78.7h1.0v1.0h-1.0zM134.7,85.8h1.0v1.0h-1.0zM130.5,86h1.0v1.0h-1.0zM125.4,87.8h1.0v1.0h-1.0zM141.2,71.5h1.0v1.0h-1.0zM133.9,81.9h1.0v1.0h-1.0zM141.8,73.3h1.0v1.0h-1.0z" fill="#1c3cff" fill-opacity="0.8"/>
<ellipse cx="130.8" cy="82.6" rx="5.699999999999999" ry="2.945" transform="rotate(-38 130.8 82.6)" fill="#1c3cff" fill-opacity="0.85" filter="url(#ba1)"/>
<ellipse cx="132.3" cy="83.4" rx="22.2" ry="10.6" transform="rotate(-54 132.3 83.4)" fill="none" stroke="#505050" stroke-width="1.2"/>
<text x="129.9" y="50.2" font-size="15.6" fill="#000" letter-spacing="0.6">0.29</text>
<rect x="197.6" y="23.2" width="127.1" height="140.4" fill="#fff" stroke="#b0b0b0" stroke-width="0.9"/>
<path d="M215.3,163.6 v3.6 M216.9,163.6 v3.6 M218.5,163.6 v3.6 M220.1,163.6 v3.6 M221.7,163.6 v3.6 M223.3,163.6 v3.6 M224.9,163.6 v3.6 M226.5,163.6 v3.6 M228.1,163.6 v3.6 M256.2,163.6 v4.2 M235.2,163.6 v2.4 M240.5,163.6 v2.4 M244.3,163.6 v2.4 M247.2,163.6 v2.4 M249.5,163.6 v2.4 M251.6,163.6 v2.4 M253.3,163.6 v2.4 M254.8,163.6 v2.4 M286,163.6 v4.2 M265,163.6 v2.4 M270.3,163.6 v2.4 M274.1,163.6 v2.4 M277,163.6 v2.4 M279.3,163.6 v2.4 M281.4,163.6 v2.4 M283.1,163.6 v2.4 M284.6,163.6 v2.4 M312.6,163.6 v4.2 M291.6,163.6 v2.4 M296.9,163.6 v2.4 M300.7,163.6 v2.4 M303.6,163.6 v2.4 M305.9,163.6 v2.4 M308,163.6 v2.4 M309.7,163.6 v2.4 M311.2,163.6 v2.4 M321.6,163.6 v2.4 M197.6,128.7 h-3.2 M197.6,130.3 h-3.2 M197.6,131.9 h-3.2 M197.6,133.5 h-3.2 M197.6,135.1 h-3.2 M197.6,136.7 h-3.2 M197.6,138.3 h-3.2 M197.6,139.9 h-3.2 M197.6,141.5 h-3.2 M197.6,143.1 h-3.2 M197.6,35.8 h-3.8 M197.6,56.8 h-2 M197.6,51.5 h-2 M197.6,47.7 h-2 M197.6,44.8 h-2 M197.6,42.5 h-2 M197.6,40.4 h-2 M197.6,38.7 h-2 M197.6,37.2 h-2 M197.6,65.7 h-3.8 M197.6,86.7 h-2 M197.6,81.4 h-2 M197.6,77.6 h-2 M197.6,74.7 h-2 M197.6,72.4 h-2 M197.6,70.3 h-2 M197.6,68.6 h-2 M197.6,67.1 h-2 M197.6,98.8 h-3.8 M197.6,119.8 h-2 M197.6,114.5 h-2 M197.6,110.7 h-2 M197.6,107.8 h-2 M197.6,105.5 h-2 M197.6,103.4 h-2 M197.6,101.7 h-2 M197.6,100.2 h-2 " stroke="#1a1a1a" stroke-width="0.85" fill="none"/>
<path d="M242,135.2h1.0v1.0h-1.0zM257.7,159.1h1.0v1.0h-1.0zM274.7,142.9h1.0v1.0h-1.0zM216.4,145.7h1.0v1.0h-1.0zM239.5,69.7h1.0v1.0h-1.0zM274.7,131.4h1.0v1.0h-1.0zM241.1,122.2h1.0v1.0h-1.0zM243.2,99.4h1.0v1.0h-1.0zM204.7,134h1.0v1.0h-1.0zM272.5,147.9h1.0v1.0h-1.0zM233.9,87.3h1.0v1.0h-1.0zM259,96.7h1.0v1.0h-1.0zM234.3,99.1h1.0v1.0h-1.0zM226.6,103.2h1.0v1.0h-1.0zM242.8,129.9h1.0v1.0h-1.0zM228.1,138.7h1.0v1.0h-1.0zM222.5,140.9h1.0v1.0h-1.0zM261,120.6h1.0v1.0h-1.0zM225.9,157.2h1.0v1.0h-1.0zM238.6,118.8h1.0v1.0h-1.0zM242.9,144.9h1.0v1.0h-1.0zM240.6,134.9h1.0v1.0h-1.0zM256.7,125.1h1.0v1.0h-1.0zM208.5,150.2h1.0v1.0h-1.0zM281.6,90.7h1.0v1.0h-1.0zM233.1,133.7h1.0v1.0h-1.0zM227.8,95.2h1.0v1.0h-1.0zM247.6,97.7h1.0v1.0h-1.0zM250.8,126h1.0v1.0h-1.0zM240,107.4h1.0v1.0h-1.0zM266.2,157.5h1.0v1.0h-1.0zM229.8,144h1.0v1.0h-1.0zM240.2,90.4h1.0v1.0h-1.0zM268.7,125h1.0v1.0h-1.0zM242.9,140.7h1.0v1.0h-1.0zM228.9,137.5h1.0v1.0h-1.0zM241.5,126.3h1.0v1.0h-1.0zM236.9,155.8h1.0v1.0h-1.0zM255.5,122.6h1.0v1.0h-1.0zM233.5,132.1h1.0v1.0h-1.0zM246.6,78.9h1.0v1.0h-1.0zM215.1,104.4h1.0v1.0h-1.0zM236.6,115.6h1.0v1.0h-1.0zM246.1,139.4h1.0v1.0h-1.0zM218.8,161.8h1.0v1.0h-1.0zM250.6,138.4h1.0v1.0h-1.0zM262.9,144.2h1.0v1.0h-1.0zM232.3,131.7h1.0v1.0h-1.0zM285.1,146.5h1.0v1.0h-1.0zM265.7,70h1.0v1.0h-1.0zM252.7,104.7h1.0v1.0h-1.0zM220.3,134.2h1.0v1.0h-1.0zM263.1,135.6h1.0v1.0h-1.0zM233.9,97.9h1.0v1.0h-1.0zM244.4,135h1.0v1.0h-1.0zM254.9,132h1.0v1.0h-1.0zM258,124.6h1.0v1.0h-1.0zM251.4,157.7h1.0v1.0h-1.0zM229.4,132.6h1.0v1.0h-1.0zM254.1,116.9h1.0v1.0h-1.0zM277.4,134.4h1.0v1.0h-1.0zM225,107.7h1.0v1.0h-1.0zM259.9,160.6h1.0v1.0h-1.0zM225.3,132.5h1.0v1.0h-1.0zM224.1,95.1h1.0v1.0h-1.0zM242.9,157.5h1.0v1.0h-1.0zM270.8,106.9h1.0v1.0h-1.0zM242.2,140.1h1.0v1.0h-1.0zM256.4,110h1.0v1.0h-1.0zM255.6,110.9h1.0v1.0h-1.0zM246.1,135.7h1.0v1.0h-1.0zM236.5,160.7h1.0v1.0h-1.0zM212.4,150.8h1.0v1.0h-1.0zM241.8,139.1h1.0v1.0h-1.0zM210.5,144h1.0v1.0h-1.0zM219.3,139.8h1.0v1.0h-1.0zM243.3,109.1h1.0v1.0h-1.0zM218,101.4h1.0v1.0h-1.0zM252.3,84.4h1.0v1.0h-1.0zM252.4,157.5h1.0v1.0h-1.0zM241.5,145.7h1.0v1.0h-1.0zM223.3,117.8h1.0v1.0h-1.0zM234.8,152.2h1.0v1.0h-1.0zM245.3,94.8h1.0v1.0h-1.0zM227.5,149.5h1.0v1.0h-1.0zM240.7,129.9h1.0v1.0h-1.0zM250.9,152h1.0v1.0h-1.0zM208,122.9h1.0v1.0h-1.0zM251.9,140.5h1.0v1.0h-1.0zM212.4,139.9h1.0v1.0h-1.0zM199.9,137.3h1.0v1.0h-1.0zM248.5,121.3h1.0v1.0h-1.0zM235.5,98.2h1.0v1.0h-1.0zM246.6,129.6h1.0v1.0h-1.0zM221.5,95.1h1.0v1.0h-1.0zM236.3,154.9h1.0v1.0h-1.0zM243.3,96.6h1.0v1.0h-1.0zM220.5,135.1h1.0v1.0h-1.0zM265.3,126.7h1.0v1.0h-1.0zM259.9,102.9h1.0v1.0h-1.0zM235.4,160.3h1.0v1.0h-1.0zM232,129.6h1.0v1.0h-1.0zM259.6,122.5h1.0v1.0h-1.0zM258,102.7h1.0v1.0h-1.0zM237.6,129.1h1.0v1.0h-1.0zM234.9,123.7h1.0v1.0h-1.0zM230.3,102.4h1.0v1.0h-1.0zM259.8,143h1.0v1.0h-1.0zM226.1,131.8h1.0v1.0h-1.0zM204.8,156.7h1.0v1.0h-1.0zM249.3,115.2h1.0v1.0h-1.0zM226.1,154.5h1.0v1.0h-1.0zM255.5,93.1h1.0v1.0h-1.0zM234.2,120.8h1.0v1.0h-1.0zM231.8,112.2h1.0v1.0h-1.0zM227.2,148.8h1.0v1.0h-1.0zM261.1,142.2h1.0v1.0h-1.0zM239.3,145.7h1.0v1.0h-1.0zM262.1,152.6h1.0v1.0h-1.0zM274.9,116.8h1.0v1.0h-1.0zM227.6,153.7h1.0v1.0h-1.0zM222.2,131.5h1.0v1.0h-1.0zM258.4,140.3h1.0v1.0h-1.0zM253.8,152.2h1.0v1.0h-1.0zM254.3,148.4h1.0v1.0h-1.0zM238.2,154.6h1.0v1.0h-1.0zM271.6,124.9h1.0v1.0h-1.0zM228.7,158.7h1.0v1.0h-1.0zM238.8,110.1h1.0v1.0h-1.0zM251.9,109.9h1.0v1.0h-1.0zM230.7,154.7h1.0v1.0h-1.0zM212.4,130.4h1.0v1.0h-1.0zM260.8,118.1h1.0v1.0h-1.0zM259,157.7h1.0v1.0h-1.0zM212.9,129.1h1.0v1.0h-1.0zM236.2,137.1h1.0v1.0h-1.0zM215.3,117.1h1.0v1.0h-1.0zM218.5,108.3h1.0v1.0h-1.0zM242.5,159.8h1.0v1.0h-1.0zM241.6,133.2h1.0v1.0h-1.0zM266.3,124h1.0v1.0h-1.0zM234.9,101.4h1.0v1.0h-1.0zM247.4,138.7h1.0v1.0h-1.0zM239.4,141.5h1.0v1.0h-1.0zM238.2,118.7h1.0v1.0h-1.0zM228,122.4h1.0v1.0h-1.0zM235.1,110.3h1.0v1.0h-1.0zM244,127.3h1.0v1.0h-1.0zM227.1,104.4h1.0v1.0h-1.0zM262.9,131.4h1.0v1.0h-1.0zM269.6,106.9h1.0v1.0h-1.0zM230.8,125.5h1.0v1.0h-1.0zM209.7,97.5h1.0v1.0h-1.0zM203.1,133.3h1.0v1.0h-1.0zM251.3,118.4h1.0v1.0h-1.0zM271.3,81.7h1.0v1.0h-1.0zM249.4,155.1h1.0v1.0h-1.0zM217.3,129.5h1.0v1.0h-1.0zM285.9,134.7h1.0v1.0h-1.0zM256.3,160.7h1.0v1.0h-1.0zM277.8,127.5h1.0v1.0h-1.0zM236.8,117.1h1.0v1.0h-1.0zM252.1,130.2h1.0v1.0h-1.0zM235.7,131h1.0v1.0h-1.0zM248.7,108.7h1.0v1.0h-1.0zM254,143.5h1.0v1.0h-1.0zM253.8,152.6h1.0v1.0h-1.0zM213.6,85.7h1.0v1.0h-1.0zM234.3,153.5h1.0v1.0h-1.0zM258.4,119.8h1.0v1.0h-1.0zM236.3,88.7h1.0v1.0h-1.0zM228.6,119.9h1.0v1.0h-1.0zM228.9,112.1h1.0v1.0h-1.0zM265.1,154.5h1.0v1.0h-1.0zM234.5,109h1.0v1.0h-1.0zM245.1,107.8h1.0v1.0h-1.0zM240.3,124.1h1.0v1.0h-1.0zM249.6,139.3h1.0v1.0h-1.0zM263,106.3h1.0v1.0h-1.0zM215.2,158.5h1.0v1.0h-1.0zM223,111.2h1.0v1.0h-1.0zM215.9,102.9h1.0v1.0h-1.0zM255,104.5h1.0v1.0h-1.0zM258.8,126.9h1.0v1.0h-1.0zM265.7,108.2h1.0v1.0h-1.0zM285.2,159.6h1.0v1.0h-1.0zM269.4,96.2h1.0v1.0h-1.0zM226.6,117.1h1.0v1.0h-1.0zM237,103.4h1.0v1.0h-1.0zM241.6,147.1h1.0v1.0h-1.0zM250.7,95.8h1.0v1.0h-1.0zM264.1,152.2h1.0v1.0h-1.0zM201.8,120.1h1.0v1.0h-1.0zM246.3,128.6h1.0v1.0h-1.0zM241.7,99h1.0v1.0h-1.0zM228.8,122.8h1.0v1.0h-1.0zM248.6,137.6h1.0v1.0h-1.0zM216.4,136.6h1.0v1.0h-1.0zM226.5,117.3h1.0v1.0h-1.0zM220.1,137.9h1.0v1.0h-1.0zM222,75.4h1.0v1.0h-1.0zM242,145.3h1.0v1.0h-1.0zM244.3,98.9h1.0v1.0h-1.0zM214,98.9h1.0v1.0h-1.0zM221.7,125h1.0v1.0h-1.0zM241.2,157h1.0v1.0h-1.0zM258.2,91.8h1.0v1.0h-1.0zM238.2,98h1.0v1.0h-1.0zM243.9,100.6h1.0v1.0h-1.0zM212,92.2h1.0v1.0h-1.0zM250.5,93h1.0v1.0h-1.0zM224.2,126.9h1.0v1.0h-1.0zM235.5,105.8h1.0v1.0h-1.0zM242.7,103.9h1.0v1.0h-1.0zM251.2,156.3h1.0v1.0h-1.0zM261.9,99h1.0v1.0h-1.0zM240.6,134.3h1.0v1.0h-1.0zM247.4,142.3h1.0v1.0h-1.0zM239.1,135.4h1.0v1.0h-1.0zM235.7,102.9h1.0v1.0h-1.0zM246.9,102.2h1.0v1.0h-1.0zM244.5,128.4h1.0v1.0h-1.0zM224.7,140.1h1.0v1.0h-1.0zM263.3,151.2h1.0v1.0h-1.0zM220.4,161.5h1.0v1.0h-1.0zM229.5,149.5h1.0v1.0h-1.0zM241.8,149.1h1.0v1.0h-1.0zM255.1,142.9h1.0v1.0h-1.0zM255.2,130.2h1.0v1.0h-1.0zM254.1,120.8h1.0v1.0h-1.0zM224.7,141.9h1.0v1.0h-1.0zM247.4,102.6h1.0v1.0h-1.0zM229.8,72.2h1.0v1.0h-1.0zM237.1,114.3h1.0v1.0h-1.0zM252.2,138.3h1.0v1.0h-1.0zM232.1,143.1h1.0v1.0h-1.0zM241.3,140.8h1.0v1.0h-1.0zM262.6,121.6h1.0v1.0h-1.0zM209.3,122.7h1.0v1.0h-1.0zM255.3,116.8h1.0v1.0h-1.0zM237.4,122.8h1.0v1.0h-1.0zM245.7,139.3h1.0v1.0h-1.0zM247.8,109.3h1.0v1.0h-1.0zM217.9,108.7h1.0v1.0h-1.0zM257.2,110.2h1.0v1.0h-1.0zM237.3,112.2h1.0v1.0h-1.0zM245.1,75.2h1.0v1.0h-1.0zM247.4,129.8h1.0v1.0h-1.0zM246.8,94.6h1.0v1.0h-1.0zM273.3,124.4h1.0v1.0h-1.0zM241.8,133.2h1.0v1.0h-1.0zM252.5,105.6h1.0v1.0h-1.0zM201.7,123.6h1.0v1.0h-1.0zM261.2,131.6h1.0v1.0h-1.0zM223.2,102.2h1.0v1.0h-1.0zM242.9,135.9h1.0v1.0h-1.0zM297.2,142.8h1.0v1.0h-1.0zM250.2,126.7h1.0v1.0h-1.0zM229.1,149.1h1.0v1.0h-1.0zM244.8,129.4h1.0v1.0h-1.0zM236.2,159.8h1.0v1.0h-1.0zM248,146.5h1.0v1.0h-1.0zM254.4,115.6h1.0v1.0h-1.0zM260.8,156.1h1.0v1.0h-1.0zM220.5,159.9h1.0v1.0h-1.0zM267.2,143h1.0v1.0h-1.0zM244,105.8h1.0v1.0h-1.0zM201.1,90.7h1.0v1.0h-1.0zM225.5,145.6h1.0v1.0h-1.0zM249.2,99.7h1.0v1.0h-1.0zM204.7,138.3h1.0v1.0h-1.0zM220.1,146.5h1.0v1.0h-1.0zM238.3,100.3h1.0v1.0h-1.0zM218,73.5h1.0v1.0h-1.0zM289.8,145.1h1.0v1.0h-1.0zM261.6,146.8h1.0v1.0h-1.0zM240.9,144.7h1.0v1.0h-1.0zM261.8,110.6h1.0v1.0h-1.0zM250.2,147.2h1.0v1.0h-1.0zM229.9,117.6h1.0v1.0h-1.0zM260.1,137.6h1.0v1.0h-1.0zM242.7,136.5h1.0v1.0h-1.0zM236.5,158.6h1.0v1.0h-1.0zM235.1,155.8h1.0v1.0h-1.0zM263.6,148.6h1.0v1.0h-1.0zM225.8,139.4h1.0v1.0h-1.0zM274,152.8h1.0v1.0h-1.0zM236.9,107h1.0v1.0h-1.0zM250.1,156.7h1.0v1.0h-1.0zM234.4,129.9h1.0v1.0h-1.0zM248.1,108.8h1.0v1.0h-1.0zM247.6,119.9h1.0v1.0h-1.0zM222,162h1.0v1.0h-1.0zM231.8,130h1.0v1.0h-1.0zM213.3,129h1.0v1.0h-1.0zM253.1,115.6h1.0v1.0h-1.0zM239,134.7h1.0v1.0h-1.0zM288.4,139.5h1.0v1.0h-1.0zM231.4,140.7h1.0v1.0h-1.0zM237,139h1.0v1.0h-1.0zM212.5,119.9h1.0v1.0h-1.0zM240.7,124.4h1.0v1.0h-1.0zM251.2,119.6h1.0v1.0h-1.0zM228,114.3h1.0v1.0h-1.0zM226.8,100h1.0v1.0h-1.0zM225.8,104.6h1.0v1.0h-1.0zM270.8,102.2h1.0v1.0h-1.0zM238.6,160.9h1.0v1.0h-1.0zM262.2,127.6h1.0v1.0h-1.0zM226.9,138h1.0v1.0h-1.0zM236.8,110.7h1.0v1.0h-1.0zM255.9,90.1h1.0v1.0h-1.0zM225.5,158.6h1.0v1.0h-1.0zM252.6,102.4h1.0v1.0h-1.0zM216.4,131.2h1.0v1.0h-1.0zM219.8,128.9h1.0v1.0h-1.0zM258.1,127.3h1.0v1.0h-1.0zM219.8,150.1h1.0v1.0h-1.0zM222.6,148.5h1.0v1.0h-1.0zM233.6,161h1.0v1.0h-1.0zM256.5,78.5h1.0v1.0h-1.0zM253.6,117.3h1.0v1.0h-1.0zM218.4,114h1.0v1.0h-1.0zM232.7,119.7h1.0v1.0h-1.0zM224.6,83h1.0v1.0h-1.0zM222.2,117.4h1.0v1.0h-1.0zM217.5,119h1.0v1.0h-1.0zM212.1,142.5h1.0v1.0h-1.0zM308.4,149.1h1.0v1.0h-1.0zM223.1,134.6h1.0v1.0h-1.0zM218.5,159.6h1.0v1.0h-1.0zM245.4,112.4h1.0v1.0h-1.0zM238.9,108.4h1.0v1.0h-1.0zM248.3,125.2h1.0v1.0h-1.0zM255.8,95.7h1.0v1.0h-1.0zM218.9,142.3h1.0v1.0h-1.0zM221.5,144.7h1.0v1.0h-1.0zM230.9,137h1.0v1.0h-1.0zM218.7,95.6h1.0v1.0h-1.0zM243.1,69.2h1.0v1.0h-1.0zM255.3,123.2h1.0v1.0h-1.0zM243.5,127.8h1.0v1.0h-1.0zM243.5,99.8h1.0v1.0h-1.0zM228.7,151.2h1.0v1.0h-1.0zM245.5,93.9h1.0v1.0h-1.0zM214.5,115.6h1.0v1.0h-1.0zM217.3,124.1h1.0v1.0h-1.0zM233,130.2h1.0v1.0h-1.0zM252,151.5h1.0v1.0h-1.0zM228.7,155.7h1.0v1.0h-1.0zM259.8,156.3h1.0v1.0h-1.0zM228.2,118.5h1.0v1.0h-1.0zM256.8,124.7h1.0v1.0h-1.0zM256.5,134.8h1.0v1.0h-1.0zM244.3,120.9h1.0v1.0h-1.0zM269.6,94.5h1.0v1.0h-1.0zM255.2,95.8h1.0v1.0h-1.0zM224.4,161.8h1.0v1.0h-1.0zM235.3,111.7h1.0v1.0h-1.0zM249.5,153.2h1.0v1.0h-1.0zM236.5,118.9h1.0v1.0h-1.0zM257,116.8h1.0v1.0h-1.0zM235.9,141.3h1.0v1.0h-1.0zM259.3,130.4h1.0v1.0h-1.0zM265.6,114.2h1.0v1.0h-1.0zM249.4,83.5h1.0v1.0h-1.0zM270.7,130h1.0v1.0h-1.0zM212.6,158.2h1.0v1.0h-1.0zM255.5,132.4h1.0v1.0h-1.0zM254.3,159.7h1.0v1.0h-1.0zM227.7,132.2h1.0v1.0h-1.0zM229.6,156.9h1.0v1.0h-1.0zM239.5,157.9h1.0v1.0h-1.0zM279.3,115.8h1.0v1.0h-1.0zM272.9,97.1h1.0v1.0h-1.0zM238.4,129.6h1.0v1.0h-1.0zM251.7,120.7h1.0v1.0h-1.0zM222.7,133.8h1.0v1.0h-1.0zM233.9,110.8h1.0v1.0h-1.0zM242.9,122.8h1.0v1.0h-1.0zM227.8,151.7h1.0v1.0h-1.0zM226.3,127.4h1.0v1.0h-1.0zM211.9,104.5h1.0v1.0h-1.0zM257.6,153.8h1.0v1.0h-1.0zM258.3,156.9h1.0v1.0h-1.0zM269.3,123.4h1.0v1.0h-1.0zM227.4,154.7h1.0v1.0h-1.0zM236.7,146.6h1.0v1.0h-1.0zM236.1,103.3h1.0v1.0h-1.0zM232,119.8h1.0v1.0h-1.0zM261.7,161h1.0v1.0h-1.0zM278.4,149.7h1.0v1.0h-1.0zM241.3,138h1.0v1.0h-1.0zM216.9,121.2h1.0v1.0h-1.0zM278,162h1.0v1.0h-1.0zM265.6,131h1.0v1.0h-1.0zM246.2,80.6h1.0v1.0h-1.0zM252.3,118h1.0v1.0h-1.0zM207,158.2h1.0v1.0h-1.0zM236.2,162h1.0v1.0h-1.0zM244.3,146.9h1.0v1.0h-1.0zM273.7,141.3h1.0v1.0h-1.0zM242.6,118.1h1.0v1.0h-1.0zM263.6,91.3h1.0v1.0h-1.0zM233.4,115.9h1.0v1.0h-1.0zM242.6,127.9h1.0v1.0h-1.0zM239.3,131.1h1.0v1.0h-1.0zM240.6,147.3h1.0v1.0h-1.0zM255.6,155.1h1.0v1.0h-1.0zM244.7,126.4h1.0v1.0h-1.0zM259.5,103.5h1.0v1.0h-1.0zM228.6,161.8h1.0v1.0h-1.0zM249.2,116.8h1.0v1.0h-1.0zM262.8,143.3h1.0v1.0h-1.0zM214.9,102.5h1.0v1.0h-1.0zM246.5,129.4h1.0v1.0h-1.0zM250.4,111.5h1.0v1.0h-1.0zM269,126.3h1.0v1.0h-1.0zM243.3,125.7h1.0v1.0h-1.0zM256.6,148h1.0v1.0h-1.0zM282.6,90.6h1.0v1.0h-1.0zM241.4,145.4h1.0v1.0h-1.0zM265,137.1h1.0v1.0h-1.0zM235.2,98.7h1.0v1.0h-1.0zM213.1,105.6h1.0v1.0h-1.0zM238.3,132.1h1.0v1.0h-1.0zM199.8,162h1.0v1.0h-1.0zM247.5,119.1h1.0v1.0h-1.0zM245.6,97.5h1.0v1.0h-1.0zM238,154.2h1.0v1.0h-1.0zM246.3,82.6h1.0v1.0h-1.0zM238.4,154.3h1.0v1.0h-1.0zM240.2,155.4h1.0v1.0h-1.0zM267.4,126.5h1.0v1.0h-1.0zM244.1,118h1.0v1.0h-1.0zM233.7,152.7h1.0v1.0h-1.0zM221.5,150.2h1.0v1.0h-1.0zM217.3,104.7h1.0v1.0h-1.0zM246.1,124.2h1.0v1.0h-1.0zM214.9,124.3h1.0v1.0h-1.0zM227.2,119.8h1.0v1.0h-1.0zM245,141.6h1.0v1.0h-1.0zM229.3,124.1h1.0v1.0h-1.0zM241.6,138.8h1.0v1.0h-1.0zM242.9,157.3h1.0v1.0h-1.0zM235.5,106.3h1.0v1.0h-1.0zM223.4,133.4h1.0v1.0h-1.0zM248.8,129.8h1.0v1.0h-1.0zM222.3,128.6h1.0v1.0h-1.0zM229,138.4h1.0v1.0h-1.0zM245.9,96.7h1.0v1.0h-1.0zM263.2,133.2h1.0v1.0h-1.0zM283.1,151.3h1.0v1.0h-1.0zM224.1,125.3h1.0v1.0h-1.0zM238.6,141.5h1.0v1.0h-1.0zM213.8,98.5h1.0v1.0h-1.0zM215.5,138h1.0v1.0h-1.0zM225.8,155.2h1.0v1.0h-1.0zM213.9,123.2h1.0v1.0h-1.0zM241.4,120.3h1.0v1.0h-1.0zM249.9,113.7h1.0v1.0h-1.0zM222.7,142.5h1.0v1.0h-1.0zM243.9,113.1h1.0v1.0h-1.0zM260.1,126.5h1.0v1.0h-1.0zM264.3,128.7h1.0v1.0h-1.0zM217.4,126.4h1.0v1.0h-1.0zM227.6,135.1h1.0v1.0h-1.0zM271.2,93.6h1.0v1.0h-1.0zM249.4,121h1.0v1.0h-1.0zM260.4,126.2h1.0v1.0h-1.0zM268.1,147.8h1.0v1.0h-1.0zM231.8,136.6h1.0v1.0h-1.0zM216.5,98.4h1.0v1.0h-1.0zM251.9,157h1.0v1.0h-1.0zM229.5,148.2h1.0v1.0h-1.0zM213.2,104.4h1.0v1.0h-1.0zM228.9,156.2h1.0v1.0h-1.0zM223.6,127.3h1.0v1.0h-1.0zM250,120.3h1.0v1.0h-1.0zM243.3,109.4h1.0v1.0h-1.0zM278.6,136h1.0v1.0h-1.0zM256.9,148.6h1.0v1.0h-1.0zM234.4,130.3h1.0v1.0h-1.0zM243.6,98.3h1.0v1.0h-1.0zM268.5,143.1h1.0v1.0h-1.0zM218,104.9h1.0v1.0h-1.0zM235.4,143.1h1.0v1.0h-1.0zM249,114.6h1.0v1.0h-1.0zM240.1,62.1h1.0v1.0h-1.0zM224.7,159.7h1.0v1.0h-1.0zM208.5,116.1h1.0v1.0h-1.0zM230.1,134.3h1.0v1.0h-1.0zM200.5,140.9h1.0v1.0h-1.0zM236.5,143.5h1.0v1.0h-1.0zM240.6,153.4h1.0v1.0h-1.0zM245.5,150.3h1.0v1.0h-1.0zM234.2,88.8h1.0v1.0h-1.0zM228.6,95.2h1.0v1.0h-1.0zM262.5,87.9h1.0v1.0h-1.0zM254.6,144.4h1.0v1.0h-1.0zM223.6,87.1h1.0v1.0h-1.0zM240.7,68.3h1.0v1.0h-1.0zM255.4,158.5h1.0v1.0h-1.0zM221.1,91.3h1.0v1.0h-1.0zM231.1,136.5h1.0v1.0h-1.0zM225.5,103.8h1.0v1.0h-1.0zM237.7,145.3h1.0v1.0h-1.0zM240.8,100.5h1.0v1.0h-1.0zM270.5,118.8h1.0v1.0h-1.0zM223.9,106.7h1.0v1.0h-1.0zM235.5,79.3h1.0v1.0h-1.0zM215.8,159.9h1.0v1.0h-1.0zM263.2,116.1h1.0v1.0h-1.0zM247.1,96h1.0v1.0h-1.0zM275.9,130h1.0v1.0h-1.0zM252.9,157.5h1.0v1.0h-1.0zM250.6,140.8h1.0v1.0h-1.0zM282.5,106.5h1.0v1.0h-1.0zM222.5,63.3h1.0v1.0h-1.0zM271.7,134.1h1.0v1.0h-1.0zM243.7,99.8h1.0v1.0h-1.0zM232.8,129.6h1.0v1.0h-1.0zM252.4,136.6h1.0v1.0h-1.0zM253.6,98.6h1.0v1.0h-1.0zM221.5,98.1h1.0v1.0h-1.0zM222.2,123.6h1.0v1.0h-1.0zM215.5,105.1h1.0v1.0h-1.0zM282.7,146.9h1.0v1.0h-1.0zM210.1,143h1.0v1.0h-1.0zM209.1,152.6h1.0v1.0h-1.0zM278,137h1.0v1.0h-1.0zM249,113.2h1.0v1.0h-1.0zM257.9,133.8h1.0v1.0h-1.0zM216.7,135.3h1.0v1.0h-1.0zM228.2,125.3h1.0v1.0h-1.0zM219,161.1h1.0v1.0h-1.0zM217.7,129.6h1.0v1.0h-1.0zM253.1,120h1.0v1.0h-1.0zM213.6,123.1h1.0v1.0h-1.0zM238.5,147.9h1.0v1.0h-1.0zM269.6,134.9h1.0v1.0h-1.0zM239.2,102.6h1.0v1.0h-1.0zM236.8,103.9h1.0v1.0h-1.0zM234.2,136.6h1.0v1.0h-1.0zM229.7,99h1.0v1.0h-1.0zM237.5,84.4h1.0v1.0h-1.0zM249.9,102.5h1.0v1.0h-1.0zM278.4,124.4h1.0v1.0h-1.0zM227.6,141.8h1.0v1.0h-1.0zM226.4,109.3h1.0v1.0h-1.0zM249.9,139.3h1.0v1.0h-1.0zM231.7,81.1h1.0v1.0h-1.0zM214.2,119.7h1.0v1.0h-1.0zM216.6,122.6h1.0v1.0h-1.0zM238,133.2h1.0v1.0h-1.0zM233.1,135.9h1.0v1.0h-1.0zM220.5,116h1.0v1.0h-1.0zM258.7,149.4h1.0v1.0h-1.0zM227.4,140h1.0v1.0h-1.0zM265.8,121.4h1.0v1.0h-1.0zM230.9,119.7h1.0v1.0h-1.0zM226.2,160.6h1.0v1.0h-1.0zM220.5,120.2h1.0v1.0h-1.0zM214,128h1.0v1.0h-1.0zM226.7,133.3h1.0v1.0h-1.0zM287,146.4h1.0v1.0h-1.0zM253.3,135.5h1.0v1.0h-1.0zM220.2,150.8h1.0v1.0h-1.0zM222.8,148.8h1.0v1.0h-1.0zM218.3,126.7h1.0v1.0h-1.0zM267.2,137.5h1.0v1.0h-1.0zM257.7,114h1.0v1.0h-1.0zM263.9,72.8h1.0v1.0h-1.0zM215.2,116.2h1.0v1.0h-1.0zM237.1,134.7h1.0v1.0h-1.0zM202.2,128.2h1.0v1.0h-1.0zM218.1,98.6h1.0v1.0h-1.0zM211.3,119.5h1.0v1.0h-1.0zM226.3,106.2h1.0v1.0h-1.0zM264.4,82.6h1.0v1.0h-1.0zM224.8,77h1.0v1.0h-1.0zM226.9,85.7h1.0v1.0h-1.0zM260.5,143.8h1.0v1.0h-1.0zM206.2,132.2h1.0v1.0h-1.0zM234.4,130.2h1.0v1.0h-1.0zM254.6,93.8h1.0v1.0h-1.0zM256.6,157.7h1.0v1.0h-1.0zM247.5,142.7h1.0v1.0h-1.0zM205,115.6h1.0v1.0h-1.0zM259.4,139.4h1.0v1.0h-1.0zM252.1,115.4h1.0v1.0h-1.0zM223.9,118.9h1.0v1.0h-1.0zM250.1,148.6h1.0v1.0h-1.0zM222.6,134.7h1.0v1.0h-1.0zM276.7,162h1.0v1.0h-1.0zM235.1,132.8h1.0v1.0h-1.0zM243.2,152.2h1.0v1.0h-1.0zM226.1,125.5h1.0v1.0h-1.0zM247.2,122.3h1.0v1.0h-1.0zM247,152.8h1.0v1.0h-1.0zM239.4,137.9h1.0v1.0h-1.0zM250,111.3h1.0v1.0h-1.0zM247.2,153.9h1.0v1.0h-1.0zM242.4,157.4h1.0v1.0h-1.0zM227.5,123h1.0v1.0h-1.0zM226.5,155.7h1.0v1.0h-1.0zM252.5,106.2h1.0v1.0h-1.0zM222.3,101.6h1.0v1.0h-1.0zM270.8,128.6h1.0v1.0h-1.0zM275.4,132.3h1.0v1.0h-1.0zM280.2,134.6h1.0v1.0h-1.0zM213.2,100h1.0v1.0h-1.0zM268.4,152h1.0v1.0h-1.0zM256.5,99.5h1.0v1.0h-1.0zM253.4,144.2h1.0v1.0h-1.0zM244.8,143.7h1.0v1.0h-1.0zM210.1,135.8h1.0v1.0h-1.0z" fill="#3550ff" fill-opacity="0.45"/>
<path d="M248.7,106.9h1.0v1.0h-1.0zM229.5,105.3h1.0v1.0h-1.0zM235.5,78h1.0v1.0h-1.0zM217.5,89.9h1.0v1.0h-1.0zM244,104h1.0v1.0h-1.0zM242.9,108.8h1.0v1.0h-1.0zM265.3,100.6h1.0v1.0h-1.0zM240.3,105.4h1.0v1.0h-1.0zM271.1,79h1.0v1.0h-1.0zM245.2,61.4h1.0v1.0h-1.0zM221.7,98.5h1.0v1.0h-1.0zM232.6,106.8h1.0v1.0h-1.0zM239.9,74.8h1.0v1.0h-1.0zM254.6,86.1h1.0v1.0h-1.0zM240.9,97.6h1.0v1.0h-1.0zM223.9,84.4h1.0v1.0h-1.0zM240.7,85.9h1.0v1.0h-1.0zM251.8,85.7h1.0v1.0h-1.0zM233.7,114h1.0v1.0h-1.0zM239.6,80.6h1.0v1.0h-1.0zM263.3,95.8h1.0v1.0h-1.0zM230.5,96.6h1.0v1.0h-1.0zM229.6,86.1h1.0v1.0h-1.0zM245.1,100.6h1.0v1.0h-1.0zM227.3,89.9h1.0v1.0h-1.0zM212.9,95.4h1.0v1.0h-1.0zM234.7,110.4h1.0v1.0h-1.0zM261.9,93.8h1.0v1.0h-1.0zM233.5,90h1.0v1.0h-1.0zM243.5,102.2h1.0v1.0h-1.0zM260.5,84.6h1.0v1.0h-1.0zM254.8,96.2h1.0v1.0h-1.0zM262.2,73.3h1.0v1.0h-1.0zM234.6,84.3h1.0v1.0h-1.0zM246.3,86.4h1.0v1.0h-1.0zM231,88.3h1.0v1.0h-1.0zM244.9,90.4h1.0v1.0h-1.0zM241,93.1h1.0v1.0h-1.0zM265.3,112.1h1.0v1.0h-1.0zM253,88.3h1.0v1.0h-1.0zM252.7,72.8h1.0v1.0h-1.0zM241,72.3h1.0v1.0h-1.0zM247.9,90.3h1.0v1.0h-1.0zM239.4,92.4h1.0v1.0h-1.0zM268.6,90.4h1.0v1.0h-1.0zM232.9,99.9h1.0v1.0h-1.0zM227.7,102.2h1.0v1.0h-1.0zM246.8,94.6h1.0v1.0h-1.0zM225.2,93.1h1.0v1.0h-1.0zM253.4,77.3h1.0v1.0h-1.0zM202.4,104.1h1.0v1.0h-1.0zM258.5,76.7h1.0v1.0h-1.0zM226.8,75.9h1.0v1.0h-1.0zM238.5,102.2h1.0v1.0h-1.0zM244.6,74h1.0v1.0h-1.0zM281.5,94.3h1.0v1.0h-1.0zM255.8,85.7h1.0v1.0h-1.0zM259.3,97.7h1.0v1.0h-1.0zM258.2,92.5h1.0v1.0h-1.0zM231.4,90h1.0v1.0h-1.0zM230.8,99h1.0v1.0h-1.0zM243.8,69h1.0v1.0h-1.0zM269,103.7h1.0v1.0h-1.0zM252.8,79.8h1.0v1.0h-1.0zM249.6,87.4h1.0v1.0h-1.0zM254.5,76.8h1.0v1.0h-1.0zM257.8,89.7h1.0v1.0h-1.0zM244.3,74.9h1.0v1.0h-1.0zM253,104.3h1.0v1.0h-1.0zM267,79.8h1.0v1.0h-1.0zM234.3,102.2h1.0v1.0h-1.0zM236.6,90.7h1.0v1.0h-1.0zM246,89.5h1.0v1.0h-1.0zM254.9,88h1.0v1.0h-1.0zM229.1,108.7h1.0v1.0h-1.0zM232.9,77.8h1.0v1.0h-1.0zM254.2,84.3h1.0v1.0h-1.0zM243.1,107.4h1.0v1.0h-1.0zM261.4,78.7h1.0v1.0h-1.0zM234.6,91.4h1.0v1.0h-1.0zM254.6,95.5h1.0v1.0h-1.0zM246.4,93.7h1.0v1.0h-1.0zM251.2,107.4h1.0v1.0h-1.0zM238.7,82.1h1.0v1.0h-1.0zM233.5,103.8h1.0v1.0h-1.0zM243.7,88.3h1.0v1.0h-1.0zM215.9,79.4h1.0v1.0h-1.0zM212.1,89.5h1.0v1.0h-1.0zM228.8,86h1.0v1.0h-1.0zM256.5,84.5h1.0v1.0h-1.0zM245.2,107.6h1.0v1.0h-1.0zM221.8,81.3h1.0v1.0h-1.0zM246,73.5h1.0v1.0h-1.0zM239.3,92.6h1.0v1.0h-1.0zM247.9,112.1h1.0v1.0h-1.0zM242.5,85.7h1.0v1.0h-1.0zM248.9,108.2h1.0v1.0h-1.0zM257.7,107.7h1.0v1.0h-1.0zM245.5,89.2h1.0v1.0h-1.0zM235.6,74.9h1.0v1.0h-1.0zM232.3,63.8h1.0v1.0h-1.0zM257.3,95h1.0v1.0h-1.0zM233.9,102.6h1.0v1.0h-1.0zM248.5,105.7h1.0v1.0h-1.0zM244,75.6h1.0v1.0h-1.0zM252.6,98.5h1.0v1.0h-1.0zM255.9,82.5h1.0v1.0h-1.0zM256.6,67.6h1.0v1.0h-1.0zM238.6,64h1.0v1.0h-1.0zM234.1,87.4h1.0v1.0h-1.0zM254.1,75.3h1.0v1.0h-1.0zM264.8,93.1h1.0v1.0h-1.0zM233.8,95.2h1.0v1.0h-1.0zM252.2,88.1h1.0v1.0h-1.0zM243.8,87.9h1.0v1.0h-1.0zM239,83h1.0v1.0h-1.0zM243.3,70.8h1.0v1.0h-1.0zM256.6,91.1h1.0v1.0h-1.0zM257.9,91.4h1.0v1.0h-1.0zM230.5,94.3h1.0v1.0h-1.0zM229.3,98.4h1.0v1.0h-1.0zM262.1,97.8h1.0v1.0h-1.0zM258.9,78.4h1.0v1.0h-1.0zM228.8,74.5h1.0v1.0h-1.0zM288.6,96.3h1.0v1.0h-1.0zM253.5,100.9h1.0v1.0h-1.0zM227.7,112.4h1.0v1.0h-1.0zM244.2,81.7h1.0v1.0h-1.0zM206.3,78.1h1.0v1.0h-1.0zM255.1,91h1.0v1.0h-1.0zM233.7,101.4h1.0v1.0h-1.0zM228.8,81.9h1.0v1.0h-1.0zM254.6,70.5h1.0v1.0h-1.0zM235.6,105.6h1.0v1.0h-1.0zM238.3,95.5h1.0v1.0h-1.0zM228.1,97.4h1.0v1.0h-1.0zM240.8,85.9h1.0v1.0h-1.0zM288.6,70.8h1.0v1.0h-1.0zM241.7,115.7h1.0v1.0h-1.0zM234.6,90.8h1.0v1.0h-1.0zM238.6,67.5h1.0v1.0h-1.0zM238.5,91.6h1.0v1.0h-1.0zM229.8,90h1.0v1.0h-1.0zM251.8,95.3h1.0v1.0h-1.0zM247.5,81.6h1.0v1.0h-1.0zM239.8,107.7h1.0v1.0h-1.0zM262.2,91.7h1.0v1.0h-1.0zM244.1,73.7h1.0v1.0h-1.0zM257.2,84.3h1.0v1.0h-1.0zM247.1,103.1h1.0v1.0h-1.0zM241.2,91.4h1.0v1.0h-1.0zM274.3,103.5h1.0v1.0h-1.0zM253.2,98.4h1.0v1.0h-1.0zM261.2,81.7h1.0v1.0h-1.0zM245.4,101.1h1.0v1.0h-1.0zM246.7,92.3h1.0v1.0h-1.0zM230.5,96.6h1.0v1.0h-1.0zM250.4,79h1.0v1.0h-1.0zM230.4,69.9h1.0v1.0h-1.0zM245.8,84.7h1.0v1.0h-1.0zM242.3,72.6h1.0v1.0h-1.0zM230.5,96.1h1.0v1.0h-1.0zM247.6,72.2h1.0v1.0h-1.0zM243.2,83h1.0v1.0h-1.0zM251.8,76.7h1.0v1.0h-1.0zM255.8,76.9h1.0v1.0h-1.0zM241.1,65.1h1.0v1.0h-1.0zM246.6,90.1h1.0v1.0h-1.0zM247.4,101.3h1.0v1.0h-1.0zM241.8,91.7h1.0v1.0h-1.0zM253.7,105.2h1.0v1.0h-1.0zM216.9,66.8h1.0v1.0h-1.0zM235.7,79.4h1.0v1.0h-1.0zM232.5,88.4h1.0v1.0h-1.0zM231.7,108.5h1.0v1.0h-1.0zM238.9,81.1h1.0v1.0h-1.0zM236.1,82h1.0v1.0h-1.0zM258.9,91.7h1.0v1.0h-1.0zM221.9,87.2h1.0v1.0h-1.0zM255.8,99.3h1.0v1.0h-1.0zM237.9,86.8h1.0v1.0h-1.0zM237.6,89.3h1.0v1.0h-1.0zM227.2,93.5h1.0v1.0h-1.0zM272.3,98.1h1.0v1.0h-1.0zM240.7,71.3h1.0v1.0h-1.0zM240.9,83.7h1.0v1.0h-1.0zM236.4,88.7h1.0v1.0h-1.0zM235.4,97.6h1.0v1.0h-1.0zM259.9,81.1h1.0v1.0h-1.0zM245.5,100.9h1.0v1.0h-1.0zM248.9,88.1h1.0v1.0h-1.0zM243.2,87.7h1.0v1.0h-1.0zM231.7,68.1h1.0v1.0h-1.0zM238.1,89.5h1.0v1.0h-1.0zM247.2,66.8h1.0v1.0h-1.0zM238,87.7h1.0v1.0h-1.0zM249.4,77.2h1.0v1.0h-1.0zM226.7,99.1h1.0v1.0h-1.0zM235.1,70.3h1.0v1.0h-1.0zM231.7,92h1.0v1.0h-1.0zM247,97.8h1.0v1.0h-1.0zM247,88.1h1.0v1.0h-1.0zM224.1,104.4h1.0v1.0h-1.0zM261.1,85.2h1.0v1.0h-1.0zM245.2,84.3h1.0v1.0h-1.0zM234.2,92.6h1.0v1.0h-1.0zM242,91.6h1.0v1.0h-1.0zM254.7,105.6h1.0v1.0h-1.0zM228.8,89.2h1.0v1.0h-1.0zM231.8,81.7h1.0v1.0h-1.0zM240.9,78h1.0v1.0h-1.0zM252.4,97.1h1.0v1.0h-1.0zM238,96.6h1.0v1.0h-1.0zM229.9,109.9h1.0v1.0h-1.0zM270.7,94.9h1.0v1.0h-1.0zM238.9,83.9h1.0v1.0h-1.0zM236.3,107.5h1.0v1.0h-1.0zM246.6,100.9h1.0v1.0h-1.0zM255.8,78.6h1.0v1.0h-1.0zM264.5,113h1.0v1.0h-1.0zM261.2,108.1h1.0v1.0h-1.0zM234.3,101.5h1.0v1.0h-1.0zM250.8,84.2h1.0v1.0h-1.0zM254.5,73.9h1.0v1.0h-1.0zM254.2,91.2h1.0v1.0h-1.0zM241.3,84.6h1.0v1.0h-1.0zM235.2,90.9h1.0v1.0h-1.0zM228.5,105h1.0v1.0h-1.0zM247.9,81.7h1.0v1.0h-1.0zM208.7,95.3h1.0v1.0h-1.0zM236.7,81.3h1.0v1.0h-1.0zM245.7,87.5h1.0v1.0h-1.0zM237.3,83h1.0v1.0h-1.0zM232.5,92.3h1.0v1.0h-1.0zM245.5,104.6h1.0v1.0h-1.0zM228.2,67.8h1.0v1.0h-1.0zM239.7,77.7h1.0v1.0h-1.0zM243.3,89h1.0v1.0h-1.0zM243.7,66.7h1.0v1.0h-1.0zM232.5,81h1.0v1.0h-1.0zM234.6,89.5h1.0v1.0h-1.0zM264.2,98.7h1.0v1.0h-1.0zM240.1,72.7h1.0v1.0h-1.0zM260.2,79.8h1.0v1.0h-1.0zM240,85.4h1.0v1.0h-1.0zM248.5,107.9h1.0v1.0h-1.0zM232.1,103.5h1.0v1.0h-1.0zM256.5,94.1h1.0v1.0h-1.0zM260.5,97.1h1.0v1.0h-1.0zM243.9,72.5h1.0v1.0h-1.0z" fill="#3550ff" fill-opacity="0.45"/>
<path d="M263.2,99.7h1.0v1.0h-1.0zM297.1,140.8h1.0v1.0h-1.0zM249.4,125.8h1.0v1.0h-1.0zM313.9,120.4h1.0v1.0h-1.0zM276.6,120.7h1.0v1.0h-1.0zM265.1,96.5h1.0v1.0h-1.0zM251.3,96h1.0v1.0h-1.0zM292.9,143.2h1.0v1.0h-1.0zM301.5,97.1h1.0v1.0h-1.0zM237.1,143.4h1.0v1.0h-1.0zM287.7,125.6h1.0v1.0h-1.0zM281.9,113.8h1.0v1.0h-1.0zM268.3,84.8h1.0v1.0h-1.0zM255,158.2h1.0v1.0h-1.0zM270.1,94.4h1.0v1.0h-1.0zM281.6,81.8h1.0v1.0h-1.0zM280.1,145.6h1.0v1.0h-1.0zM295.9,133.2h1.0v1.0h-1.0zM286.8,129.8h1.0v1.0h-1.0zM300.7,72.9h1.0v1.0h-1.0zM251.7,145.6h1.0v1.0h-1.0zM232.8,115.6h1.0v1.0h-1.0zM220.9,108.7h1.0v1.0h-1.0zM249.9,129.4h1.0v1.0h-1.0zM289.4,72.1h1.0v1.0h-1.0zM307.3,101.9h1.0v1.0h-1.0zM245.7,159.4h1.0v1.0h-1.0zM289.6,78.7h1.0v1.0h-1.0zM271.6,88.4h1.0v1.0h-1.0zM265.8,60.5h1.0v1.0h-1.0zM293.6,97.8h1.0v1.0h-1.0zM240.2,66.9h1.0v1.0h-1.0zM259.1,107.1h1.0v1.0h-1.0zM245.6,140.7h1.0v1.0h-1.0zM274.7,145.3h1.0v1.0h-1.0zM296.1,87h1.0v1.0h-1.0zM291.4,107.1h1.0v1.0h-1.0zM211.2,132.6h1.0v1.0h-1.0zM297.4,146.3h1.0v1.0h-1.0zM290,52.8h1.0v1.0h-1.0zM248.5,140.4h1.0v1.0h-1.0zM313.8,83.7h1.0v1.0h-1.0zM291.2,76.6h1.0v1.0h-1.0zM273.1,116h1.0v1.0h-1.0zM301.6,116.6h1.0v1.0h-1.0zM258.9,81h1.0v1.0h-1.0zM256.5,70.2h1.0v1.0h-1.0zM297.6,140.5h1.0v1.0h-1.0zM253.7,49.7h1.0v1.0h-1.0zM267.1,61.1h1.0v1.0h-1.0zM312.3,128.8h1.0v1.0h-1.0zM228.2,90.1h1.0v1.0h-1.0zM273.9,63.1h1.0v1.0h-1.0zM264.9,106.7h1.0v1.0h-1.0zM315.5,91.2h1.0v1.0h-1.0zM299.2,132.5h1.0v1.0h-1.0zM270.9,102.3h1.0v1.0h-1.0zM310.1,71.4h1.0v1.0h-1.0zM249.1,122.1h1.0v1.0h-1.0zM304.5,64.1h1.0v1.0h-1.0zM291.8,111.2h1.0v1.0h-1.0zM246.2,90.9h1.0v1.0h-1.0zM278.3,128.1h1.0v1.0h-1.0zM277,130.2h1.0v1.0h-1.0zM296.6,139h1.0v1.0h-1.0zM270.2,113.5h1.0v1.0h-1.0zM266,134.2h1.0v1.0h-1.0zM260.2,86.5h1.0v1.0h-1.0zM264.3,51.1h1.0v1.0h-1.0zM280,112h1.0v1.0h-1.0zM262.4,45.9h1.0v1.0h-1.0zM287.1,102.6h1.0v1.0h-1.0zM271.9,86.2h1.0v1.0h-1.0zM258.2,92.7h1.0v1.0h-1.0zM259.1,35.1h1.0v1.0h-1.0zM275.8,154h1.0v1.0h-1.0zM241.9,121.3h1.0v1.0h-1.0zM271,149.7h1.0v1.0h-1.0zM282.5,43.1h1.0v1.0h-1.0zM292.5,114.6h1.0v1.0h-1.0zM294.6,77h1.0v1.0h-1.0zM273.2,104.5h1.0v1.0h-1.0zM270.2,135.8h1.0v1.0h-1.0zM289.1,118.9h1.0v1.0h-1.0zM289.2,125.9h1.0v1.0h-1.0zM288.5,95.3h1.0v1.0h-1.0zM273.9,107.3h1.0v1.0h-1.0zM238.9,129.3h1.0v1.0h-1.0zM292.6,39.1h1.0v1.0h-1.0zM283.1,110.2h1.0v1.0h-1.0zM270.7,122.6h1.0v1.0h-1.0zM279.3,64.4h1.0v1.0h-1.0zM286.8,132.3h1.0v1.0h-1.0zM285.2,124.7h1.0v1.0h-1.0zM254.7,151.5h1.0v1.0h-1.0zM255.6,120h1.0v1.0h-1.0zM259.8,113.1h1.0v1.0h-1.0zM302.9,126.1h1.0v1.0h-1.0zM277.1,153.7h1.0v1.0h-1.0zM254.9,129.6h1.0v1.0h-1.0zM259,157.3h1.0v1.0h-1.0zM314.5,73.8h1.0v1.0h-1.0zM276.6,127.3h1.0v1.0h-1.0zM269.1,142.8h1.0v1.0h-1.0zM252.7,85.1h1.0v1.0h-1.0zM291.2,79.9h1.0v1.0h-1.0zM280.9,81.4h1.0v1.0h-1.0zM241.3,125.1h1.0v1.0h-1.0zM282.2,144.4h1.0v1.0h-1.0zM265.4,120.3h1.0v1.0h-1.0zM246.8,128h1.0v1.0h-1.0zM286.8,92.1h1.0v1.0h-1.0zM291.3,130h1.0v1.0h-1.0zM259.7,84h1.0v1.0h-1.0zM271.8,139h1.0v1.0h-1.0zM299.6,106h1.0v1.0h-1.0zM256,120.9h1.0v1.0h-1.0zM290.2,154.8h1.0v1.0h-1.0zM246.1,73.3h1.0v1.0h-1.0z" fill="#5068ff" fill-opacity="0.35"/>
<path d="M199.4,81.4 L199.5,80.1 L199.6,78.7 L199.7,77.4 L199.9,76 L200.1,74.8 L200.4,73.6 L200.8,72.5 L201.3,71.6 L201.9,70.8 L202.6,70 L203.3,69.4 L204.2,68.8 L205.1,68.3 L206.1,67.9 L207.3,67.5 L208.5,67.2 L210,67 L211.7,66.8 L213.4,66.7 L215.3,66.6 L217.3,66.6 L219.2,66.6 L221.1,66.6 L223,66.6 L224.8,66.6 L226.8,66.6 L228.7,66.6 L230.7,66.6 L232.6,66.7 L234.4,66.8 L236,66.9 L237.4,67.2 L238.7,67.5 L239.8,67.9 L240.7,68.3 L241.6,68.8 L242.3,69.4 L243,70 L243.6,70.8 L244.2,71.6 L244.7,72.5 L245.1,73.6 L245.5,74.8 L245.8,76 L246.1,77.4 L246.3,78.7 L246.4,80.1 L246.5,81.4 L246.5,82.8 L246.4,84.2 L246.3,85.7 L246.1,87.2 L245.9,88.7 L245.6,90.2 L245.4,91.7 L245.1,93.2 L244.8,94.6 L244.4,96 L244,97.5 L243.6,98.9 L243.2,100.3 L242.9,101.7 L242.6,103.1 L242.5,104.4 L242.6,105.7 L242.7,107 L243,108.2 L243.4,109.4 L243.7,110.7 L244.1,111.9 L244.4,113.3 L244.7,114.8 L244.9,116.3 L245.2,118 L245.4,119.8 L245.6,121.6 L245.7,123.4 L245.9,125.3 L246,127.1 L246.1,128.9 L246.2,130.8 L246.3,132.7 L246.4,134.6 L246.4,136.5 L246.4,138.4 L246.4,140.2 L246.3,141.9 L246.2,143.6 L246.1,145 L246.1,146.5 L246,147.8 L245.8,149 L245.7,150.2 L245.4,151.3 L245.1,152.4 L244.7,153.4 L244.2,154.4 L243.6,155.3 L243.1,156.1 L242.4,156.9 L241.7,157.6 L240.8,158.3 L239.7,158.8 L238.4,159.3 L236.9,159.7 L235.2,159.9 L233.3,160.1 L231.3,160.2 L229.2,160.2 L227.1,160.2 L225,160.2 L223,160.2 L221,160.2 L218.9,160.2 L216.8,160.2 L214.7,160.2 L212.7,160.1 L210.8,159.9 L209,159.6 L207.6,159.3 L206.3,158.8 L205.2,158.3 L204.3,157.6 L203.6,156.9 L202.9,156.1 L202.4,155.3 L201.8,154.4 L201.3,153.4 L200.9,152.4 L200.5,151.3 L200.3,150.2 L200,149 L199.9,147.8 L199.8,146.4 L199.7,145 L199.6,143.5 L199.5,141.9 L199.4,140.2 L199.4,138.4 L199.5,136.5 L199.5,134.6 L199.6,132.7 L199.7,130.8 L199.7,128.9 L199.8,127.1 L200,125.3 L200.1,123.4 L200.2,121.6 L200.4,119.8 L200.5,118 L200.6,116.3 L200.8,114.8 L200.9,113.3 L201.1,111.9 L201.4,110.7 L201.6,109.4 L201.8,108.2 L201.9,107 L202,105.7 L202,104.4 L201.9,103.1 L201.7,101.7 L201.5,100.3 L201.2,98.9 L200.9,97.5 L200.6,96 L200.4,94.6 L200.2,93.1 L200,91.7 L199.9,90.2 L199.7,88.7 L199.6,87.2 L199.4,85.7 L199.4,84.2 L199.4,82.8Z" fill="#2238f6"/>
<path d="M226.4,65.4h1.0v1.0h-1.0zM226.5,161.4h1.0v1.0h-1.0zM200,72.3h1.0v1.0h-1.0zM217.6,162.1h1.0v1.0h-1.0zM246.5,108.8h1.0v1.0h-1.0zM205,68.5h1.0v1.0h-1.0zM200.6,97.9h1.0v1.0h-1.0zM198.2,142.6h1.0v1.0h-1.0zM231.2,66.4h1.0v1.0h-1.0zM246.8,85.8h1.0v1.0h-1.0zM226.4,66.2h1.0v1.0h-1.0zM242.2,68.4h1.0v1.0h-1.0zM200,147.5h1.0v1.0h-1.0zM200.9,113.6h1.0v1.0h-1.0zM216,66.7h1.0v1.0h-1.0zM246.4,82h1.0v1.0h-1.0zM199.6,82.7h1.0v1.0h-1.0zM240.3,158.9h1.0v1.0h-1.0zM199.4,151.1h1.0v1.0h-1.0zM244.4,100.9h1.0v1.0h-1.0zM241.4,68.7h1.0v1.0h-1.0zM241.4,160.3h1.0v1.0h-1.0zM246.2,154.1h1.0v1.0h-1.0zM199,79.3h1.0v1.0h-1.0zM245.1,149.4h1.0v1.0h-1.0zM198.8,86.8h1.0v1.0h-1.0zM243.5,100h1.0v1.0h-1.0zM200.7,74.9h1.0v1.0h-1.0zM243.1,97.7h1.0v1.0h-1.0zM199.7,93.1h1.0v1.0h-1.0zM245.8,96.2h1.0v1.0h-1.0zM200.5,107.8h1.0v1.0h-1.0zM242.9,98.5h1.0v1.0h-1.0zM249.1,82h1.0v1.0h-1.0zM200.7,70.8h1.0v1.0h-1.0zM246.9,129.6h1.0v1.0h-1.0zM247.2,148h1.0v1.0h-1.0zM244.3,94h1.0v1.0h-1.0zM241.1,68.7h1.0v1.0h-1.0zM219.7,162.1h1.0v1.0h-1.0zM245.5,93.8h1.0v1.0h-1.0zM200.7,101.8h1.0v1.0h-1.0zM246,149.1h1.0v1.0h-1.0zM253.7,81.6h1.0v1.0h-1.0zM246.6,91.1h1.0v1.0h-1.0zM247.2,89.8h1.0v1.0h-1.0zM212.6,65.4h1.0v1.0h-1.0zM199.1,126.9h1.0v1.0h-1.0zM246.2,90.1h1.0v1.0h-1.0zM246.5,136.2h1.0v1.0h-1.0zM245,113.8h1.0v1.0h-1.0zM244.9,154.6h1.0v1.0h-1.0zM246.4,133.3h1.0v1.0h-1.0zM232.7,64.9h1.0v1.0h-1.0zM241.5,157.9h1.0v1.0h-1.0zM210.6,161.5h1.0v1.0h-1.0zM200.7,97.7h1.0v1.0h-1.0zM246.4,147.3h1.0v1.0h-1.0zM212.4,66.2h1.0v1.0h-1.0zM215.8,160.2h1.0v1.0h-1.0zM239.3,67.4h1.0v1.0h-1.0zM245.9,135.1h1.0v1.0h-1.0zM245.5,115.5h1.0v1.0h-1.0zM251.3,142h1.0v1.0h-1.0zM239.2,67.1h1.0v1.0h-1.0zM244.3,101.8h1.0v1.0h-1.0zM249.3,71h1.0v1.0h-1.0zM246.2,129.3h1.0v1.0h-1.0zM221.1,160.1h1.0v1.0h-1.0zM199.3,91.1h1.0v1.0h-1.0zM232.7,66.1h1.0v1.0h-1.0zM199.9,140.3h1.0v1.0h-1.0zM246.3,91.9h1.0v1.0h-1.0zM245.3,118.8h1.0v1.0h-1.0zM206.8,65h1.0v1.0h-1.0zM204.8,67.1h1.0v1.0h-1.0zM246,124.8h1.0v1.0h-1.0zM215,160.4h1.0v1.0h-1.0zM211.6,64h1.0v1.0h-1.0zM237.9,160.2h1.0v1.0h-1.0zM200.1,111.3h1.0v1.0h-1.0zM253.4,85.6h1.0v1.0h-1.0zM200.6,115.5h1.0v1.0h-1.0zM199.2,114.9h1.0v1.0h-1.0zM230.3,62.2h1.0v1.0h-1.0zM247.6,130.8h1.0v1.0h-1.0zM247.9,156.3h1.0v1.0h-1.0zM243.3,108.4h1.0v1.0h-1.0zM207.5,161.6h1.0v1.0h-1.0zM241.2,158.9h1.0v1.0h-1.0zM250,75.7h1.0v1.0h-1.0zM198.1,87.4h1.0v1.0h-1.0zM246.9,124.1h1.0v1.0h-1.0zM201.4,103.2h1.0v1.0h-1.0zM243.5,103.2h1.0v1.0h-1.0zM246.3,79.2h1.0v1.0h-1.0zM243.8,111h1.0v1.0h-1.0zM200.2,76.6h1.0v1.0h-1.0zM243.9,154h1.0v1.0h-1.0zM246,128.1h1.0v1.0h-1.0zM198.9,86h1.0v1.0h-1.0zM245.8,125.1h1.0v1.0h-1.0zM245.8,93h1.0v1.0h-1.0zM202.8,158.5h1.0v1.0h-1.0zM239.2,67.9h1.0v1.0h-1.0zM216.7,65.9h1.0v1.0h-1.0zM215.4,161h1.0v1.0h-1.0zM231.4,65h1.0v1.0h-1.0zM243.9,160.1h1.0v1.0h-1.0zM199.7,97.1h1.0v1.0h-1.0zM241.8,67.7h1.0v1.0h-1.0zM248.5,92.7h1.0v1.0h-1.0zM248.9,81.3h1.0v1.0h-1.0zM245.5,111.6h1.0v1.0h-1.0zM200.7,147.8h1.0v1.0h-1.0zM245.5,86.4h1.0v1.0h-1.0zM244.6,115.8h1.0v1.0h-1.0zM200.7,111.8h1.0v1.0h-1.0zM245.1,98.3h1.0v1.0h-1.0zM217.4,65.4h1.0v1.0h-1.0zM249,97.6h1.0v1.0h-1.0zM247.7,113.6h1.0v1.0h-1.0zM198.6,111.9h1.0v1.0h-1.0zM207.5,159h1.0v1.0h-1.0zM253.5,133.1h1.0v1.0h-1.0zM199.6,127.1h1.0v1.0h-1.0zM246.3,85.6h1.0v1.0h-1.0zM224.3,162.2h1.0v1.0h-1.0zM199.9,87.1h1.0v1.0h-1.0zM216.5,161h1.0v1.0h-1.0zM199.2,77.5h1.0v1.0h-1.0zM246.3,126.9h1.0v1.0h-1.0zM248.7,119.8h1.0v1.0h-1.0zM231,161.8h1.0v1.0h-1.0zM201.1,112.6h1.0v1.0h-1.0zM204.2,62.5h1.0v1.0h-1.0zM227.7,160.3h1.0v1.0h-1.0zM246.8,85.1h1.0v1.0h-1.0zM247.3,126.8h1.0v1.0h-1.0zM205.2,158.3h1.0v1.0h-1.0zM198.4,89.1h1.0v1.0h-1.0zM199.7,113.2h1.0v1.0h-1.0zM211.8,66.6h1.0v1.0h-1.0zM199.4,143.8h1.0v1.0h-1.0zM203.6,157h1.0v1.0h-1.0zM199.2,126.8h1.0v1.0h-1.0zM221.4,160.1h1.0v1.0h-1.0zM225,161.4h1.0v1.0h-1.0zM231.8,65.2h1.0v1.0h-1.0zM246.2,106.5h1.0v1.0h-1.0zM211,160h1.0v1.0h-1.0zM207.6,67.1h1.0v1.0h-1.0zM243.5,157.7h1.0v1.0h-1.0zM205.6,67.4h1.0v1.0h-1.0zM201.1,112h1.0v1.0h-1.0zM244.7,153.7h1.0v1.0h-1.0zM200.3,104.6h1.0v1.0h-1.0zM245.8,92h1.0v1.0h-1.0zM245.8,131.2h1.0v1.0h-1.0zM222.9,62.2h1.0v1.0h-1.0zM198.7,135.1h1.0v1.0h-1.0zM205.5,160.2h1.0v1.0h-1.0zM199.5,105.8h1.0v1.0h-1.0zM211.6,161.7h1.0v1.0h-1.0zM225.3,160.8h1.0v1.0h-1.0zM198.6,139.3h1.0v1.0h-1.0zM246.3,107.6h1.0v1.0h-1.0zM198.3,140.2h1.0v1.0h-1.0zM200.3,123.6h1.0v1.0h-1.0zM198.9,149.6h1.0v1.0h-1.0zM246.7,137.5h1.0v1.0h-1.0zM245.6,113.6h1.0v1.0h-1.0zM250.7,93.8h1.0v1.0h-1.0zM244.9,102.4h1.0v1.0h-1.0zM245.1,93.9h1.0v1.0h-1.0zM198.9,78.6h1.0v1.0h-1.0zM214.9,160.8h1.0v1.0h-1.0zM201.6,100.7h1.0v1.0h-1.0zM245.5,123.7h1.0v1.0h-1.0zM201.5,158.7h1.0v1.0h-1.0zM199.4,121.4h1.0v1.0h-1.0zM246.6,127.3h1.0v1.0h-1.0zM223.9,160.6h1.0v1.0h-1.0zM201.6,68.5h1.0v1.0h-1.0zM247.2,136h1.0v1.0h-1.0zM244.6,92.1h1.0v1.0h-1.0zM249.1,127.5h1.0v1.0h-1.0zM198.7,76.6h1.0v1.0h-1.0zM216.2,161.7h1.0v1.0h-1.0zM215.7,162.2h1.0v1.0h-1.0zM248.9,120h1.0v1.0h-1.0zM201.5,72.3h1.0v1.0h-1.0zM245.3,67.9h1.0v1.0h-1.0zM226.9,160.3h1.0v1.0h-1.0zM244.6,102.1h1.0v1.0h-1.0zM223.9,64.3h1.0v1.0h-1.0zM199.8,106.4h1.0v1.0h-1.0zM236.7,65.1h1.0v1.0h-1.0zM198.8,146.5h1.0v1.0h-1.0zM246.7,104.7h1.0v1.0h-1.0zM199.2,79.5h1.0v1.0h-1.0zM220.2,161h1.0v1.0h-1.0zM201.7,100.1h1.0v1.0h-1.0zM246.6,136.5h1.0v1.0h-1.0zM220.6,65.1h1.0v1.0h-1.0zM201.8,103h1.0v1.0h-1.0zM200.4,71.1h1.0v1.0h-1.0zM252.4,129.7h1.0v1.0h-1.0zM241.4,68.2h1.0v1.0h-1.0zM214.9,160.2h1.0v1.0h-1.0zM246.8,92.7h1.0v1.0h-1.0zM246.5,120.1h1.0v1.0h-1.0zM213,60.7h1.0v1.0h-1.0zM247.6,162h1.0v1.0h-1.0zM199.5,84h1.0v1.0h-1.0zM201.9,107.6h1.0v1.0h-1.0zM245.7,123.3h1.0v1.0h-1.0zM249,139.5h1.0v1.0h-1.0zM200,150.4h1.0v1.0h-1.0zM247.9,143h1.0v1.0h-1.0zM247.1,153.4h1.0v1.0h-1.0zM200.5,96.1h1.0v1.0h-1.0zM244.9,114.9h1.0v1.0h-1.0zM245.9,83.5h1.0v1.0h-1.0zM200,162.4h1.0v1.0h-1.0zM199.8,156.2h1.0v1.0h-1.0zM250.1,120.9h1.0v1.0h-1.0zM200.2,125.3h1.0v1.0h-1.0zM245.9,146.4h1.0v1.0h-1.0zM248.3,86.8h1.0v1.0h-1.0zM232.6,65.7h1.0v1.0h-1.0zM201.2,72.5h1.0v1.0h-1.0zM211.9,63h1.0v1.0h-1.0zM247,117.3h1.0v1.0h-1.0zM245.7,124.4h1.0v1.0h-1.0zM242.1,65.4h1.0v1.0h-1.0zM246.1,137.8h1.0v1.0h-1.0zM244.3,154.6h1.0v1.0h-1.0zM248,76.8h1.0v1.0h-1.0zM247.4,110h1.0v1.0h-1.0zM248.8,129.6h1.0v1.0h-1.0zM246.4,76.6h1.0v1.0h-1.0zM223.4,65.3h1.0v1.0h-1.0zM235.3,66.5h1.0v1.0h-1.0zM244.3,159.5h1.0v1.0h-1.0zM245.7,84.2h1.0v1.0h-1.0zM207.1,160h1.0v1.0h-1.0zM243.8,71.4h1.0v1.0h-1.0zM209.7,160.9h1.0v1.0h-1.0zM199.4,94.9h1.0v1.0h-1.0zM200.1,77.9h1.0v1.0h-1.0zM199.7,113.9h1.0v1.0h-1.0zM198.6,133.6h1.0v1.0h-1.0zM249,113.3h1.0v1.0h-1.0zM199.4,140.2h1.0v1.0h-1.0zM212.2,66h1.0v1.0h-1.0zM199.1,78.8h1.0v1.0h-1.0zM199.4,141.6h1.0v1.0h-1.0zM246.6,143.7h1.0v1.0h-1.0zM201.8,158h1.0v1.0h-1.0zM249.6,138h1.0v1.0h-1.0zM247.6,101.2h1.0v1.0h-1.0zM198.4,77.2h1.0v1.0h-1.0zM237.2,160.4h1.0v1.0h-1.0zM254.5,108.9h1.0v1.0h-1.0zM236.5,65.7h1.0v1.0h-1.0zM200.6,159h1.0v1.0h-1.0zM245.6,92.3h1.0v1.0h-1.0zM247.1,92.1h1.0v1.0h-1.0zM203.1,158.3h1.0v1.0h-1.0zM247.6,77.8h1.0v1.0h-1.0zM233.1,66h1.0v1.0h-1.0zM211.1,161.4h1.0v1.0h-1.0zM231.8,64.6h1.0v1.0h-1.0zM247.3,118.1h1.0v1.0h-1.0zM249.6,85.8h1.0v1.0h-1.0zM243,107.3h1.0v1.0h-1.0zM200.7,68.6h1.0v1.0h-1.0zM242.7,156.6h1.0v1.0h-1.0zM198.9,70.6h1.0v1.0h-1.0zM245.8,139.3h1.0v1.0h-1.0zM246.4,123.3h1.0v1.0h-1.0zM250.2,120.4h1.0v1.0h-1.0zM245.8,133.8h1.0v1.0h-1.0zM242.9,99.4h1.0v1.0h-1.0zM243.6,154.4h1.0v1.0h-1.0zM245.8,144.3h1.0v1.0h-1.0zM199.6,83h1.0v1.0h-1.0zM242.5,70h1.0v1.0h-1.0zM198.2,158.9h1.0v1.0h-1.0zM199.7,140.8h1.0v1.0h-1.0zM246.7,127.8h1.0v1.0h-1.0zM200.4,116.3h1.0v1.0h-1.0zM201.4,98.7h1.0v1.0h-1.0zM243.1,100.5h1.0v1.0h-1.0zM201.2,63.3h1.0v1.0h-1.0zM198.6,147.7h1.0v1.0h-1.0zM252.4,151.4h1.0v1.0h-1.0zM229.2,62.6h1.0v1.0h-1.0zM200.6,92.9h1.0v1.0h-1.0zM223.3,60.2h1.0v1.0h-1.0zM198.4,91.1h1.0v1.0h-1.0zM243.6,158.6h1.0v1.0h-1.0zM245.5,149.9h1.0v1.0h-1.0zM209.6,160.3h1.0v1.0h-1.0zM245.2,102.4h1.0v1.0h-1.0zM245,90.3h1.0v1.0h-1.0zM230.9,64.8h1.0v1.0h-1.0zM244,112h1.0v1.0h-1.0zM244.4,156.5h1.0v1.0h-1.0zM245.9,119.1h1.0v1.0h-1.0zM198.2,83.8h1.0v1.0h-1.0zM237.6,66.2h1.0v1.0h-1.0zM203.8,63.9h1.0v1.0h-1.0zM200,94.9h1.0v1.0h-1.0zM219,66h1.0v1.0h-1.0zM244.9,68.4h1.0v1.0h-1.0zM239.3,66.3h1.0v1.0h-1.0zM198.9,136.4h1.0v1.0h-1.0zM199.1,134.7h1.0v1.0h-1.0zM200.3,159h1.0v1.0h-1.0zM246.5,132.2h1.0v1.0h-1.0zM219.3,66h1.0v1.0h-1.0zM246,116.1h1.0v1.0h-1.0zM235.9,160.7h1.0v1.0h-1.0zM209.1,161.7h1.0v1.0h-1.0zM199.2,86.7h1.0v1.0h-1.0zM251.2,143.6h1.0v1.0h-1.0zM247.7,114.5h1.0v1.0h-1.0zM244.7,153.3h1.0v1.0h-1.0zM219.1,64.1h1.0v1.0h-1.0zM202,100.2h1.0v1.0h-1.0zM238.8,67.9h1.0v1.0h-1.0zM246.6,143.8h1.0v1.0h-1.0zM244.6,95.5h1.0v1.0h-1.0zM229.8,161h1.0v1.0h-1.0zM246.3,68.5h1.0v1.0h-1.0zM253.3,131.5h1.0v1.0h-1.0zM245.6,101.2h1.0v1.0h-1.0zM246.4,130h1.0v1.0h-1.0zM244.9,149.9h1.0v1.0h-1.0zM246.8,137.4h1.0v1.0h-1.0zM248.1,133.5h1.0v1.0h-1.0zM200,93.8h1.0v1.0h-1.0zM245.5,76h1.0v1.0h-1.0zM246.5,124.6h1.0v1.0h-1.0zM243.9,156.3h1.0v1.0h-1.0zM244.9,98.7h1.0v1.0h-1.0zM247.1,125.3h1.0v1.0h-1.0zM201.3,95.4h1.0v1.0h-1.0zM199.1,126.9h1.0v1.0h-1.0zM199.9,87.9h1.0v1.0h-1.0zM206.7,67.2h1.0v1.0h-1.0zM237.5,65.7h1.0v1.0h-1.0zM236.7,160.2h1.0v1.0h-1.0zM220.9,65.5h1.0v1.0h-1.0zM200.4,74.6h1.0v1.0h-1.0zM200.4,147.2h1.0v1.0h-1.0zM245.9,128.3h1.0v1.0h-1.0zM219.3,65.1h1.0v1.0h-1.0zM201.6,104.9h1.0v1.0h-1.0zM199,128.7h1.0v1.0h-1.0zM245.4,150.1h1.0v1.0h-1.0zM247.3,122.3h1.0v1.0h-1.0zM198.1,136.7h1.0v1.0h-1.0zM247.2,82.4h1.0v1.0h-1.0zM249.4,95.8h1.0v1.0h-1.0zM243.9,159.9h1.0v1.0h-1.0zM239.1,158.6h1.0v1.0h-1.0zM247.5,146.8h1.0v1.0h-1.0zM245.2,87.8h1.0v1.0h-1.0zM247.6,133.3h1.0v1.0h-1.0zM248,115.7h1.0v1.0h-1.0zM239.9,158.9h1.0v1.0h-1.0zM233.3,65.1h1.0v1.0h-1.0zM202.2,157.4h1.0v1.0h-1.0zM210.9,160h1.0v1.0h-1.0zM246.3,154.9h1.0v1.0h-1.0zM251.1,135.1h1.0v1.0h-1.0zM246.2,111h1.0v1.0h-1.0zM198.3,138h1.0v1.0h-1.0zM219.9,64.7h1.0v1.0h-1.0zM205.4,157.9h1.0v1.0h-1.0zM247.5,80.5h1.0v1.0h-1.0zM213.2,66h1.0v1.0h-1.0zM199.6,83.8h1.0v1.0h-1.0zM250,80.1h1.0v1.0h-1.0zM200.4,119.9h1.0v1.0h-1.0zM199.8,85.7h1.0v1.0h-1.0zM201.6,153h1.0v1.0h-1.0zM247.1,67.5h1.0v1.0h-1.0zM241.2,160.2h1.0v1.0h-1.0zM245.7,141.4h1.0v1.0h-1.0zM248,119.7h1.0v1.0h-1.0zM207.4,65.2h1.0v1.0h-1.0zM241.5,66.6h1.0v1.0h-1.0zM247.8,145.3h1.0v1.0h-1.0zM199.8,98h1.0v1.0h-1.0zM253.6,86.8h1.0v1.0h-1.0zM245.6,73.2h1.0v1.0h-1.0zM231.2,65h1.0v1.0h-1.0zM198.3,136.1h1.0v1.0h-1.0zM248.1,149.3h1.0v1.0h-1.0zM199.7,82.5h1.0v1.0h-1.0zM228,160.7h1.0v1.0h-1.0zM203.4,65.8h1.0v1.0h-1.0zM232.1,161.1h1.0v1.0h-1.0zM208.6,160.9h1.0v1.0h-1.0zM200.9,154.1h1.0v1.0h-1.0zM207.4,67.1h1.0v1.0h-1.0zM200.5,97.4h1.0v1.0h-1.0zM223.9,66.7h1.0v1.0h-1.0zM221.9,63.1h1.0v1.0h-1.0zM249.9,112.5h1.0v1.0h-1.0zM201.2,156.7h1.0v1.0h-1.0zM240.2,67.1h1.0v1.0h-1.0zM198.1,147.8h1.0v1.0h-1.0zM246.2,130.8h1.0v1.0h-1.0zM204.7,158h1.0v1.0h-1.0zM219.3,66.3h1.0v1.0h-1.0zM247.1,116.8h1.0v1.0h-1.0zM200.7,92.7h1.0v1.0h-1.0zM198.9,83.5h1.0v1.0h-1.0zM206.1,161.9h1.0v1.0h-1.0zM249.1,69.1h1.0v1.0h-1.0zM198.2,124h1.0v1.0h-1.0zM247.1,141.1h1.0v1.0h-1.0zM242.4,69.9h1.0v1.0h-1.0zM243.9,71.4h1.0v1.0h-1.0zM231.8,160.5h1.0v1.0h-1.0zM200,74.9h1.0v1.0h-1.0zM246.2,153.8h1.0v1.0h-1.0zM221.4,66.4h1.0v1.0h-1.0zM198.5,140.7h1.0v1.0h-1.0zM242.1,158.7h1.0v1.0h-1.0zM223.3,61.6h1.0v1.0h-1.0zM247,142.3h1.0v1.0h-1.0zM247.5,76h1.0v1.0h-1.0zM245.8,126.9h1.0v1.0h-1.0zM246.4,121.1h1.0v1.0h-1.0zM235.6,65.6h1.0v1.0h-1.0zM200.1,143.5h1.0v1.0h-1.0zM243.5,100.6h1.0v1.0h-1.0zM246.3,89.1h1.0v1.0h-1.0zM245.7,110.6h1.0v1.0h-1.0zM243,156.9h1.0v1.0h-1.0zM199,76.8h1.0v1.0h-1.0zM199.8,109.4h1.0v1.0h-1.0zM243.7,97.5h1.0v1.0h-1.0zM237.5,67.4h1.0v1.0h-1.0zM234.4,65.7h1.0v1.0h-1.0zM247.7,149.9h1.0v1.0h-1.0zM211.3,65.2h1.0v1.0h-1.0zM219.4,63.4h1.0v1.0h-1.0zM198.4,69.5h1.0v1.0h-1.0zM214.8,161h1.0v1.0h-1.0zM247.6,111.2h1.0v1.0h-1.0zM243.5,69.8h1.0v1.0h-1.0zM219.8,161.4h1.0v1.0h-1.0zM246.2,88.8h1.0v1.0h-1.0zM248.8,131.6h1.0v1.0h-1.0zM218.7,64.7h1.0v1.0h-1.0zM198.7,102.1h1.0v1.0h-1.0zM210.7,63.1h1.0v1.0h-1.0zM248.8,126.2h1.0v1.0h-1.0zM199.3,140.1h1.0v1.0h-1.0zM221.4,65.2h1.0v1.0h-1.0zM245.2,73.3h1.0v1.0h-1.0zM247.4,91.7h1.0v1.0h-1.0zM199.8,77.8h1.0v1.0h-1.0zM250,86.6h1.0v1.0h-1.0zM249.8,100.1h1.0v1.0h-1.0zM238.6,67.9h1.0v1.0h-1.0zM201.5,99.5h1.0v1.0h-1.0zM210.5,66.7h1.0v1.0h-1.0zM200.4,103h1.0v1.0h-1.0zM246.9,129.6h1.0v1.0h-1.0zM200.6,115.3h1.0v1.0h-1.0zM201.2,69.3h1.0v1.0h-1.0zM200.1,79.6h1.0v1.0h-1.0zM201.7,103h1.0v1.0h-1.0zM198.6,94.8h1.0v1.0h-1.0zM201.5,96.4h1.0v1.0h-1.0zM211.3,161h1.0v1.0h-1.0zM245.1,70.5h1.0v1.0h-1.0zM228.5,161.6h1.0v1.0h-1.0zM204.9,160h1.0v1.0h-1.0zM200,82.3h1.0v1.0h-1.0zM202.2,70.5h1.0v1.0h-1.0zM199.7,99h1.0v1.0h-1.0zM205,67.8h1.0v1.0h-1.0zM198.5,106h1.0v1.0h-1.0zM244.1,111.8h1.0v1.0h-1.0zM248.8,90.2h1.0v1.0h-1.0zM210.7,162h1.0v1.0h-1.0zM249.5,88.1h1.0v1.0h-1.0zM199.8,140.8h1.0v1.0h-1.0zM234.3,58.5h1.0v1.0h-1.0zM220.3,161.7h1.0v1.0h-1.0zM198.3,133.7h1.0v1.0h-1.0zM200.4,121.5h1.0v1.0h-1.0zM199.6,92.9h1.0v1.0h-1.0zM247,145.1h1.0v1.0h-1.0zM204,158.3h1.0v1.0h-1.0zM227.3,66.1h1.0v1.0h-1.0zM248.2,114.9h1.0v1.0h-1.0zM246.7,144.7h1.0v1.0h-1.0zM224,66.6h1.0v1.0h-1.0zM199.9,122.8h1.0v1.0h-1.0zM209,61.4h1.0v1.0h-1.0zM245.6,76h1.0v1.0h-1.0zM199.8,121.8h1.0v1.0h-1.0zM246.8,125.5h1.0v1.0h-1.0zM198.5,141.2h1.0v1.0h-1.0zM219.5,161.1h1.0v1.0h-1.0zM246.7,75.9h1.0v1.0h-1.0zM246.1,135.3h1.0v1.0h-1.0zM198.7,113.1h1.0v1.0h-1.0zM218.7,65.7h1.0v1.0h-1.0zM247,131.1h1.0v1.0h-1.0zM200.4,123.3h1.0v1.0h-1.0zM246,79.8h1.0v1.0h-1.0zM200.4,110.5h1.0v1.0h-1.0zM234.1,65.6h1.0v1.0h-1.0zM245.3,72.1h1.0v1.0h-1.0zM249,151.9h1.0v1.0h-1.0zM202.5,70.3h1.0v1.0h-1.0zM205.7,158.8h1.0v1.0h-1.0zM210,160.3h1.0v1.0h-1.0zM244.9,72.8h1.0v1.0h-1.0zM246.9,146.3h1.0v1.0h-1.0zM199.2,150.1h1.0v1.0h-1.0zM248,142.4h1.0v1.0h-1.0zM199,147h1.0v1.0h-1.0zM228.3,58.6h1.0v1.0h-1.0zM198.6,121.2h1.0v1.0h-1.0zM198.9,127.9h1.0v1.0h-1.0zM245,70.2h1.0v1.0h-1.0zM215.7,65.4h1.0v1.0h-1.0zM199.9,154.8h1.0v1.0h-1.0zM198.6,106.7h1.0v1.0h-1.0zM240.9,158h1.0v1.0h-1.0zM245,74.3h1.0v1.0h-1.0zM247.3,76.5h1.0v1.0h-1.0zM249.3,127h1.0v1.0h-1.0zM203.4,156.7h1.0v1.0h-1.0zM224.6,64.8h1.0v1.0h-1.0zM246,91.8h1.0v1.0h-1.0zM249.6,146.2h1.0v1.0h-1.0zM207.2,159.5h1.0v1.0h-1.0zM198.9,130.2h1.0v1.0h-1.0zM242.6,65.6h1.0v1.0h-1.0zM198.7,143.9h1.0v1.0h-1.0zM248.2,155.5h1.0v1.0h-1.0zM246.3,91h1.0v1.0h-1.0zM222.6,66h1.0v1.0h-1.0zM246.7,127.7h1.0v1.0h-1.0zM245.8,113.9h1.0v1.0h-1.0zM243.1,70.3h1.0v1.0h-1.0zM200.8,149h1.0v1.0h-1.0zM199.9,98.1h1.0v1.0h-1.0zM232.4,66.2h1.0v1.0h-1.0zM249.8,93.7h1.0v1.0h-1.0zM251.7,84h1.0v1.0h-1.0zM205.6,158.3h1.0v1.0h-1.0zM244.9,111.8h1.0v1.0h-1.0zM210.1,65.5h1.0v1.0h-1.0zM199.8,136.5h1.0v1.0h-1.0zM220.1,62.8h1.0v1.0h-1.0zM212.8,160.6h1.0v1.0h-1.0zM198.7,73h1.0v1.0h-1.0zM245.5,73.6h1.0v1.0h-1.0zM201,151.5h1.0v1.0h-1.0zM199.3,84.4h1.0v1.0h-1.0zM222.7,160.8h1.0v1.0h-1.0zM199.9,71.2h1.0v1.0h-1.0zM200.5,96.8h1.0v1.0h-1.0zM245.9,89h1.0v1.0h-1.0zM249.5,97.7h1.0v1.0h-1.0zM246.1,64.1h1.0v1.0h-1.0zM244.3,97h1.0v1.0h-1.0zM198.8,122.9h1.0v1.0h-1.0zM206.6,159.1h1.0v1.0h-1.0zM206.4,64.7h1.0v1.0h-1.0zM200.1,93.3h1.0v1.0h-1.0zM243.9,62.9h1.0v1.0h-1.0zM241.3,67.8h1.0v1.0h-1.0zM200.1,150.3h1.0v1.0h-1.0zM200.4,71.8h1.0v1.0h-1.0zM246.3,159.3h1.0v1.0h-1.0zM198.4,96h1.0v1.0h-1.0zM246.7,133h1.0v1.0h-1.0zM227.1,61.8h1.0v1.0h-1.0zM200.1,127.3h1.0v1.0h-1.0zM199.7,126.5h1.0v1.0h-1.0zM200.3,120.6h1.0v1.0h-1.0zM246,121.5h1.0v1.0h-1.0zM199.8,84.1h1.0v1.0h-1.0zM204.7,67.6h1.0v1.0h-1.0zM246.1,156.7h1.0v1.0h-1.0zM223.2,160.6h1.0v1.0h-1.0zM198.9,146.1h1.0v1.0h-1.0zM199.9,110.9h1.0v1.0h-1.0zM243.1,155.8h1.0v1.0h-1.0zM240.7,68.2h1.0v1.0h-1.0zM220.5,65.2h1.0v1.0h-1.0zM206.2,67.8h1.0v1.0h-1.0zM242.2,69.4h1.0v1.0h-1.0zM248.8,132.8h1.0v1.0h-1.0zM198.6,149.7h1.0v1.0h-1.0zM200.8,113.6h1.0v1.0h-1.0zM203.9,156.9h1.0v1.0h-1.0zM242.3,157.6h1.0v1.0h-1.0zM249.2,108.1h1.0v1.0h-1.0zM242,156.9h1.0v1.0h-1.0zM246.3,108.8h1.0v1.0h-1.0zM245,116.3h1.0v1.0h-1.0zM199.6,79.4h1.0v1.0h-1.0zM200.3,116.1h1.0v1.0h-1.0zM245.8,87.3h1.0v1.0h-1.0zM244.2,112.2h1.0v1.0h-1.0zM201.1,96.9h1.0v1.0h-1.0zM225.1,64.6h1.0v1.0h-1.0zM246,88.9h1.0v1.0h-1.0zM245.1,74h1.0v1.0h-1.0zM245,98.2h1.0v1.0h-1.0zM202.9,64.8h1.0v1.0h-1.0zM206.2,158.4h1.0v1.0h-1.0zM242.7,99.8h1.0v1.0h-1.0zM249.9,83.3h1.0v1.0h-1.0zM244.4,92.6h1.0v1.0h-1.0zM199.8,121h1.0v1.0h-1.0zM244.9,118h1.0v1.0h-1.0zM199.2,90.3h1.0v1.0h-1.0zM248.1,135.6h1.0v1.0h-1.0zM206.7,161.3h1.0v1.0h-1.0zM252.7,110.5h1.0v1.0h-1.0zM247.8,83h1.0v1.0h-1.0zM237.6,159.3h1.0v1.0h-1.0zM247,81.1h1.0v1.0h-1.0zM212.6,66h1.0v1.0h-1.0zM242.6,107.7h1.0v1.0h-1.0zM199.2,76.3h1.0v1.0h-1.0zM244.4,112h1.0v1.0h-1.0zM248.5,129.4h1.0v1.0h-1.0zM244.3,157.2h1.0v1.0h-1.0zM198.3,128.7h1.0v1.0h-1.0zM246.4,133.6h1.0v1.0h-1.0zM200.5,120.8h1.0v1.0h-1.0zM213.9,66.5h1.0v1.0h-1.0zM219.9,63.2h1.0v1.0h-1.0zM200.2,88.6h1.0v1.0h-1.0zM226.2,64.3h1.0v1.0h-1.0zM200.5,108.5h1.0v1.0h-1.0zM243.3,157.5h1.0v1.0h-1.0zM246,100.4h1.0v1.0h-1.0zM249.9,95.5h1.0v1.0h-1.0zM202.6,156.7h1.0v1.0h-1.0zM203.8,159.6h1.0v1.0h-1.0zM243.5,71h1.0v1.0h-1.0zM201.3,154.6h1.0v1.0h-1.0zM245.8,132.3h1.0v1.0h-1.0zM198.6,75.6h1.0v1.0h-1.0zM234.5,60.4h1.0v1.0h-1.0zM243.1,155.4h1.0v1.0h-1.0zM208.4,161h1.0v1.0h-1.0zM248.7,90h1.0v1.0h-1.0zM208.7,159.4h1.0v1.0h-1.0zM248.3,132h1.0v1.0h-1.0zM246.1,134.7h1.0v1.0h-1.0zM198.2,144.8h1.0v1.0h-1.0zM200,72h1.0v1.0h-1.0zM250.2,124.5h1.0v1.0h-1.0zM216.2,59.3h1.0v1.0h-1.0zM246.6,138.6h1.0v1.0h-1.0zM246.4,85.9h1.0v1.0h-1.0zM246,83h1.0v1.0h-1.0zM199,121.6h1.0v1.0h-1.0zM208,161.1h1.0v1.0h-1.0zM198.7,79.5h1.0v1.0h-1.0zM247.4,149.9h1.0v1.0h-1.0zM202.2,104.2h1.0v1.0h-1.0zM216.8,65.6h1.0v1.0h-1.0zM246.5,79.3h1.0v1.0h-1.0zM245.1,112.6h1.0v1.0h-1.0zM239.1,67.3h1.0v1.0h-1.0zM243.7,109.3h1.0v1.0h-1.0zM245.1,113.1h1.0v1.0h-1.0zM246.6,143.5h1.0v1.0h-1.0zM246.4,81.4h1.0v1.0h-1.0zM199,157.3h1.0v1.0h-1.0zM247.8,138.5h1.0v1.0h-1.0zM243.4,104.4h1.0v1.0h-1.0zM198.8,95h1.0v1.0h-1.0zM200.5,150.5h1.0v1.0h-1.0zM240.9,160.4h1.0v1.0h-1.0zM210.5,65.6h1.0v1.0h-1.0zM251.8,77.3h1.0v1.0h-1.0zM243.9,104.4h1.0v1.0h-1.0zM240.2,67.4h1.0v1.0h-1.0zM199.6,110.9h1.0v1.0h-1.0zM198.3,154.4h1.0v1.0h-1.0zM246.9,134.9h1.0v1.0h-1.0zM232.2,161.7h1.0v1.0h-1.0zM200.6,74h1.0v1.0h-1.0zM222.8,161.1h1.0v1.0h-1.0zM201,158.5h1.0v1.0h-1.0zM246.9,133.9h1.0v1.0h-1.0zM247.6,128.8h1.0v1.0h-1.0zM245.9,109.5h1.0v1.0h-1.0zM199.2,84.7h1.0v1.0h-1.0zM247.8,82.5h1.0v1.0h-1.0zM236.2,159.6h1.0v1.0h-1.0zM200,111.7h1.0v1.0h-1.0zM247.6,82.6h1.0v1.0h-1.0zM201.7,99h1.0v1.0h-1.0zM221.2,61h1.0v1.0h-1.0zM205.8,63.8h1.0v1.0h-1.0zM200.9,72.8h1.0v1.0h-1.0zM200.7,113h1.0v1.0h-1.0zM221.1,64.5h1.0v1.0h-1.0zM199.3,92h1.0v1.0h-1.0zM200.1,110.5h1.0v1.0h-1.0zM199.5,75.1h1.0v1.0h-1.0zM245.3,108.4h1.0v1.0h-1.0zM200.7,90.5h1.0v1.0h-1.0zM201.5,102.3h1.0v1.0h-1.0zM198.8,130.1h1.0v1.0h-1.0zM244.2,155.3h1.0v1.0h-1.0zM246.6,134.5h1.0v1.0h-1.0zM225.2,63.4h1.0v1.0h-1.0zM245.8,148.9h1.0v1.0h-1.0zM242.8,101.6h1.0v1.0h-1.0zM211.5,65.8h1.0v1.0h-1.0zM245.9,129.9h1.0v1.0h-1.0zM246.2,130.9h1.0v1.0h-1.0zM199.1,135.3h1.0v1.0h-1.0zM199,125.6h1.0v1.0h-1.0zM244.6,91.5h1.0v1.0h-1.0zM248.7,153.9h1.0v1.0h-1.0zM243.6,69.1h1.0v1.0h-1.0zM207.2,60.8h1.0v1.0h-1.0zM201.9,155.5h1.0v1.0h-1.0zM244.2,156.4h1.0v1.0h-1.0zM246,120.2h1.0v1.0h-1.0zM244.2,106.7h1.0v1.0h-1.0zM201.6,70.4h1.0v1.0h-1.0zM247.2,147.7h1.0v1.0h-1.0zM199.9,96h1.0v1.0h-1.0zM246.1,152.2h1.0v1.0h-1.0zM246.2,73.2h1.0v1.0h-1.0zM245.2,76h1.0v1.0h-1.0zM227.1,65.6h1.0v1.0h-1.0zM235.8,162.3h1.0v1.0h-1.0zM246.7,120.7h1.0v1.0h-1.0zM240.6,158.9h1.0v1.0h-1.0zM245.6,73.5h1.0v1.0h-1.0zM247.6,80h1.0v1.0h-1.0zM199.4,85.6h1.0v1.0h-1.0zM200.9,96.6h1.0v1.0h-1.0zM199.7,133.1h1.0v1.0h-1.0zM245.9,88h1.0v1.0h-1.0zM201,156h1.0v1.0h-1.0zM200.2,120.6h1.0v1.0h-1.0zM236.2,160h1.0v1.0h-1.0zM218.2,160.5h1.0v1.0h-1.0zM227.9,61.9h1.0v1.0h-1.0zM244.3,66h1.0v1.0h-1.0zM245.9,90h1.0v1.0h-1.0zM199.1,143.4h1.0v1.0h-1.0zM201.4,99.5h1.0v1.0h-1.0zM222.9,66.7h1.0v1.0h-1.0zM199,129.1h1.0v1.0h-1.0zM200.4,75.1h1.0v1.0h-1.0zM240.8,159.4h1.0v1.0h-1.0zM245.7,84.2h1.0v1.0h-1.0zM227.2,161.5h1.0v1.0h-1.0zM240.4,68.5h1.0v1.0h-1.0zM199.1,147.9h1.0v1.0h-1.0zM199.2,152.1h1.0v1.0h-1.0zM201.6,108.2h1.0v1.0h-1.0zM228,66.2h1.0v1.0h-1.0zM248.5,124.7h1.0v1.0h-1.0zM250.2,158.6h1.0v1.0h-1.0zM224.3,66.5h1.0v1.0h-1.0zM199.4,130.7h1.0v1.0h-1.0zM217.4,161.7h1.0v1.0h-1.0zM227.6,65h1.0v1.0h-1.0zM208,67.2h1.0v1.0h-1.0zM200.7,104h1.0v1.0h-1.0zM245.8,128.6h1.0v1.0h-1.0zM246.5,139.9h1.0v1.0h-1.0zM248.7,95.4h1.0v1.0h-1.0zM228.8,160.3h1.0v1.0h-1.0zM243.1,161.4h1.0v1.0h-1.0zM243,102.9h1.0v1.0h-1.0zM198.7,80.8h1.0v1.0h-1.0zM244.1,156.3h1.0v1.0h-1.0zM235.7,66.7h1.0v1.0h-1.0zM248.9,71.3h1.0v1.0h-1.0zM198.3,149.9h1.0v1.0h-1.0zM249.7,129h1.0v1.0h-1.0zM200,145.3h1.0v1.0h-1.0zM200.6,155.4h1.0v1.0h-1.0zM210.6,60.3h1.0v1.0h-1.0zM200.5,152.8h1.0v1.0h-1.0zM250.1,132.1h1.0v1.0h-1.0zM247.8,92.2h1.0v1.0h-1.0zM250.2,156h1.0v1.0h-1.0zM249.1,143.9h1.0v1.0h-1.0zM244.9,95.3h1.0v1.0h-1.0zM247.3,119.5h1.0v1.0h-1.0zM199.1,137.3h1.0v1.0h-1.0zM198.7,81.1h1.0v1.0h-1.0zM236.7,66.9h1.0v1.0h-1.0zM200.2,131.5h1.0v1.0h-1.0zM253.4,131h1.0v1.0h-1.0zM240.4,159.9h1.0v1.0h-1.0zM215.7,62h1.0v1.0h-1.0zM224,160.8h1.0v1.0h-1.0zM249.3,95.5h1.0v1.0h-1.0zM245.9,129.5h1.0v1.0h-1.0zM250.2,119.4h1.0v1.0h-1.0zM247,143.9h1.0v1.0h-1.0zM199.3,139.1h1.0v1.0h-1.0zM248.1,81.4h1.0v1.0h-1.0zM247,100h1.0v1.0h-1.0zM224,66.3h1.0v1.0h-1.0zM199.4,117.7h1.0v1.0h-1.0zM200.5,100.3h1.0v1.0h-1.0zM199.6,88h1.0v1.0h-1.0zM200,114.2h1.0v1.0h-1.0zM247,129.7h1.0v1.0h-1.0zM246.8,130.1h1.0v1.0h-1.0zM233.8,160.2h1.0v1.0h-1.0zM243.1,97.7h1.0v1.0h-1.0zM229,162.2h1.0v1.0h-1.0zM246,74.7h1.0v1.0h-1.0zM247.1,88.5h1.0v1.0h-1.0zM244.8,95.1h1.0v1.0h-1.0zM200.2,124.2h1.0v1.0h-1.0zM210.5,63h1.0v1.0h-1.0zM243.2,104.6h1.0v1.0h-1.0zM245.4,147.8h1.0v1.0h-1.0zM248.6,134.8h1.0v1.0h-1.0zM242.9,98.3h1.0v1.0h-1.0zM230.1,162.1h1.0v1.0h-1.0zM246.1,76.1h1.0v1.0h-1.0zM211.9,160.7h1.0v1.0h-1.0zM211.6,160.6h1.0v1.0h-1.0zM198.6,83.7h1.0v1.0h-1.0zM237,65.5h1.0v1.0h-1.0zM243.8,71.2h1.0v1.0h-1.0zM246.5,138.8h1.0v1.0h-1.0zM200.3,86.1h1.0v1.0h-1.0zM245.4,90.6h1.0v1.0h-1.0zM210,159.6h1.0v1.0h-1.0zM249.7,124.2h1.0v1.0h-1.0zM245.7,113.3h1.0v1.0h-1.0zM243.9,69.1h1.0v1.0h-1.0zM245.9,80.6h1.0v1.0h-1.0zM198.4,142.4h1.0v1.0h-1.0zM199.9,142.6h1.0v1.0h-1.0zM244.2,100.8h1.0v1.0h-1.0zM250.8,151.8h1.0v1.0h-1.0zM200.1,85h1.0v1.0h-1.0zM231,64.4h1.0v1.0h-1.0zM208.2,63.8h1.0v1.0h-1.0zM239.5,161.1h1.0v1.0h-1.0zM220.8,64.6h1.0v1.0h-1.0zM198.9,90.7h1.0v1.0h-1.0zM226.6,60.7h1.0v1.0h-1.0zM215.5,160.6h1.0v1.0h-1.0zM199.5,143.8h1.0v1.0h-1.0zM205.1,158h1.0v1.0h-1.0zM246.1,87h1.0v1.0h-1.0zM203.7,156.7h1.0v1.0h-1.0zM244,99.7h1.0v1.0h-1.0zM247,113.9h1.0v1.0h-1.0zM245,95.8h1.0v1.0h-1.0zM232.7,161.8h1.0v1.0h-1.0zM208.2,159.4h1.0v1.0h-1.0zM236.8,160.6h1.0v1.0h-1.0zM201.1,112.9h1.0v1.0h-1.0zM245.7,119.2h1.0v1.0h-1.0zM248.8,106.3h1.0v1.0h-1.0zM204.7,65.8h1.0v1.0h-1.0zM236,160.4h1.0v1.0h-1.0zM218.6,65.1h1.0v1.0h-1.0zM198.4,127.2h1.0v1.0h-1.0zM251.1,141h1.0v1.0h-1.0zM243.3,98.1h1.0v1.0h-1.0zM242.9,66.6h1.0v1.0h-1.0zM245,117.2h1.0v1.0h-1.0zM199.9,119.4h1.0v1.0h-1.0zM200.5,120.6h1.0v1.0h-1.0zM200.1,126.5h1.0v1.0h-1.0zM246.3,77.8h1.0v1.0h-1.0zM200.2,87.5h1.0v1.0h-1.0zM199.9,113.4h1.0v1.0h-1.0zM244.9,155h1.0v1.0h-1.0zM210.7,159.6h1.0v1.0h-1.0zM243.8,98.4h1.0v1.0h-1.0zM204,159.7h1.0v1.0h-1.0zM212.6,160h1.0v1.0h-1.0zM207.6,58.5h1.0v1.0h-1.0zM199.3,139.9h1.0v1.0h-1.0zM200.8,99.4h1.0v1.0h-1.0zM240.2,67.8h1.0v1.0h-1.0zM198.5,111.6h1.0v1.0h-1.0zM200,122.4h1.0v1.0h-1.0zM245.8,146.5h1.0v1.0h-1.0zM244.8,113.3h1.0v1.0h-1.0zM250.5,85.9h1.0v1.0h-1.0zM234,61.1h1.0v1.0h-1.0zM200,93h1.0v1.0h-1.0zM199.4,78.4h1.0v1.0h-1.0zM199.8,155.1h1.0v1.0h-1.0zM245.4,107.9h1.0v1.0h-1.0zM200.3,90.6h1.0v1.0h-1.0zM201.4,157h1.0v1.0h-1.0zM244.4,73.8h1.0v1.0h-1.0zM243.1,70.6h1.0v1.0h-1.0zM247.1,138.2h1.0v1.0h-1.0zM230.2,63h1.0v1.0h-1.0zM245.6,126.7h1.0v1.0h-1.0zM225,160.3h1.0v1.0h-1.0zM245.5,86.1h1.0v1.0h-1.0zM247.4,81.8h1.0v1.0h-1.0zM198.6,78.6h1.0v1.0h-1.0zM246.9,74.6h1.0v1.0h-1.0zM244.5,94.6h1.0v1.0h-1.0zM242.8,103.3h1.0v1.0h-1.0zM242.6,106.6h1.0v1.0h-1.0zM229,160.1h1.0v1.0h-1.0zM200.6,101.6h1.0v1.0h-1.0zM199.6,84.9h1.0v1.0h-1.0zM246.8,125h1.0v1.0h-1.0zM201.3,96.9h1.0v1.0h-1.0zM244.6,103.4h1.0v1.0h-1.0zM200.7,149.7h1.0v1.0h-1.0zM242.8,100.4h1.0v1.0h-1.0zM245.4,75.3h1.0v1.0h-1.0zM246.4,142.7h1.0v1.0h-1.0zM246.9,125.6h1.0v1.0h-1.0zM224.9,64.7h1.0v1.0h-1.0zM245.9,139.1h1.0v1.0h-1.0zM250.1,151.1h1.0v1.0h-1.0zM246.7,117.2h1.0v1.0h-1.0zM199.1,72.2h1.0v1.0h-1.0zM238.1,63.4h1.0v1.0h-1.0zM201.8,70.5h1.0v1.0h-1.0zM248.8,134.9h1.0v1.0h-1.0zM216.7,160.8h1.0v1.0h-1.0zM201.6,70.2h1.0v1.0h-1.0zM199.5,78.2h1.0v1.0h-1.0zM199.9,139.2h1.0v1.0h-1.0zM214.6,66.8h1.0v1.0h-1.0zM247.5,122.1h1.0v1.0h-1.0zM200.6,92.7h1.0v1.0h-1.0zM243.7,105.6h1.0v1.0h-1.0zM203.8,66.1h1.0v1.0h-1.0zM201.9,65.3h1.0v1.0h-1.0zM238,159.3h1.0v1.0h-1.0zM248.7,149.7h1.0v1.0h-1.0zM229.9,160.2h1.0v1.0h-1.0zM204.9,66.5h1.0v1.0h-1.0zM201.4,72.4h1.0v1.0h-1.0zM201.3,72.5h1.0v1.0h-1.0zM244,99.6h1.0v1.0h-1.0zM237.4,67.1h1.0v1.0h-1.0zM245.6,85h1.0v1.0h-1.0zM236.9,63.3h1.0v1.0h-1.0zM246.2,99.8h1.0v1.0h-1.0zM239.8,159.2h1.0v1.0h-1.0zM245.8,125.2h1.0v1.0h-1.0zM246.6,95h1.0v1.0h-1.0zM245.4,72.7h1.0v1.0h-1.0zM240.1,159.9h1.0v1.0h-1.0zM244.5,92.2h1.0v1.0h-1.0zM213.2,160.5h1.0v1.0h-1.0zM246.4,130h1.0v1.0h-1.0zM201.4,97.8h1.0v1.0h-1.0zM198.7,122.2h1.0v1.0h-1.0zM199.2,118.9h1.0v1.0h-1.0zM201.9,70.6h1.0v1.0h-1.0zM242.4,106.2h1.0v1.0h-1.0zM207.6,67.6h1.0v1.0h-1.0zM247.8,132.9h1.0v1.0h-1.0zM246.9,84.6h1.0v1.0h-1.0zM199.9,156h1.0v1.0h-1.0zM201.4,106.4h1.0v1.0h-1.0zM216.7,64.4h1.0v1.0h-1.0zM208.3,160h1.0v1.0h-1.0zM237.1,66.2h1.0v1.0h-1.0zM239.9,67.2h1.0v1.0h-1.0zM203.8,159h1.0v1.0h-1.0zM246.9,121.9h1.0v1.0h-1.0zM201,106.3h1.0v1.0h-1.0zM234.7,160.8h1.0v1.0h-1.0zM234.7,66.9h1.0v1.0h-1.0zM214,66.4h1.0v1.0h-1.0zM199.2,104.8h1.0v1.0h-1.0zM220.1,64.1h1.0v1.0h-1.0zM245.3,114.1h1.0v1.0h-1.0zM231.2,64h1.0v1.0h-1.0zM200.3,93.9h1.0v1.0h-1.0zM246.4,80.7h1.0v1.0h-1.0zM247,101.3h1.0v1.0h-1.0zM226.5,57.6h1.0v1.0h-1.0zM237.7,160.2h1.0v1.0h-1.0zM201,156.7h1.0v1.0h-1.0zM246.7,131.6h1.0v1.0h-1.0zM243.5,98.7h1.0v1.0h-1.0zM245.9,97.5h1.0v1.0h-1.0zM244.3,72.5h1.0v1.0h-1.0zM200.8,94.7h1.0v1.0h-1.0zM250.9,124.1h1.0v1.0h-1.0zM200.8,95.8h1.0v1.0h-1.0zM198.6,75.3h1.0v1.0h-1.0zM243.6,109.6h1.0v1.0h-1.0zM201.6,157.1h1.0v1.0h-1.0zM201.1,111.1h1.0v1.0h-1.0zM248.7,115.3h1.0v1.0h-1.0zM246.9,125.4h1.0v1.0h-1.0zM203.4,68.1h1.0v1.0h-1.0zM245.6,149.5h1.0v1.0h-1.0zM245.9,72.2h1.0v1.0h-1.0zM244.9,74h1.0v1.0h-1.0zM200.6,147.9h1.0v1.0h-1.0zM200.6,69.8h1.0v1.0h-1.0zM206.1,159.2h1.0v1.0h-1.0zM205.4,157.8h1.0v1.0h-1.0zM222.2,160.5h1.0v1.0h-1.0zM199.5,90.6h1.0v1.0h-1.0zM247.2,84.4h1.0v1.0h-1.0zM246.8,137.9h1.0v1.0h-1.0zM233.3,162.3h1.0v1.0h-1.0zM247.2,73.6h1.0v1.0h-1.0zM247,92.9h1.0v1.0h-1.0zM199,84.3h1.0v1.0h-1.0zM227.3,63.9h1.0v1.0h-1.0zM198.4,148.4h1.0v1.0h-1.0zM245,156.7h1.0v1.0h-1.0zM244.1,101.2h1.0v1.0h-1.0zM200.2,92.8h1.0v1.0h-1.0zM203.3,68.7h1.0v1.0h-1.0zM251,145.6h1.0v1.0h-1.0zM204.7,64.2h1.0v1.0h-1.0zM238.5,162.5h1.0v1.0h-1.0zM200.3,149.5h1.0v1.0h-1.0zM243.2,100.8h1.0v1.0h-1.0zM204.6,157.4h1.0v1.0h-1.0zM248.5,121.2h1.0v1.0h-1.0zM227.7,160.3h1.0v1.0h-1.0zM247.8,126.9h1.0v1.0h-1.0zM223.2,64.5h1.0v1.0h-1.0zM240.2,159.9h1.0v1.0h-1.0zM242.5,103.7h1.0v1.0h-1.0zM198.4,120.6h1.0v1.0h-1.0zM243,155.3h1.0v1.0h-1.0zM239.1,67.3h1.0v1.0h-1.0zM238.2,65.8h1.0v1.0h-1.0zM249.9,128.9h1.0v1.0h-1.0zM199.2,150.7h1.0v1.0h-1.0zM199.3,133.8h1.0v1.0h-1.0zM252,125.3h1.0v1.0h-1.0zM214.5,160.9h1.0v1.0h-1.0zM234.7,65.9h1.0v1.0h-1.0zM240.2,158.5h1.0v1.0h-1.0zM245.5,120.3h1.0v1.0h-1.0zM199.1,116.3h1.0v1.0h-1.0zM214,66.6h1.0v1.0h-1.0zM198.1,145.5h1.0v1.0h-1.0zM245.2,88.9h1.0v1.0h-1.0zM200.6,108.4h1.0v1.0h-1.0zM223.2,64.5h1.0v1.0h-1.0zM239.4,65.6h1.0v1.0h-1.0zM247.2,82.8h1.0v1.0h-1.0zM245.4,120.4h1.0v1.0h-1.0zM245.7,144.7h1.0v1.0h-1.0zM198.6,110.7h1.0v1.0h-1.0zM244.8,92.7h1.0v1.0h-1.0zM242.7,100.9h1.0v1.0h-1.0zM200.4,119.6h1.0v1.0h-1.0zM255.5,76.8h1.0v1.0h-1.0zM248.1,151.6h1.0v1.0h-1.0zM243.5,161.1h1.0v1.0h-1.0zM199.6,114h1.0v1.0h-1.0zM244.6,93.6h1.0v1.0h-1.0zM200.5,76.8h1.0v1.0h-1.0zM247.2,88.8h1.0v1.0h-1.0zM230.9,66.4h1.0v1.0h-1.0zM203.2,157.9h1.0v1.0h-1.0zM199.1,79.3h1.0v1.0h-1.0zM246.7,81.5h1.0v1.0h-1.0zM247.7,89.6h1.0v1.0h-1.0zM250.2,156.6h1.0v1.0h-1.0zM199.5,125.7h1.0v1.0h-1.0zM246.7,71.4h1.0v1.0h-1.0zM202.2,70.8h1.0v1.0h-1.0zM246.3,120.3h1.0v1.0h-1.0zM200.8,114.5h1.0v1.0h-1.0zM225.7,160.6h1.0v1.0h-1.0zM201.7,156.1h1.0v1.0h-1.0zM243.6,70.5h1.0v1.0h-1.0zM198.5,117.4h1.0v1.0h-1.0zM233.8,161.9h1.0v1.0h-1.0zM210.4,66.8h1.0v1.0h-1.0zM198.8,150h1.0v1.0h-1.0zM200.3,72.7h1.0v1.0h-1.0zM245.6,113.1h1.0v1.0h-1.0zM219.6,162h1.0v1.0h-1.0zM246.3,73.9h1.0v1.0h-1.0zM200,75.7h1.0v1.0h-1.0zM198.6,130.6h1.0v1.0h-1.0zM212.2,59h1.0v1.0h-1.0zM245.3,71.5h1.0v1.0h-1.0zM227.6,65.9h1.0v1.0h-1.0zM216.3,162.5h1.0v1.0h-1.0zM208.6,159.4h1.0v1.0h-1.0zM246.4,114.8h1.0v1.0h-1.0zM248.7,148.2h1.0v1.0h-1.0zM201,100.1h1.0v1.0h-1.0zM202.2,104.7h1.0v1.0h-1.0zM247.1,156.8h1.0v1.0h-1.0zM246,84.7h1.0v1.0h-1.0zM198.4,71.3h1.0v1.0h-1.0zM200.2,107.2h1.0v1.0h-1.0zM239,158.8h1.0v1.0h-1.0zM244.8,91.7h1.0v1.0h-1.0zM200,132.9h1.0v1.0h-1.0zM234.7,66.2h1.0v1.0h-1.0zM200.7,70.4h1.0v1.0h-1.0zM246.7,147h1.0v1.0h-1.0zM246,124.1h1.0v1.0h-1.0zM250.2,145.2h1.0v1.0h-1.0zM249.9,93h1.0v1.0h-1.0zM214.3,61.8h1.0v1.0h-1.0zM246.6,76.2h1.0v1.0h-1.0zM198.7,125.9h1.0v1.0h-1.0zM202.1,70.4h1.0v1.0h-1.0zM205,68h1.0v1.0h-1.0zM211.4,162.4h1.0v1.0h-1.0zM201.3,151.4h1.0v1.0h-1.0zM246.9,134.3h1.0v1.0h-1.0zM201.5,110.4h1.0v1.0h-1.0zM199.5,84.2h1.0v1.0h-1.0zM223.7,66.7h1.0v1.0h-1.0zM248,124.4h1.0v1.0h-1.0zM246.1,80.9h1.0v1.0h-1.0zM200.4,113.8h1.0v1.0h-1.0zM228.8,66.1h1.0v1.0h-1.0zM212.2,59.2h1.0v1.0h-1.0zM223.3,160.5h1.0v1.0h-1.0zM202.3,69.1h1.0v1.0h-1.0zM241.6,158h1.0v1.0h-1.0zM247.8,80.6h1.0v1.0h-1.0zM211.3,66.4h1.0v1.0h-1.0zM240.6,67.3h1.0v1.0h-1.0zM200.9,95.6h1.0v1.0h-1.0zM243.5,106.5h1.0v1.0h-1.0zM244.7,101.6h1.0v1.0h-1.0zM220.6,162.3h1.0v1.0h-1.0zM201.8,103.5h1.0v1.0h-1.0zM198.3,96.9h1.0v1.0h-1.0zM246.6,138.8h1.0v1.0h-1.0zM201.4,68.7h1.0v1.0h-1.0zM218,65.4h1.0v1.0h-1.0zM246.1,153.6h1.0v1.0h-1.0zM241.4,160h1.0v1.0h-1.0zM247.1,123.6h1.0v1.0h-1.0zM199,114.4h1.0v1.0h-1.0zM199.7,135.4h1.0v1.0h-1.0zM205.3,64.5h1.0v1.0h-1.0zM246.1,143.7h1.0v1.0h-1.0zM200.8,104.7h1.0v1.0h-1.0zM200.2,96.9h1.0v1.0h-1.0zM247.7,132.8h1.0v1.0h-1.0zM249.9,148.5h1.0v1.0h-1.0zM237.8,65.3h1.0v1.0h-1.0zM203,66.5h1.0v1.0h-1.0zM248.8,139.8h1.0v1.0h-1.0zM246.3,101.1h1.0v1.0h-1.0zM199.9,79.6h1.0v1.0h-1.0zM200.9,149.7h1.0v1.0h-1.0zM245.6,151.2h1.0v1.0h-1.0zM229.1,66.1h1.0v1.0h-1.0zM249,80.8h1.0v1.0h-1.0zM226.4,161h1.0v1.0h-1.0zM216.6,63.5h1.0v1.0h-1.0zM250.6,130.9h1.0v1.0h-1.0zM246.7,137.3h1.0v1.0h-1.0zM249.1,136.2h1.0v1.0h-1.0zM244,98.9h1.0v1.0h-1.0zM200.7,108.4h1.0v1.0h-1.0zM200.2,79h1.0v1.0h-1.0zM250.1,149.8h1.0v1.0h-1.0zM241.3,65.8h1.0v1.0h-1.0zM208.5,159.8h1.0v1.0h-1.0zM243.6,109.6h1.0v1.0h-1.0zM242.1,162.3h1.0v1.0h-1.0zM200,132.5h1.0v1.0h-1.0zM243.9,70.7h1.0v1.0h-1.0zM199.6,115.2h1.0v1.0h-1.0zM217.6,160.2h1.0v1.0h-1.0zM249.2,69h1.0v1.0h-1.0zM215.9,66.6h1.0v1.0h-1.0zM199.9,115.1h1.0v1.0h-1.0zM247.4,76h1.0v1.0h-1.0zM233.3,66.1h1.0v1.0h-1.0zM202.7,70.2h1.0v1.0h-1.0zM207.5,160.1h1.0v1.0h-1.0zM248.5,81.6h1.0v1.0h-1.0zM198.3,133.7h1.0v1.0h-1.0zM255.2,151.7h1.0v1.0h-1.0zM245.3,151.7h1.0v1.0h-1.0zM198.6,118.1h1.0v1.0h-1.0zM212.5,160.5h1.0v1.0h-1.0zM234.5,64.7h1.0v1.0h-1.0zM231,64.3h1.0v1.0h-1.0zM207.8,159.3h1.0v1.0h-1.0zM228.8,161.3h1.0v1.0h-1.0zM199.5,136.9h1.0v1.0h-1.0zM246.4,81.1h1.0v1.0h-1.0zM245.1,114.1h1.0v1.0h-1.0zM229.3,63.5h1.0v1.0h-1.0zM199.1,128.1h1.0v1.0h-1.0zM242.8,156.9h1.0v1.0h-1.0zM224.3,64.7h1.0v1.0h-1.0zM247.6,81h1.0v1.0h-1.0zM247,87.6h1.0v1.0h-1.0zM199.5,90.9h1.0v1.0h-1.0zM204.6,67.9h1.0v1.0h-1.0zM207,67.6h1.0v1.0h-1.0zM246.1,78h1.0v1.0h-1.0zM245.5,116.4h1.0v1.0h-1.0zM199.6,81.5h1.0v1.0h-1.0zM201.6,98.8h1.0v1.0h-1.0zM219.1,64.7h1.0v1.0h-1.0zM238,66.5h1.0v1.0h-1.0zM246.1,124.8h1.0v1.0h-1.0zM246.5,134.5h1.0v1.0h-1.0zM243.6,70.1h1.0v1.0h-1.0zM248.6,136.4h1.0v1.0h-1.0zM198.9,80.3h1.0v1.0h-1.0zM243.3,155.5h1.0v1.0h-1.0zM201.8,104h1.0v1.0h-1.0zM250.5,75.3h1.0v1.0h-1.0zM246.5,130.8h1.0v1.0h-1.0zM247.6,149.5h1.0v1.0h-1.0zM199.6,145.2h1.0v1.0h-1.0zM209.9,162.3h1.0v1.0h-1.0zM231.7,160.1h1.0v1.0h-1.0zM201,109.5h1.0v1.0h-1.0zM199.9,98.9h1.0v1.0h-1.0zM243.8,71.4h1.0v1.0h-1.0zM198.7,144.2h1.0v1.0h-1.0zM202.1,158h1.0v1.0h-1.0zM233.8,66.4h1.0v1.0h-1.0zM243.1,103.8h1.0v1.0h-1.0zM200.4,117.5h1.0v1.0h-1.0zM225.8,160.1h1.0v1.0h-1.0zM239.6,158.3h1.0v1.0h-1.0zM228.3,161.4h1.0v1.0h-1.0zM245.5,120h1.0v1.0h-1.0zM251.1,140.6h1.0v1.0h-1.0zM235.1,65.7h1.0v1.0h-1.0zM217.2,160.7h1.0v1.0h-1.0zM198.8,74.7h1.0v1.0h-1.0zM208.4,160.3h1.0v1.0h-1.0zM248.7,146.9h1.0v1.0h-1.0zM229.3,66.5h1.0v1.0h-1.0zM242.2,69.5h1.0v1.0h-1.0zM210.8,63.5h1.0v1.0h-1.0zM204.4,68.5h1.0v1.0h-1.0zM219.8,65.1h1.0v1.0h-1.0zM199.2,122.5h1.0v1.0h-1.0zM213.6,161h1.0v1.0h-1.0zM198.9,88h1.0v1.0h-1.0zM199.7,122.1h1.0v1.0h-1.0zM199.4,120.9h1.0v1.0h-1.0zM200.8,100.6h1.0v1.0h-1.0zM230,66.8h1.0v1.0h-1.0zM199.1,130.9h1.0v1.0h-1.0zM205.5,160.8h1.0v1.0h-1.0zM244.2,106.9h1.0v1.0h-1.0zM198.1,89.7h1.0v1.0h-1.0zM238.6,161.7h1.0v1.0h-1.0zM243,99.6h1.0v1.0h-1.0zM203,156.2h1.0v1.0h-1.0zM247,147.7h1.0v1.0h-1.0zM202,100.8h1.0v1.0h-1.0zM245,89.7h1.0v1.0h-1.0zM201.6,156.2h1.0v1.0h-1.0zM199.5,129.8h1.0v1.0h-1.0zM245.9,135.3h1.0v1.0h-1.0zM200.8,151.3h1.0v1.0h-1.0zM202.6,69.1h1.0v1.0h-1.0zM199.9,120.9h1.0v1.0h-1.0zM200.1,152.7h1.0v1.0h-1.0zM247.9,82.1h1.0v1.0h-1.0zM245.6,148.8h1.0v1.0h-1.0zM249,85.5h1.0v1.0h-1.0zM201.1,152.3h1.0v1.0h-1.0zM199.5,90.5h1.0v1.0h-1.0zM200.9,154.3h1.0v1.0h-1.0zM205.9,63.1h1.0v1.0h-1.0zM199.5,125.9h1.0v1.0h-1.0zM238.1,65h1.0v1.0h-1.0zM231.5,65.8h1.0v1.0h-1.0zM200.1,115.2h1.0v1.0h-1.0zM236,62.4h1.0v1.0h-1.0zM220,161.3h1.0v1.0h-1.0zM209.1,65.6h1.0v1.0h-1.0zM244.4,93.9h1.0v1.0h-1.0zM247.6,92.1h1.0v1.0h-1.0zM244.3,64.7h1.0v1.0h-1.0zM245.7,126h1.0v1.0h-1.0zM215.3,63.5h1.0v1.0h-1.0zM247.5,78.6h1.0v1.0h-1.0zM237.4,160.2h1.0v1.0h-1.0zM236.5,159.9h1.0v1.0h-1.0zM232.9,62.2h1.0v1.0h-1.0zM200,88.5h1.0v1.0h-1.0zM245.8,90.2h1.0v1.0h-1.0zM201.3,97.4h1.0v1.0h-1.0zM198.5,85.6h1.0v1.0h-1.0zM209.1,162.1h1.0v1.0h-1.0zM221.7,160.9h1.0v1.0h-1.0zM248,121h1.0v1.0h-1.0zM245.9,75h1.0v1.0h-1.0zM200.3,121.9h1.0v1.0h-1.0zM246.5,114.4h1.0v1.0h-1.0zM212.1,160.8h1.0v1.0h-1.0zM246.4,146.4h1.0v1.0h-1.0zM199.4,74.6h1.0v1.0h-1.0zM202,102.1h1.0v1.0h-1.0zM200.2,119.3h1.0v1.0h-1.0zM245.6,156.2h1.0v1.0h-1.0zM201.6,101.2h1.0v1.0h-1.0zM244.1,106.4h1.0v1.0h-1.0zM234.7,160.8h1.0v1.0h-1.0zM199.8,91.8h1.0v1.0h-1.0zM203.3,159.3h1.0v1.0h-1.0zM207.4,62.5h1.0v1.0h-1.0zM238.8,162.2h1.0v1.0h-1.0zM229.1,161h1.0v1.0h-1.0zM242.2,157h1.0v1.0h-1.0zM245.1,88.1h1.0v1.0h-1.0zM249,149.2h1.0v1.0h-1.0zM248.5,94h1.0v1.0h-1.0zM198.6,74.4h1.0v1.0h-1.0zM244.6,104.8h1.0v1.0h-1.0zM243.1,69.1h1.0v1.0h-1.0zM247.7,80.6h1.0v1.0h-1.0zM245.7,140.6h1.0v1.0h-1.0zM246.8,83.2h1.0v1.0h-1.0zM246.4,131.1h1.0v1.0h-1.0zM200,79.6h1.0v1.0h-1.0zM247.1,123h1.0v1.0h-1.0zM198.3,137.5h1.0v1.0h-1.0zM198.5,124.3h1.0v1.0h-1.0zM236.9,63.9h1.0v1.0h-1.0zM209.1,160.6h1.0v1.0h-1.0zM243.6,100.9h1.0v1.0h-1.0zM203.6,68.1h1.0v1.0h-1.0zM236.5,162.3h1.0v1.0h-1.0zM200.5,104h1.0v1.0h-1.0zM233.6,159.9h1.0v1.0h-1.0zM199.5,153.7h1.0v1.0h-1.0zM221,66.7h1.0v1.0h-1.0zM247.2,145.4h1.0v1.0h-1.0zM201.3,150.7h1.0v1.0h-1.0zM199.5,120.2h1.0v1.0h-1.0zM245.5,108.9h1.0v1.0h-1.0zM198.3,113.9h1.0v1.0h-1.0zM223.1,66.1h1.0v1.0h-1.0zM218.1,160.5h1.0v1.0h-1.0zM238,159.5h1.0v1.0h-1.0zM216.2,66.7h1.0v1.0h-1.0zM206.2,64.8h1.0v1.0h-1.0zM200.3,130.4h1.0v1.0h-1.0zM246.7,127.2h1.0v1.0h-1.0zM247.2,151.7h1.0v1.0h-1.0zM251,148.8h1.0v1.0h-1.0zM224.7,63.7h1.0v1.0h-1.0zM200.2,120.8h1.0v1.0h-1.0zM207.5,161.3h1.0v1.0h-1.0zM204.4,158.9h1.0v1.0h-1.0zM246.1,128.1h1.0v1.0h-1.0zM198.8,79.9h1.0v1.0h-1.0zM254.5,100.2h1.0v1.0h-1.0zM205,162h1.0v1.0h-1.0zM247.7,145.1h1.0v1.0h-1.0zM246,129.9h1.0v1.0h-1.0zM203.2,64.9h1.0v1.0h-1.0zM244.5,107.1h1.0v1.0h-1.0zM214.7,160.3h1.0v1.0h-1.0zM247.1,77.2h1.0v1.0h-1.0zM251.7,98.4h1.0v1.0h-1.0zM199.4,86.9h1.0v1.0h-1.0zM210.5,160.1h1.0v1.0h-1.0zM245.7,79.3h1.0v1.0h-1.0zM235.5,159.6h1.0v1.0h-1.0zM232,65h1.0v1.0h-1.0zM251.1,149h1.0v1.0h-1.0zM199.1,150h1.0v1.0h-1.0zM198.3,122.4h1.0v1.0h-1.0zM248.9,119.1h1.0v1.0h-1.0zM246.3,75.1h1.0v1.0h-1.0zM202,107.9h1.0v1.0h-1.0zM244.7,113.1h1.0v1.0h-1.0zM245.6,98h1.0v1.0h-1.0zM198.5,88.4h1.0v1.0h-1.0zM218.1,62h1.0v1.0h-1.0zM246.7,74.3h1.0v1.0h-1.0zM198.6,131.8h1.0v1.0h-1.0zM212.4,62.3h1.0v1.0h-1.0zM200.2,90.4h1.0v1.0h-1.0zM199.4,87.4h1.0v1.0h-1.0zM225,162.3h1.0v1.0h-1.0zM248.2,139.3h1.0v1.0h-1.0zM242.3,63.3h1.0v1.0h-1.0zM242.1,68.1h1.0v1.0h-1.0zM199.3,89.5h1.0v1.0h-1.0zM249.7,109.3h1.0v1.0h-1.0zM245,112.1h1.0v1.0h-1.0zM199.4,136.6h1.0v1.0h-1.0zM246,84.9h1.0v1.0h-1.0zM201.6,70.5h1.0v1.0h-1.0zM213.6,66.4h1.0v1.0h-1.0zM248.5,132.4h1.0v1.0h-1.0zM246,76.7h1.0v1.0h-1.0zM215.1,161.5h1.0v1.0h-1.0zM249.4,77.4h1.0v1.0h-1.0zM253.3,126h1.0v1.0h-1.0zM244,153.4h1.0v1.0h-1.0zM200,122.5h1.0v1.0h-1.0zM250.2,102.9h1.0v1.0h-1.0zM220.1,65.8h1.0v1.0h-1.0zM226.7,160.2h1.0v1.0h-1.0zM247.2,124h1.0v1.0h-1.0zM246,76.8h1.0v1.0h-1.0zM199.6,114.8h1.0v1.0h-1.0zM246.6,133.9h1.0v1.0h-1.0zM200.8,114h1.0v1.0h-1.0zM213,161.5h1.0v1.0h-1.0zM200.8,93.4h1.0v1.0h-1.0zM208.3,65.9h1.0v1.0h-1.0zM215.6,160.5h1.0v1.0h-1.0z" fill="#2238f6" fill-opacity="0.85"/>
<ellipse cx="224.4" cy="87.2" rx="23.8" ry="16.7" fill="#3a74f8" filter="url(#ca2)"/>
<ellipse cx="224.4" cy="86.2" rx="20.400000000000002" ry="13.799999999999999" fill="#4cc4f0" filter="url(#ba2)"/>
<ellipse cx="224.4" cy="86.2" rx="18.8" ry="12.2" fill="#8ee44a" filter="url(#ba2)"/>
<ellipse cx="224.4" cy="86.2" rx="15.4" ry="9.5" fill="#b4e63c" filter="url(#ba2)"/>
<ellipse cx="224.4" cy="86.2" rx="12" ry="6.8" fill="#ece42e" filter="url(#ba2)"/>
<ellipse cx="224.4" cy="86.1" rx="10.25" ry="5.55" fill="#f0a024" filter="url(#ba2)"/>
<ellipse cx="224.4" cy="86" rx="8.5" ry="3.7" fill="#dc3a18" filter="url(#ba2)"/>
<ellipse cx="224.4" cy="86" rx="5.1" ry="2.22" fill="#d42c16" filter="url(#ba2)"/>
<ellipse cx="223.4" cy="131" rx="19.5" ry="26" fill="#3468f8" filter="url(#ca2)"/>
<ellipse cx="223.4" cy="132.6" rx="18.4" ry="25" fill="#3a74f8" filter="url(#ca2)"/>
<ellipse cx="223.4" cy="132.6" rx="14.4" ry="21" fill="#56c0f0" filter="url(#ca2)"/>
<ellipse cx="223.4" cy="133.8" rx="11.850000000000001" ry="16.85" fill="#7cdcb0" filter="url(#ba2)"/>
<ellipse cx="223.4" cy="135" rx="9.3" ry="12.7" fill="#a2e646" filter="url(#ba2)"/>
<path d="M280.4,83.1h1.0v1.0h-1.0zM281.5,80.7h1.0v1.0h-1.0zM277.4,80h1.0v1.0h-1.0zM281.7,77.4h1.0v1.0h-1.0zM276.1,82.7h1.0v1.0h-1.0zM280.3,83.6h1.0v1.0h-1.0zM276.4,84h1.0v1.0h-1.0zM274,82.1h1.0v1.0h-1.0zM280,81.7h1.0v1.0h-1.0zM279.4,80.3h1.0v1.0h-1.0zM282.3,77.8h1.0v1.0h-1.0zM279.1,80h1.0v1.0h-1.0zM279.5,81.8h1.0v1.0h-1.0zM284.1,75.1h1.0v1.0h-1.0zM282.1,83.2h1.0v1.0h-1.0zM278,81.5h1.0v1.0h-1.0zM277.9,81.1h1.0v1.0h-1.0zM283.8,78.1h1.0v1.0h-1.0zM278.1,79.5h1.0v1.0h-1.0zM280.2,79.2h1.0v1.0h-1.0zM275.5,79.6h1.0v1.0h-1.0zM280.1,76h1.0v1.0h-1.0zM278.3,83.7h1.0v1.0h-1.0zM277.8,79.2h1.0v1.0h-1.0zM281.5,83.8h1.0v1.0h-1.0zM280.7,78.7h1.0v1.0h-1.0zM276.1,81h1.0v1.0h-1.0zM276.6,85.4h1.0v1.0h-1.0zM277.9,84.6h1.0v1.0h-1.0zM281.6,80.3h1.0v1.0h-1.0zM278.6,80.1h1.0v1.0h-1.0zM281.9,81h1.0v1.0h-1.0zM275,82.8h1.0v1.0h-1.0zM282.9,78.4h1.0v1.0h-1.0zM279.4,77.9h1.0v1.0h-1.0zM274.8,77.3h1.0v1.0h-1.0zM280.7,78.8h1.0v1.0h-1.0zM277.5,80.2h1.0v1.0h-1.0zM283.5,73.7h1.0v1.0h-1.0zM280.4,79.4h1.0v1.0h-1.0zM281.6,79.4h1.0v1.0h-1.0zM278.2,80.2h1.0v1.0h-1.0zM280.2,76.5h1.0v1.0h-1.0zM279,80.1h1.0v1.0h-1.0zM280.7,77.8h1.0v1.0h-1.0zM280.6,78.7h1.0v1.0h-1.0zM277.7,80.8h1.0v1.0h-1.0zM277.4,86h1.0v1.0h-1.0zM281.8,80.5h1.0v1.0h-1.0zM278.4,83.3h1.0v1.0h-1.0zM278.2,81.7h1.0v1.0h-1.0zM278.1,79.6h1.0v1.0h-1.0zM280.2,81.1h1.0v1.0h-1.0zM278.9,80.6h1.0v1.0h-1.0zM279.1,77.1h1.0v1.0h-1.0zM279.3,81.6h1.0v1.0h-1.0zM280.3,82.9h1.0v1.0h-1.0zM278.1,82.9h1.0v1.0h-1.0zM277.2,79.2h1.0v1.0h-1.0zM277.7,81.9h1.0v1.0h-1.0zM279.8,84.1h1.0v1.0h-1.0zM282.7,79.4h1.0v1.0h-1.0zM277.2,80.5h1.0v1.0h-1.0zM274.1,77.7h1.0v1.0h-1.0zM278.2,85.2h1.0v1.0h-1.0zM281.9,82h1.0v1.0h-1.0zM275.2,80h1.0v1.0h-1.0zM278.9,82.1h1.0v1.0h-1.0zM277.3,81.9h1.0v1.0h-1.0zM278.1,79.6h1.0v1.0h-1.0zM282.6,84.6h1.0v1.0h-1.0zM281.3,80.5h1.0v1.0h-1.0zM281.9,79.8h1.0v1.0h-1.0zM282.2,80.9h1.0v1.0h-1.0zM279.9,80.6h1.0v1.0h-1.0zM280.5,83.3h1.0v1.0h-1.0zM280.5,78.8h1.0v1.0h-1.0zM274,82.4h1.0v1.0h-1.0zM278.4,81.4h1.0v1.0h-1.0zM282.5,75.8h1.0v1.0h-1.0zM278.6,80.3h1.0v1.0h-1.0zM277.8,77.8h1.0v1.0h-1.0zM279.2,80.2h1.0v1.0h-1.0zM277.8,78.5h1.0v1.0h-1.0zM280.9,79h1.0v1.0h-1.0zM277.4,79.8h1.0v1.0h-1.0zM275.1,83.2h1.0v1.0h-1.0zM278.3,82.4h1.0v1.0h-1.0zM280.3,76.5h1.0v1.0h-1.0zM281.8,79.7h1.0v1.0h-1.0z" fill="#1c3cff" fill-opacity="0.8"/>
<ellipse cx="279.5" cy="80.5" rx="2.4699999999999998" ry="1.71" transform="rotate(-40 279.5 80.5)" fill="#1c3cff" fill-opacity="0.85" filter="url(#ba2)"/>
<path d="M272,89.6h1.0v1.0h-1.0zM264,93.2h1.0v1.0h-1.0zM271.9,95.6h1.0v1.0h-1.0zM264.2,86.7h1.0v1.0h-1.0zM272.7,82.2h1.0v1.0h-1.0zM276.5,85.7h1.0v1.0h-1.0zM265.6,87.3h1.0v1.0h-1.0zM269.3,88.7h1.0v1.0h-1.0zM269.4,84.7h1.0v1.0h-1.0zM262.5,91.8h1.0v1.0h-1.0zM270.1,89.5h1.0v1.0h-1.0zM277.5,81.7h1.0v1.0h-1.0zM264.6,82.1h1.0v1.0h-1.0zM280.8,78.5h1.0v1.0h-1.0zM270.8,85h1.0v1.0h-1.0zM263.9,91.7h1.0v1.0h-1.0zM281.3,81.1h1.0v1.0h-1.0zM277.5,86.7h1.0v1.0h-1.0zM275.8,85.3h1.0v1.0h-1.0zM268.7,91.1h1.0v1.0h-1.0zM271.3,78.9h1.0v1.0h-1.0zM267,88h1.0v1.0h-1.0zM282.7,81.9h1.0v1.0h-1.0zM270.8,85.5h1.0v1.0h-1.0zM275.4,89.9h1.0v1.0h-1.0zM277,87.7h1.0v1.0h-1.0zM265.8,90.8h1.0v1.0h-1.0zM269.4,89.4h1.0v1.0h-1.0zM272,84.7h1.0v1.0h-1.0zM274.1,86.3h1.0v1.0h-1.0zM268.8,91.7h1.0v1.0h-1.0zM268.8,86.1h1.0v1.0h-1.0zM264.8,92.5h1.0v1.0h-1.0zM272,90.9h1.0v1.0h-1.0zM274.3,88.3h1.0v1.0h-1.0zM273.6,89.7h1.0v1.0h-1.0zM269.4,94h1.0v1.0h-1.0zM263.7,86.4h1.0v1.0h-1.0zM269.5,89h1.0v1.0h-1.0zM270,89.4h1.0v1.0h-1.0zM276.5,90.5h1.0v1.0h-1.0zM276.2,85.3h1.0v1.0h-1.0zM272.2,84.9h1.0v1.0h-1.0zM275.5,84.2h1.0v1.0h-1.0zM278.8,78.7h1.0v1.0h-1.0zM272.7,85.2h1.0v1.0h-1.0zM270,88.5h1.0v1.0h-1.0zM269.8,90.9h1.0v1.0h-1.0zM276.3,90.2h1.0v1.0h-1.0zM273.3,85.5h1.0v1.0h-1.0zM269.4,94.4h1.0v1.0h-1.0zM270.4,85h1.0v1.0h-1.0zM279.6,91.1h1.0v1.0h-1.0zM274.9,91.1h1.0v1.0h-1.0zM273.7,86.7h1.0v1.0h-1.0zM286.2,83.2h1.0v1.0h-1.0zM273.5,79.8h1.0v1.0h-1.0zM276.6,88.7h1.0v1.0h-1.0zM277.8,85.3h1.0v1.0h-1.0zM268.2,88.4h1.0v1.0h-1.0zM273.8,89.5h1.0v1.0h-1.0zM278.8,85.1h1.0v1.0h-1.0zM272.1,90.3h1.0v1.0h-1.0zM275.5,85.2h1.0v1.0h-1.0zM266.2,86.9h1.0v1.0h-1.0zM273.2,84.2h1.0v1.0h-1.0zM270.5,86.9h1.0v1.0h-1.0zM273.2,87.8h1.0v1.0h-1.0zM265.1,90.7h1.0v1.0h-1.0zM272.4,89.6h1.0v1.0h-1.0zM273.2,84.6h1.0v1.0h-1.0zM269.4,84.1h1.0v1.0h-1.0zM271.4,84.5h1.0v1.0h-1.0zM267.6,95.5h1.0v1.0h-1.0zM272.3,84.5h1.0v1.0h-1.0zM277.2,84.4h1.0v1.0h-1.0zM277.9,84.6h1.0v1.0h-1.0zM273.1,86.6h1.0v1.0h-1.0zM276.9,86.4h1.0v1.0h-1.0zM269.4,92.2h1.0v1.0h-1.0zM260.2,90.2h1.0v1.0h-1.0zM277.9,88.1h1.0v1.0h-1.0zM270.5,82.8h1.0v1.0h-1.0zM267.7,95.5h1.0v1.0h-1.0zM275,84.4h1.0v1.0h-1.0zM272.7,86.5h1.0v1.0h-1.0zM262.7,94.3h1.0v1.0h-1.0zM276.1,80.4h1.0v1.0h-1.0zM278.4,83.9h1.0v1.0h-1.0zM262.2,96.3h1.0v1.0h-1.0z" fill="#3050ff" fill-opacity="0.5"/>
<ellipse cx="279" cy="83" rx="21.5" ry="10.5" transform="rotate(-57 279 83)" fill="none" stroke="#505050" stroke-width="1.2"/>
<text x="281.6" y="49.7" font-size="15.6" fill="#000" letter-spacing="0.6">0.10</text>
<path d="M39.4,176.7 L39.4,19.5 M37.9,175.2 L335.0,175.2" stroke="#000" stroke-width="2.9" fill="none"/>
<path d="M33.55,27.9 L39.4,18.5 L45.25,27.9 M326.6,169.35 L336.0,175.2 L326.6,181.04999999999998" stroke="#000" stroke-width="3.2" fill="none" stroke-linecap="round" stroke-miterlimit="10"/>
<text x="257.5" y="194.5" font-size="12.7" text-anchor="middle" fill="#000">CD1d tetramer: α-GalCer</text>
<text x="390.6" y="21.9" font-size="21" font-weight="bold" fill="#000">B</text>
<path d="M432.5,35.6 L432.5,178.2 M431.6,178.2 L645.3,178.2 M428.5,36.5 L432.5,36.5 M428.5,64.8 L432.5,64.8 M428.5,93.2 L432.5,93.2 M428.5,121.5 L432.5,121.5 M428.5,149.9 L432.5,149.9 M428.5,178.2 L432.5,178.2 M485,178.2 L485,181.7 M591.5,178.2 L591.5,181.7" stroke="#000" stroke-width="1.8" fill="none"/>
<text x="426" y="40.2" font-size="10.4" font-weight="bold" text-anchor="end" fill="#000">0.5</text>
<text x="426" y="68.6" font-size="10.4" font-weight="bold" text-anchor="end" fill="#000">0.4</text>
<text x="426" y="96.9" font-size="10.4" font-weight="bold" text-anchor="end" fill="#000">0.3</text>
<text x="426" y="125.3" font-size="10.4" font-weight="bold" text-anchor="end" fill="#000">0.2</text>
<text x="426" y="153.6" font-size="10.4" font-weight="bold" text-anchor="end" fill="#000">0.1</text>
<text x="426" y="181.9" font-size="10.4" font-weight="bold" text-anchor="end" fill="#000">0.0</text>
<text x="485" y="193.2" font-size="10.5" font-weight="bold" text-anchor="middle" fill="#000">control</text>
<text x="591.5" y="193.2" font-size="10.5" font-weight="bold" text-anchor="middle" fill="#000">psoriasis</text>
<text x="405.8" y="100.4" font-size="11.2" font-weight="bold" text-anchor="middle" transform="rotate(-90 405.8 100.4)" fill="#000"><tspan font-style="italic">i</tspan>NKT cells/PBMC(%)</text>
<path d="M490.9,38.4 L590.3,38.4" stroke="#000" stroke-width="1.5"/>
<text x="539.6" y="37.2" font-size="16" text-anchor="middle" fill="#000">*</text>
<path d="M489.4,78.9 C489.7,80.1 490.6,83.1 491.4,86 C492.2,88.9 493,92.5 494,96.4 C495,100.3 496.6,106.1 497.2,109.4 C497.8,112.7 498.2,113.8 497.9,116 C497.6,118.2 495.9,120 495.3,122.4 C494.7,124.8 493.9,127.6 494,130.2 C494.1,132.8 494.5,135.6 495.9,138 C497.3,140.4 499.6,142.3 502.4,144.5 C505.2,146.7 510,148.6 512.8,151 C515.6,153.4 518.6,156.6 519.3,158.8 C519.9,161 519.5,161.9 516.7,164 C513.9,166.1 510.2,169.9 502.4,171.2 C494.6,172.5 478.1,173 469.9,171.8 C461.7,170.6 456.1,165.9 453,164 C449.9,162.1 450.4,161.8 451,160.1 C451.6,158.4 454.4,156 456.9,153.6 C459.4,151.2 463.2,148.4 466,145.8 C468.8,143.2 472.2,140.6 473.8,138 C475.4,135.4 475.7,132.8 475.8,130.2 C475.9,127.6 474.9,124.8 474.5,122.4 C474.1,120 473.2,118.2 473.2,116 C473.2,113.8 473.8,112.7 474.5,109.4 C475.2,106.1 476.8,100.3 477.7,96.4 C478.6,92.5 479.3,88.9 479.7,86 C480.1,83.1 480.2,80.1 480.3,78.9Z" fill="#fff" stroke="#000" stroke-width="2.2" stroke-linejoin="round"/>
<path d="M462,149.7 H510" stroke="#555" stroke-width="1" stroke-dasharray="2.2,1.6"/>
<path d="M455,162 H515" stroke="#999" stroke-width="1" stroke-dasharray="1,1.2"/>
<path d="M478,116 H493" stroke="#999" stroke-width="1" stroke-dasharray="1,1.2"/>
<g fill="#000"><circle cx="481.6" cy="78.9" r="2.75"/><circle cx="489.4" cy="84.7" r="2.75"/><circle cx="473.5" cy="96.2" r="2.75"/><circle cx="481.4" cy="96.2" r="2.75"/><circle cx="497.2" cy="101.6" r="2.75"/><circle cx="489.4" cy="104.2" r="2.75"/><circle cx="485.3" cy="110" r="2.75"/><circle cx="493" cy="113" r="2.75"/><circle cx="469.9" cy="113" r="2.75"/><circle cx="477.7" cy="115.9" r="2.75"/><circle cx="500.9" cy="115.9" r="2.75"/><circle cx="489.4" cy="124.4" r="2.75"/><circle cx="481.6" cy="127.4" r="2.75"/><circle cx="481.6" cy="132.8" r="2.75"/><circle cx="489.4" cy="135.7" r="2.75"/><circle cx="481.4" cy="141.3" r="2.75"/><circle cx="489.4" cy="143.9" r="2.75"/><circle cx="493" cy="146.9" r="2.75"/><circle cx="500.9" cy="146.9" r="2.75"/><circle cx="477.7" cy="151" r="2.75"/><circle cx="485.3" cy="149.7" r="2.75"/><circle cx="469.9" cy="153.6" r="2.75"/><circle cx="462.1" cy="153.4" r="2.75"/><circle cx="454.3" cy="156" r="2.75"/><circle cx="462.1" cy="158.2" r="2.75"/><circle cx="493" cy="157.5" r="2.75"/><circle cx="508.7" cy="153" r="2.75"/><circle cx="469.9" cy="161.2" r="2.75"/><circle cx="477.7" cy="162.1" r="2.75"/><circle cx="485.3" cy="162.1" r="2.75"/><circle cx="500.9" cy="162.1" r="2.75"/><circle cx="508.7" cy="163.4" r="2.75"/><circle cx="516.7" cy="160.1" r="2.75"/><circle cx="462.1" cy="166" r="2.75"/><circle cx="469.9" cy="166" r="2.75"/><circle cx="477.7" cy="166.6" r="2.75"/><circle cx="485.3" cy="165.3" r="2.75"/><circle cx="493" cy="167.7" r="2.75"/><circle cx="500.9" cy="165.1" r="2.75"/><circle cx="508.7" cy="171.8" r="2.75"/></g>
<path d="M580.1,173.5 C579.3,173 576.3,171.1 574.1,170 C571.9,168.9 565.9,166.3 563.6,165 C561.3,163.7 556.2,161.5 556.6,160.3 C557,159.1 563.9,157.1 566.6,156 C569.3,154.9 574.6,153.1 576.6,151.8 C578.6,150.5 580.5,147.6 581.6,146.6 C582.7,145.6 583.6,144.7 584.6,144 C585.6,143.3 588.3,142.2 589.1,141.5 C589.9,140.8 590.8,139.4 590.9,138.5 C591,137.6 589.8,136 589.6,135 C589.4,134 589.4,131.9 589.6,131 C589.8,130.1 590.8,129.2 591,128 C591.2,126.8 591.4,123.1 591,122 C590.6,120.9 588.8,120.5 588.1,119.5 C587.4,118.5 586,115.9 586,114.6 C586,113.3 587.4,110.6 588.1,109.5 C588.8,108.4 590.6,107.3 591,106 C591.4,104.7 591.2,100.8 591,99.5 C590.8,98.2 589.5,96.9 589.4,96 C589.3,95.1 590.7,93.9 590.6,93 C590.5,92.1 589.1,90.2 588.6,89 C588.1,87.8 587,85.3 587,84 C587,82.7 588.1,80.1 588.6,79 C589.1,77.9 590.7,78.5 591,76 C591.3,73.5 591,63 591,60 C591,57 590.7,54.4 590.9,53.5 C591.1,52.6 592.1,52.6 592.3,53.5 C592.5,54.4 592.2,57 592.2,60 C592.2,63 591.9,73.5 592.2,76 C592.5,78.5 594.1,77.9 594.6,79 C595.1,80.1 596.2,82.7 596.2,84 C596.2,85.3 595.1,87.8 594.6,89 C594.1,90.2 592.7,92.1 592.6,93 C592.5,93.9 593.9,95.1 593.8,96 C593.7,96.9 592.4,98.2 592.2,99.5 C592,100.8 591.8,104.7 592.2,106 C592.6,107.3 594.4,108.4 595.1,109.5 C595.8,110.6 597.2,113.3 597.2,114.6 C597.2,115.9 595.8,118.5 595.1,119.5 C594.4,120.5 592.6,120.9 592.2,122 C591.8,123.1 592,126.8 592.2,128 C592.4,129.2 593.4,130.1 593.6,131 C593.8,131.9 593.8,134 593.6,135 C593.4,136 592.2,137.6 592.3,138.5 C592.4,139.4 593.3,140.8 594.1,141.5 C594.9,142.2 597.6,143.3 598.6,144 C599.6,144.7 600.5,145.6 601.6,146.6 C602.7,147.6 604.6,150.5 606.6,151.8 C608.6,153.1 613.9,154.9 616.6,156 C619.3,157.1 626.2,159.1 626.6,160.3 C627,161.5 621.9,163.7 619.6,165 C617.3,166.3 611.3,168.9 609.1,170 C606.9,171.1 603.9,173 603.1,173.5Z" fill="#fff" stroke="#000" stroke-width="2.2" stroke-linejoin="round"/>
<path d="M565,157.7 H620" stroke="#999" stroke-width="1" stroke-dasharray="1,1.2"/>
<path d="M562,163.5 H622" stroke="#555" stroke-width="1" stroke-dasharray="2.2,1.6"/>
<g fill="#fff" stroke="#000" stroke-width="1.25"><circle cx="591.6" cy="53" r="2.4"/><circle cx="590.7" cy="81.6" r="2.4"/><circle cx="593.3" cy="83.5" r="2.4"/><circle cx="590" cy="86.8" r="2.4"/><circle cx="591.6" cy="95.9" r="2.4"/><circle cx="590" cy="112.8" r="2.4"/><circle cx="593.3" cy="115.4" r="2.4"/><circle cx="591.6" cy="133" r="2.4"/><circle cx="591.4" cy="147.9" r="2.4"/><circle cx="605" cy="149.2" r="2.4"/><circle cx="581.6" cy="153.1" r="2.4"/><circle cx="585.5" cy="156.4" r="2.4"/><circle cx="577.7" cy="156.4" r="2.4"/><circle cx="597.2" cy="154.4" r="2.4"/><circle cx="601.1" cy="157" r="2.4"/><circle cx="564.7" cy="159.6" r="2.4"/><circle cx="569.9" cy="160.9" r="2.4"/><circle cx="573.8" cy="162.2" r="2.4"/><circle cx="581.6" cy="159.6" r="2.4"/><circle cx="586.8" cy="159.6" r="2.4"/><circle cx="595.9" cy="159.6" r="2.4"/><circle cx="605" cy="159.6" r="2.4"/><circle cx="614.1" cy="160.3" r="2.4"/><circle cx="577.7" cy="164.8" r="2.4"/><circle cx="590.7" cy="165.5" r="2.4"/><circle cx="598.5" cy="168.1" r="2.4"/><circle cx="607.6" cy="168.7" r="2.4"/><circle cx="618" cy="165.5" r="2.4"/><circle cx="623.2" cy="164.8" r="2.4"/><circle cx="571.2" cy="169.4" r="2.4"/><circle cx="579" cy="171.3" r="2.4"/><circle cx="584.2" cy="170" r="2.4"/><circle cx="602.4" cy="173.3" r="2.4"/><circle cx="611.5" cy="174" r="2.4"/><circle cx="567.3" cy="164.8" r="2.4"/><circle cx="559.5" cy="161.6" r="2.4"/><circle cx="592" cy="151" r="2.4"/><circle cx="596" cy="146" r="2.4"/></g>
<text x="9" y="224.4" font-size="21" font-weight="bold" fill="#000">C</text>
<text x="131.8" y="219.5" font-size="12.6" fill="#000" textLength="31.8" lengthAdjust="spacingAndGlyphs">Gated</text>
<text x="169.6" y="219.5" font-size="12.6" fill="#000" textLength="12.8" lengthAdjust="spacingAndGlyphs">on</text>
<text x="189.6" y="219.5" font-size="12.6" fill="#000" textLength="27.4" lengthAdjust="spacingAndGlyphs"><tspan font-style="italic">i</tspan>NKT</text>
<text x="220.5" y="219.5" font-size="12.6" fill="#000" textLength="25.7" lengthAdjust="spacingAndGlyphs">cells</text>
<text x="115.8" y="236.5" font-size="16.4" text-anchor="middle" fill="#000">Control</text>
<text x="258.9" y="236.2" font-size="16.4" text-anchor="middle" fill="#000">Patient</text>
<rect x="45.3" y="247.5" width="135.0" height="135.39999999999998" fill="#fdfdfb" stroke="#aaa" stroke-width="0.9"/>
<path d="M58.9,382.9 v3.6 M60.5,382.9 v3.6 M62.1,382.9 v3.6 M63.7,382.9 v3.6 M65.3,382.9 v3.6 M66.9,382.9 v3.6 M68.5,382.9 v3.6 M70.1,382.9 v3.6 M71.7,382.9 v3.6 M73.3,382.9 v3.6 M74.9,382.9 v3.6 M76.5,382.9 v3.6 M107,382.9 v4.2 M84.6,382.9 v2.4 M90.3,382.9 v2.4 M94.3,382.9 v2.4 M97.4,382.9 v2.4 M99.9,382.9 v2.4 M102,382.9 v2.4 M103.9,382.9 v2.4 M105.5,382.9 v2.4 M139,382.9 v4.2 M116.6,382.9 v2.4 M122.3,382.9 v2.4 M126.3,382.9 v2.4 M129.4,382.9 v2.4 M131.9,382.9 v2.4 M134,382.9 v2.4 M135.9,382.9 v2.4 M137.5,382.9 v2.4 M168.3,382.9 v4.2 M145.9,382.9 v2.4 M151.6,382.9 v2.4 M155.6,382.9 v2.4 M158.7,382.9 v2.4 M161.2,382.9 v2.4 M163.3,382.9 v2.4 M165.2,382.9 v2.4 M166.8,382.9 v2.4 M177.9,382.9 v2.4 M45.3,349.7 h-3.2 M45.3,351.3 h-3.2 M45.3,352.9 h-3.2 M45.3,354.5 h-3.2 M45.3,356.1 h-3.2 M45.3,357.7 h-3.2 M45.3,359.3 h-3.2 M45.3,360.9 h-3.2 M45.3,362.5 h-3.2 M45.3,263 h-3.8 M45.3,284 h-2 M45.3,278.7 h-2 M45.3,274.9 h-2 M45.3,272 h-2 M45.3,269.7 h-2 M45.3,267.6 h-2 M45.3,265.9 h-2 M45.3,264.4 h-2 M45.3,289.5 h-3.8 M45.3,310.5 h-2 M45.3,305.2 h-2 M45.3,301.4 h-2 M45.3,298.5 h-2 M45.3,296.2 h-2 M45.3,294.1 h-2 M45.3,292.4 h-2 M45.3,290.9 h-2 M45.3,321 h-3.8 M45.3,342 h-2 M45.3,336.7 h-2 M45.3,332.9 h-2 M45.3,330 h-2 M45.3,327.7 h-2 M45.3,325.6 h-2 M45.3,323.9 h-2 M45.3,322.4 h-2 " stroke="#1a1a1a" stroke-width="0.85" fill="none"/>
<path d="M58.2,312.8h1.0v1.0h-1.0zM78.7,291.4h1.0v1.0h-1.0zM59.5,296.4h1.0v1.0h-1.0zM76.4,295h1.0v1.0h-1.0zM75.3,299.9h1.0v1.0h-1.0zM58.5,302h1.0v1.0h-1.0zM70.4,296.4h1.0v1.0h-1.0zM74,291.4h1.0v1.0h-1.0zM65.8,289.7h1.0v1.0h-1.0zM80.9,301.4h1.0v1.0h-1.0zM74.9,303.2h1.0v1.0h-1.0zM79.7,297.7h1.0v1.0h-1.0zM76.2,304.9h1.0v1.0h-1.0zM56.1,313.9h1.0v1.0h-1.0zM59.4,292.4h1.0v1.0h-1.0zM60.9,298.8h1.0v1.0h-1.0zM69.7,294.4h1.0v1.0h-1.0zM59.1,297.9h1.0v1.0h-1.0zM47.8,309.7h1.0v1.0h-1.0zM65.8,296.3h1.0v1.0h-1.0zM76.5,302.1h1.0v1.0h-1.0zM62.1,296.8h1.0v1.0h-1.0zM76.9,295.2h1.0v1.0h-1.0zM70.2,298h1.0v1.0h-1.0zM66.9,299.8h1.0v1.0h-1.0zM79.5,298.5h1.0v1.0h-1.0zM79,298.2h1.0v1.0h-1.0zM89,297.7h1.0v1.0h-1.0zM75.4,304.2h1.0v1.0h-1.0zM66.9,305.2h1.0v1.0h-1.0zM74.3,306.6h1.0v1.0h-1.0zM60.2,305.8h1.0v1.0h-1.0zM75.4,295.1h1.0v1.0h-1.0zM75.3,294.2h1.0v1.0h-1.0zM69.5,303.6h1.0v1.0h-1.0zM67.3,302.5h1.0v1.0h-1.0zM82.6,300.1h1.0v1.0h-1.0zM71.4,303.8h1.0v1.0h-1.0zM76.6,299.9h1.0v1.0h-1.0zM79.5,299.4h1.0v1.0h-1.0zM70.7,295.7h1.0v1.0h-1.0zM64.6,302.2h1.0v1.0h-1.0zM69.2,302.4h1.0v1.0h-1.0zM79.4,300.6h1.0v1.0h-1.0zM76.3,302.7h1.0v1.0h-1.0zM70.1,290.2h1.0v1.0h-1.0zM81.5,284.1h1.0v1.0h-1.0zM77.5,299.1h1.0v1.0h-1.0zM63.4,296.2h1.0v1.0h-1.0zM70.6,307.3h1.0v1.0h-1.0zM74.7,297h1.0v1.0h-1.0zM69.3,290.8h1.0v1.0h-1.0zM70.6,298h1.0v1.0h-1.0zM79.1,299.1h1.0v1.0h-1.0zM64.7,298h1.0v1.0h-1.0zM77,303.3h1.0v1.0h-1.0zM66.1,297.6h1.0v1.0h-1.0zM74,298.7h1.0v1.0h-1.0zM90.1,308.5h1.0v1.0h-1.0zM90.3,299.7h1.0v1.0h-1.0zM75.7,297h1.0v1.0h-1.0zM71.2,299.5h1.0v1.0h-1.0zM93,300h1.0v1.0h-1.0zM88.6,302.4h1.0v1.0h-1.0zM75.8,299.8h1.0v1.0h-1.0zM62.2,310.3h1.0v1.0h-1.0zM66.8,292.3h1.0v1.0h-1.0zM83,303.4h1.0v1.0h-1.0zM86.5,292h1.0v1.0h-1.0zM61.4,291.1h1.0v1.0h-1.0zM75.5,290.5h1.0v1.0h-1.0zM56.1,301.4h1.0v1.0h-1.0zM81.1,304.3h1.0v1.0h-1.0zM79.4,304.5h1.0v1.0h-1.0zM76.8,314.1h1.0v1.0h-1.0zM69.8,300.4h1.0v1.0h-1.0zM68.7,297.8h1.0v1.0h-1.0zM61.2,304h1.0v1.0h-1.0zM74.9,300.2h1.0v1.0h-1.0zM62.4,301.3h1.0v1.0h-1.0zM58,290.9h1.0v1.0h-1.0zM73.8,294.8h1.0v1.0h-1.0zM55.9,304.7h1.0v1.0h-1.0zM76.5,299.3h1.0v1.0h-1.0zM68.9,305.7h1.0v1.0h-1.0zM50,301.1h1.0v1.0h-1.0zM81.2,293.5h1.0v1.0h-1.0zM82.9,300.8h1.0v1.0h-1.0zM72.7,305.6h1.0v1.0h-1.0zM60.4,306.3h1.0v1.0h-1.0zM66.2,296.8h1.0v1.0h-1.0zM65.5,296.2h1.0v1.0h-1.0zM63.4,305h1.0v1.0h-1.0zM82.6,301.6h1.0v1.0h-1.0zM58.3,297.8h1.0v1.0h-1.0zM70,305.3h1.0v1.0h-1.0zM59.3,300.5h1.0v1.0h-1.0zM65.6,306.6h1.0v1.0h-1.0zM69.1,298.5h1.0v1.0h-1.0zM74,310.4h1.0v1.0h-1.0zM72.7,309.3h1.0v1.0h-1.0zM77.7,299.1h1.0v1.0h-1.0zM77.9,297.1h1.0v1.0h-1.0zM72,293.5h1.0v1.0h-1.0zM71.2,302.5h1.0v1.0h-1.0zM60.2,305.4h1.0v1.0h-1.0zM57.8,310h1.0v1.0h-1.0zM86.8,306.2h1.0v1.0h-1.0zM57.6,299h1.0v1.0h-1.0zM59.7,290.5h1.0v1.0h-1.0zM64.3,304.7h1.0v1.0h-1.0zM79.9,309.2h1.0v1.0h-1.0zM80.6,298.8h1.0v1.0h-1.0zM64,295.2h1.0v1.0h-1.0zM81.5,306.6h1.0v1.0h-1.0zM78.6,303.4h1.0v1.0h-1.0zM69.7,288h1.0v1.0h-1.0zM75.1,287.5h1.0v1.0h-1.0zM65.3,304.9h1.0v1.0h-1.0zM69.4,298.5h1.0v1.0h-1.0zM69.7,304.8h1.0v1.0h-1.0zM70.7,296.8h1.0v1.0h-1.0zM66.5,303.1h1.0v1.0h-1.0zM80.2,297.5h1.0v1.0h-1.0zM77.7,296.6h1.0v1.0h-1.0zM70.8,304.4h1.0v1.0h-1.0zM80.1,313.4h1.0v1.0h-1.0zM75.4,297.8h1.0v1.0h-1.0zM83.4,305h1.0v1.0h-1.0zM72.9,292.5h1.0v1.0h-1.0zM72.1,299.6h1.0v1.0h-1.0zM65.7,303.7h1.0v1.0h-1.0zM68.8,297h1.0v1.0h-1.0zM63.4,303.1h1.0v1.0h-1.0zM58.2,303.7h1.0v1.0h-1.0zM60.8,311.1h1.0v1.0h-1.0zM67.4,292.7h1.0v1.0h-1.0zM91.9,301h1.0v1.0h-1.0zM87.6,298.7h1.0v1.0h-1.0zM65.9,306.5h1.0v1.0h-1.0zM60.3,297.2h1.0v1.0h-1.0zM64,295.2h1.0v1.0h-1.0zM72.2,306.8h1.0v1.0h-1.0zM64.3,301.5h1.0v1.0h-1.0zM88.9,290.1h1.0v1.0h-1.0zM64.3,293h1.0v1.0h-1.0zM79.7,299.2h1.0v1.0h-1.0zM67.8,301.7h1.0v1.0h-1.0zM73.1,304.2h1.0v1.0h-1.0zM74.2,290.3h1.0v1.0h-1.0zM78.9,303h1.0v1.0h-1.0zM74.6,297.8h1.0v1.0h-1.0zM86.1,300.3h1.0v1.0h-1.0zM66.7,314h1.0v1.0h-1.0zM80.4,302.3h1.0v1.0h-1.0zM60.3,297.8h1.0v1.0h-1.0zM65.1,309.2h1.0v1.0h-1.0zM69.6,294.3h1.0v1.0h-1.0zM64.2,305.2h1.0v1.0h-1.0zM81.7,301.1h1.0v1.0h-1.0zM81,301.5h1.0v1.0h-1.0zM62.5,293.9h1.0v1.0h-1.0zM67.1,300.3h1.0v1.0h-1.0zM70.2,303.2h1.0v1.0h-1.0zM75.8,302h1.0v1.0h-1.0zM80.5,301.4h1.0v1.0h-1.0zM67,303.9h1.0v1.0h-1.0zM98.4,307.8h1.0v1.0h-1.0zM80.5,297.6h1.0v1.0h-1.0zM77.6,308.1h1.0v1.0h-1.0z" fill="#4a5cf0" fill-opacity="0.55"/>
<path d="M109.5,289.9h1.0v1.0h-1.0zM113.9,291.9h1.0v1.0h-1.0zM114,290.6h1.0v1.0h-1.0zM120.7,285.9h1.0v1.0h-1.0zM114.7,301.2h1.0v1.0h-1.0zM113.7,303.4h1.0v1.0h-1.0zM104.6,299.3h1.0v1.0h-1.0zM111.7,300.2h1.0v1.0h-1.0zM108.2,302.3h1.0v1.0h-1.0zM105,303h1.0v1.0h-1.0zM108.3,302.8h1.0v1.0h-1.0zM112.9,303.7h1.0v1.0h-1.0zM100.9,287.6h1.0v1.0h-1.0zM108.1,286.1h1.0v1.0h-1.0zM111.4,305.3h1.0v1.0h-1.0zM105.6,306.2h1.0v1.0h-1.0zM117.6,300h1.0v1.0h-1.0zM114.9,287.8h1.0v1.0h-1.0zM109.6,297.6h1.0v1.0h-1.0zM108.7,302.2h1.0v1.0h-1.0zM112.4,296.3h1.0v1.0h-1.0zM106.6,290.9h1.0v1.0h-1.0zM110,301.5h1.0v1.0h-1.0zM111.2,284.7h1.0v1.0h-1.0zM102.9,307.2h1.0v1.0h-1.0zM102.5,293.9h1.0v1.0h-1.0zM113.2,306.9h1.0v1.0h-1.0zM108.8,303.2h1.0v1.0h-1.0zM118.4,307.8h1.0v1.0h-1.0zM111,294.5h1.0v1.0h-1.0zM103.5,313.7h1.0v1.0h-1.0zM110.7,302.1h1.0v1.0h-1.0zM114.6,296.9h1.0v1.0h-1.0zM101.2,295.3h1.0v1.0h-1.0zM111.5,297.2h1.0v1.0h-1.0zM116,304.1h1.0v1.0h-1.0zM102.3,286.2h1.0v1.0h-1.0zM105.8,297.5h1.0v1.0h-1.0zM111,292.1h1.0v1.0h-1.0zM113.4,305.6h1.0v1.0h-1.0zM110.4,303.7h1.0v1.0h-1.0zM113.6,297.8h1.0v1.0h-1.0zM116.1,293.8h1.0v1.0h-1.0zM112.2,295.3h1.0v1.0h-1.0zM111.7,298.9h1.0v1.0h-1.0zM109.5,292.5h1.0v1.0h-1.0zM113.4,308.4h1.0v1.0h-1.0zM112.1,300.6h1.0v1.0h-1.0zM105.3,291.6h1.0v1.0h-1.0zM118,310.8h1.0v1.0h-1.0zM105.6,298.4h1.0v1.0h-1.0zM104.8,295.7h1.0v1.0h-1.0zM113,298.7h1.0v1.0h-1.0zM103.2,306h1.0v1.0h-1.0zM120.3,293.1h1.0v1.0h-1.0zM104.7,295.7h1.0v1.0h-1.0zM111.9,297.7h1.0v1.0h-1.0zM112.6,309.9h1.0v1.0h-1.0zM115.4,289.6h1.0v1.0h-1.0zM110.4,299h1.0v1.0h-1.0zM110.4,299.2h1.0v1.0h-1.0zM113.5,300h1.0v1.0h-1.0zM103.8,303.7h1.0v1.0h-1.0zM102,300.7h1.0v1.0h-1.0zM109.9,297.4h1.0v1.0h-1.0zM118.6,301.5h1.0v1.0h-1.0zM100.7,302.2h1.0v1.0h-1.0zM99.2,296.2h1.0v1.0h-1.0zM116.3,288.8h1.0v1.0h-1.0zM111,298.6h1.0v1.0h-1.0zM119.9,297.5h1.0v1.0h-1.0zM115.7,301.1h1.0v1.0h-1.0zM108,293.7h1.0v1.0h-1.0zM108.5,284.1h1.0v1.0h-1.0zM116.2,297.7h1.0v1.0h-1.0zM105.7,299.8h1.0v1.0h-1.0zM114.8,299h1.0v1.0h-1.0zM112.9,309.4h1.0v1.0h-1.0zM98.6,307.9h1.0v1.0h-1.0zM116.8,306.3h1.0v1.0h-1.0zM105.6,297.3h1.0v1.0h-1.0zM122.6,299.4h1.0v1.0h-1.0zM106.9,306h1.0v1.0h-1.0zM111.2,303.5h1.0v1.0h-1.0zM103.4,302.1h1.0v1.0h-1.0zM110.1,292.8h1.0v1.0h-1.0zM112.1,307.8h1.0v1.0h-1.0zM102.2,296.7h1.0v1.0h-1.0zM111.4,308.2h1.0v1.0h-1.0zM117,310.5h1.0v1.0h-1.0zM111.8,300.4h1.0v1.0h-1.0zM105.6,300.1h1.0v1.0h-1.0zM112.5,297.8h1.0v1.0h-1.0zM108.4,280.9h1.0v1.0h-1.0zM111.7,296.5h1.0v1.0h-1.0zM111,311.4h1.0v1.0h-1.0zM109.8,307.3h1.0v1.0h-1.0zM122.8,308.8h1.0v1.0h-1.0zM109.1,289.1h1.0v1.0h-1.0zM115.3,288.7h1.0v1.0h-1.0zM114,290.2h1.0v1.0h-1.0zM105.1,293.3h1.0v1.0h-1.0zM103.4,312.8h1.0v1.0h-1.0zM105.2,298.2h1.0v1.0h-1.0zM117.1,306.6h1.0v1.0h-1.0zM109.6,291.2h1.0v1.0h-1.0zM107.3,299.7h1.0v1.0h-1.0zM108.7,302.6h1.0v1.0h-1.0zM112.5,301.9h1.0v1.0h-1.0zM109.4,300h1.0v1.0h-1.0zM108,299.3h1.0v1.0h-1.0zM100.9,301.1h1.0v1.0h-1.0zM103.6,299.7h1.0v1.0h-1.0zM113.4,303.6h1.0v1.0h-1.0zM112.7,295.8h1.0v1.0h-1.0zM104.9,298.7h1.0v1.0h-1.0zM114.7,293.9h1.0v1.0h-1.0zM115.7,306.6h1.0v1.0h-1.0zM108.9,297.8h1.0v1.0h-1.0zM104.1,296h1.0v1.0h-1.0zM118.7,296.5h1.0v1.0h-1.0zM110.9,299.3h1.0v1.0h-1.0zM114.8,288h1.0v1.0h-1.0zM111.8,289.6h1.0v1.0h-1.0zM112.1,285.5h1.0v1.0h-1.0zM112.3,295.7h1.0v1.0h-1.0zM118.3,309.1h1.0v1.0h-1.0zM113.1,299.8h1.0v1.0h-1.0zM113.3,302.7h1.0v1.0h-1.0zM109.9,289.6h1.0v1.0h-1.0zM104.7,300.3h1.0v1.0h-1.0zM104,312.6h1.0v1.0h-1.0zM114.1,303.7h1.0v1.0h-1.0zM104.8,314.9h1.0v1.0h-1.0zM112.3,298.9h1.0v1.0h-1.0zM117.1,303.4h1.0v1.0h-1.0zM112.1,298.5h1.0v1.0h-1.0zM108.7,301.5h1.0v1.0h-1.0zM113.5,303.2h1.0v1.0h-1.0zM112.8,301.1h1.0v1.0h-1.0zM108.9,295.5h1.0v1.0h-1.0zM107.8,314.7h1.0v1.0h-1.0zM111.1,307h1.0v1.0h-1.0zM94.9,296.2h1.0v1.0h-1.0zM117.4,299.6h1.0v1.0h-1.0zM117.2,301.8h1.0v1.0h-1.0zM111.8,310.8h1.0v1.0h-1.0zM106.3,287.8h1.0v1.0h-1.0zM111.5,305.1h1.0v1.0h-1.0zM112.6,287.4h1.0v1.0h-1.0zM111.2,300.2h1.0v1.0h-1.0zM108.8,305.3h1.0v1.0h-1.0zM102.8,297.9h1.0v1.0h-1.0zM107.1,289.6h1.0v1.0h-1.0zM116,303.3h1.0v1.0h-1.0zM117.9,297.2h1.0v1.0h-1.0zM109.5,299.3h1.0v1.0h-1.0zM109.7,295.8h1.0v1.0h-1.0zM116.8,285.6h1.0v1.0h-1.0zM108.2,306.9h1.0v1.0h-1.0zM95.6,289h1.0v1.0h-1.0zM109.2,311.6h1.0v1.0h-1.0zM109.6,302.7h1.0v1.0h-1.0zM104.8,299.3h1.0v1.0h-1.0zM115.6,302.4h1.0v1.0h-1.0zM114.4,294.4h1.0v1.0h-1.0zM105.4,299.2h1.0v1.0h-1.0zM104.7,307.9h1.0v1.0h-1.0zM104.5,295.9h1.0v1.0h-1.0zM121.4,299.9h1.0v1.0h-1.0zM116.1,292.7h1.0v1.0h-1.0zM114.8,294.5h1.0v1.0h-1.0zM111.1,299.4h1.0v1.0h-1.0zM117.2,312.3h1.0v1.0h-1.0zM100.6,295.4h1.0v1.0h-1.0zM118,290.5h1.0v1.0h-1.0zM118.1,299.8h1.0v1.0h-1.0zM121.8,317.7h1.0v1.0h-1.0zM107.3,296.2h1.0v1.0h-1.0zM118.3,310.2h1.0v1.0h-1.0zM113.1,307h1.0v1.0h-1.0zM112.1,289.4h1.0v1.0h-1.0zM103.8,297.8h1.0v1.0h-1.0zM111.3,295h1.0v1.0h-1.0zM107.7,299.1h1.0v1.0h-1.0zM111.4,294.5h1.0v1.0h-1.0zM109.7,294.5h1.0v1.0h-1.0zM103.4,302.1h1.0v1.0h-1.0zM109,302.6h1.0v1.0h-1.0zM111.5,294.1h1.0v1.0h-1.0zM104,298.2h1.0v1.0h-1.0zM105.3,295.6h1.0v1.0h-1.0zM107.2,296.6h1.0v1.0h-1.0zM111.4,300.5h1.0v1.0h-1.0zM112.7,302.9h1.0v1.0h-1.0zM106.8,304.9h1.0v1.0h-1.0zM111.8,312.1h1.0v1.0h-1.0zM107.8,308.4h1.0v1.0h-1.0zM112,308h1.0v1.0h-1.0zM107.3,296.5h1.0v1.0h-1.0z" fill="#3a4ef0" fill-opacity="0.6"/>
<path d="M109.3,295.4h1.0v1.0h-1.0zM110.6,299.6h1.0v1.0h-1.0zM110.7,293.2h1.0v1.0h-1.0zM108.4,296.1h1.0v1.0h-1.0zM108.5,293h1.0v1.0h-1.0zM109.7,293.7h1.0v1.0h-1.0zM104.6,293.5h1.0v1.0h-1.0zM105.4,294h1.0v1.0h-1.0zM107.1,290.8h1.0v1.0h-1.0zM107.4,296.7h1.0v1.0h-1.0zM106.4,297.8h1.0v1.0h-1.0zM110.3,300.3h1.0v1.0h-1.0z" fill="#e8c040" fill-opacity="0.8"/>
<path d="M93.5,247.5 V382.9 M45.3,329.4 H180.3" stroke="#333" stroke-width="1.1"/>
<text x="50.4" y="267" font-size="15.6" fill="#000" letter-spacing="0.6">35.5</text>
<text x="139.3" y="267" font-size="15.6" fill="#000" letter-spacing="0.6">64.5</text>
<rect x="185" y="247.6" width="135.8" height="133.79999999999998" fill="#fdfdfb" stroke="#aaa" stroke-width="0.9"/>
<path d="M199.5,381.4 v3.6 M201.1,381.4 v3.6 M202.7,381.4 v3.6 M204.3,381.4 v3.6 M205.9,381.4 v3.6 M207.5,381.4 v3.6 M209.1,381.4 v3.6 M210.7,381.4 v3.6 M212.3,381.4 v3.6 M213.9,381.4 v3.6 M215.5,381.4 v3.6 M217.1,381.4 v3.6 M247,381.4 v4.2 M224.6,381.4 v2.4 M230.3,381.4 v2.4 M234.3,381.4 v2.4 M237.4,381.4 v2.4 M239.9,381.4 v2.4 M242,381.4 v2.4 M243.9,381.4 v2.4 M245.5,381.4 v2.4 M279,381.4 v4.2 M256.6,381.4 v2.4 M262.3,381.4 v2.4 M266.3,381.4 v2.4 M269.4,381.4 v2.4 M271.9,381.4 v2.4 M274,381.4 v2.4 M275.9,381.4 v2.4 M277.5,381.4 v2.4 M308,381.4 v4.2 M285.6,381.4 v2.4 M291.3,381.4 v2.4 M295.3,381.4 v2.4 M298.4,381.4 v2.4 M300.9,381.4 v2.4 M303,381.4 v2.4 M304.9,381.4 v2.4 M306.5,381.4 v2.4 M317.6,381.4 v2.4 M185,349.7 h-3.2 M185,351.3 h-3.2 M185,352.9 h-3.2 M185,354.5 h-3.2 M185,356.1 h-3.2 M185,357.7 h-3.2 M185,359.3 h-3.2 M185,360.9 h-3.2 M185,362.5 h-3.2 M185,263 h-3.8 M185,284 h-2 M185,278.7 h-2 M185,274.9 h-2 M185,272 h-2 M185,269.7 h-2 M185,267.6 h-2 M185,265.9 h-2 M185,264.4 h-2 M185,289.5 h-3.8 M185,310.5 h-2 M185,305.2 h-2 M185,301.4 h-2 M185,298.5 h-2 M185,296.2 h-2 M185,294.1 h-2 M185,292.4 h-2 M185,290.9 h-2 M185,321 h-3.8 M185,342 h-2 M185,336.7 h-2 M185,332.9 h-2 M185,330 h-2 M185,327.7 h-2 M185,325.6 h-2 M185,323.9 h-2 M185,322.4 h-2 " stroke="#1a1a1a" stroke-width="0.85" fill="none"/>
<path d="M216,291.7h1.0v1.0h-1.0zM209.3,281.9h1.0v1.0h-1.0zM200.6,288.9h1.0v1.0h-1.0zM208.1,290.2h1.0v1.0h-1.0zM224.9,291.7h1.0v1.0h-1.0zM205.7,310.5h1.0v1.0h-1.0zM201.6,304h1.0v1.0h-1.0zM207.4,291.2h1.0v1.0h-1.0zM210.4,295.2h1.0v1.0h-1.0zM218.6,292.4h1.0v1.0h-1.0zM216,295.3h1.0v1.0h-1.0zM207.4,307.5h1.0v1.0h-1.0zM233.4,293.6h1.0v1.0h-1.0zM220.7,302.6h1.0v1.0h-1.0zM212.2,290h1.0v1.0h-1.0zM219,281.9h1.0v1.0h-1.0zM220.7,296.7h1.0v1.0h-1.0zM208.7,299.2h1.0v1.0h-1.0zM219.2,289.9h1.0v1.0h-1.0zM194,287.1h1.0v1.0h-1.0zM226.3,289.8h1.0v1.0h-1.0zM219.8,289.4h1.0v1.0h-1.0zM211.3,278.9h1.0v1.0h-1.0zM204.6,296.3h1.0v1.0h-1.0zM221.2,305.1h1.0v1.0h-1.0zM214.9,294.9h1.0v1.0h-1.0zM228,309.1h1.0v1.0h-1.0zM202.4,291.6h1.0v1.0h-1.0zM217.1,298h1.0v1.0h-1.0zM214.9,300h1.0v1.0h-1.0zM207.3,299.2h1.0v1.0h-1.0zM210.2,287.6h1.0v1.0h-1.0zM202.5,301.5h1.0v1.0h-1.0zM197.6,292h1.0v1.0h-1.0zM214.7,290.9h1.0v1.0h-1.0zM221.4,301.7h1.0v1.0h-1.0zM205.1,298.8h1.0v1.0h-1.0zM215.6,300.6h1.0v1.0h-1.0zM206.8,298.2h1.0v1.0h-1.0zM209,302.9h1.0v1.0h-1.0zM213.5,306.4h1.0v1.0h-1.0zM225.4,307.4h1.0v1.0h-1.0zM224.6,289.1h1.0v1.0h-1.0zM210.6,295.9h1.0v1.0h-1.0zM197.5,295.8h1.0v1.0h-1.0zM209,294.1h1.0v1.0h-1.0zM198.4,306.4h1.0v1.0h-1.0zM202.9,298.3h1.0v1.0h-1.0zM214.4,294.3h1.0v1.0h-1.0zM205.8,296.2h1.0v1.0h-1.0zM213.1,294h1.0v1.0h-1.0zM201.6,292.7h1.0v1.0h-1.0zM221.8,279.5h1.0v1.0h-1.0zM206,300.8h1.0v1.0h-1.0zM206.2,287.6h1.0v1.0h-1.0zM206.5,294.9h1.0v1.0h-1.0zM215.5,310.7h1.0v1.0h-1.0zM205.7,293.7h1.0v1.0h-1.0zM228.9,292.7h1.0v1.0h-1.0zM212.8,301.2h1.0v1.0h-1.0zM212.4,294h1.0v1.0h-1.0zM209.4,298.2h1.0v1.0h-1.0zM211.3,300.8h1.0v1.0h-1.0zM195.8,292.9h1.0v1.0h-1.0zM220.9,305.2h1.0v1.0h-1.0zM218.2,294.5h1.0v1.0h-1.0zM206.6,287.5h1.0v1.0h-1.0zM217.5,290h1.0v1.0h-1.0zM225.3,295.8h1.0v1.0h-1.0zM222.7,298.4h1.0v1.0h-1.0zM215,307.2h1.0v1.0h-1.0zM208.4,288.3h1.0v1.0h-1.0zM202,288h1.0v1.0h-1.0zM210.7,286.3h1.0v1.0h-1.0zM206.7,295.4h1.0v1.0h-1.0zM211.6,299.7h1.0v1.0h-1.0zM214.4,289.3h1.0v1.0h-1.0zM215.2,294.3h1.0v1.0h-1.0zM217,304.5h1.0v1.0h-1.0zM200,299.2h1.0v1.0h-1.0zM219.6,298.1h1.0v1.0h-1.0zM203.9,295.1h1.0v1.0h-1.0zM201.5,294.9h1.0v1.0h-1.0zM204.3,292.4h1.0v1.0h-1.0zM213.4,298.1h1.0v1.0h-1.0zM220.2,293.1h1.0v1.0h-1.0zM229.1,285.4h1.0v1.0h-1.0zM210.5,303.7h1.0v1.0h-1.0zM210.3,297.4h1.0v1.0h-1.0zM202.8,290.2h1.0v1.0h-1.0zM220.1,298.4h1.0v1.0h-1.0zM219.1,298.2h1.0v1.0h-1.0zM215.5,300.4h1.0v1.0h-1.0zM196.9,286.5h1.0v1.0h-1.0zM216.7,289.4h1.0v1.0h-1.0zM233.5,303.9h1.0v1.0h-1.0zM205.8,299.2h1.0v1.0h-1.0zM208.5,300h1.0v1.0h-1.0zM217.3,306.6h1.0v1.0h-1.0zM206.3,296.6h1.0v1.0h-1.0zM208.7,297.9h1.0v1.0h-1.0zM225.9,300.5h1.0v1.0h-1.0zM206.8,295.7h1.0v1.0h-1.0zM221.3,295.9h1.0v1.0h-1.0zM241.1,291.7h1.0v1.0h-1.0zM210.8,296.1h1.0v1.0h-1.0zM230.3,296.3h1.0v1.0h-1.0zM218,295.1h1.0v1.0h-1.0zM218,295.7h1.0v1.0h-1.0zM210.3,296.7h1.0v1.0h-1.0zM209.9,287.2h1.0v1.0h-1.0zM216.6,301h1.0v1.0h-1.0zM215.8,302.6h1.0v1.0h-1.0zM211.4,298.3h1.0v1.0h-1.0zM189.8,297.5h1.0v1.0h-1.0zM201.4,291h1.0v1.0h-1.0zM215.3,297.8h1.0v1.0h-1.0zM219.7,287.5h1.0v1.0h-1.0zM214.3,311.1h1.0v1.0h-1.0zM218,289.9h1.0v1.0h-1.0zM202.9,306.8h1.0v1.0h-1.0zM227,298.3h1.0v1.0h-1.0zM209.1,280.5h1.0v1.0h-1.0zM217.9,297.7h1.0v1.0h-1.0zM210.4,298.8h1.0v1.0h-1.0zM221.6,297.6h1.0v1.0h-1.0zM208.8,287.6h1.0v1.0h-1.0zM214.1,293.8h1.0v1.0h-1.0zM199,297h1.0v1.0h-1.0zM208.5,286.8h1.0v1.0h-1.0zM209.9,291.5h1.0v1.0h-1.0zM228.8,303.3h1.0v1.0h-1.0zM216.4,298.2h1.0v1.0h-1.0zM210.2,287.6h1.0v1.0h-1.0zM213.2,318.7h1.0v1.0h-1.0zM216.8,298.9h1.0v1.0h-1.0zM228.5,307.4h1.0v1.0h-1.0zM213.8,291.1h1.0v1.0h-1.0z" fill="#5a6cf0" fill-opacity="0.5"/>
<path d="M262.9,294.3h1.0v1.0h-1.0zM255.8,305.6h1.0v1.0h-1.0zM249.4,306.3h1.0v1.0h-1.0zM255.6,311.6h1.0v1.0h-1.0zM254.7,303.7h1.0v1.0h-1.0zM247.9,305.9h1.0v1.0h-1.0zM254.2,297.1h1.0v1.0h-1.0zM262.3,310.4h1.0v1.0h-1.0zM249,292.5h1.0v1.0h-1.0zM256.2,301h1.0v1.0h-1.0zM254.4,307.1h1.0v1.0h-1.0zM257.6,305.5h1.0v1.0h-1.0zM261.7,298.7h1.0v1.0h-1.0zM251.6,303.5h1.0v1.0h-1.0zM254.7,303.1h1.0v1.0h-1.0zM253.8,315.6h1.0v1.0h-1.0zM266.3,296h1.0v1.0h-1.0zM254.1,309h1.0v1.0h-1.0zM241.5,315.8h1.0v1.0h-1.0zM246.4,306.5h1.0v1.0h-1.0zM253.1,296.1h1.0v1.0h-1.0zM250.9,301h1.0v1.0h-1.0zM249.7,288.8h1.0v1.0h-1.0zM253.2,310.6h1.0v1.0h-1.0zM248.7,313.2h1.0v1.0h-1.0zM259.3,298.7h1.0v1.0h-1.0zM260.6,316h1.0v1.0h-1.0zM248.9,309h1.0v1.0h-1.0zM259.8,304.5h1.0v1.0h-1.0zM239.4,306.9h1.0v1.0h-1.0zM248.3,293.1h1.0v1.0h-1.0zM250.9,297.8h1.0v1.0h-1.0zM257.2,308.3h1.0v1.0h-1.0zM252.6,303.3h1.0v1.0h-1.0zM257.5,294.6h1.0v1.0h-1.0zM262.6,301.2h1.0v1.0h-1.0zM254.2,300.1h1.0v1.0h-1.0zM242.8,294.7h1.0v1.0h-1.0zM250.9,299.1h1.0v1.0h-1.0zM253,310.2h1.0v1.0h-1.0zM249.6,309.2h1.0v1.0h-1.0zM256.5,292.4h1.0v1.0h-1.0zM267.8,286h1.0v1.0h-1.0zM255.9,299.9h1.0v1.0h-1.0zM254.6,321.1h1.0v1.0h-1.0zM255.5,294.1h1.0v1.0h-1.0zM260.9,291h1.0v1.0h-1.0zM255.2,300.9h1.0v1.0h-1.0zM250.5,294.6h1.0v1.0h-1.0zM253.3,308.6h1.0v1.0h-1.0zM258.5,296.1h1.0v1.0h-1.0zM245.6,298.5h1.0v1.0h-1.0zM251.2,302.7h1.0v1.0h-1.0zM253.9,306.2h1.0v1.0h-1.0zM259.9,301.6h1.0v1.0h-1.0zM241.5,301h1.0v1.0h-1.0zM250.9,288.2h1.0v1.0h-1.0zM248.5,293.5h1.0v1.0h-1.0zM248.2,301.9h1.0v1.0h-1.0zM253.1,304.6h1.0v1.0h-1.0zM258.7,293h1.0v1.0h-1.0zM248.5,291.8h1.0v1.0h-1.0zM256,299.3h1.0v1.0h-1.0zM255.6,304.1h1.0v1.0h-1.0zM252.9,311.2h1.0v1.0h-1.0zM242,301.6h1.0v1.0h-1.0zM256.5,294h1.0v1.0h-1.0zM258.6,299.2h1.0v1.0h-1.0zM259.6,316.4h1.0v1.0h-1.0zM257.2,301.3h1.0v1.0h-1.0zM241.4,310.6h1.0v1.0h-1.0zM250,299h1.0v1.0h-1.0zM250.3,297.4h1.0v1.0h-1.0zM251,310.3h1.0v1.0h-1.0zM252.5,301.5h1.0v1.0h-1.0zM248.8,296.9h1.0v1.0h-1.0zM249.5,302.2h1.0v1.0h-1.0zM251.7,309.6h1.0v1.0h-1.0zM251.9,296.7h1.0v1.0h-1.0zM261.1,297.9h1.0v1.0h-1.0zM260,295.1h1.0v1.0h-1.0zM270,296.8h1.0v1.0h-1.0zM258.8,311.5h1.0v1.0h-1.0zM252.5,307.8h1.0v1.0h-1.0zM257.1,303.5h1.0v1.0h-1.0zM255,302.2h1.0v1.0h-1.0zM249.9,303h1.0v1.0h-1.0zM250.8,290.6h1.0v1.0h-1.0zM250.2,303.1h1.0v1.0h-1.0zM260.6,300.5h1.0v1.0h-1.0zM245.3,302.9h1.0v1.0h-1.0zM243.1,305.2h1.0v1.0h-1.0zM253.8,300.3h1.0v1.0h-1.0zM251.6,305.6h1.0v1.0h-1.0zM252,301.5h1.0v1.0h-1.0zM241.5,290.8h1.0v1.0h-1.0zM257.7,302.1h1.0v1.0h-1.0zM246.5,313.6h1.0v1.0h-1.0zM251.6,306.7h1.0v1.0h-1.0zM251.5,309.1h1.0v1.0h-1.0zM255.2,289.4h1.0v1.0h-1.0zM259.2,299.5h1.0v1.0h-1.0zM254.2,305.6h1.0v1.0h-1.0zM252.1,303.5h1.0v1.0h-1.0zM255.7,306.1h1.0v1.0h-1.0zM246.9,299.3h1.0v1.0h-1.0zM251.9,307.9h1.0v1.0h-1.0zM254.2,305.8h1.0v1.0h-1.0zM250.5,305.1h1.0v1.0h-1.0zM258.9,293.7h1.0v1.0h-1.0zM259.2,299.5h1.0v1.0h-1.0zM248,311.1h1.0v1.0h-1.0zM254.9,318.9h1.0v1.0h-1.0zM252.2,307.1h1.0v1.0h-1.0zM249.7,299.5h1.0v1.0h-1.0zM243.3,304h1.0v1.0h-1.0zM258.1,299.9h1.0v1.0h-1.0zM255.1,298.9h1.0v1.0h-1.0zM249,297.8h1.0v1.0h-1.0zM254.9,301.3h1.0v1.0h-1.0zM253.2,296.9h1.0v1.0h-1.0zM251.3,298.5h1.0v1.0h-1.0zM241.8,306.2h1.0v1.0h-1.0zM247.4,294.6h1.0v1.0h-1.0zM251.1,313.1h1.0v1.0h-1.0zM245.8,318.7h1.0v1.0h-1.0zM254,293h1.0v1.0h-1.0zM252.5,295.1h1.0v1.0h-1.0zM262.7,303.4h1.0v1.0h-1.0zM251.6,303.7h1.0v1.0h-1.0z" fill="#4a5cf0" fill-opacity="0.55"/>
<path d="M233.7,247.6 V381.4 M185,329 H320.8" stroke="#333" stroke-width="1.1"/>
<text x="191" y="267" font-size="15.6" fill="#000" letter-spacing="0.6">43.8</text>
<text x="280.5" y="267" font-size="15.6" fill="#000" letter-spacing="0.6">56.2</text>
<path d="M39.5,393.9 L39.5,235.0 M38.0,392.4 L330.7,392.4" stroke="#000" stroke-width="2.9" fill="none"/>
<path d="M33.65,243.4 L39.5,234.0 L45.35,243.4 M322.3,386.54999999999995 L331.7,392.4 L322.3,398.25" stroke="#000" stroke-width="3.2" fill="none" stroke-linecap="round" stroke-miterlimit="10"/>
<text x="314.2" y="413.4" font-size="15.8" text-anchor="middle" fill="#000">CD4</text>
<text x="31" y="319" font-size="12.7" text-anchor="middle" transform="rotate(-90 31 319)" fill="#000">CD1d tetramer: α-GalCer</text>
<text x="398.6" y="220.7" font-size="20.8" font-weight="bold" fill="#000">D</text>
<path d="M432.5,239.7 L432.5,381.8 M431.6,381.8 L645.3,381.8 M428.5,240.6 L432.5,240.6 M428.5,275.9 L432.5,275.9 M428.5,311.1 L432.5,311.1 M428.5,346.4 L432.5,346.4 M428.5,381.6 L432.5,381.6 M486.5,381.8 L486.5,385.3 M591.3,381.8 L591.3,385.3" stroke="#000" stroke-width="1.8" fill="none"/>
<text x="426" y="244.3" font-size="10.4" font-weight="bold" text-anchor="end" fill="#000">80</text>
<text x="426" y="279.6" font-size="10.4" font-weight="bold" text-anchor="end" fill="#000">60</text>
<text x="426" y="314.8" font-size="10.4" font-weight="bold" text-anchor="end" fill="#000">40</text>
<text x="426" y="350.1" font-size="10.4" font-weight="bold" text-anchor="end" fill="#000">20</text>
<text x="426" y="385.3" font-size="10.4" font-weight="bold" text-anchor="end" fill="#000">0</text>
<text x="486.5" y="397" font-size="10.5" font-weight="bold" text-anchor="middle" fill="#000">control</text>
<text x="591.3" y="397" font-size="10.5" font-weight="bold" text-anchor="middle" fill="#000">psoriasis</text>
<text x="410" y="309.8" font-size="11.1" font-weight="bold" text-anchor="middle" transform="rotate(-90 410 309.8)" fill="#000">CD4/<tspan font-style="italic">i</tspan>NKT cells (%)</text>
<path d="M488.9,234.9 L593,234.9" stroke="#000" stroke-width="1.5"/>
<text x="540.2" y="226.6" font-size="16.3" text-anchor="middle" fill="#000">ns</text>
<path d="M500.8,251.1 C501.3,251.8 503.1,253.8 503.6,255.5 C504.2,257.1 504.5,258.8 504.1,261 C503.7,263.2 502,266.1 501.4,268.7 C500.8,271.3 500.4,273.6 500.3,276.5 C500.2,279.4 500.5,282.9 500.8,286.4 C501.1,289.9 501.2,294.4 501.9,297.5 C502.5,300.6 502.9,302.8 504.7,305.2 C506.4,307.6 510.2,309.4 512.4,311.8 C514.6,314.2 516.8,316.8 518,319.6 C519.2,322.4 519.8,325.4 519.6,328.4 C519.4,331.3 518.9,334.7 516.8,337.3 C514.7,339.9 510.4,341.7 506.9,343.9 C503.4,346.1 498.4,348.3 495.8,350.5 C493.2,352.7 492.5,355.3 491.4,357.2 C490.3,359.1 490,361.2 489.2,362.1 C488.4,363.1 487.5,363 486.5,362.9 C485.5,362.8 484.1,362.9 483.1,361.6 C482.1,360.3 482.1,357.4 480.4,355 C478.6,352.6 476.1,349.8 472.6,347.2 C469.1,344.6 462.6,341.9 459.4,339.5 C456.2,337.1 454.5,335.5 453.3,332.9 C452.1,330.3 451.7,326.8 452.2,324 C452.7,321.2 454.2,318.9 456.1,316.3 C458,313.7 461.4,311.1 463.8,308.5 C466.2,305.9 469.1,303.9 470.4,300.8 C471.7,297.7 471,293.6 471.5,289.7 C472,285.8 473.2,281.1 473.2,277.6 C473.2,274.1 472.2,271.6 471.5,268.7 C470.8,265.8 469.1,262.8 468.8,259.9 C468.5,257 469.7,252.6 469.9,251.1Z" fill="#fff" stroke="#000" stroke-width="2.2" stroke-linejoin="round"/>
<path d="M472.6,283.1 H500.3" stroke="#999" stroke-width="1" stroke-dasharray="1,1.2"/>
<path d="M461.6,314.9 H512.4" stroke="#555" stroke-width="1" stroke-dasharray="2.2,1.6"/>
<path d="M456,334.2 H516.8" stroke="#999" stroke-width="1" stroke-dasharray="1,1.2"/>
<g fill="#000"><circle cx="471.5" cy="253.8" r="2.75"/><circle cx="481.5" cy="251.1" r="2.75"/><circle cx="491.4" cy="256" r="2.75"/><circle cx="501.4" cy="257.7" r="2.75"/><circle cx="476.5" cy="262.7" r="2.75"/><circle cx="496.4" cy="268.2" r="2.75"/><circle cx="486.5" cy="270.9" r="2.75"/><circle cx="486.5" cy="279.8" r="2.75"/><circle cx="496.4" cy="284.2" r="2.75"/><circle cx="476.5" cy="287.5" r="2.75"/><circle cx="476.5" cy="289.7" r="2.75"/><circle cx="486.5" cy="295.3" r="2.75"/><circle cx="496.4" cy="297.5" r="2.75"/><circle cx="471.5" cy="311.3" r="2.75"/><circle cx="481.5" cy="308.5" r="2.75"/><circle cx="491.4" cy="308" r="2.75"/><circle cx="501.4" cy="310.7" r="2.75"/><circle cx="456.6" cy="317.9" r="2.75"/><circle cx="466.6" cy="320.1" r="2.75"/><circle cx="476.5" cy="321.8" r="2.75"/><circle cx="486.5" cy="324.6" r="2.75"/><circle cx="496.4" cy="321.2" r="2.75"/><circle cx="506.3" cy="325.1" r="2.75"/><circle cx="516.3" cy="322.9" r="2.75"/><circle cx="486.5" cy="331.2" r="2.75"/><circle cx="496.4" cy="333.4" r="2.75"/><circle cx="506.3" cy="336.2" r="2.75"/><circle cx="516.3" cy="336.2" r="2.75"/><circle cx="456.6" cy="337.3" r="2.75"/><circle cx="466.6" cy="338.9" r="2.75"/><circle cx="476.5" cy="337.3" r="2.75"/><circle cx="481.5" cy="342.8" r="2.75"/><circle cx="491.4" cy="347.2" r="2.75"/><circle cx="486.5" cy="362.1" r="2.75"/></g>
<path d="M603.6,260.5 C604.2,261.6 606.3,265.6 607.5,267.7 C608.7,269.8 610.2,272.2 611.9,274.3 C613.5,276.4 616.7,279.7 618.5,282 C620.3,284.3 622.9,287.5 624.1,289.8 C625.3,292.1 626.2,295 626.3,297.5 C626.4,300 625.4,303.7 624.6,306.4 C623.8,309.1 622.3,312.4 620.7,315.2 C619.1,318 615.9,322.2 614.1,325.2 C612.3,328.2 609.9,332.1 608.6,335.1 C607.3,338.1 606.3,342 605.3,345.1 C604.3,348.2 603,352.4 602,356.1 C601,359.8 599.1,367.8 598.6,369.9 L585.4,369.9 C584.9,368.2 583.1,361.7 582.1,358.3 C581.1,354.9 579.6,350.4 578.7,347.3 C577.8,344.2 577.3,340.6 576,337.3 C574.7,334 571.8,328.5 569.9,325.2 C568,321.9 564.9,318 563.3,315.2 C561.7,312.4 560.2,309.1 559.4,306.4 C558.6,303.7 557.5,299.8 557.7,297.5 C557.9,295.2 559.2,293 560.5,290.9 C561.8,288.8 564.7,285.5 566.6,283.2 C568.5,280.9 571.6,277.9 573.2,275.4 C574.9,272.9 576.5,268.8 577.6,266.6 C578.7,264.4 580,261.4 580.4,260.5Z" fill="#fff" stroke="#000" stroke-width="2.2" stroke-linejoin="round"/>
<path d="M565.5,288.5 H617.4" stroke="#999" stroke-width="1" stroke-dasharray="1,1.2"/>
<path d="M561,308 H624" stroke="#555" stroke-width="1" stroke-dasharray="2.2,1.6"/>
<path d="M572,328.7 H612" stroke="#999" stroke-width="1" stroke-dasharray="1,1.2"/>
<g fill="#fff" stroke="#000" stroke-width="1.25"><circle cx="580.4" cy="261.1" r="2.6"/><circle cx="592" cy="260.5" r="2.6"/><circle cx="603.6" cy="267.7" r="2.6"/><circle cx="615.2" cy="275.2" r="2.6"/><circle cx="579.8" cy="275.6" r="2.6"/><circle cx="568.2" cy="283.2" r="2.6"/><circle cx="592" cy="282.7" r="2.6"/><circle cx="603.6" cy="282.7" r="2.6"/><circle cx="598.1" cy="289.8" r="2.6"/><circle cx="598.1" cy="294.8" r="2.6"/><circle cx="585.9" cy="292.6" r="2.6"/><circle cx="585.9" cy="298.6" r="2.6"/><circle cx="574.3" cy="294.5" r="2.6"/><circle cx="609.7" cy="296.4" r="2.6"/><circle cx="562.7" cy="299.7" r="2.6"/><circle cx="621.3" cy="301.4" r="2.6"/><circle cx="562.7" cy="307.5" r="2.6"/><circle cx="574.3" cy="308.4" r="2.6"/><circle cx="585.9" cy="310.8" r="2.6"/><circle cx="597.5" cy="312.8" r="2.6"/><circle cx="609.7" cy="311.3" r="2.6"/><circle cx="621.3" cy="315.4" r="2.6"/><circle cx="574.3" cy="319.6" r="2.6"/><circle cx="609.7" cy="321.6" r="2.6"/><circle cx="585.9" cy="325.2" r="2.6"/><circle cx="597.5" cy="327.4" r="2.6"/><circle cx="592" cy="332.3" r="2.6"/><circle cx="603.6" cy="335.1" r="2.6"/><circle cx="579.8" cy="339" r="2.6"/><circle cx="585.9" cy="344.5" r="2.6"/><circle cx="585.9" cy="353.7" r="2.6"/><circle cx="597.5" cy="351.1" r="2.6"/><circle cx="597.5" cy="361.6" r="2.6"/><circle cx="592" cy="370.3" r="2.6"/></g>
<text x="8.5" y="433" font-size="21" font-weight="bold" fill="#000">E</text>
<text x="169.5" y="428.4" font-size="12.6" fill="#000" textLength="32.5" lengthAdjust="spacingAndGlyphs">Gated</text>
<text x="207.8" y="428.4" font-size="12.6" fill="#000" textLength="13.7" lengthAdjust="spacingAndGlyphs">on</text>
<text x="227" y="428.4" font-size="12.6" fill="#000" textLength="28.2" lengthAdjust="spacingAndGlyphs"><tspan font-style="italic">i</tspan>NKT</text>
<text x="258.7" y="428.4" font-size="12.6" fill="#000" textLength="26.5" lengthAdjust="spacingAndGlyphs">cells</text>
<rect x="46.6" y="444.3" width="147.6" height="145.2" fill="#fdfdfb" stroke="#b4b4b4" stroke-width="0.9"/>
<path d="M47.5,589.5 v3.6 M49.1,589.5 v3.6 M50.7,589.5 v3.6 M58,589.5 v3.6 M59.6,589.5 v3.6 M61.2,589.5 v3.6 M62.8,589.5 v3.6 M64.4,589.5 v3.6 M66,589.5 v3.6 M70,589.5 v3.6 M71.6,589.5 v3.6 M73.2,589.5 v3.6 M74.8,589.5 v3.6 M76.4,589.5 v3.6 M111.3,589.5 v4.2 M86.8,589.5 v2.4 M93,589.5 v2.4 M97.4,589.5 v2.4 M100.8,589.5 v2.4 M103.5,589.5 v2.4 M105.9,589.5 v2.4 M107.9,589.5 v2.4 M109.7,589.5 v2.4 M146,589.5 v4.2 M121.5,589.5 v2.4 M127.7,589.5 v2.4 M132.1,589.5 v2.4 M135.5,589.5 v2.4 M138.2,589.5 v2.4 M140.6,589.5 v2.4 M142.6,589.5 v2.4 M144.4,589.5 v2.4 M179,589.5 v4.2 M154.5,589.5 v2.4 M160.7,589.5 v2.4 M165.1,589.5 v2.4 M168.5,589.5 v2.4 M171.2,589.5 v2.4 M173.6,589.5 v2.4 M175.6,589.5 v2.4 M177.4,589.5 v2.4 M189.5,589.5 v2.4 M46.6,582.6 h-2 M46.6,575.7 h-2 M46.6,568.8 h-2 M46.6,561.9 h-3.6 M46.6,555 h-2 M46.6,548.1 h-2 M46.6,541.2 h-2 M46.6,534.3 h-3.6 M46.6,527.4 h-2 M46.6,520.5 h-2 M46.6,513.6 h-2 M46.6,506.7 h-3.6 M46.6,499.8 h-2 M46.6,492.9 h-2 M46.6,486 h-2 M46.6,479.1 h-3.6 M46.6,472.2 h-2 M46.6,465.3 h-2 M46.6,458.4 h-2 M46.6,451.5 h-3.6 " stroke="#1a1a1a" stroke-width="0.85" fill="none"/>
<path d="M52.5,589.3 C54,589 57.3,588.8 60,588 C62.7,587.2 63.6,585.9 66,585.5 C68.4,585.1 70,586.3 72,586 C74,585.7 74.5,586 76,584 C77.5,582 78.4,582.2 79.5,576 C80.6,569.8 80.6,561.6 81.6,552.8 C82.6,544 83.2,539.1 84.7,532 C86.2,524.9 87.6,521.4 88.9,517.5 C90.2,513.6 90,513.8 91,512.5 C92,511.2 92.7,510.1 93.7,511.2 C94.7,512.3 95.1,514.2 96,518 C96.9,521.8 97.4,525.1 98.3,530 C99.2,534.9 99.5,534.5 100.3,542.4 C101.1,550.3 101.6,561.2 102.4,569.5 C103.2,577.8 103.6,580 104.5,584 C105.4,588 106.5,588.2 107,589.3 L107,589.5 L52.5,589.5Z" fill="#d6d6d6"/>
<path d="M54.6,589.2 C55.8,588.2 58.5,585.4 60.8,584 C63.1,582.6 63.7,582.4 66,582.4 C68.3,582.4 70.2,584.1 72.3,584 C74.4,583.9 74.7,584.9 76.4,582 C78.1,579.1 78.9,574.9 80.6,569.5 C82.3,564.1 83,560.3 84.7,554.9 C86.4,549.5 87.5,546.8 88.9,542.4 C90.3,538 90.5,535.1 91.6,533.1 C92.7,531.1 93.2,532.1 94.5,532.6 C95.8,533.1 97.1,533.8 98.3,535.8 C99.5,537.8 99.5,537.7 100.3,542.4 C101.1,547.1 101.4,550.8 102.4,559.1 C103.4,567.4 103.8,578.5 105.5,584 C107.2,589.5 108.8,585.5 110.7,586.5 C112.6,587.5 114.1,588.7 114.9,589.2" fill="none" stroke="#111" stroke-width="1.2"/>
<path d="M124.9,457.1 h11" stroke="#b4b4b4" stroke-width="1.8"/>
<path d="M124.9,474.5 h11" stroke="#111" stroke-width="2"/>
<text x="138.6" y="461.3" font-size="12.1" fill="#000">Control</text>
<text x="138.6" y="478.7" font-size="12.1" fill="#000">Patient</text>
<path d="M39.4,598.5 L39.4,439.59999999999997 M37.9,597 L197.5,597" stroke="#000" stroke-width="3.1" fill="none"/>
<path d="M34.699999999999996,440.09999999999997 L39.4,430.9 L44.1,440.09999999999997Z M197.0,592.3 L206.2,597 L197.0,601.7Z" fill="#000"/>
<text x="120.1" y="614.8" font-size="16.4" text-anchor="middle" fill="#000">T-bet</text>
<text x="28.4" y="509.5" font-size="16.0" text-anchor="middle" transform="rotate(-90 28.4 509.5)" fill="#000">Events(% of max)</text>
<path d="M266.1,452.0 L266.1,591.8 M265.20000000000005,591.8 L475.7,591.8 M262.1,452.9 L266.1,452.9 M262.1,499.2 L266.1,499.2 M262.1,545.5 L266.1,545.5 M262.1,591.8 L266.1,591.8 M318.6,591.8 L318.6,595.3 M422.7,591.8 L422.7,595.3" stroke="#000" stroke-width="1.8" fill="none"/>
<text x="259.6" y="456.5" font-size="10" font-weight="bold" text-anchor="end" fill="#000">3000</text>
<text x="259.6" y="502.8" font-size="10" font-weight="bold" text-anchor="end" fill="#000">2000</text>
<text x="259.6" y="549.1" font-size="10" font-weight="bold" text-anchor="end" fill="#000">1000</text>
<text x="259.6" y="595.4" font-size="10" font-weight="bold" text-anchor="end" fill="#000">0</text>
<text x="318.6" y="606.8" font-size="10.5" font-weight="bold" text-anchor="middle" fill="#000">control</text>
<text x="422.7" y="606.8" font-size="10.5" font-weight="bold" text-anchor="middle" fill="#000">psoriasis</text>
<text x="234.6" y="522.2" font-size="11.2" font-weight="bold" text-anchor="middle" transform="rotate(-90 234.6 522.2)" fill="#000">MFI of T-bet<tspan baseline-shift="super" font-size="70%">+</tspan> <tspan font-style="italic">i</tspan>NKT cells</text>
<path d="M322.4,447.5 L431.3,447.5" stroke="#000" stroke-width="1.5"/>
<text x="377.5" y="438.7" font-size="16.3" text-anchor="middle" fill="#000">ns</text>
<path d="M303.1,586.6 C301.7,586.1 295,583.9 292.6,583 C290.2,582.1 284.4,580.5 285.1,579.5 C285.8,578.5 294.7,576.4 297.6,575.5 C300.5,574.6 304.6,573.7 306.6,573 C308.6,572.3 311.3,571.4 312.6,570.6 C313.9,569.8 315.7,567.7 316.1,567 C316.5,566.3 316.1,565.7 315.6,565 C315.1,564.3 313.2,563 312.6,562 C312,561 311.2,558.7 311.1,557.5 C311,556.3 311.6,554 312.1,553 C312.6,552 313.8,550.8 314.6,550 C315.4,549.2 317.5,552.1 318,547 C318.5,541.9 318.3,516.9 318,512 C317.7,507.1 316.5,510.6 316.1,510 C315.7,509.4 315.3,508.2 315.3,507.5 C315.3,506.8 315.7,505.6 316.1,505 C316.5,504.4 317.7,506.5 318,503 C318.3,499.5 318.2,482.5 318,479 C317.8,475.5 317,477.2 316.6,476.5 C316.2,475.8 315.4,474.6 315.3,474 C315.2,473.4 316,472.3 316.1,472 L321.1,472 C321.2,472.3 322,473.4 321.9,474 C321.8,474.6 321,475.8 320.6,476.5 C320.2,477.2 319.4,475.5 319.2,479 C319,482.5 318.9,499.5 319.2,503 C319.5,506.5 320.7,504.4 321.1,505 C321.5,505.6 321.9,506.8 321.9,507.5 C321.9,508.2 321.5,509.4 321.1,510 C320.7,510.6 319.5,507.1 319.2,512 C318.9,516.9 318.7,541.9 319.2,547 C319.7,552.1 321.8,549.2 322.6,550 C323.4,550.8 324.6,552 325.1,553 C325.6,554 326.2,556.3 326.1,557.5 C326,558.7 325.2,561 324.6,562 C324,563 322.1,564.3 321.6,565 C321.1,565.7 320.7,566.3 321.1,567 C321.5,567.7 323.3,569.8 324.6,570.6 C325.9,571.4 328.6,572.3 330.6,573 C332.6,573.7 336.7,574.6 339.6,575.5 C342.5,576.4 351.4,578.5 352.1,579.5 C352.8,580.5 347,582.1 344.6,583 C342.2,583.9 335.5,586.1 334.1,586.6Z" fill="#fff" stroke="#000" stroke-width="2.2" stroke-linejoin="round"/>
<path d="M290,577.5 H348" stroke="#999" stroke-width="1" stroke-dasharray="1,1.2"/>
<g fill="#000"><circle cx="318.6" cy="473.7" r="2.75"/><circle cx="318" cy="507" r="2.75"/><circle cx="319.2" cy="508.7" r="2.75"/><circle cx="316.3" cy="555.1" r="2.75"/><circle cx="321" cy="556.9" r="2.75"/><circle cx="316.3" cy="560.4" r="2.75"/><circle cx="321" cy="565.2" r="2.75"/><circle cx="287.1" cy="580.7" r="2.75"/><circle cx="291.9" cy="583.6" r="2.75"/><circle cx="296.6" cy="584.8" r="2.75"/><circle cx="301.4" cy="578.3" r="2.75"/><circle cx="306.2" cy="578.9" r="2.75"/><circle cx="310.9" cy="580.7" r="2.75"/><circle cx="315.7" cy="575.9" r="2.75"/><circle cx="318" cy="577.1" r="2.75"/><circle cx="320.4" cy="578.3" r="2.75"/><circle cx="322.8" cy="579.5" r="2.75"/><circle cx="325.2" cy="579.5" r="2.75"/><circle cx="329.9" cy="579.5" r="2.75"/><circle cx="334.7" cy="584.8" r="2.75"/><circle cx="341.8" cy="578.9" r="2.75"/><circle cx="350.1" cy="586.2" r="2.75"/></g>
<path d="M403.2,583 C402.2,582.7 397.6,581.8 395.7,581 C393.8,580.2 389.4,578.1 388.7,577.2 C388,576.3 389.8,574.9 390.7,574 C391.6,573.1 393.2,571.3 395.2,570.5 C397.2,569.7 403.3,568.7 405.7,568 C408.1,567.3 412.1,565.8 413.2,565 C414.3,564.2 413.6,562.8 414.2,562 C414.8,561.2 416.6,559.7 417.7,559 C418.8,558.3 421.5,557.9 422.1,556.5 C422.7,555.1 422.5,549.9 422.1,548.5 C421.7,547.1 419.8,546.6 419.2,546 C418.6,545.4 417.7,544.4 417.7,543.8 C417.7,543.2 418.6,542.1 419.2,541.5 C419.8,540.9 421.7,540.2 422.1,539.5 C422.5,538.8 422.5,537.2 422.1,536.5 C421.7,535.8 419.8,534.7 419.2,534 C418.6,533.3 417.7,532.2 417.7,531.5 C417.7,530.8 418.6,529.6 419.2,529 C419.8,528.4 421.7,529.6 422.1,527 C422.5,524.4 422.3,512.1 422.1,509.5 C421.9,506.9 421.3,508.1 420.7,507.5 C420.1,506.9 417.8,505.8 417.7,505.2 C417.6,504.6 419.4,503.3 419.7,503 L425.7,503 C426,503.3 427.8,504.6 427.7,505.2 C427.6,505.8 425.3,506.9 424.7,507.5 C424.1,508.1 423.5,506.9 423.3,509.5 C423.1,512.1 422.9,524.4 423.3,527 C423.7,529.6 425.6,528.4 426.2,529 C426.8,529.6 427.7,530.8 427.7,531.5 C427.7,532.2 426.8,533.3 426.2,534 C425.6,534.7 423.7,535.8 423.3,536.5 C422.9,537.2 422.9,538.8 423.3,539.5 C423.7,540.2 425.6,540.9 426.2,541.5 C426.8,542.1 427.7,543.2 427.7,543.8 C427.7,544.4 426.8,545.4 426.2,546 C425.6,546.6 423.7,547.1 423.3,548.5 C422.9,549.9 422.7,555.1 423.3,556.5 C423.9,557.9 426.6,558.3 427.7,559 C428.8,559.7 430.6,561.2 431.2,562 C431.8,562.8 431.1,564.2 432.2,565 C433.3,565.8 437.3,567.3 439.7,568 C442.1,568.7 448.2,569.7 450.2,570.5 C452.2,571.3 453.8,573.1 454.7,574 C455.6,574.9 457.4,576.3 456.7,577.2 C456,578.1 451.6,580.2 449.7,581 C447.8,581.8 443.2,582.7 442.2,583Z" fill="#fff" stroke="#000" stroke-width="2.2" stroke-linejoin="round"/>
<path d="M395,574 H452" stroke="#555" stroke-width="1" stroke-dasharray="2.2,1.6"/>
<path d="M414,568.5 H432" stroke="#999" stroke-width="1" stroke-dasharray="1,1.2"/>
<g fill="#fff" stroke="#000" stroke-width="1.25"><circle cx="422.7" cy="505.2" r="2.5"/><circle cx="422.7" cy="531.2" r="2.5"/><circle cx="422.7" cy="543.6" r="2.5"/><circle cx="419.8" cy="563.7" r="2.5"/><circle cx="425.6" cy="563.2" r="2.5"/><circle cx="406.9" cy="568.7" r="2.5"/><circle cx="413.4" cy="570.8" r="2.5"/><circle cx="419.8" cy="571.9" r="2.5"/><circle cx="425.6" cy="572.5" r="2.5"/><circle cx="432.7" cy="571.9" r="2.5"/><circle cx="438.5" cy="571.9" r="2.5"/><circle cx="416.3" cy="576" r="2.5"/><circle cx="422.7" cy="576.6" r="2.5"/><circle cx="429.2" cy="575.4" r="2.5"/><circle cx="435" cy="576.6" r="2.5"/><circle cx="410.4" cy="578" r="2.5"/><circle cx="391.7" cy="579" r="2.5"/><circle cx="397.6" cy="579.5" r="2.5"/><circle cx="404" cy="581.3" r="2.5"/><circle cx="441.4" cy="580.7" r="2.5"/><circle cx="447.9" cy="577.2" r="2.5"/><circle cx="454.3" cy="582.5" r="2.5"/></g>
<text x="6.4" y="621.7" font-size="21" font-weight="bold" fill="#000">F</text>
<rect x="48.6" y="632.4" width="144.6" height="144.0" fill="#fdfdfb" stroke="#b4b4b4" stroke-width="0.9"/>
<path d="M62.6,776.4 v3.6 M64.2,776.4 v3.6 M65.8,776.4 v3.6 M70,776.4 v3.6 M71.6,776.4 v3.6 M75,776.4 v3.6 M76.6,776.4 v3.6 M111.3,776.4 v4.2 M86.8,776.4 v2.4 M93,776.4 v2.4 M97.4,776.4 v2.4 M100.8,776.4 v2.4 M103.5,776.4 v2.4 M105.9,776.4 v2.4 M107.9,776.4 v2.4 M109.7,776.4 v2.4 M146.4,776.4 v4.2 M121.9,776.4 v2.4 M128.1,776.4 v2.4 M132.5,776.4 v2.4 M135.9,776.4 v2.4 M138.6,776.4 v2.4 M141,776.4 v2.4 M143,776.4 v2.4 M144.8,776.4 v2.4 M178.6,776.4 v4.2 M154.1,776.4 v2.4 M160.3,776.4 v2.4 M164.7,776.4 v2.4 M168.1,776.4 v2.4 M170.8,776.4 v2.4 M173.2,776.4 v2.4 M175.2,776.4 v2.4 M177,776.4 v2.4 M189.1,776.4 v2.4 M48.6,769.5 h-2 M48.6,762.7 h-2 M48.6,755.8 h-2 M48.6,749 h-3.6 M48.6,742.1 h-2 M48.6,735.3 h-2 M48.6,728.4 h-2 M48.6,721.6 h-3.6 M48.6,714.7 h-2 M48.6,707.9 h-2 M48.6,701 h-2 M48.6,694.2 h-3.6 M48.6,687.3 h-2 M48.6,680.5 h-2 M48.6,673.6 h-2 M48.6,666.8 h-3.6 M48.6,659.9 h-2 M48.6,653.1 h-2 M48.6,646.2 h-2 M48.6,639.4 h-3.6 " stroke="#1a1a1a" stroke-width="0.85" fill="none"/>
<path d="M67,776.3 C68.5,775.5 72,774.4 74.3,772.1 C76.6,769.8 77,769.6 78.5,764.8 C80,760 80.4,757.4 81.6,748.2 C82.8,739 83.5,732.3 84.7,719 C85.9,705.7 86.4,693.4 87.4,681.6 C88.4,669.8 89,659.8 89.9,659.8 C90.8,659.8 91.1,668.9 92,681.6 C92.9,694.3 93.5,709.5 94.5,723.2 C95.5,736.9 96,741.6 97.2,750.3 C98.4,759 99,761.9 100.3,766.9 C101.6,771.9 101.6,773.4 103.5,775.2 C105.4,777 107.5,775.9 110,776 C112.5,776.1 113.8,776.1 116,775.5 C118.2,774.9 119.1,773.1 121.1,773.2 C123.1,773.3 124.2,775.2 126,775.8 C127.8,776.4 129.2,776.2 130,776.3 L130,776.4 L67,776.4Z" fill="#d6d6d6"/>
<path d="M69.1,776.3 C70.4,775.3 73.3,772.1 75.4,771.5 C77.5,770.9 77.8,776.2 79.5,773.2 C81.2,770.2 82.2,763.2 83.7,756.5 C85.2,749.8 85.6,744.1 86.8,739.9 C88,735.7 88.2,735.7 89.5,735.7 C90.8,735.7 91.8,737.8 93.1,739.9 C94.4,742 95,741.9 96.2,746.1 C97.4,750.3 98.1,755.5 99.3,760.7 C100.5,765.9 100.5,769.4 102.4,772.1 C104.3,774.8 106.8,774.8 108.7,774.2 C110.6,773.6 110.3,774.2 111.8,769 C113.3,763.8 114.3,758.2 116,748.2 C117.7,738.2 118.7,727.5 120.1,719.1 C121.5,710.7 122,706.2 123.2,706.2 C124.4,706.2 124.8,709.7 126.3,719.1 C127.8,728.5 128.6,744.9 130.5,753.4 C132.4,761.9 133.6,758.4 135.7,761.7 C137.8,765 138.8,767.7 140.9,770 C143,772.3 144.2,773.2 146.1,773.2 C148,773.2 148.4,769.4 150.3,770 C152.2,770.6 154.5,775 155.5,776.3" fill="none" stroke="#111" stroke-width="1.2"/>
<path d="M125.9,642.6 h11" stroke="#b4b4b4" stroke-width="1.8"/>
<path d="M125.9,660.1 h11" stroke="#111" stroke-width="2"/>
<text x="141.3" y="646.8000000000001" font-size="12.1" fill="#000">Control</text>
<text x="141.3" y="664.3000000000001" font-size="12.1" fill="#000">Patient</text>
<path d="M41,783.6 L41,623.9000000000001 M39.5,782.1 L199.3,782.1" stroke="#000" stroke-width="3.1" fill="none"/>
<path d="M36.3,624.4000000000001 L41,615.2 L45.7,624.4000000000001Z M198.8,777.4 L208,782.1 L198.8,786.8000000000001Z" fill="#000"/>
<text x="118" y="799.6" font-size="16.6" text-anchor="middle" fill="#000">GATA3</text>
<text x="30.1" y="694.3" font-size="16.0" text-anchor="middle" transform="rotate(-90 30.1 694.3)" fill="#000">Events(% of max)</text>
<path d="M269.5,639.7 L269.5,776.5 M268.6,776.5 L473.9,776.5 M265.5,640.6 L269.5,640.6 M265.5,667.8 L269.5,667.8 M265.5,695 L269.5,695 M265.5,722.1 L269.5,722.1 M265.5,749.3 L269.5,749.3 M265.5,776.5 L269.5,776.5 M320.4,776.5 L320.4,780.0 M422,776.5 L422,780.0" stroke="#000" stroke-width="1.8" fill="none"/>
<text x="263" y="644.2" font-size="10" font-weight="bold" text-anchor="end" fill="#000">2500</text>
<text x="263" y="671.4" font-size="10" font-weight="bold" text-anchor="end" fill="#000">2000</text>
<text x="263" y="698.6" font-size="10" font-weight="bold" text-anchor="end" fill="#000">1500</text>
<text x="263" y="725.7" font-size="10" font-weight="bold" text-anchor="end" fill="#000">1000</text>
<text x="263" y="752.9" font-size="10" font-weight="bold" text-anchor="end" fill="#000">500</text>
<text x="263" y="780.1" font-size="10" font-weight="bold" text-anchor="end" fill="#000">0</text>
<text x="320.4" y="791" font-size="10.5" font-weight="bold" text-anchor="middle" fill="#000">control</text>
<text x="422" y="791" font-size="10.5" font-weight="bold" text-anchor="middle" fill="#000">psoriasis</text>
<text x="236.3" y="706.7" font-size="11.2" font-weight="bold" text-anchor="middle" transform="rotate(-90 236.3 706.7)" fill="#000">MFI of GATA3 <tspan baseline-shift="super" font-size="70%">+</tspan> <tspan font-style="italic">i</tspan>NKT cells</text>
<path d="M323.1,637.7 L421.8,637.7" stroke="#000" stroke-width="1.5"/>
<text x="370.1" y="639.6" font-size="16" text-anchor="middle" fill="#000">*</text>
<path d="M324.2,719.4 C323.8,720 321.6,721.8 321.8,723.5 C322,725.2 324.1,728.8 325.8,730.8 C327.5,732.8 331.3,735.4 333,737 C334.7,738.6 336.9,739.8 337.2,741.5 C337.5,743.2 334,746.7 335.1,748.5 C336.2,750.3 341.8,752.5 344.5,753.7 C347.2,754.9 352.8,755.9 353.3,756.8 C353.8,757.7 348.5,759.2 347.6,759.6 L293.5,759.6 C292.6,759.2 287.4,757.7 287.8,756.8 C288.2,755.9 293.8,754.9 296.5,753.7 C299.2,752.5 304.5,750.3 305.5,748.5 C306.5,746.7 303.1,743.2 303.4,741.5 C303.7,739.8 305.9,738.6 307.6,737 C309.3,735.4 313.3,732.8 315,730.8 C316.7,728.8 318.8,725.2 319,723.5 C319.2,721.8 316.8,720 316.4,719.4Z" fill="#fff" stroke="#000" stroke-width="2.2" stroke-linejoin="round"/>
<path d="M300,750 H340" stroke="#999" stroke-width="1" stroke-dasharray="1,1.2"/>
<g fill="#000"><circle cx="320.4" cy="719.4" r="2.75"/><circle cx="320.4" cy="730.8" r="2.75"/><circle cx="313.1" cy="737.6" r="2.75"/><circle cx="320.4" cy="739.1" r="2.75"/><circle cx="327.6" cy="740.7" r="2.75"/><circle cx="305.5" cy="743.3" r="2.75"/><circle cx="335.1" cy="743.8" r="2.75"/><circle cx="313.1" cy="745.9" r="2.75"/><circle cx="320.4" cy="750.1" r="2.75"/><circle cx="327.6" cy="750.1" r="2.75"/><circle cx="320.4" cy="754.7" r="2.75"/><circle cx="327.6" cy="754.7" r="2.75"/><circle cx="313.1" cy="755.8" r="2.75"/><circle cx="305.5" cy="758.4" r="2.75"/><circle cx="298.2" cy="757.3" r="2.75"/><circle cx="289.9" cy="756.8" r="2.75"/><circle cx="335.1" cy="758.9" r="2.75"/><circle cx="342.4" cy="756.3" r="2.75"/><circle cx="350.2" cy="759.9" r="2.75"/></g>
<path d="M428.6,666.1 C429.3,667.2 431.8,671.2 433,673.3 C434.2,675.4 435.7,677.9 436.4,679.9 C437.1,681.9 437.7,684.5 437.5,686.5 C437.3,688.5 436.6,691.2 435.3,693.2 C434,695.2 430.3,697.8 428.6,699.8 C426.9,701.8 424.8,704.4 424.2,706.4 C423.6,708.4 424,711.1 424.8,713.1 C425.6,715.1 427.1,717.7 429.7,719.7 C432.3,721.7 438.6,724.3 441.9,726.3 C445.2,728.3 449.8,731 451.8,733 C453.8,735 455,737.5 455.2,739.6 C455.4,741.7 454.3,745 453,747.3 C451.7,749.6 448.3,752.8 446.3,755.1 C444.3,757.4 441.3,760.8 439.7,762.8 C438.1,764.8 436,767.5 435.3,768.3 L408.7,768.3 C407.7,767.3 404.2,764 402.1,761.7 C400,759.4 396.4,755.6 394.4,752.8 C392.4,750 389.4,745.5 388.8,742.9 C388.2,740.3 389,737.5 390.5,735.2 C392,732.9 395.7,729.6 398.8,727.4 C401.9,725.2 408.1,722.8 411,720.8 C413.9,718.8 416.9,716.2 418.1,714.2 C419.3,712.2 419.6,709.5 419.2,707.5 C418.8,705.5 417,703 415.4,700.9 C413.8,698.8 410,695.4 408.7,693.2 C407.4,691 406.7,688.5 406.5,686.5 C406.3,684.5 406.9,681.9 407.6,679.9 C408.3,677.9 409.8,675.4 411,673.3 C412.2,671.2 414.7,667.2 415.4,666.1Z" fill="#fff" stroke="#000" stroke-width="2.2" stroke-linejoin="round"/>
<path d="M392,736.3 H452" stroke="#555" stroke-width="1" stroke-dasharray="2.2,1.6"/>
<path d="M394.4,750.1 H448.5" stroke="#999" stroke-width="1" stroke-dasharray="1,1.2"/>
<path d="M411,689.8 H435.3" stroke="#999" stroke-width="1" stroke-dasharray="1,1.2"/>
<g fill="#fff" stroke="#000" stroke-width="1.25"><circle cx="422" cy="666.1" r="2.6"/><circle cx="422" cy="679" r="2.6"/><circle cx="415.1" cy="686.5" r="2.6"/><circle cx="422" cy="689" r="2.6"/><circle cx="428.6" cy="690.1" r="2.6"/><circle cx="411.8" cy="728" r="2.6"/><circle cx="418.7" cy="731.8" r="2.6"/><circle cx="432" cy="730.2" r="2.6"/><circle cx="425.3" cy="734.6" r="2.6"/><circle cx="415.1" cy="736.8" r="2.6"/><circle cx="422" cy="740.5" r="2.6"/><circle cx="428.6" cy="742.9" r="2.6"/><circle cx="432" cy="745.3" r="2.6"/><circle cx="411.8" cy="750.1" r="2.6"/><circle cx="418.7" cy="752" r="2.6"/><circle cx="425.3" cy="750.1" r="2.6"/><circle cx="415.1" cy="760.6" r="2.6"/><circle cx="422" cy="764.5" r="2.6"/><circle cx="428.6" cy="768.5" r="2.6"/></g>
<text x="4.7" y="807.3" font-size="21" font-weight="bold" fill="#000">G</text>
<rect x="50" y="822.6" width="143.2" height="142.5" fill="#fdfdfb" stroke="#b4b4b4" stroke-width="0.9"/>
<path d="M65,965.1 v3.6 M66.6,965.1 v3.6 M68.2,965.1 v3.6 M69.8,965.1 v3.6 M80,965.1 v3.6 M81.6,965.1 v3.6 M83.2,965.1 v3.6 M84.8,965.1 v3.6 M86.4,965.1 v3.6 M88,965.1 v3.6 M104.5,965.1 v4.2 M80,965.1 v2.4 M86.2,965.1 v2.4 M90.6,965.1 v2.4 M94,965.1 v2.4 M96.7,965.1 v2.4 M99.1,965.1 v2.4 M101.1,965.1 v2.4 M102.9,965.1 v2.4 M144,965.1 v4.2 M119.5,965.1 v2.4 M125.7,965.1 v2.4 M130.1,965.1 v2.4 M133.5,965.1 v2.4 M136.2,965.1 v2.4 M138.6,965.1 v2.4 M140.6,965.1 v2.4 M142.4,965.1 v2.4 M177.3,965.1 v4.2 M152.8,965.1 v2.4 M159,965.1 v2.4 M163.4,965.1 v2.4 M166.8,965.1 v2.4 M169.5,965.1 v2.4 M171.9,965.1 v2.4 M173.9,965.1 v2.4 M175.7,965.1 v2.4 M187.8,965.1 v2.4 M50,958.3 h-2 M50,951.5 h-2 M50,944.7 h-2 M50,937.9 h-2 M50,931.1 h-2 M50,924.3 h-2 M50,917.5 h-2 M50,910.7 h-2 M50,903.9 h-2 M50,897.1 h-2 M50,890.3 h-2 M50,883.5 h-2 M50,876.7 h-2 M50,869.9 h-2 M50,863.1 h-2 M50,856.3 h-2 M50,849.5 h-2 M50,842.7 h-2 M50,835.9 h-2 M50,829.1 h-2 " stroke="#1a1a1a" stroke-width="0.85" fill="none"/>
<path d="M79.5,965.3 C80.3,964.4 82,964.1 83.7,960.7 C85.4,957.3 86.2,954.9 87.9,948.2 C89.6,941.5 90.3,934.9 92,927.4 C93.7,919.9 94.7,915.1 96.2,910.7 C97.7,906.3 98.1,905.9 99.3,905.5 C100.5,905.1 100.9,906.4 102.4,908.7 C103.9,911 104.7,913.3 106.6,917 C108.5,920.7 110.1,922 111.8,927.4 C113.5,932.8 113.4,937.8 114.9,944 C116.4,950.2 117.4,954.4 119.1,958.6 C120.8,962.8 121.8,963.5 123.2,964.8 C124.6,966.1 125.4,965.2 126,965.3 L126,965.1 L79.5,965.1Z" fill="#d6d6d6"/>
<path d="M71.2,965.3 C73.3,965.2 78.1,965.5 81.6,964.8 C85.1,964.1 86.6,964.2 88.9,961.7 C91.2,959.2 91.4,958.4 93.1,952.4 C94.8,946.4 96,939.9 97.2,931.6 C98.4,923.3 98.5,916.3 99.3,910.7 C100.1,905.1 100.4,903.9 101.4,903.5 C102.4,903.1 103,905.6 104.5,908.7 C106,911.8 107,915.8 108.7,919.1 C110.4,922.4 111.6,922.8 112.8,925.3 C114,927.8 113.9,927.9 114.9,931.6 C115.9,935.3 116.5,939.6 118,944 C119.5,948.4 120.7,951.9 122.2,953.4 C123.7,954.9 123.8,950.5 125.3,951.3 C126.8,952.1 127.8,956.1 129.5,957.6 C131.2,959.1 131.9,957.4 133.6,958.6 C135.3,959.8 136.1,962.5 137.8,963.8 C139.5,965.1 141.2,965 142,965.3" fill="none" stroke="#111" stroke-width="1.2"/>
<path d="M129,832.4 h11" stroke="#b4b4b4" stroke-width="1.8"/>
<path d="M129,848.6 h11" stroke="#111" stroke-width="2"/>
<text x="143.7" y="836.6" font-size="12.1" fill="#000">Control</text>
<text x="143.7" y="852.8000000000001" font-size="12.1" fill="#000">Patient</text>
<path d="M42.6,972.3 L42.6,812.1 M41.1,970.8 L200.60000000000002,970.8" stroke="#000" stroke-width="3.1" fill="none"/>
<path d="M37.9,812.6 L42.6,803.4 L47.300000000000004,812.6Z M200.10000000000002,966.0999999999999 L209.3,970.8 L200.10000000000002,975.5Z" fill="#000"/>
<text x="120.6" y="988.8" font-size="15.6" text-anchor="middle" fill="#000">RORγt</text>
<text x="31.9" y="883.6" font-size="16.0" text-anchor="middle" transform="rotate(-90 31.9 883.6)" fill="#000">Events(% of max)</text>
<path d="M273.6,829.9 L273.6,968.3 M272.70000000000005,968.3 L481,968.3 M269.6,830.8 L273.6,830.8 M269.6,865.2 L273.6,865.2 M269.6,899.5 L273.6,899.5 M269.6,933.9 L273.6,933.9 M269.6,968.3 L273.6,968.3 M326.1,968.3 L326.1,971.8 M428.9,968.3 L428.9,971.8" stroke="#000" stroke-width="1.8" fill="none"/>
<text x="267.1" y="834.4" font-size="10" font-weight="bold" text-anchor="end" fill="#000">8000</text>
<text x="267.1" y="868.8" font-size="10" font-weight="bold" text-anchor="end" fill="#000">6000</text>
<text x="267.1" y="903.1" font-size="10" font-weight="bold" text-anchor="end" fill="#000">4000</text>
<text x="267.1" y="937.5" font-size="10" font-weight="bold" text-anchor="end" fill="#000">2000</text>
<text x="267.1" y="971.9" font-size="10" font-weight="bold" text-anchor="end" fill="#000">0</text>
<text x="326.1" y="982.8" font-size="10.5" font-weight="bold" text-anchor="middle" fill="#000">control</text>
<text x="428.9" y="982.8" font-size="10.5" font-weight="bold" text-anchor="middle" fill="#000">psoriasis</text>
<text x="236.9" y="899" font-size="11.0" font-weight="bold" text-anchor="middle" transform="rotate(-90 236.9 899)" fill="#000">MFI of RORγt <tspan baseline-shift="super" font-size="70%">+</tspan> <tspan font-style="italic">i</tspan>NKT cells</text>
<path d="M326.5,832.9 L430.3,832.9" stroke="#000" stroke-width="1.5"/>
<text x="378.6" y="831.8" font-size="16" text-anchor="middle" fill="#000">*</text>
<path d="M316.6,956.5 C315.2,956.2 309.2,955 306.1,954.5 C303,954 294.7,953.3 293.1,952.8 C291.5,952.3 292.2,951.6 294.1,950.8 C296,950 304,947.7 307.1,946.6 C310.2,945.5 315,943.3 317.1,942.4 C319.2,941.5 322.4,940.6 323.1,940 C323.8,939.4 323,938.6 322.6,938 C322.2,937.4 320.5,936.2 320.1,935.5 C319.7,934.8 319.3,933.5 319.3,933 C319.3,932.5 319.5,932 319.9,931.5 C320.3,931 321.4,929.7 322.1,929 C322.8,928.3 325,930.8 325.5,926.5 C326,922.2 325.8,901.2 325.5,897 C325.2,892.8 323.6,895.5 323.1,895 C322.6,894.5 321.4,893.5 321.4,893 C321.4,892.5 322.9,891.4 323.1,891.2 L329.1,891.2 C329.3,891.4 330.8,892.5 330.8,893 C330.8,893.5 329.6,894.5 329.1,895 C328.6,895.5 327,892.8 326.7,897 C326.4,901.2 326.2,922.2 326.7,926.5 C327.2,930.8 329.4,928.3 330.1,929 C330.8,929.7 331.9,931 332.3,931.5 C332.7,932 332.9,932.5 332.9,933 C332.9,933.5 332.5,934.8 332.1,935.5 C331.7,936.2 330,937.4 329.6,938 C329.2,938.6 328.4,939.4 329.1,940 C329.8,940.6 333,941.5 335.1,942.4 C337.2,943.3 342,945.5 345.1,946.6 C348.2,947.7 356.2,950 358.1,950.8 C360,951.6 360.7,952.3 359.1,952.8 C357.5,953.3 349.2,954 346.1,954.5 C343,955 337,956.2 335.6,956.5Z" fill="#fff" stroke="#000" stroke-width="2.2" stroke-linejoin="round"/>
<g fill="#000"><circle cx="326.1" cy="893" r="2.75"/><circle cx="326.1" cy="927.9" r="2.75"/><circle cx="320.9" cy="936.2" r="2.75"/><circle cx="331.8" cy="933.1" r="2.75"/><circle cx="324.5" cy="928.9" r="2.75"/><circle cx="318.3" cy="943.5" r="2.75"/><circle cx="322.5" cy="945.5" r="2.75"/><circle cx="326.6" cy="946.6" r="2.75"/><circle cx="330.8" cy="946.6" r="2.75"/><circle cx="334.9" cy="947.6" r="2.75"/><circle cx="320.4" cy="948.7" r="2.75"/><circle cx="324.5" cy="949.7" r="2.75"/><circle cx="328.7" cy="950.7" r="2.75"/><circle cx="332.9" cy="949.7" r="2.75"/><circle cx="337" cy="950.7" r="2.75"/><circle cx="310" cy="949.2" r="2.75"/><circle cx="315.2" cy="951.8" r="2.75"/><circle cx="305.8" cy="953.9" r="2.75"/><circle cx="300.6" cy="952.8" r="2.75"/><circle cx="294.4" cy="951.8" r="2.75"/><circle cx="341.2" cy="953.9" r="2.75"/><circle cx="346.4" cy="947.6" r="2.75"/><circle cx="351.6" cy="951.8" r="2.75"/><circle cx="356.8" cy="956.5" r="2.75"/></g>
<path d="M422.5,954.4 C420.7,953.9 412.5,951.8 408.9,951 C405.3,950.2 396,949.3 395.5,948.6 C395,947.9 402.6,946.6 404.9,945.7 C407.2,944.8 410.3,942.9 413.1,942.1 C415.9,941.3 423.9,940.6 425.9,940 C427.9,939.4 427.9,938.1 427.9,937.5 C427.9,936.9 426.5,936 425.9,935.5 C425.3,935 423.8,934.1 423.4,933.5 C423,932.9 422.6,931.7 422.8,931 C423,930.3 424.2,929.1 424.9,928.5 C425.6,927.9 427.8,935.9 428.3,926.5 C428.8,917.1 428.6,867.4 428.3,858 C428,848.6 427,856.7 426.4,856.2 C425.8,855.7 424,854.9 423.9,854.4 C423.8,853.9 425.6,852.8 425.9,852.5 L431.9,852.5 C432.2,852.8 434,853.9 433.9,854.4 C433.8,854.9 432,855.7 431.4,856.2 C430.8,856.7 429.8,848.6 429.5,858 C429.2,867.4 429,917.1 429.5,926.5 C430,935.9 432.2,927.9 432.9,928.5 C433.6,929.1 434.8,930.3 435,931 C435.2,931.7 434.8,932.9 434.4,933.5 C434,934.1 432.5,935 431.9,935.5 C431.3,936 429.9,936.9 429.9,937.5 C429.9,938.1 429.9,939.4 431.9,940 C433.9,940.6 441.9,941.3 444.7,942.1 C447.5,942.9 450.6,944.8 452.9,945.7 C455.2,946.6 462.8,947.9 462.3,948.6 C461.8,949.3 452.5,950.2 448.9,951 C445.3,951.8 437.1,953.9 435.3,954.4Z" fill="#fff" stroke="#000" stroke-width="2.2" stroke-linejoin="round"/>
<path d="M400,948 H458" stroke="#555" stroke-width="1" stroke-dasharray="2.2,1.6"/>
<g fill="#fff" stroke="#000" stroke-width="1.25"><circle cx="428.9" cy="854.4" r="2.5"/><circle cx="427.7" cy="929.3" r="2.5"/><circle cx="431.2" cy="931.6" r="2.5"/><circle cx="404.9" cy="941" r="2.5"/><circle cx="411.9" cy="942.1" r="2.5"/><circle cx="418.4" cy="943.3" r="2.5"/><circle cx="425.4" cy="944.5" r="2.5"/><circle cx="431.8" cy="945.1" r="2.5"/><circle cx="438.3" cy="943.9" r="2.5"/><circle cx="444.7" cy="945.7" r="2.5"/><circle cx="452.9" cy="945.1" r="2.5"/><circle cx="396.7" cy="949.2" r="2.5"/><circle cx="404.9" cy="950.9" r="2.5"/><circle cx="411.9" cy="949.8" r="2.5"/><circle cx="418.9" cy="949.2" r="2.5"/><circle cx="425.4" cy="948" r="2.5"/><circle cx="433" cy="948.6" r="2.5"/><circle cx="439.4" cy="949.2" r="2.5"/><circle cx="445.9" cy="953.3" r="2.5"/><circle cx="459.9" cy="955.6" r="2.5"/></g>
<text x="4.6" y="998" font-size="21" font-weight="bold" fill="#000">H</text>
<path d="M42.8,1016.0 L42.8,1155.7 M41.9,1155.7 L248.6,1155.7 M38.8,1016.9 L42.8,1016.9 M38.8,1051.6 L42.8,1051.6 M38.8,1086.3 L42.8,1086.3 M38.8,1121 L42.8,1121 M38.8,1155.7 L42.8,1155.7 M94.2,1155.7 L94.2,1159.2 M197.1,1155.7 L197.1,1159.2" stroke="#000" stroke-width="1.8" fill="none"/>
<text x="36.3" y="1020.5" font-size="10" font-weight="bold" text-anchor="end" fill="#000">2.0</text>
<text x="36.3" y="1055.2" font-size="10" font-weight="bold" text-anchor="end" fill="#000">1.5</text>
<text x="36.3" y="1089.9" font-size="10" font-weight="bold" text-anchor="end" fill="#000">1.0</text>
<text x="36.3" y="1124.6" font-size="10" font-weight="bold" text-anchor="end" fill="#000">0.5</text>
<text x="36.3" y="1159.3" font-size="10" font-weight="bold" text-anchor="end" fill="#000">0.0</text>
<text x="94.2" y="1170.2" font-size="10.5" font-weight="bold" text-anchor="middle" fill="#000">control</text>
<text x="197.1" y="1170.2" font-size="10.5" font-weight="bold" text-anchor="middle" fill="#000">psoriasis</text>
<text x="12.1" y="1084.7" font-size="7.7" font-weight="bold" text-anchor="middle" transform="rotate(-90 12.1 1084.7)" fill="#000">GATA3<tspan baseline-shift="super" font-size="70%">+</tspan> <tspan font-style="italic">i</tspan>NKT cells /RORγt<tspan baseline-shift="super" font-size="70%">+</tspan> <tspan font-style="italic">i</tspan>NKT cells</text>
<path d="M94.7,1016.1 L194.4,1016.1" stroke="#000" stroke-width="1.5"/>
<text x="147.7" y="1014.5" font-size="16" text-anchor="middle" fill="#000">*</text>
<path d="M69.8,1142.4 C68.9,1141.9 64.5,1140.1 63.2,1139 C61.9,1137.9 60.3,1135.7 60.3,1134.1 C60.3,1132.5 61.5,1129.2 63.2,1127 C64.9,1124.8 70.1,1120 72.8,1117.5 C75.5,1115 81.9,1110.2 83.7,1108 C85.5,1105.8 85.8,1102.7 86.2,1101 C86.6,1099.3 86.5,1096.5 86.4,1094.9 C86.3,1093.3 85.5,1090.6 85.2,1089 C84.9,1087.4 84.2,1085.1 84.4,1083 C84.6,1080.9 85.7,1075.8 86.5,1073.5 C87.3,1071.2 89.3,1067.9 90.2,1066 C91.1,1064.1 93.1,1062.2 93.6,1059.2 C94.1,1056.2 93.8,1046.9 93.6,1043.8 C93.4,1040.7 92.2,1037.8 91.8,1036 C91.4,1034.2 90.6,1031.2 90.4,1030 C90.2,1028.8 90.6,1027.4 90.6,1027 L97.8,1027 C97.8,1027.4 98.2,1028.8 98,1030 C97.8,1031.2 97,1034.2 96.6,1036 C96.2,1037.8 95,1040.7 94.8,1043.8 C94.6,1046.9 94.3,1056.2 94.8,1059.2 C95.3,1062.2 97.3,1064.1 98.2,1066 C99.1,1067.9 101.1,1071.2 101.9,1073.5 C102.7,1075.8 103.8,1080.9 104,1083 C104.2,1085.1 103.5,1087.4 103.2,1089 C102.9,1090.6 102.1,1093.3 102,1094.9 C101.9,1096.5 101.8,1099.3 102.2,1101 C102.6,1102.7 102.9,1105.8 104.7,1108 C106.5,1110.2 112.9,1115 115.6,1117.5 C118.3,1120 123.5,1124.8 125.2,1127 C126.9,1129.2 128.1,1132.5 128.1,1134.1 C128.1,1135.7 126.5,1137.9 125.2,1139 C123.9,1140.1 119.5,1141.9 118.6,1142.4Z" fill="#fff" stroke="#000" stroke-width="2.2" stroke-linejoin="round"/>
<path d="M63,1130.3 H126" stroke="#555" stroke-width="1" stroke-dasharray="2.2,1.6"/>
<path d="M62,1136.5 H127" stroke="#999" stroke-width="1" stroke-dasharray="1,1.2"/>
<path d="M87,1095.1 H102" stroke="#999" stroke-width="1" stroke-dasharray="1,1.2"/>
<g fill="#000"><circle cx="94.2" cy="1028.3" r="2.75"/><circle cx="94.2" cy="1074.9" r="2.75"/><circle cx="101.4" cy="1083" r="2.75"/><circle cx="87.1" cy="1086.8" r="2.75"/><circle cx="101.4" cy="1104.4" r="2.75"/><circle cx="87.1" cy="1110.9" r="2.75"/><circle cx="94.2" cy="1121.3" r="2.75"/><circle cx="80.6" cy="1128.2" r="2.75"/><circle cx="94.2" cy="1130.3" r="2.75"/><circle cx="107.9" cy="1131.1" r="2.75"/><circle cx="66.9" cy="1132.3" r="2.75"/><circle cx="122.2" cy="1132.7" r="2.75"/><circle cx="66.9" cy="1136.5" r="2.75"/><circle cx="80.6" cy="1137.1" r="2.75"/><circle cx="94.2" cy="1137.4" r="2.75"/><circle cx="107.9" cy="1138.9" r="2.75"/><circle cx="122.2" cy="1142.4" r="2.75"/></g>
<path d="M203.9,1077.8 C204.1,1079 204.6,1082.1 204.9,1085.6 C205.2,1089.1 206,1097.3 206,1101.2 C206,1105.1 204.9,1108.5 204.9,1111.6 C204.9,1114.7 205.4,1119 206,1122 C206.6,1125 207.1,1129.1 209.1,1131.4 C211.1,1133.7 216.5,1135.7 219.5,1137.6 C222.5,1139.5 227.2,1142.2 228.9,1143.9 C230.6,1145.6 231.5,1147.5 231,1149.1 C230.5,1150.7 226.5,1153.5 225.7,1154.3 L170.6,1154.3 C169.7,1153.5 165.7,1150.5 164.9,1149.1 C164.1,1147.7 164.1,1146.5 165.4,1144.9 C166.7,1143.3 170.9,1140.4 173.7,1138.7 C176.5,1137 181.9,1135.4 184.1,1133.5 C186.3,1131.6 187.5,1128.9 188.3,1126.2 C189.1,1123.5 189.1,1118.9 189.3,1115.8 C189.5,1112.7 189.8,1109.2 189.8,1105.4 C189.8,1101.7 189.1,1094.9 189.3,1090.8 C189.5,1086.7 190.7,1079.8 190.9,1077.8Z" fill="#fff" stroke="#000" stroke-width="2.2" stroke-linejoin="round"/>
<path d="M172.7,1141.8 H225.7" stroke="#555" stroke-width="1" stroke-dasharray="2.2,1.6"/>
<path d="M168,1149.1 H228" stroke="#999" stroke-width="1" stroke-dasharray="1,1.2"/>
<path d="M191.4,1111.1 H202.9" stroke="#999" stroke-width="1" stroke-dasharray="1,1.2"/>
<g fill="#fff" stroke="#000" stroke-width="1.25"><circle cx="197.1" cy="1077.3" r="2.6"/><circle cx="197.1" cy="1086.6" r="2.6"/><circle cx="202.9" cy="1097.3" r="2.6"/><circle cx="191.9" cy="1104.1" r="2.6"/><circle cx="191.9" cy="1119.7" r="2.6"/><circle cx="202.9" cy="1118.4" r="2.6"/><circle cx="197.1" cy="1131.6" r="2.6"/><circle cx="180" cy="1141.3" r="2.6"/><circle cx="191.9" cy="1142" r="2.6"/><circle cx="202.9" cy="1144.4" r="2.6"/><circle cx="202.9" cy="1147.5" r="2.6"/><circle cx="214.8" cy="1145.1" r="2.6"/><circle cx="169" cy="1149.1" r="2.6"/><circle cx="180" cy="1149.1" r="2.6"/><circle cx="191.9" cy="1150.9" r="2.6"/><circle cx="214.8" cy="1152.2" r="2.6"/><circle cx="226.3" cy="1155.3" r="2.6"/></g>
<path d="M301.3,1017.5 L301.3,1154.9 M300.40000000000003,1154.9 L505.7,1154.9 M297.3,1018.4 L301.3,1018.4 M297.3,1063.9 L301.3,1063.9 M297.3,1109.4 L301.3,1109.4 M297.3,1154.9 L301.3,1154.9 M352.2,1154.9 L352.2,1158.4 M454.3,1154.9 L454.3,1158.4" stroke="#000" stroke-width="1.8" fill="none"/>
<text x="294.8" y="1022" font-size="10" font-weight="bold" text-anchor="end" fill="#000">0.6</text>
<text x="294.8" y="1067.5" font-size="10" font-weight="bold" text-anchor="end" fill="#000">0.4</text>
<text x="294.8" y="1113" font-size="10" font-weight="bold" text-anchor="end" fill="#000">0.2</text>
<text x="294.8" y="1158.5" font-size="10" font-weight="bold" text-anchor="end" fill="#000">0.0</text>
<text x="352.2" y="1170.2" font-size="10.5" font-weight="bold" text-anchor="middle" fill="#000">control</text>
<text x="454.3" y="1170.2" font-size="10.5" font-weight="bold" text-anchor="middle" fill="#000">psoriasis</text>
<text x="277.1" y="1082" font-size="7.7" font-weight="bold" text-anchor="middle" transform="rotate(-90 277.1 1082)" fill="#000">RORγt<tspan baseline-shift="super" font-size="70%">+</tspan> <tspan font-style="italic">i</tspan>NKT cells /T-bet<tspan baseline-shift="super" font-size="70%">+</tspan> <tspan font-style="italic">i</tspan>NKT cells</text>
<path d="M358,1020.2 L452.7,1020.2" stroke="#000" stroke-width="1.5"/>
<text x="406.5" y="1019.3" font-size="16" text-anchor="middle" fill="#000"><tspan letter-spacing="1.8">***</tspan></text>
<path d="M359.7,1072.7 C360.2,1074.7 362,1082.4 362.9,1086 C363.8,1089.6 365.4,1093.3 365.5,1096.4 C365.6,1099.5 362.9,1104.3 363.4,1106.8 C363.9,1109.3 366.7,1111.2 369.1,1113.1 C371.5,1115 377.2,1117.3 379.5,1119.3 C381.8,1121.3 384,1124.3 384.7,1126.6 C385.4,1128.9 384.4,1132.2 384.2,1134.9 C384,1137.6 384.1,1142 383.1,1144.3 C382.1,1146.6 379.2,1149.1 377.4,1150.5 C375.6,1151.9 372.1,1153.1 371.2,1153.6 L330.6,1153.6 C329.5,1153 324.8,1151.4 323.3,1149.5 C321.8,1147.6 321.2,1144.2 320.7,1141.1 C320.2,1138 319.3,1131.7 319.7,1128.7 C320.1,1125.7 321.4,1123.5 323.3,1121.4 C325.2,1119.3 330.2,1116.5 332.7,1114.6 C335.2,1112.7 339,1111.2 340,1108.9 C341,1106.6 339.1,1102.6 339.4,1099.5 C339.7,1096.4 341.1,1092.1 342,1088.1 C342.9,1084.1 344.7,1075 345.2,1072.7Z" fill="#fff" stroke="#000" stroke-width="2.2" stroke-linejoin="round"/>
<path d="M344,1108.7 H362" stroke="#999" stroke-width="1" stroke-dasharray="1,1.2"/>
<path d="M328.5,1128.9 H382.6" stroke="#555" stroke-width="1" stroke-dasharray="2.2,1.6"/>
<path d="M323.3,1143.6 H381.6" stroke="#999" stroke-width="1" stroke-dasharray="1,1.2"/>
<g fill="#000"><circle cx="352.2" cy="1073" r="2.75"/><circle cx="345.2" cy="1083.4" r="2.75"/><circle cx="358.9" cy="1091" r="2.75"/><circle cx="345.2" cy="1099.3" r="2.75"/><circle cx="358.9" cy="1101.6" r="2.75"/><circle cx="331.6" cy="1116.2" r="2.75"/><circle cx="358.9" cy="1117" r="2.75"/><circle cx="345.2" cy="1121.2" r="2.75"/><circle cx="372.7" cy="1122.4" r="2.75"/><circle cx="324.9" cy="1127.1" r="2.75"/><circle cx="338.4" cy="1129.2" r="2.75"/><circle cx="365.8" cy="1128.9" r="2.75"/><circle cx="352.2" cy="1134.4" r="2.75"/><circle cx="379.5" cy="1134.7" r="2.75"/><circle cx="365.8" cy="1138.2" r="2.75"/><circle cx="338.4" cy="1144.1" r="2.75"/><circle cx="331.6" cy="1146.6" r="2.75"/><circle cx="352.2" cy="1143.2" r="2.75"/><circle cx="345.2" cy="1149.5" r="2.75"/><circle cx="358.9" cy="1151.3" r="2.75"/><circle cx="372.7" cy="1153.4" r="2.75"/></g>
<path d="M461.3,1044.6 C462,1045.6 464.2,1049.3 466,1051.6 C467.8,1053.9 471.8,1057.7 473.3,1060 C474.8,1062.3 476,1064.9 475.9,1067.2 C475.8,1069.5 473.9,1073.1 472.7,1075.6 C471.5,1078.1 469,1081.2 468.1,1083.9 C467.2,1086.6 466.5,1090.6 467,1093.3 C467.5,1096 469.3,1099.1 471.2,1101.6 C473.1,1104.1 477.2,1107.6 479.5,1109.9 C481.8,1112.2 485.2,1115 486.3,1117.2 C487.4,1119.4 487.8,1122.5 486.8,1124.5 C485.8,1126.5 482.2,1128.8 479.5,1130.7 C476.8,1132.6 471.5,1135.4 469.1,1137 C466.7,1138.6 464.3,1140.7 463.4,1141.3 L444.6,1141.3 C443.3,1140.5 438.7,1137.8 435.8,1135.9 C432.9,1134 427.7,1130.9 425.4,1128.6 C423.1,1126.3 420.7,1122.8 420.7,1120.3 C420.7,1117.8 423.4,1114.3 425.4,1112 C427.3,1109.7 431.5,1107 433.7,1104.7 C435.9,1102.4 438.8,1099.1 440,1096.4 C441.2,1093.7 441.7,1089.5 441.5,1087 C441.3,1084.5 440.1,1081.9 438.9,1079.7 C437.7,1077.5 434.7,1074.7 433.7,1072.5 C432.7,1070.3 431.6,1067.4 432.2,1065.2 C432.8,1063 436.2,1059.9 437.9,1057.9 C439.6,1055.9 442.2,1053.6 443.6,1051.6 C445,1049.6 446.7,1045.6 447.3,1044.6Z" fill="#fff" stroke="#000" stroke-width="2.2" stroke-linejoin="round"/>
<path d="M434.8,1068.1 H474.8" stroke="#999" stroke-width="1" stroke-dasharray="1,1.2"/>
<path d="M432.7,1108.1 H477.4" stroke="#555" stroke-width="1" stroke-dasharray="2.2,1.6"/>
<path d="M423.3,1123.6 H484.7" stroke="#999" stroke-width="1" stroke-dasharray="1,1.2"/>
<g fill="#fff" stroke="#000" stroke-width="1.25"><circle cx="454.3" cy="1044.6" r="2.6"/><circle cx="454.3" cy="1056.3" r="2.6"/><circle cx="443.9" cy="1066.7" r="2.6"/><circle cx="450.9" cy="1066.7" r="2.6"/><circle cx="457.7" cy="1069.9" r="2.6"/><circle cx="464.4" cy="1065.2" r="2.6"/><circle cx="457.7" cy="1080.3" r="2.6"/><circle cx="450.9" cy="1084.9" r="2.6"/><circle cx="457.7" cy="1094.3" r="2.6"/><circle cx="450.9" cy="1101.4" r="2.6"/><circle cx="460.8" cy="1108.3" r="2.6"/><circle cx="447.2" cy="1111.5" r="2.6"/><circle cx="454.3" cy="1112" r="2.6"/><circle cx="454.3" cy="1117.2" r="2.6"/><circle cx="460.8" cy="1120.1" r="2.6"/><circle cx="447.2" cy="1121.9" r="2.6"/><circle cx="443.9" cy="1125.3" r="2.6"/><circle cx="450.9" cy="1126.5" r="2.6"/><circle cx="457.7" cy="1126.5" r="2.6"/><circle cx="464.4" cy="1131.5" r="2.6"/><circle cx="454.3" cy="1141.6" r="2.6"/></g>
<path d="M565.5,1018.4 L565.5,1153.8 M564.6,1153.8 L763,1153.8 M561.5,1019.3 L565.5,1019.3 M561.5,1052.9 L565.5,1052.9 M561.5,1086.5 L565.5,1086.5 M561.5,1120.2 L565.5,1120.2 M561.5,1153.8 L565.5,1153.8 M616.2,1153.8 L616.2,1157.3 M715.9,1153.8 L715.9,1157.3" stroke="#000" stroke-width="1.8" fill="none"/>
<text x="559" y="1022.9" font-size="10" font-weight="bold" text-anchor="end" fill="#000">0.8</text>
<text x="559" y="1056.5" font-size="10" font-weight="bold" text-anchor="end" fill="#000">0.6</text>
<text x="559" y="1090.1" font-size="10" font-weight="bold" text-anchor="end" fill="#000">0.4</text>
<text x="559" y="1123.8" font-size="10" font-weight="bold" text-anchor="end" fill="#000">0.2</text>
<text x="559" y="1157.4" font-size="10" font-weight="bold" text-anchor="end" fill="#000">0.0</text>
<text x="616.2" y="1168" font-size="10.5" font-weight="bold" text-anchor="middle" fill="#000">control</text>
<text x="715.9" y="1168" font-size="10.5" font-weight="bold" text-anchor="middle" fill="#000">psoriasis</text>
<text x="540.1" y="1088.8" font-size="7.7" font-weight="bold" text-anchor="middle" transform="rotate(-90 540.1 1088.8)" fill="#000">GATA3<tspan baseline-shift="super" font-size="70%">+</tspan> <tspan font-style="italic">i</tspan>NKT cells /T-bet<tspan baseline-shift="super" font-size="70%">+</tspan> <tspan font-style="italic">i</tspan>NKT cells</text>
<path d="M613.8,1021.2 L719.3,1021.2" stroke="#000" stroke-width="1.5"/>
<text x="667.9" y="1012.8" font-size="16.3" text-anchor="middle" fill="#000">ns</text>
<path d="M594.7,1152.5 C593.6,1152.1 587.6,1150.5 586.2,1149.2 C584.8,1147.9 583.4,1144.4 584.2,1142.5 C585,1140.6 589.5,1136.6 591.9,1134.8 C594.3,1133 600.1,1130.6 602.2,1129.3 C604.3,1128 607.2,1126.4 608,1124.9 C608.8,1123.4 608.4,1119.8 608.2,1118.3 C608,1116.8 606.8,1115.2 606.2,1114 C605.6,1112.8 603.3,1111.1 603.5,1109.5 C603.7,1107.9 606.2,1103.5 607.4,1101.7 C608.6,1099.9 611.1,1097.3 612.2,1096 C613.3,1094.7 615.1,1095.3 615.6,1091.8 C616.1,1088.3 615.8,1073.4 615.6,1069.7 C615.4,1066 614.4,1065.6 613.9,1064 C613.4,1062.4 612.4,1060.5 612.2,1058 C612,1055.5 612,1047.5 612.1,1045 C612.2,1042.5 612.5,1040.2 612.6,1039.5 L619.8,1039.5 C619.9,1040.2 620.2,1042.5 620.3,1045 C620.4,1047.5 620.4,1055.5 620.2,1058 C620,1060.5 619,1062.4 618.5,1064 C618,1065.6 617,1066 616.8,1069.7 C616.6,1073.4 616.3,1088.3 616.8,1091.8 C617.3,1095.3 619.1,1094.7 620.2,1096 C621.3,1097.3 623.8,1099.9 625,1101.7 C626.2,1103.5 628.7,1107.9 628.9,1109.5 C629.1,1111.1 626.8,1112.8 626.2,1114 C625.6,1115.2 624.4,1116.8 624.2,1118.3 C624,1119.8 623.6,1123.4 624.4,1124.9 C625.2,1126.4 628.1,1128 630.2,1129.3 C632.3,1130.6 638.1,1133 640.5,1134.8 C642.9,1136.6 647.4,1140.6 648.2,1142.5 C649,1144.4 647.6,1147.9 646.2,1149.2 C644.8,1150.5 638.8,1152.1 637.7,1152.5Z" fill="#fff" stroke="#000" stroke-width="2.2" stroke-linejoin="round"/>
<path d="M585,1140.4 H648" stroke="#555" stroke-width="1" stroke-dasharray="2.2,1.6"/>
<path d="M586,1148.3 H646" stroke="#999" stroke-width="1" stroke-dasharray="1,1.2"/>
<path d="M605,1112.2 H627" stroke="#999" stroke-width="1" stroke-dasharray="1,1.2"/>
<g fill="#000"><circle cx="616.2" cy="1040.5" r="2.75"/><circle cx="616.2" cy="1057.6" r="2.75"/><circle cx="602.1" cy="1107.8" r="2.75"/><circle cx="611.4" cy="1109.2" r="2.75"/><circle cx="620.8" cy="1113.3" r="2.75"/><circle cx="630.2" cy="1111.9" r="2.75"/><circle cx="639.6" cy="1134.3" r="2.75"/><circle cx="592.1" cy="1137" r="2.75"/><circle cx="602.1" cy="1140.3" r="2.75"/><circle cx="611.4" cy="1140.6" r="2.75"/><circle cx="620.8" cy="1139.8" r="2.75"/><circle cx="630.2" cy="1142.3" r="2.75"/><circle cx="635.2" cy="1145.9" r="2.75"/><circle cx="616.2" cy="1145.9" r="2.75"/><circle cx="587.7" cy="1148.3" r="2.75"/><circle cx="597.1" cy="1148.6" r="2.75"/><circle cx="606.5" cy="1150.3" r="2.75"/><circle cx="625.2" cy="1152.3" r="2.75"/><circle cx="644.6" cy="1153" r="2.75"/></g>
<path d="M689.9,1150.8 C689.4,1150.6 686.8,1150 685.9,1149.3 C685,1148.6 683,1147.2 683.4,1145.9 C683.8,1144.6 687.2,1141 688.9,1139.2 C690.6,1137.4 694.8,1134.4 696.1,1132.6 C697.4,1130.8 698,1127.9 698.9,1126 C699.8,1124.1 701.6,1120.8 702.6,1118.3 C703.6,1115.8 705.3,1110.1 706.2,1107.2 C707.1,1104.3 708.8,1099.1 709.6,1096.2 C710.4,1093.3 711.8,1087.7 712.3,1085.2 C712.8,1082.7 712.7,1079.2 713.1,1077.4 C713.5,1075.6 715,1073.5 715.3,1072 C715.6,1070.5 715.5,1067.7 715.3,1066.4 C715.1,1065.1 714.5,1063.3 714.1,1062 C713.7,1060.7 712.6,1058.1 712.3,1057 C712,1055.9 711.6,1054.3 711.7,1053.5 C711.8,1052.7 712.6,1051.3 712.7,1051 L719.1,1051 C719.2,1051.3 720,1052.7 720.1,1053.5 C720.2,1054.3 719.8,1055.9 719.5,1057 C719.2,1058.1 718.1,1060.7 717.7,1062 C717.3,1063.3 716.7,1065.1 716.5,1066.4 C716.3,1067.7 716.2,1070.5 716.5,1072 C716.8,1073.5 718.3,1075.6 718.7,1077.4 C719.1,1079.2 719,1082.7 719.5,1085.2 C720,1087.7 721.4,1093.3 722.2,1096.2 C723,1099.1 724.7,1104.3 725.6,1107.2 C726.5,1110.1 728.2,1115.8 729.2,1118.3 C730.2,1120.8 732,1124.1 732.9,1126 C733.8,1127.9 734.4,1130.8 735.7,1132.6 C737,1134.4 741.2,1137.4 742.9,1139.2 C744.6,1141 748,1144.6 748.4,1145.9 C748.8,1147.2 746.8,1148.6 745.9,1149.3 C745,1150 742.4,1150.6 741.9,1150.8Z" fill="#fff" stroke="#000" stroke-width="2.2" stroke-linejoin="round"/>
<path d="M697.6,1136.2 H736.3" stroke="#555" stroke-width="1" stroke-dasharray="2.2,1.6"/>
<path d="M707,1114.4 H720" stroke="#999" stroke-width="1" stroke-dasharray="1,1.2"/>
<g fill="#fff" stroke="#000" stroke-width="1.25"><circle cx="715.9" cy="1053.7" r="2.6"/><circle cx="715.9" cy="1084.6" r="2.6"/><circle cx="715.9" cy="1102.3" r="2.6"/><circle cx="711.8" cy="1108.6" r="2.6"/><circle cx="720.1" cy="1114.4" r="2.6"/><circle cx="703.2" cy="1125.8" r="2.6"/><circle cx="711.8" cy="1127.7" r="2.6"/><circle cx="720.1" cy="1128" r="2.6"/><circle cx="728.6" cy="1125.8" r="2.6"/><circle cx="711.8" cy="1136.2" r="2.6"/><circle cx="720.1" cy="1140.1" r="2.6"/><circle cx="720.1" cy="1145.3" r="2.6"/><circle cx="686.6" cy="1146.4" r="2.6"/><circle cx="694.9" cy="1146.7" r="2.6"/><circle cx="703.2" cy="1148.1" r="2.6"/><circle cx="711.8" cy="1146.4" r="2.6"/><circle cx="728.6" cy="1149.2" r="2.6"/><circle cx="736.8" cy="1145.6" r="2.6"/><circle cx="745.1" cy="1149.7" r="2.6"/></g>
</svg></body></html>
